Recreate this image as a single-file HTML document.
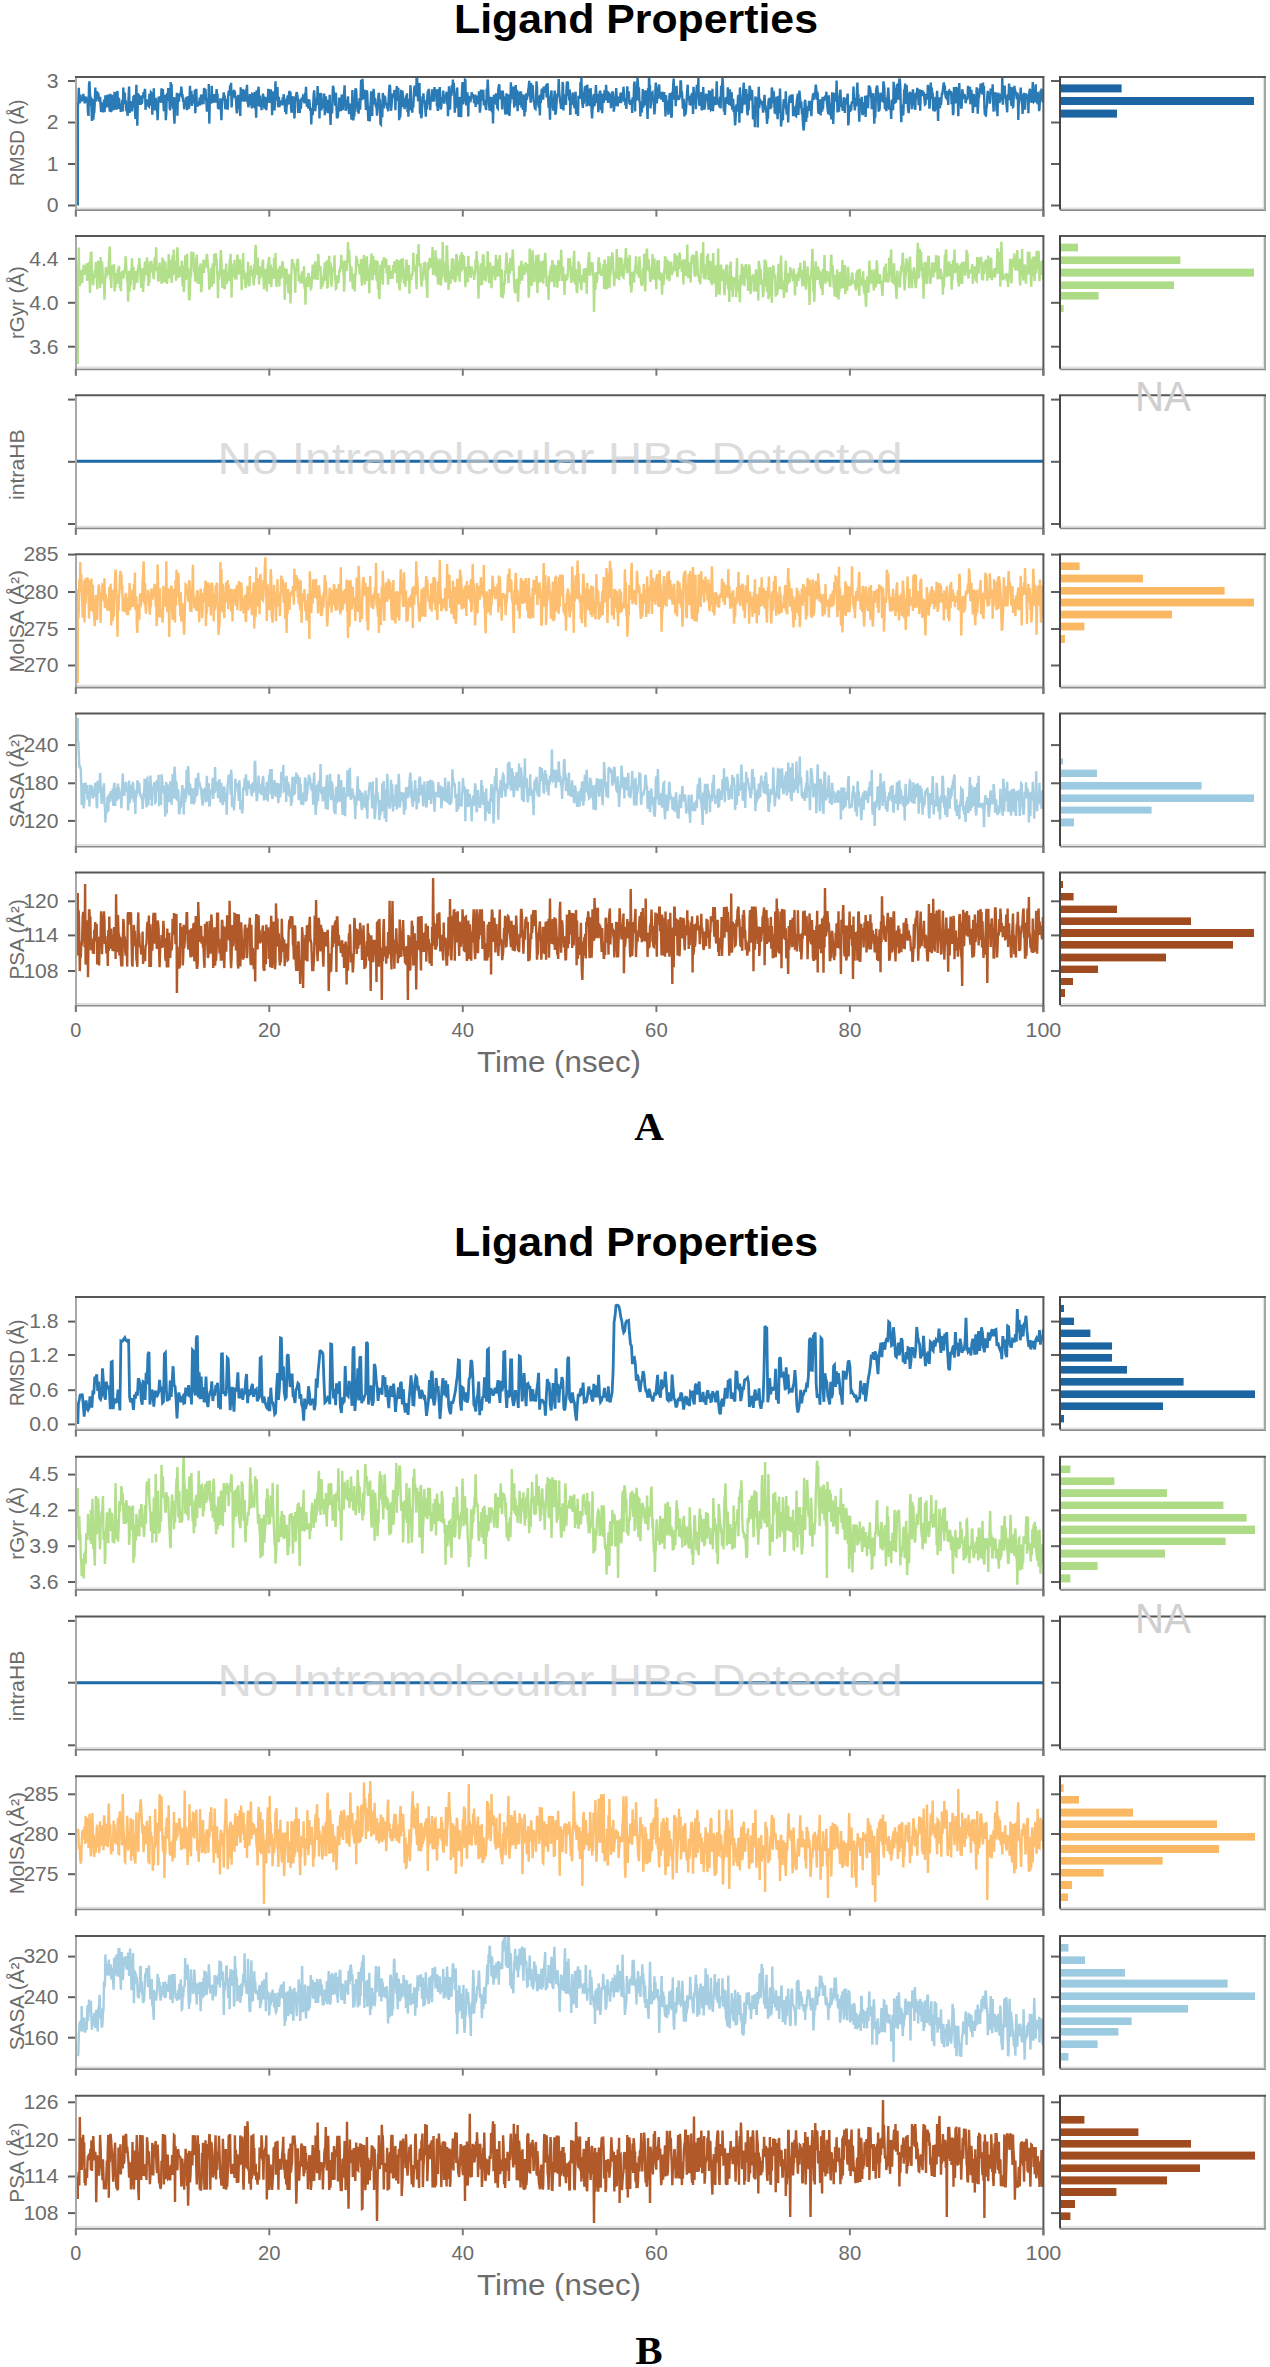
<!DOCTYPE html>
<html><head><meta charset="utf-8"><style>html,body{margin:0;padding:0;background:#fff;width:1270px;height:2367px;overflow:hidden}svg{display:block}</style></head>
<body>
<svg width="1270" height="2367" viewBox="0 0 1270 2367">
<rect x="0" y="0" width="1270" height="2367" fill="#fff"/>
<text x="636.0" y="33.0" font-family='"Liberation Sans", sans-serif' font-size="41" fill="#000" text-anchor="middle" font-weight="bold" textLength="364" lengthAdjust="spacingAndGlyphs">Ligand Properties</text>
<clipPath id="c1"><rect x="76.0" y="77.0" width="967.4000000000001" height="132.6"/></clipPath>
<polyline clip-path="url(#c1)" points="77.8,205.5 77.9,105.6 78.4,102.1 78.8,87.9 79.3,102.1 79.8,103.3 80.3,94.7 80.8,100.5 81.3,99.5 81.7,101.4 82.2,97.6 82.7,100.8 83.2,93.9 83.7,97.1 84.2,96.1 84.6,103.3 85.1,101.7 85.6,101.6 86.1,96.6 86.6,99.5 87.1,101.8 87.5,100.4 88.0,113.2 88.5,115.9 89.0,85.0 89.5,81.3 90.0,94.6 90.4,96.6 90.9,104.0 91.4,106.2 91.9,121.0 92.4,99.9 92.9,100.5 93.3,119.6 93.8,113.5 94.3,112.2 94.8,101.9 95.3,87.5 95.8,100.0 96.2,101.5 96.7,91.4 97.2,92.6 97.7,97.7 98.2,92.6 98.7,97.1 99.1,100.7 99.6,101.1 100.1,96.9 100.6,105.6 101.1,111.8 101.6,110.3 102.0,102.2 102.5,111.9 103.0,103.0 103.5,112.5 104.0,99.6 104.5,111.8 104.9,107.3 105.4,95.2 105.9,100.5 106.4,105.9 106.9,107.3 107.4,98.4 107.8,94.6 108.3,103.7 108.8,101.7 109.3,106.4 109.8,111.6 110.3,93.9 110.7,101.8 111.2,112.2 111.7,102.9 112.2,94.7 112.7,106.0 113.2,105.8 113.6,110.3 114.1,102.1 114.6,91.7 115.1,100.6 115.6,99.3 116.1,109.4 116.5,108.8 117.0,93.3 117.5,91.1 118.0,106.2 118.5,108.9 119.0,97.9 119.4,102.7 119.9,106.9 120.4,108.2 120.9,111.9 121.4,108.9 121.9,104.3 122.3,99.9 122.8,111.4 123.3,87.5 123.8,97.5 124.3,102.1 124.8,92.5 125.2,104.2 125.7,100.2 126.2,111.2 126.7,106.4 127.2,111.4 127.7,115.8 128.1,107.9 128.6,96.1 129.1,86.5 129.6,113.0 130.1,106.8 130.6,101.0 131.0,105.0 131.5,105.6 132.0,111.5 132.5,105.6 133.0,103.5 133.5,96.0 133.9,104.0 134.4,94.7 134.9,107.4 135.4,118.9 135.9,98.7 136.4,84.8 136.8,105.1 137.3,125.8 137.8,102.5 138.3,93.2 138.8,105.0 139.3,97.7 139.7,96.4 140.2,96.9 140.7,104.8 141.2,98.8 141.7,103.8 142.2,101.6 142.6,95.1 143.1,96.2 143.6,92.1 144.1,98.2 144.6,90.9 145.1,88.9 145.5,109.8 146.0,104.0 146.5,100.3 147.0,104.6 147.5,99.5 148.0,100.4 148.4,105.9 148.9,106.4 149.4,93.7 149.9,105.6 150.4,99.0 150.9,92.4 151.3,92.9 151.8,98.2 152.3,114.7 152.8,97.5 153.3,102.9 153.8,88.2 154.2,100.8 154.7,110.3 155.2,104.0 155.7,97.9 156.2,103.2 156.7,108.1 157.1,109.2 157.6,120.3 158.1,108.4 158.6,96.7 159.1,97.7 159.6,97.4 160.0,98.8 160.5,100.5 161.0,102.8 161.5,88.3 162.0,102.6 162.5,95.4 162.9,89.0 163.4,102.8 163.9,111.3 164.4,107.7 164.9,104.0 165.3,94.8 165.8,120.2 166.3,112.7 166.8,94.9 167.3,93.5 167.8,100.8 168.2,88.0 168.7,97.9 169.2,94.5 169.7,107.9 170.2,110.2 170.7,82.0 171.1,94.8 171.6,84.3 172.1,105.9 172.6,104.4 173.1,108.7 173.6,97.0 174.0,115.2 174.5,123.8 175.0,102.3 175.5,106.3 176.0,97.6 176.5,102.0 176.9,92.7 177.4,115.6 177.9,96.4 178.4,97.6 178.9,101.6 179.4,93.7 179.8,96.3 180.3,92.8 180.8,94.0 181.3,86.6 181.8,92.2 182.3,97.7 182.7,97.1 183.2,101.8 183.7,100.7 184.2,109.3 184.7,103.9 185.2,102.7 185.6,99.7 186.1,100.2 186.6,97.0 187.1,110.2 187.6,97.8 188.1,96.5 188.5,105.6 189.0,108.7 189.5,100.8 190.0,85.8 190.5,100.7 191.0,103.8 191.4,91.0 191.9,105.9 192.4,99.8 192.9,94.5 193.4,101.2 193.9,100.6 194.3,103.2 194.8,89.9 195.3,113.3 195.8,100.6 196.3,88.8 196.8,104.0 197.2,101.5 197.7,106.5 198.2,102.1 198.7,103.7 199.2,105.4 199.7,97.5 200.1,105.3 200.6,99.6 201.1,94.5 201.6,99.0 202.1,104.2 202.6,101.1 203.0,94.9 203.5,104.1 204.0,88.2 204.5,88.9 205.0,97.2 205.5,89.1 205.9,98.5 206.4,102.0 206.9,111.8 207.4,100.2 207.9,98.2 208.4,105.0 208.8,83.9 209.3,123.6 209.8,100.9 210.3,95.1 210.8,103.7 211.3,99.8 211.7,85.9 212.2,99.2 212.7,103.0 213.2,95.9 213.7,96.4 214.2,102.5 214.6,94.1 215.1,101.0 215.6,102.4 216.1,96.7 216.6,89.1 217.1,96.2 217.5,93.8 218.0,108.6 218.5,104.4 219.0,109.3 219.5,106.4 220.0,106.0 220.4,98.4 220.9,108.3 221.4,120.3 221.9,105.8 222.4,99.7 222.9,99.5 223.3,96.9 223.8,92.5 224.3,96.8 224.8,95.6 225.3,109.3 225.8,102.1 226.2,103.1 226.7,108.5 227.2,98.7 227.7,109.8 228.2,96.6 228.7,90.7 229.1,93.1 229.6,95.5 230.1,85.4 230.6,93.2 231.1,82.8 231.6,107.5 232.0,101.3 232.5,96.0 233.0,90.4 233.5,95.5 234.0,97.3 234.5,91.5 234.9,91.9 235.4,98.7 235.9,96.2 236.4,108.5 236.9,113.3 237.4,106.4 237.8,108.5 238.3,94.9 238.8,106.3 239.3,103.7 239.8,108.3 240.3,116.0 240.7,87.2 241.2,97.7 241.7,90.5 242.2,101.5 242.7,89.2 243.2,91.7 243.6,97.9 244.1,101.6 244.6,98.8 245.1,91.2 245.6,90.6 246.1,101.5 246.5,97.5 247.0,84.9 247.5,101.6 248.0,103.8 248.5,107.3 249.0,98.7 249.4,105.1 249.9,94.0 250.4,101.6 250.9,96.1 251.4,103.8 251.9,108.4 252.3,94.1 252.8,94.5 253.3,96.9 253.8,106.2 254.3,106.7 254.7,91.8 255.2,100.9 255.7,106.4 256.2,117.8 256.7,90.3 257.2,91.7 257.6,105.9 258.1,90.9 258.6,86.7 259.1,99.6 259.6,106.6 260.1,95.7 260.5,101.7 261.0,100.0 261.5,110.2 262.0,103.2 262.5,106.9 263.0,93.6 263.4,96.0 263.9,98.0 264.4,107.4 264.9,107.1 265.4,96.9 265.9,105.6 266.3,110.1 266.8,103.5 267.3,101.3 267.8,100.3 268.3,88.9 268.8,100.4 269.2,102.5 269.7,92.4 270.2,103.0 270.7,89.4 271.2,93.5 271.7,95.4 272.1,115.3 272.6,91.3 273.1,101.9 273.6,107.8 274.1,104.1 274.6,110.4 275.0,96.2 275.5,81.4 276.0,100.4 276.5,91.5 277.0,94.3 277.5,87.1 277.9,104.3 278.4,107.3 278.9,96.9 279.4,107.0 279.9,102.9 280.4,100.5 280.8,102.5 281.3,100.4 281.8,105.0 282.3,103.8 282.8,97.1 283.3,105.3 283.7,94.2 284.2,99.4 284.7,103.4 285.2,111.9 285.7,98.9 286.2,114.1 286.6,107.3 287.1,101.4 287.6,95.3 288.1,104.4 288.6,102.8 289.1,92.7 289.5,90.9 290.0,93.7 290.5,93.5 291.0,106.6 291.5,112.7 292.0,109.8 292.4,104.4 292.9,96.4 293.4,97.7 293.9,105.3 294.4,118.5 294.9,110.8 295.3,100.8 295.8,97.8 296.3,94.3 296.8,92.1 297.3,95.3 297.8,99.2 298.2,113.0 298.7,104.2 299.2,108.1 299.7,112.9 300.2,99.3 300.7,108.7 301.1,106.1 301.6,97.5 302.1,100.5 302.6,99.7 303.1,96.3 303.6,97.0 304.0,100.4 304.5,103.3 305.0,92.9 305.5,96.6 306.0,86.8 306.5,99.1 306.9,106.8 307.4,103.9 307.9,103.8 308.4,108.5 308.9,99.4 309.4,100.9 309.8,106.0 310.3,110.9 310.8,108.1 311.3,124.5 311.8,107.8 312.3,109.8 312.7,115.2 313.2,104.9 313.7,94.6 314.2,90.3 314.7,100.0 315.2,111.2 315.6,106.9 316.1,103.9 316.6,98.3 317.1,105.1 317.6,86.0 318.1,99.7 318.5,102.5 319.0,93.1 319.5,118.4 320.0,98.0 320.5,95.4 321.0,93.0 321.4,110.5 321.9,99.0 322.4,106.9 322.9,107.2 323.4,106.9 323.9,93.7 324.3,94.7 324.8,115.3 325.3,98.3 325.8,96.3 326.3,101.9 326.8,110.7 327.2,109.0 327.7,113.2 328.2,99.8 328.7,110.7 329.2,111.2 329.7,94.8 330.1,114.2 330.6,125.0 331.1,105.3 331.6,104.6 332.1,113.4 332.6,93.5 333.0,85.7 333.5,88.3 334.0,95.4 334.5,94.3 335.0,104.0 335.5,105.6 335.9,92.5 336.4,104.3 336.9,118.3 337.4,117.1 337.9,116.8 338.4,107.1 338.8,111.8 339.3,97.5 339.8,106.6 340.3,100.6 340.8,111.0 341.2,108.3 341.7,94.6 342.2,100.8 342.7,110.3 343.2,95.7 343.7,95.0 344.1,93.2 344.6,85.2 345.1,102.4 345.6,110.8 346.1,108.1 346.6,102.9 347.0,99.8 347.5,102.8 348.0,96.4 348.5,108.1 349.0,113.0 349.5,113.8 349.9,103.7 350.4,105.0 350.9,103.7 351.4,119.6 351.9,109.1 352.4,90.1 352.8,103.4 353.3,120.4 353.8,115.1 354.3,116.1 354.8,108.4 355.3,90.3 355.7,88.4 356.2,90.5 356.7,100.3 357.2,106.5 357.7,111.8 358.2,104.5 358.6,113.8 359.1,105.0 359.6,98.1 360.1,109.6 360.6,97.1 361.1,79.8 361.5,88.6 362.0,100.3 362.5,78.7 363.0,93.1 363.5,99.2 364.0,91.6 364.4,89.6 364.9,95.9 365.4,97.0 365.9,109.9 366.4,107.3 366.9,90.4 367.3,93.8 367.8,108.0 368.3,121.0 368.8,114.0 369.3,111.3 369.8,121.5 370.2,107.3 370.7,102.7 371.2,91.4 371.7,92.5 372.2,116.0 372.7,94.2 373.1,97.7 373.6,88.8 374.1,96.1 374.6,104.3 375.1,98.0 375.6,104.8 376.0,107.2 376.5,105.7 377.0,115.6 377.5,109.8 378.0,101.2 378.5,95.0 378.9,92.7 379.4,102.4 379.9,99.2 380.4,123.8 380.9,124.4 381.4,108.9 381.8,103.4 382.3,117.2 382.8,92.9 383.3,97.1 383.8,108.5 384.3,95.9 384.7,96.6 385.2,97.4 385.7,104.7 386.2,103.1 386.7,105.6 387.2,108.5 387.6,104.0 388.1,111.3 388.6,100.5 389.1,90.6 389.6,84.9 390.1,86.7 390.5,95.9 391.0,110.8 391.5,106.4 392.0,100.4 392.5,93.5 393.0,96.2 393.4,97.5 393.9,95.3 394.4,90.1 394.9,95.7 395.4,110.3 395.9,89.8 396.3,98.0 396.8,86.0 397.3,100.7 397.8,99.0 398.3,87.7 398.8,101.2 399.2,120.3 399.7,111.9 400.2,117.8 400.7,108.2 401.2,89.9 401.7,104.0 402.1,101.6 402.6,90.9 403.1,106.0 403.6,106.1 404.1,99.7 404.6,109.1 405.0,97.9 405.5,107.2 406.0,95.4 406.5,102.3 407.0,93.2 407.5,112.3 407.9,106.6 408.4,116.8 408.9,100.2 409.4,99.4 409.9,110.2 410.4,85.2 410.8,91.4 411.3,108.3 411.8,108.9 412.3,112.6 412.8,103.2 413.3,107.4 413.7,97.6 414.2,89.2 414.7,85.6 415.2,92.4 415.7,95.3 416.2,95.4 416.6,76.1 417.1,77.1 417.6,91.1 418.1,101.2 418.6,98.3 419.1,96.9 419.5,83.0 420.0,113.8 420.5,96.4 421.0,115.6 421.5,118.3 422.0,109.3 422.4,101.0 422.9,103.0 423.4,93.4 423.9,100.9 424.4,99.9 424.9,103.9 425.3,109.4 425.8,116.6 426.3,102.1 426.8,109.4 427.3,97.6 427.8,91.2 428.2,92.5 428.7,88.8 429.2,101.5 429.7,104.7 430.2,110.1 430.6,101.5 431.1,100.5 431.6,95.6 432.1,89.4 432.6,100.2 433.1,101.5 433.5,91.2 434.0,101.5 434.5,87.1 435.0,95.2 435.5,94.8 436.0,95.3 436.4,89.3 436.9,105.4 437.4,105.9 437.9,111.0 438.4,104.0 438.9,89.1 439.3,93.6 439.8,87.1 440.3,100.7 440.8,109.5 441.3,106.5 441.8,99.2 442.2,97.2 442.7,101.2 443.2,90.5 443.7,100.2 444.2,103.6 444.7,96.7 445.1,94.7 445.6,99.8 446.1,94.8 446.6,91.7 447.1,103.4 447.6,103.4 448.0,116.2 448.5,98.9 449.0,86.4 449.5,102.3 450.0,109.6 450.5,97.3 450.9,89.6 451.4,96.0 451.9,85.1 452.4,92.7 452.9,79.6 453.4,93.1 453.8,83.0 454.3,94.2 454.8,112.6 455.3,102.3 455.8,107.9 456.3,98.5 456.7,93.1 457.2,87.6 457.7,104.9 458.2,103.5 458.7,117.0 459.2,97.2 459.6,98.2 460.1,99.1 460.6,111.0 461.1,117.1 461.6,99.6 462.1,89.2 462.5,82.0 463.0,104.3 463.5,99.9 464.0,94.2 464.5,97.7 465.0,79.8 465.4,80.1 465.9,103.0 466.4,105.1 466.9,103.1 467.4,92.2 467.9,103.7 468.3,116.5 468.8,95.8 469.3,99.6 469.8,97.2 470.3,102.2 470.8,99.6 471.2,98.5 471.7,92.2 472.2,96.8 472.7,94.4 473.2,95.9 473.7,96.5 474.1,103.2 474.6,96.0 475.1,95.8 475.6,107.0 476.1,97.5 476.6,95.5 477.0,104.2 477.5,102.7 478.0,99.9 478.5,101.7 479.0,91.2 479.5,102.9 479.9,112.7 480.4,107.7 480.9,89.5 481.4,99.4 481.9,92.9 482.4,97.8 482.8,100.6 483.3,89.7 483.8,105.5 484.3,100.0 484.8,104.1 485.3,103.1 485.7,108.1 486.2,110.0 486.7,88.9 487.2,94.4 487.7,79.6 488.2,88.9 488.6,99.6 489.1,105.6 489.6,110.7 490.1,97.1 490.6,98.2 491.1,97.3 491.5,107.0 492.0,112.2 492.5,97.1 493.0,123.5 493.5,103.0 494.0,94.8 494.4,100.0 494.9,103.2 495.4,102.0 495.9,93.3 496.4,105.0 496.9,96.9 497.3,107.9 497.8,108.5 498.3,89.1 498.8,86.0 499.3,84.3 499.8,95.8 500.2,96.7 500.7,99.3 501.2,90.5 501.7,98.1 502.2,109.4 502.7,90.6 503.1,94.3 503.6,98.2 504.1,97.5 504.6,98.3 505.1,112.7 505.6,114.5 506.0,108.0 506.5,93.3 507.0,114.3 507.5,107.1 508.0,97.3 508.5,96.2 508.9,94.5 509.4,115.9 509.9,105.2 510.4,101.7 510.9,82.3 511.4,99.2 511.8,90.1 512.3,86.6 512.8,98.4 513.3,90.1 513.8,100.1 514.3,107.6 514.7,86.5 515.2,92.7 515.7,85.0 516.2,95.3 516.7,105.8 517.1,90.1 517.6,111.3 518.1,100.8 518.6,91.6 519.1,96.5 519.6,105.3 520.0,93.2 520.5,101.1 521.0,91.3 521.5,107.6 522.0,104.8 522.5,99.5 522.9,109.9 523.4,94.6 523.9,96.7 524.4,116.4 524.9,104.5 525.4,112.0 525.8,103.8 526.3,93.3 526.8,96.2 527.3,97.1 527.8,94.7 528.3,89.3 528.7,86.9 529.2,80.9 529.7,90.4 530.2,95.8 530.7,102.6 531.2,83.1 531.6,98.9 532.1,96.2 532.6,85.0 533.1,92.4 533.6,101.2 534.1,101.3 534.5,106.1 535.0,108.5 535.5,108.9 536.0,101.2 536.5,81.3 537.0,87.6 537.4,99.7 537.9,95.9 538.4,105.0 538.9,107.5 539.4,102.2 539.9,115.4 540.3,94.5 540.8,103.0 541.3,95.3 541.8,88.5 542.3,98.4 542.8,90.9 543.2,99.7 543.7,86.5 544.2,92.5 544.7,87.9 545.2,88.9 545.7,91.4 546.1,84.5 546.6,97.5 547.1,85.3 547.6,83.4 548.1,98.1 548.6,106.9 549.0,107.6 549.5,104.5 550.0,119.8 550.5,97.0 551.0,93.9 551.5,90.4 551.9,103.7 552.4,101.5 552.9,108.2 553.4,110.4 553.9,103.2 554.4,94.1 554.8,90.6 555.3,114.7 555.8,112.8 556.3,108.2 556.8,98.4 557.3,94.8 557.7,94.0 558.2,94.2 558.7,79.1 559.2,92.5 559.7,97.0 560.2,102.2 560.6,103.8 561.1,109.0 561.6,104.3 562.1,108.8 562.6,81.9 563.1,85.1 563.5,110.5 564.0,94.2 564.5,96.9 565.0,104.3 565.5,94.5 566.0,105.0 566.4,91.8 566.9,81.6 567.4,83.0 567.9,82.9 568.4,94.8 568.9,95.2 569.3,100.4 569.8,89.6 570.3,114.9 570.8,102.3 571.3,99.0 571.8,104.7 572.2,99.2 572.7,92.5 573.2,96.5 573.7,103.7 574.2,106.1 574.7,108.2 575.1,97.9 575.6,91.7 576.1,114.1 576.6,103.3 577.1,106.6 577.6,109.1 578.0,115.9 578.5,95.7 579.0,97.3 579.5,97.4 580.0,98.8 580.5,82.0 580.9,96.3 581.4,77.6 581.9,97.2 582.4,104.1 582.9,107.9 583.4,92.0 583.8,103.7 584.3,94.1 584.8,87.3 585.3,86.9 585.8,87.4 586.3,99.0 586.7,106.5 587.2,84.7 587.7,90.7 588.2,105.1 588.7,104.1 589.2,104.2 589.6,89.0 590.1,106.2 590.6,88.1 591.1,98.3 591.6,110.9 592.1,118.4 592.5,109.5 593.0,107.2 593.5,96.6 594.0,94.0 594.5,106.2 595.0,101.6 595.4,96.2 595.9,85.0 596.4,95.0 596.9,103.1 597.4,93.9 597.9,95.3 598.3,112.1 598.8,106.6 599.3,101.6 599.8,90.9 600.3,91.7 600.8,96.8 601.2,110.3 601.7,98.3 602.2,113.1 602.7,95.5 603.2,93.8 603.7,102.9 604.1,97.6 604.6,90.1 605.1,93.1 605.6,100.5 606.1,84.8 606.5,92.4 607.0,97.0 607.5,94.7 608.0,102.9 608.5,92.8 609.0,93.2 609.4,96.1 609.9,102.3 610.4,95.2 610.9,108.3 611.4,93.6 611.9,106.5 612.3,91.6 612.8,92.3 613.3,97.1 613.8,111.6 614.3,107.6 614.8,96.8 615.2,105.9 615.7,96.7 616.2,88.1 616.7,96.9 617.2,97.1 617.7,106.5 618.1,96.5 618.6,99.5 619.1,103.0 619.6,100.8 620.1,97.8 620.6,92.5 621.0,103.0 621.5,100.5 622.0,100.1 622.5,94.8 623.0,95.3 623.5,86.7 623.9,93.0 624.4,102.0 624.9,98.4 625.4,105.5 625.9,101.5 626.4,109.0 626.8,98.9 627.3,86.3 627.8,99.0 628.3,98.2 628.8,91.3 629.3,101.8 629.7,101.5 630.2,104.8 630.7,100.0 631.2,101.0 631.7,102.1 632.2,113.0 632.6,97.4 633.1,98.4 633.6,101.5 634.1,84.2 634.6,81.4 635.1,111.4 635.5,88.1 636.0,100.7 636.5,91.6 637.0,89.4 637.5,77.9 638.0,83.6 638.4,100.3 638.9,87.3 639.4,100.6 639.9,102.5 640.4,116.4 640.9,101.9 641.3,111.4 641.8,112.4 642.3,104.1 642.8,89.0 643.3,107.6 643.8,91.1 644.2,91.7 644.7,101.4 645.2,105.4 645.7,90.4 646.2,93.2 646.7,92.8 647.1,106.7 647.6,118.9 648.1,88.1 648.6,100.1 649.1,73.7 649.6,88.6 650.0,85.3 650.5,108.4 651.0,102.5 651.5,92.6 652.0,93.3 652.5,92.7 652.9,99.6 653.4,99.5 653.9,105.1 654.4,114.4 654.9,109.0 655.4,91.2 655.8,82.5 656.3,88.1 656.8,103.3 657.3,96.4 657.8,94.2 658.3,98.9 658.7,87.8 659.2,84.5 659.7,97.2 660.2,94.9 660.7,93.2 661.2,99.7 661.6,94.1 662.1,91.9 662.6,93.1 663.1,101.7 663.6,100.7 664.1,92.1 664.5,96.8 665.0,104.2 665.5,116.4 666.0,95.2 666.5,103.0 667.0,100.5 667.4,106.8 667.9,105.4 668.4,114.7 668.9,107.5 669.4,96.3 669.9,93.0 670.3,99.4 670.8,100.5 671.3,117.8 671.8,115.8 672.3,91.9 672.8,96.9 673.2,84.9 673.7,78.5 674.2,96.0 674.7,99.5 675.2,87.2 675.7,106.2 676.1,91.1 676.6,85.8 677.1,97.2 677.6,98.1 678.1,96.4 678.6,96.7 679.0,99.8 679.5,97.2 680.0,96.6 680.5,80.6 681.0,81.6 681.5,97.3 681.9,91.2 682.4,99.2 682.9,108.6 683.4,99.0 683.9,100.4 684.4,116.5 684.8,109.4 685.3,114.8 685.8,112.6 686.3,106.4 686.8,97.0 687.3,88.9 687.7,84.7 688.2,97.7 688.7,100.2 689.2,95.8 689.7,104.9 690.2,95.9 690.6,105.7 691.1,97.7 691.6,94.6 692.1,94.0 692.6,92.9 693.0,113.9 693.5,86.7 694.0,94.7 694.5,104.4 695.0,103.2 695.5,94.2 695.9,109.3 696.4,91.3 696.9,84.8 697.4,97.5 697.9,88.7 698.4,77.8 698.8,99.6 699.3,104.7 699.8,105.8 700.3,97.1 700.8,100.8 701.3,92.1 701.7,110.4 702.2,107.2 702.7,107.5 703.2,87.0 703.7,98.5 704.2,108.5 704.6,108.5 705.1,105.1 705.6,99.6 706.1,93.6 706.6,98.3 707.1,100.8 707.5,99.5 708.0,94.3 708.5,109.6 709.0,90.3 709.5,94.1 710.0,91.1 710.4,104.3 710.9,109.4 711.4,108.7 711.9,105.5 712.4,88.7 712.9,111.1 713.3,106.2 713.8,99.3 714.3,98.1 714.8,96.5 715.3,101.5 715.8,105.0 716.2,99.7 716.7,81.3 717.2,96.4 717.7,102.9 718.2,103.7 718.7,100.3 719.1,102.2 719.6,107.4 720.1,96.5 720.6,108.5 721.1,86.6 721.6,86.3 722.0,88.9 722.5,77.7 723.0,84.8 723.5,106.3 724.0,111.3 724.5,105.2 724.9,114.9 725.4,105.2 725.9,97.4 726.4,100.9 726.9,96.9 727.4,103.8 727.8,87.3 728.3,102.4 728.8,95.9 729.3,105.1 729.8,89.3 730.3,92.9 730.7,98.6 731.2,106.1 731.7,92.4 732.2,109.6 732.7,106.6 733.2,98.7 733.6,112.0 734.1,106.1 734.6,115.1 735.1,125.4 735.6,118.7 736.1,108.3 736.5,104.4 737.0,111.6 737.5,109.3 738.0,96.6 738.5,95.0 739.0,105.6 739.4,122.7 739.9,87.4 740.4,101.8 740.9,99.9 741.4,108.8 741.9,113.1 742.3,106.6 742.8,95.8 743.3,89.0 743.8,82.7 744.3,104.6 744.8,100.0 745.2,98.7 745.7,98.6 746.2,89.0 746.7,99.9 747.2,111.7 747.7,115.3 748.1,93.7 748.6,110.4 749.1,98.2 749.6,85.8 750.1,88.0 750.6,91.4 751.0,100.3 751.5,95.8 752.0,90.0 752.5,98.9 753.0,119.4 753.5,105.5 753.9,107.7 754.4,106.1 754.9,127.3 755.4,96.4 755.9,111.6 756.4,97.5 756.8,99.1 757.3,101.7 757.8,127.6 758.3,101.6 758.8,86.7 759.3,108.2 759.7,98.8 760.2,100.3 760.7,101.4 761.2,104.3 761.7,101.3 762.2,104.3 762.6,106.5 763.1,112.6 763.6,104.9 764.1,99.4 764.6,94.9 765.1,107.8 765.5,105.4 766.0,111.0 766.5,112.7 767.0,123.8 767.5,117.6 768.0,118.5 768.4,102.0 768.9,98.4 769.4,104.2 769.9,97.7 770.4,109.1 770.9,100.1 771.3,107.7 771.8,87.6 772.3,90.2 772.8,99.5 773.3,103.0 773.8,91.2 774.2,102.0 774.7,112.5 775.2,112.8 775.7,100.0 776.2,101.0 776.7,96.6 777.1,109.7 777.6,119.3 778.1,106.3 778.6,95.8 779.1,106.9 779.6,112.9 780.0,88.6 780.5,104.9 781.0,126.5 781.5,122.1 782.0,118.0 782.4,115.8 782.9,120.3 783.4,104.3 783.9,99.2 784.4,108.4 784.9,100.9 785.3,107.1 785.8,91.2 786.3,108.9 786.8,114.6 787.3,109.9 787.8,109.8 788.2,122.4 788.7,105.3 789.2,99.9 789.7,96.0 790.2,100.0 790.7,94.8 791.1,102.6 791.6,101.1 792.1,95.5 792.6,94.5 793.1,116.2 793.6,112.1 794.0,108.3 794.5,108.4 795.0,107.7 795.5,115.5 796.0,116.0 796.5,104.6 796.9,100.5 797.4,96.9 797.9,93.7 798.4,115.0 798.9,103.4 799.4,90.5 799.8,95.2 800.3,100.6 800.8,108.5 801.3,101.5 801.8,111.4 802.3,110.8 802.7,118.1 803.2,126.4 803.7,130.5 804.2,123.8 804.7,102.4 805.2,99.8 805.6,105.5 806.1,121.9 806.6,113.5 807.1,117.8 807.6,106.3 808.1,108.8 808.5,111.2 809.0,100.8 809.5,106.4 810.0,110.6 810.5,100.8 811.0,108.0 811.4,116.1 811.9,104.4 812.4,99.1 812.9,95.5 813.4,93.2 813.9,99.7 814.3,96.0 814.8,93.4 815.3,90.9 815.8,84.6 816.3,89.4 816.8,99.6 817.2,91.8 817.7,94.4 818.2,111.2 818.7,113.8 819.2,100.6 819.7,107.3 820.1,99.3 820.6,115.4 821.1,102.0 821.6,101.9 822.1,111.6 822.6,96.9 823.0,109.1 823.5,97.2 824.0,100.8 824.5,97.6 825.0,96.8 825.5,99.7 825.9,97.9 826.4,91.7 826.9,102.9 827.4,106.5 827.9,111.7 828.4,114.1 828.8,95.3 829.3,111.4 829.8,115.0 830.3,103.4 830.8,112.0 831.3,119.5 831.7,103.4 832.2,92.4 832.7,97.2 833.2,124.1 833.7,109.9 834.2,92.8 834.6,96.6 835.1,92.9 835.6,96.5 836.1,101.7 836.6,80.5 837.1,98.5 837.5,112.4 838.0,103.8 838.5,101.1 839.0,111.8 839.5,96.8 840.0,92.6 840.4,89.6 840.9,99.1 841.4,106.9 841.9,103.7 842.4,108.3 842.9,110.7 843.3,108.2 843.8,97.4 844.3,98.8 844.8,112.9 845.3,98.2 845.8,101.0 846.2,102.5 846.7,104.0 847.2,97.8 847.7,93.6 848.2,125.4 848.7,121.6 849.1,107.7 849.6,107.2 850.1,111.8 850.6,104.5 851.1,110.6 851.6,103.7 852.0,101.5 852.5,103.6 853.0,100.9 853.5,86.5 854.0,100.5 854.5,106.1 854.9,110.4 855.4,97.8 855.9,105.9 856.4,104.8 856.9,91.3 857.4,82.6 857.8,100.9 858.3,94.0 858.8,108.1 859.3,121.7 859.8,103.3 860.3,98.7 860.7,102.1 861.2,109.1 861.7,96.8 862.2,113.4 862.7,115.0 863.2,113.0 863.6,102.4 864.1,111.5 864.6,111.2 865.1,95.9 865.6,116.9 866.1,102.8 866.5,104.2 867.0,95.3 867.5,99.7 868.0,108.2 868.5,96.2 868.9,85.4 869.4,92.4 869.9,86.7 870.4,90.1 870.9,95.4 871.4,98.3 871.8,109.3 872.3,93.2 872.8,98.8 873.3,93.4 873.8,108.3 874.3,123.8 874.7,111.8 875.2,117.7 875.7,102.4 876.2,89.4 876.7,87.2 877.2,85.7 877.6,90.1 878.1,97.8 878.6,110.6 879.1,110.5 879.6,109.2 880.1,99.0 880.5,92.7 881.0,97.1 881.5,97.3 882.0,100.6 882.5,101.0 883.0,96.9 883.4,81.3 883.9,84.7 884.4,88.4 884.9,109.2 885.4,97.9 885.9,104.1 886.3,111.2 886.8,106.7 887.3,99.7 887.8,94.6 888.3,87.6 888.8,97.6 889.2,109.7 889.7,106.2 890.2,107.4 890.7,109.1 891.2,118.9 891.7,100.6 892.1,100.5 892.6,106.0 893.1,110.3 893.6,81.8 894.1,86.7 894.6,92.3 895.0,88.4 895.5,102.1 896.0,101.7 896.5,96.9 897.0,85.1 897.5,84.7 897.9,87.7 898.4,99.6 898.9,88.9 899.4,78.6 899.9,80.1 900.4,88.6 900.8,109.7 901.3,122.3 901.8,104.6 902.3,110.0 902.8,114.4 903.3,115.3 903.7,103.5 904.2,89.6 904.7,92.3 905.2,83.6 905.7,96.3 906.2,103.9 906.6,85.0 907.1,94.3 907.6,100.9 908.1,109.4 908.6,113.1 909.1,108.5 909.5,93.9 910.0,91.8 910.5,103.1 911.0,92.9 911.5,96.2 912.0,109.3 912.4,101.6 912.9,89.4 913.4,94.1 913.9,104.8 914.4,97.4 914.9,107.1 915.3,109.7 915.8,94.7 916.3,92.7 916.8,96.1 917.3,87.7 917.8,99.1 918.2,96.7 918.7,105.1 919.2,96.2 919.7,89.4 920.2,110.6 920.7,94.1 921.1,92.4 921.6,90.1 922.1,93.6 922.6,90.5 923.1,96.1 923.6,92.0 924.0,93.7 924.5,100.4 925.0,104.5 925.5,104.0 926.0,93.9 926.5,99.5 926.9,97.8 927.4,98.7 927.9,84.8 928.4,99.6 928.9,96.1 929.4,108.7 929.8,105.2 930.3,89.3 930.8,82.6 931.3,99.3 931.8,87.5 932.3,97.3 932.7,92.7 933.2,110.8 933.7,100.3 934.2,109.0 934.7,111.5 935.2,99.3 935.6,96.9 936.1,110.1 936.6,100.9 937.1,90.8 937.6,104.5 938.1,121.0 938.5,102.9 939.0,108.5 939.5,97.4 940.0,108.1 940.5,97.3 941.0,104.9 941.4,99.8 941.9,93.7 942.4,93.7 942.9,89.6 943.4,85.0 943.9,82.4 944.3,90.0 944.8,85.2 945.3,94.3 945.8,97.2 946.3,97.9 946.8,91.2 947.2,93.9 947.7,92.8 948.2,105.0 948.7,91.4 949.2,90.6 949.7,91.5 950.1,94.7 950.6,92.0 951.1,91.2 951.6,104.3 952.1,92.9 952.6,102.2 953.0,115.1 953.5,112.5 954.0,87.1 954.5,100.0 955.0,101.4 955.5,103.2 955.9,86.8 956.4,98.5 956.9,87.4 957.4,100.3 957.9,103.6 958.3,116.3 958.8,96.3 959.3,83.0 959.8,99.8 960.3,104.5 960.8,96.1 961.2,108.8 961.7,106.2 962.2,89.3 962.7,91.7 963.2,94.7 963.7,96.5 964.1,99.1 964.6,94.2 965.1,97.0 965.6,103.2 966.1,101.0 966.6,98.3 967.0,98.0 967.5,99.7 968.0,85.8 968.5,96.9 969.0,91.9 969.5,97.6 969.9,86.7 970.4,104.1 970.9,102.6 971.4,89.9 971.9,98.9 972.4,93.4 972.8,113.0 973.3,106.2 973.8,94.0 974.3,101.0 974.8,98.2 975.3,106.9 975.7,103.7 976.2,101.5 976.7,87.2 977.2,97.8 977.7,113.6 978.2,105.0 978.6,98.3 979.1,97.0 979.6,88.1 980.1,93.3 980.6,83.5 981.1,90.2 981.5,87.6 982.0,84.0 982.5,94.8 983.0,82.6 983.5,92.6 984.0,86.0 984.4,107.5 984.9,114.9 985.4,110.4 985.9,116.7 986.4,107.9 986.9,105.8 987.3,96.1 987.8,90.8 988.3,96.4 988.8,94.4 989.3,94.0 989.8,103.7 990.2,100.3 990.7,88.5 991.2,94.1 991.7,90.9 992.2,92.0 992.7,84.4 993.1,101.0 993.6,111.8 994.1,92.0 994.6,99.9 995.1,104.4 995.6,92.2 996.0,99.1 996.5,111.1 997.0,108.8 997.5,116.2 998.0,94.5 998.5,92.8 998.9,99.8 999.4,103.0 999.9,101.3 1000.4,97.0 1000.9,95.1 1001.4,94.0 1001.8,100.3 1002.3,75.5 1002.8,104.8 1003.3,95.4 1003.8,86.0 1004.3,97.2 1004.7,85.6 1005.2,98.3 1005.7,95.4 1006.2,102.9 1006.7,106.6 1007.2,112.3 1007.6,97.9 1008.1,94.2 1008.6,96.6 1009.1,83.6 1009.6,98.5 1010.1,99.7 1010.5,86.7 1011.0,101.6 1011.5,105.9 1012.0,87.3 1012.5,96.6 1013.0,106.8 1013.4,106.4 1013.9,92.9 1014.4,85.8 1014.9,92.5 1015.4,91.7 1015.9,94.2 1016.3,94.4 1016.8,99.4 1017.3,92.5 1017.8,95.2 1018.3,120.0 1018.8,101.5 1019.2,102.0 1019.7,98.7 1020.2,97.0 1020.7,87.5 1021.2,96.0 1021.7,95.8 1022.1,102.8 1022.6,113.9 1023.1,103.9 1023.6,107.2 1024.1,92.8 1024.6,96.4 1025.0,109.7 1025.5,100.3 1026.0,93.3 1026.5,96.9 1027.0,97.4 1027.5,95.8 1027.9,94.7 1028.4,113.2 1028.9,96.0 1029.4,92.0 1029.9,88.7 1030.4,100.2 1030.8,93.4 1031.3,102.8 1031.8,95.5 1032.3,94.4 1032.8,82.1 1033.3,100.2 1033.7,101.8 1034.2,101.2 1034.7,97.1 1035.2,94.4 1035.7,84.3 1036.2,101.2 1036.6,101.8 1037.1,98.4 1037.6,91.9 1038.1,95.8 1038.6,95.4 1039.1,111.1 1039.5,108.6 1040.0,98.2 1040.5,90.7 1041.0,94.3 1041.5,88.7 1042.0,94.7 1042.4,100.7 1042.9,102.4 1043.4,99.7" fill="none" stroke="#2a7ab6" stroke-width="2.4" stroke-linejoin="miter" stroke-miterlimit="3"/>
<line x1="75.0" y1="210.2" x2="1043.4" y2="210.2" stroke="#8c8c8c" stroke-width="1.8"/>
<line x1="77.0" y1="208.3" x2="1042.4" y2="208.3" stroke="#dedede" stroke-width="1.6"/>
<line x1="76.0" y1="77.0" x2="76.0" y2="216.6" stroke="#a9a9a9" stroke-width="2"/>
<line x1="75.0" y1="77.0" x2="1044.4" y2="77.0" stroke="#575757" stroke-width="2"/>
<line x1="1043.4" y1="77.0" x2="1043.4" y2="216.6" stroke="#575757" stroke-width="2"/>
<line x1="1060.0" y1="210.2" x2="1266.0" y2="210.2" stroke="#8c8c8c" stroke-width="1.8"/>
<line x1="1061.0" y1="208.3" x2="1264.0" y2="208.3" stroke="#e2e2e2" stroke-width="1.6"/>
<line x1="1265.0" y1="77.0" x2="1265.0" y2="209.6" stroke="#a5a5a5" stroke-width="2"/>
<line x1="1263.4" y1="78.0" x2="1263.4" y2="208.6" stroke="#e4e4e4" stroke-width="1.2"/>
<line x1="1059.0" y1="77.0" x2="1266.0" y2="77.0" stroke="#575757" stroke-width="2"/>
<line x1="1060.0" y1="77.0" x2="1060.0" y2="209.6" stroke="#454545" stroke-width="2"/>
<rect x="1061.0" y="84.4" width="60.6" height="8.0" fill="#1c65a3"/>
<rect x="1061.0" y="97.0" width="193.0" height="8.0" fill="#1c65a3"/>
<rect x="1061.0" y="109.6" width="56.0" height="8.0" fill="#1c65a3"/>
<line x1="68" y1="81.0" x2="75.0" y2="81.0" stroke="#5e5e5e" stroke-width="2"/>
<line x1="1051" y1="81.0" x2="1059.0" y2="81.0" stroke="#5e5e5e" stroke-width="2"/>
<text x="58.6" y="87.8" font-family='"Liberation Sans", sans-serif' font-size="19.8" fill="#6c6c6c" text-anchor="end" font-weight="normal" textLength="11.8" lengthAdjust="spacingAndGlyphs">3</text>
<line x1="68" y1="122.5" x2="75.0" y2="122.5" stroke="#5e5e5e" stroke-width="2"/>
<line x1="1051" y1="122.5" x2="1059.0" y2="122.5" stroke="#5e5e5e" stroke-width="2"/>
<text x="58.6" y="129.3" font-family='"Liberation Sans", sans-serif' font-size="19.8" fill="#6c6c6c" text-anchor="end" font-weight="normal" textLength="11.8" lengthAdjust="spacingAndGlyphs">2</text>
<line x1="68" y1="164.0" x2="75.0" y2="164.0" stroke="#5e5e5e" stroke-width="2"/>
<line x1="1051" y1="164.0" x2="1059.0" y2="164.0" stroke="#5e5e5e" stroke-width="2"/>
<text x="58.6" y="170.8" font-family='"Liberation Sans", sans-serif' font-size="19.8" fill="#6c6c6c" text-anchor="end" font-weight="normal" textLength="11.8" lengthAdjust="spacingAndGlyphs">1</text>
<line x1="68" y1="205.5" x2="75.0" y2="205.5" stroke="#5e5e5e" stroke-width="2"/>
<line x1="1051" y1="205.5" x2="1059.0" y2="205.5" stroke="#5e5e5e" stroke-width="2"/>
<text x="58.6" y="212.3" font-family='"Liberation Sans", sans-serif' font-size="19.8" fill="#6c6c6c" text-anchor="end" font-weight="normal" textLength="11.8" lengthAdjust="spacingAndGlyphs">0</text>
<line x1="75.8" y1="209.6" x2="75.8" y2="216.6" stroke="#7a7a7a" stroke-width="2"/>
<line x1="269.3" y1="209.6" x2="269.3" y2="216.6" stroke="#7a7a7a" stroke-width="2"/>
<line x1="462.8" y1="209.6" x2="462.8" y2="216.6" stroke="#7a7a7a" stroke-width="2"/>
<line x1="656.4" y1="209.6" x2="656.4" y2="216.6" stroke="#7a7a7a" stroke-width="2"/>
<line x1="849.9" y1="209.6" x2="849.9" y2="216.6" stroke="#7a7a7a" stroke-width="2"/>
<line x1="1043.4" y1="209.6" x2="1043.4" y2="216.6" stroke="#7a7a7a" stroke-width="2"/>
<text transform="translate(24.3,142.8) rotate(-90)" x="0" y="0" font-family='"Liberation Sans", sans-serif' font-size="19.5" fill="#6c6c6c" text-anchor="middle" textLength="86.5" lengthAdjust="spacingAndGlyphs">RMSD (Å)</text>
<clipPath id="c2"><rect x="76.0" y="236.1" width="967.4000000000001" height="132.6"/></clipPath>
<polyline clip-path="url(#c2)" points="77.8,364.0 77.9,267.6 78.4,266.3 78.8,247.6 79.3,280.8 79.8,286.1 80.3,275.1 80.8,283.6 81.3,278.9 81.7,269.9 82.2,282.9 82.7,272.5 83.2,270.0 83.7,264.8 84.2,273.9 84.6,270.7 85.1,274.8 85.6,265.8 86.1,271.4 86.6,263.3 87.1,280.8 87.5,276.3 88.0,275.5 88.5,277.1 89.0,261.7 89.5,275.7 90.0,293.0 90.4,262.6 90.9,252.0 91.4,252.8 91.9,275.1 92.4,275.6 92.9,285.2 93.3,283.4 93.8,276.2 94.3,274.8 94.8,270.1 95.3,277.9 95.8,262.1 96.2,264.0 96.7,272.0 97.2,289.1 97.7,268.6 98.2,260.9 98.7,263.8 99.1,277.7 99.6,270.5 100.1,287.9 100.6,257.0 101.1,278.7 101.6,283.6 102.0,261.3 102.5,269.5 103.0,282.3 103.5,278.7 104.0,284.7 104.5,299.8 104.9,285.4 105.4,275.6 105.9,267.1 106.4,277.5 106.9,271.1 107.4,272.0 107.8,270.8 108.3,275.0 108.8,262.6 109.3,255.4 109.8,246.4 110.3,276.3 110.7,275.9 111.2,288.2 111.7,275.0 112.2,265.2 112.7,275.1 113.2,273.8 113.6,264.6 114.1,265.7 114.6,291.4 115.1,285.5 115.6,285.6 116.1,278.4 116.5,272.7 117.0,283.9 117.5,278.1 118.0,268.5 118.5,272.6 119.0,265.8 119.4,274.9 119.9,288.3 120.4,272.2 120.9,291.2 121.4,274.7 121.9,278.4 122.3,270.8 122.8,276.9 123.3,278.6 123.8,274.3 124.3,270.6 124.8,269.5 125.2,266.3 125.7,256.4 126.2,265.3 126.7,274.7 127.2,281.0 127.7,283.2 128.1,301.6 128.6,283.7 129.1,271.0 129.6,291.7 130.1,271.8 130.6,285.8 131.0,269.4 131.5,276.8 132.0,258.2 132.5,279.6 133.0,275.0 133.5,266.8 133.9,290.0 134.4,287.6 134.9,279.8 135.4,270.9 135.9,273.3 136.4,271.6 136.8,281.1 137.3,282.6 137.8,270.7 138.3,267.4 138.8,268.2 139.3,258.1 139.7,264.9 140.2,271.0 140.7,280.3 141.2,287.8 141.7,270.1 142.2,276.5 142.6,268.1 143.1,291.9 143.6,278.8 144.1,281.8 144.6,266.6 145.1,261.5 145.5,268.9 146.0,267.5 146.5,275.2 147.0,257.3 147.5,275.6 148.0,265.1 148.4,285.9 148.9,273.0 149.4,282.9 149.9,261.4 150.4,272.6 150.9,262.5 151.3,262.2 151.8,267.4 152.3,263.7 152.8,269.7 153.3,275.9 153.8,279.1 154.2,270.9 154.7,258.4 155.2,257.9 155.7,263.2 156.2,247.4 156.7,271.3 157.1,268.2 157.6,266.6 158.1,279.9 158.6,281.3 159.1,275.3 159.6,262.6 160.0,273.4 160.5,276.4 161.0,266.2 161.5,283.8 162.0,281.9 162.5,257.6 162.9,269.2 163.4,260.1 163.9,280.8 164.4,282.2 164.9,264.6 165.3,261.5 165.8,271.0 166.3,269.0 166.8,283.7 167.3,281.5 167.8,269.8 168.2,276.1 168.7,254.1 169.2,268.4 169.7,278.1 170.2,270.0 170.7,259.7 171.1,268.2 171.6,282.9 172.1,272.1 172.6,255.2 173.1,275.4 173.6,249.5 174.0,267.1 174.5,261.0 175.0,273.2 175.5,260.8 176.0,280.6 176.5,275.7 176.9,255.6 177.4,247.2 177.9,260.1 178.4,277.8 178.9,272.2 179.4,270.1 179.8,266.0 180.3,276.4 180.8,274.3 181.3,273.5 181.8,260.7 182.3,280.0 182.7,286.1 183.2,265.3 183.7,292.1 184.2,286.4 184.7,273.6 185.2,255.3 185.6,275.2 186.1,279.8 186.6,269.2 187.1,253.8 187.6,277.7 188.1,270.4 188.5,267.8 189.0,299.1 189.5,299.2 190.0,290.4 190.5,272.3 191.0,277.3 191.4,251.6 191.9,265.2 192.4,261.2 192.9,257.0 193.4,252.4 193.9,271.1 194.3,272.0 194.8,273.0 195.3,281.7 195.8,268.1 196.3,260.8 196.8,254.6 197.2,267.4 197.7,283.4 198.2,278.8 198.7,284.0 199.2,267.3 199.7,269.7 200.1,267.5 200.6,263.3 201.1,292.3 201.6,289.9 202.1,275.5 202.6,268.7 203.0,272.4 203.5,259.5 204.0,272.9 204.5,260.7 205.0,265.8 205.5,261.3 205.9,267.5 206.4,259.2 206.9,253.8 207.4,258.8 207.9,264.2 208.4,270.1 208.8,274.6 209.3,289.6 209.8,287.0 210.3,277.0 210.8,281.7 211.3,267.9 211.7,286.6 212.2,282.3 212.7,263.2 213.2,279.4 213.7,283.9 214.2,254.0 214.6,260.6 215.1,265.7 215.6,253.0 216.1,258.4 216.6,259.4 217.1,273.9 217.5,275.6 218.0,298.2 218.5,274.0 219.0,279.9 219.5,273.1 220.0,273.5 220.4,260.0 220.9,250.0 221.4,259.2 221.9,274.6 222.4,288.0 222.9,284.1 223.3,282.4 223.8,269.2 224.3,288.0 224.8,289.1 225.3,271.4 225.8,271.5 226.2,263.6 226.7,284.2 227.2,279.1 227.7,272.6 228.2,277.5 228.7,281.3 229.1,274.0 229.6,262.5 230.1,259.3 230.6,253.9 231.1,275.4 231.6,297.6 232.0,266.1 232.5,273.5 233.0,276.7 233.5,263.5 234.0,270.8 234.5,259.8 234.9,279.4 235.4,267.8 235.9,271.9 236.4,279.6 236.9,270.7 237.4,254.6 237.8,259.3 238.3,274.2 238.8,271.7 239.3,272.3 239.8,259.2 240.3,265.8 240.7,274.8 241.2,271.2 241.7,290.2 242.2,272.9 242.7,263.8 243.2,253.1 243.6,275.2 244.1,270.7 244.6,278.2 245.1,278.2 245.6,287.6 246.1,286.7 246.5,272.9 247.0,276.0 247.5,282.6 248.0,261.7 248.5,281.4 249.0,285.0 249.4,286.1 249.9,275.2 250.4,277.4 250.9,265.5 251.4,272.5 251.9,269.8 252.3,274.8 252.8,269.2 253.3,277.2 253.8,285.5 254.3,264.6 254.7,278.8 255.2,253.4 255.7,244.9 256.2,262.8 256.7,269.8 257.2,274.9 257.6,257.8 258.1,267.7 258.6,274.0 259.1,284.4 259.6,275.4 260.1,278.8 260.5,266.4 261.0,268.9 261.5,267.5 262.0,276.6 262.5,262.5 263.0,259.6 263.4,274.3 263.9,289.2 264.4,277.7 264.9,276.1 265.4,268.7 265.9,280.9 266.3,280.7 266.8,291.5 267.3,281.0 267.8,265.0 268.3,264.3 268.8,259.5 269.2,256.9 269.7,282.2 270.2,283.9 270.7,264.5 271.2,287.2 271.7,280.3 272.1,267.7 272.6,278.2 273.1,277.3 273.6,270.4 274.1,257.9 274.6,271.0 275.0,278.9 275.5,252.9 276.0,278.1 276.5,287.0 277.0,277.8 277.5,280.2 277.9,277.9 278.4,268.6 278.9,269.5 279.4,286.4 279.9,265.9 280.4,275.7 280.8,279.3 281.3,270.6 281.8,270.9 282.3,261.4 282.8,262.9 283.3,272.6 283.7,277.8 284.2,267.8 284.7,299.7 285.2,276.2 285.7,274.8 286.2,270.5 286.6,268.8 287.1,284.2 287.6,273.7 288.1,289.6 288.6,293.3 289.1,274.3 289.5,288.7 290.0,276.2 290.5,303.4 291.0,281.6 291.5,271.2 292.0,259.2 292.4,260.0 292.9,267.3 293.4,266.5 293.9,263.2 294.4,269.2 294.9,274.6 295.3,292.7 295.8,268.2 296.3,270.6 296.8,267.5 297.3,261.6 297.8,258.7 298.2,263.0 298.7,281.2 299.2,277.7 299.7,274.7 300.2,282.4 300.7,282.4 301.1,277.7 301.6,281.1 302.1,271.4 302.6,282.1 303.1,282.7 303.6,275.7 304.0,266.3 304.5,288.6 305.0,282.3 305.5,304.8 306.0,282.0 306.5,286.1 306.9,277.1 307.4,281.0 307.9,286.9 308.4,272.9 308.9,276.2 309.4,279.3 309.8,278.9 310.3,283.9 310.8,288.8 311.3,288.2 311.8,281.0 312.3,273.1 312.7,264.8 313.2,265.8 313.7,268.1 314.2,279.5 314.7,273.0 315.2,261.2 315.6,279.5 316.1,269.3 316.6,265.4 317.1,270.8 317.6,279.9 318.1,254.0 318.5,256.7 319.0,269.1 319.5,270.8 320.0,266.2 320.5,267.3 321.0,289.2 321.4,277.0 321.9,283.3 322.4,286.7 322.9,276.0 323.4,283.1 323.9,273.9 324.3,270.7 324.8,262.4 325.3,280.6 325.8,272.8 326.3,268.4 326.8,260.3 327.2,287.2 327.7,286.9 328.2,276.8 328.7,267.5 329.2,255.8 329.7,270.5 330.1,273.2 330.6,262.5 331.1,282.3 331.6,286.6 332.1,270.8 332.6,268.0 333.0,266.9 333.5,272.5 334.0,270.4 334.5,255.2 335.0,278.4 335.5,278.0 335.9,288.7 336.4,288.2 336.9,275.2 337.4,278.1 337.9,282.0 338.4,283.3 338.8,276.2 339.3,269.5 339.8,272.2 340.3,267.2 340.8,266.5 341.2,254.7 341.7,269.4 342.2,260.5 342.7,263.2 343.2,270.0 343.7,275.2 344.1,291.6 344.6,278.5 345.1,260.5 345.6,266.7 346.1,264.0 346.6,271.1 347.0,263.1 347.5,259.5 348.0,242.0 348.5,262.5 349.0,249.7 349.5,258.0 349.9,266.0 350.4,281.7 350.9,269.9 351.4,266.2 351.9,275.9 352.4,280.5 352.8,289.0 353.3,281.3 353.8,273.6 354.3,287.1 354.8,291.4 355.3,274.9 355.7,274.5 356.2,255.9 356.7,261.8 357.2,259.2 357.7,266.5 358.2,265.4 358.6,265.3 359.1,265.9 359.6,273.4 360.1,273.4 360.6,266.4 361.1,259.1 361.5,278.7 362.0,285.7 362.5,274.2 363.0,280.2 363.5,261.3 364.0,255.1 364.4,262.9 364.9,284.5 365.4,263.7 365.9,258.4 366.4,281.0 366.9,256.3 367.3,271.8 367.8,275.6 368.3,269.6 368.8,271.8 369.3,293.4 369.8,267.2 370.2,264.3 370.7,265.2 371.2,258.3 371.7,253.4 372.2,280.2 372.7,277.5 373.1,256.2 373.6,260.7 374.1,271.6 374.6,274.8 375.1,260.2 375.6,266.6 376.0,272.8 376.5,278.3 377.0,280.9 377.5,260.5 378.0,289.2 378.5,280.1 378.9,294.2 379.4,299.2 379.9,283.7 380.4,264.9 380.9,278.9 381.4,272.6 381.8,268.3 382.3,260.7 382.8,284.8 383.3,270.1 383.8,257.2 384.3,262.8 384.7,258.0 385.2,267.6 385.7,265.7 386.2,258.8 386.7,273.5 387.2,266.0 387.6,275.3 388.1,284.7 388.6,270.7 389.1,265.2 389.6,269.7 390.1,279.0 390.5,273.3 391.0,271.8 391.5,270.7 392.0,273.2 392.5,278.8 393.0,268.1 393.4,265.2 393.9,269.5 394.4,261.4 394.9,266.7 395.4,273.3 395.9,270.7 396.3,263.3 396.8,259.4 397.3,283.0 397.8,281.0 398.3,262.4 398.8,260.4 399.2,285.4 399.7,290.5 400.2,276.8 400.7,282.3 401.2,259.1 401.7,268.7 402.1,278.7 402.6,258.4 403.1,261.3 403.6,278.3 404.1,283.9 404.6,270.0 405.0,271.2 405.5,286.6 406.0,272.0 406.5,259.6 407.0,267.3 407.5,265.3 407.9,280.6 408.4,274.5 408.9,265.0 409.4,293.8 409.9,273.7 410.4,276.4 410.8,278.6 411.3,280.0 411.8,274.3 412.3,275.8 412.8,269.8 413.3,252.7 413.7,262.2 414.2,265.2 414.7,268.2 415.2,271.7 415.7,265.6 416.2,282.2 416.6,289.2 417.1,254.0 417.6,264.0 418.1,262.3 418.6,244.3 419.1,266.3 419.5,264.5 420.0,264.6 420.5,264.5 421.0,279.1 421.5,286.6 422.0,279.2 422.4,281.0 422.9,272.7 423.4,272.7 423.9,262.9 424.4,266.6 424.9,261.7 425.3,273.7 425.8,279.8 426.3,278.8 426.8,286.3 427.3,298.0 427.8,262.2 428.2,270.6 428.7,267.5 429.2,266.9 429.7,257.7 430.2,267.2 430.6,267.0 431.1,265.5 431.6,264.7 432.1,262.5 432.6,247.0 433.1,275.0 433.5,270.9 434.0,262.3 434.5,273.1 435.0,267.4 435.5,250.3 436.0,276.2 436.4,257.4 436.9,262.6 437.4,269.5 437.9,283.0 438.4,284.3 438.9,274.6 439.3,261.6 439.8,258.7 440.3,274.8 440.8,285.6 441.3,280.1 441.8,265.7 442.2,277.6 442.7,242.0 443.2,263.7 443.7,262.2 444.2,271.5 444.7,272.1 445.1,279.4 445.6,282.3 446.1,275.1 446.6,246.6 447.1,245.7 447.6,264.8 448.0,267.9 448.5,289.9 449.0,277.9 449.5,271.3 450.0,280.7 450.5,283.7 450.9,270.9 451.4,273.6 451.9,259.8 452.4,258.4 452.9,279.1 453.4,259.3 453.8,275.5 454.3,279.0 454.8,280.9 455.3,281.2 455.8,278.5 456.3,254.0 456.7,255.3 457.2,260.4 457.7,276.4 458.2,262.6 458.7,261.4 459.2,263.7 459.6,281.6 460.1,260.0 460.6,255.0 461.1,272.1 461.6,252.3 462.1,269.6 462.5,267.2 463.0,254.7 463.5,260.1 464.0,256.1 464.5,267.9 465.0,274.0 465.4,287.2 465.9,276.1 466.4,272.5 466.9,266.7 467.4,270.3 467.9,282.3 468.3,255.9 468.8,271.8 469.3,265.5 469.8,270.5 470.3,272.0 470.8,277.9 471.2,272.4 471.7,266.5 472.2,271.7 472.7,272.6 473.2,270.9 473.7,272.8 474.1,280.0 474.6,274.3 475.1,272.7 475.6,259.5 476.1,266.1 476.6,251.1 477.0,269.5 477.5,260.5 478.0,279.2 478.5,298.4 479.0,277.2 479.5,285.5 479.9,279.7 480.4,267.9 480.9,263.4 481.4,274.8 481.9,285.1 482.4,277.9 482.8,256.4 483.3,254.4 483.8,261.8 484.3,279.8 484.8,275.2 485.3,273.7 485.7,281.5 486.2,267.8 486.7,266.3 487.2,266.0 487.7,251.3 488.2,270.4 488.6,275.9 489.1,283.1 489.6,264.3 490.1,262.3 490.6,279.3 491.1,280.2 491.5,288.1 492.0,269.0 492.5,274.7 493.0,265.8 493.5,273.1 494.0,265.8 494.4,273.8 494.9,279.8 495.4,279.0 495.9,254.7 496.4,275.2 496.9,276.5 497.3,262.2 497.8,259.3 498.3,268.0 498.8,276.3 499.3,268.9 499.8,255.1 500.2,269.5 500.7,274.2 501.2,297.0 501.7,269.3 502.2,295.6 502.7,298.1 503.1,285.3 503.6,294.5 504.1,282.1 504.6,284.9 505.1,270.2 505.6,273.3 506.0,261.2 506.5,252.6 507.0,263.4 507.5,262.7 508.0,274.2 508.5,283.2 508.9,272.9 509.4,271.4 509.9,273.1 510.4,257.8 510.9,268.3 511.4,269.7 511.8,269.6 512.3,259.3 512.8,249.5 513.3,262.2 513.8,274.3 514.3,287.8 514.7,290.1 515.2,293.2 515.7,284.6 516.2,289.4 516.7,278.9 517.1,283.2 517.6,287.9 518.1,301.6 518.6,288.3 519.1,265.7 519.6,284.2 520.0,269.1 520.5,270.1 521.0,267.0 521.5,260.5 522.0,280.5 522.5,276.6 522.9,264.5 523.4,269.1 523.9,265.1 524.4,274.8 524.9,268.9 525.4,262.5 525.8,263.3 526.3,265.9 526.8,272.3 527.3,264.1 527.8,270.7 528.3,276.1 528.7,297.7 529.2,289.4 529.7,248.6 530.2,259.5 530.7,262.8 531.2,272.0 531.6,285.9 532.1,281.9 532.6,250.3 533.1,266.1 533.6,267.9 534.1,270.7 534.5,282.2 535.0,262.6 535.5,277.0 536.0,255.4 536.5,266.0 537.0,272.1 537.4,293.1 537.9,271.7 538.4,254.6 538.9,271.0 539.4,262.6 539.9,282.5 540.3,266.9 540.8,261.3 541.3,280.6 541.8,274.3 542.3,281.3 542.8,260.6 543.2,283.8 543.7,269.9 544.2,277.4 544.7,260.8 545.2,252.9 545.7,263.1 546.1,269.9 546.6,286.8 547.1,282.1 547.6,287.0 548.1,282.3 548.6,299.9 549.0,275.5 549.5,283.2 550.0,270.5 550.5,271.4 551.0,266.3 551.5,281.8 551.9,266.1 552.4,260.2 552.9,269.5 553.4,264.8 553.9,280.8 554.4,287.2 554.8,272.4 555.3,276.9 555.8,266.5 556.3,266.9 556.8,267.9 557.3,287.8 557.7,276.4 558.2,261.9 558.7,260.2 559.2,281.3 559.7,260.7 560.2,267.1 560.6,270.8 561.1,249.7 561.6,263.2 562.1,280.9 562.6,277.6 563.1,266.5 563.5,277.3 564.0,279.8 564.5,294.9 565.0,275.4 565.5,275.5 566.0,277.6 566.4,276.7 566.9,278.9 567.4,278.2 567.9,271.7 568.4,258.0 568.9,265.2 569.3,259.9 569.8,259.7 570.3,265.2 570.8,276.3 571.3,282.9 571.8,266.3 572.2,274.0 572.7,281.7 573.2,276.0 573.7,259.0 574.2,250.7 574.7,276.9 575.1,284.3 575.6,283.0 576.1,269.3 576.6,291.0 577.1,293.0 577.6,282.0 578.0,278.7 578.5,261.3 579.0,281.3 579.5,263.5 580.0,279.4 580.5,284.1 580.9,278.1 581.4,290.2 581.9,274.7 582.4,278.0 582.9,282.1 583.4,276.0 583.8,268.5 584.3,282.5 584.8,277.8 585.3,269.8 585.8,268.5 586.3,270.5 586.7,293.8 587.2,277.2 587.7,269.8 588.2,261.8 588.7,257.1 589.2,252.1 589.6,272.9 590.1,275.6 590.6,268.6 591.1,261.7 591.6,270.6 592.1,270.5 592.5,262.3 593.0,274.5 593.5,276.6 594.0,312.0 594.5,286.0 595.0,273.4 595.4,289.9 595.9,272.1 596.4,277.7 596.9,282.8 597.4,273.4 597.9,275.2 598.3,261.8 598.8,257.3 599.3,266.1 599.8,262.9 600.3,273.5 600.8,271.1 601.2,275.6 601.7,273.5 602.2,270.5 602.7,271.7 603.2,266.9 603.7,264.2 604.1,289.1 604.6,259.5 605.1,267.0 605.6,281.6 606.1,281.1 606.5,289.4 607.0,284.6 607.5,264.0 608.0,265.9 608.5,256.4 609.0,276.1 609.4,288.2 609.9,272.5 610.4,275.6 610.9,268.4 611.4,256.1 611.9,262.5 612.3,252.4 612.8,258.7 613.3,268.8 613.8,277.4 614.3,286.2 614.8,273.7 615.2,273.2 615.7,275.8 616.2,278.7 616.7,249.0 617.2,260.2 617.7,277.7 618.1,264.5 618.6,273.2 619.1,280.1 619.6,257.3 620.1,267.7 620.6,276.0 621.0,272.9 621.5,257.7 622.0,268.7 622.5,264.8 623.0,277.0 623.5,277.5 623.9,267.2 624.4,269.1 624.9,260.7 625.4,258.5 625.9,248.1 626.4,257.7 626.8,273.3 627.3,269.0 627.8,268.1 628.3,259.3 628.8,259.1 629.3,272.8 629.7,255.1 630.2,285.8 630.7,276.5 631.2,292.5 631.7,288.0 632.2,271.7 632.6,277.7 633.1,276.8 633.6,277.9 634.1,282.7 634.6,271.8 635.1,267.5 635.5,267.8 636.0,256.4 636.5,264.1 637.0,271.4 637.5,273.7 638.0,273.5 638.4,268.8 638.9,277.8 639.4,256.6 639.9,266.1 640.4,270.2 640.9,281.5 641.3,284.1 641.8,285.9 642.3,278.4 642.8,283.5 643.3,268.0 643.8,273.6 644.2,253.7 644.7,283.4 645.2,291.4 645.7,270.9 646.2,262.1 646.7,249.6 647.1,249.6 647.6,269.1 648.1,269.7 648.6,259.0 649.1,266.4 649.6,267.7 650.0,278.8 650.5,282.0 651.0,276.1 651.5,278.4 652.0,277.6 652.5,254.0 652.9,270.8 653.4,271.7 653.9,279.6 654.4,258.2 654.9,278.3 655.4,270.9 655.8,276.3 656.3,289.1 656.8,267.1 657.3,260.7 657.8,279.1 658.3,265.0 658.7,260.1 659.2,276.3 659.7,273.0 660.2,280.3 660.7,278.8 661.2,272.5 661.6,281.1 662.1,294.6 662.6,274.2 663.1,283.4 663.6,283.5 664.1,272.0 664.5,272.1 665.0,257.5 665.5,257.6 666.0,264.4 666.5,265.6 667.0,279.4 667.4,259.6 667.9,265.3 668.4,262.7 668.9,266.5 669.4,281.3 669.9,261.9 670.3,274.0 670.8,263.4 671.3,261.8 671.8,275.3 672.3,266.8 672.8,273.0 673.2,271.1 673.7,268.2 674.2,267.5 674.7,253.4 675.2,257.1 675.7,268.6 676.1,271.2 676.6,255.3 677.1,275.9 677.6,277.0 678.1,260.5 678.6,256.2 679.0,269.1 679.5,252.5 680.0,255.5 680.5,262.6 681.0,263.6 681.5,265.9 681.9,272.0 682.4,261.8 682.9,261.3 683.4,284.5 683.9,260.1 684.4,261.6 684.8,267.8 685.3,259.2 685.8,275.8 686.3,269.5 686.8,274.0 687.3,244.4 687.7,271.4 688.2,278.0 688.7,261.8 689.2,274.7 689.7,270.4 690.2,274.7 690.6,282.5 691.1,270.2 691.6,256.6 692.1,264.1 692.6,254.5 693.0,255.9 693.5,256.5 694.0,255.1 694.5,273.8 695.0,276.5 695.5,259.3 695.9,274.9 696.4,250.9 696.9,255.7 697.4,261.2 697.9,276.4 698.4,275.6 698.8,274.5 699.3,282.0 699.8,278.2 700.3,284.3 700.8,265.5 701.3,253.0 701.7,258.4 702.2,271.5 702.7,272.7 703.2,242.0 703.7,278.5 704.2,276.4 704.6,279.4 705.1,269.0 705.6,279.2 706.1,264.1 706.6,267.8 707.1,255.8 707.5,269.4 708.0,253.6 708.5,279.9 709.0,262.3 709.5,270.7 710.0,269.8 710.4,260.9 710.9,283.0 711.4,272.6 711.9,285.3 712.4,267.3 712.9,264.8 713.3,253.0 713.8,274.4 714.3,283.7 714.8,279.8 715.3,272.0 715.8,265.4 716.2,296.8 716.7,290.7 717.2,264.5 717.7,269.6 718.2,248.5 718.7,281.1 719.1,293.2 719.6,293.5 720.1,280.9 720.6,271.4 721.1,264.6 721.6,281.3 722.0,270.6 722.5,271.1 723.0,270.7 723.5,272.4 724.0,286.1 724.5,295.2 724.9,285.7 725.4,279.3 725.9,267.4 726.4,265.8 726.9,265.8 727.4,284.0 727.8,284.7 728.3,289.3 728.8,284.8 729.3,302.0 729.8,265.0 730.3,268.4 730.7,261.6 731.2,290.3 731.7,283.4 732.2,276.5 732.7,296.9 733.2,278.7 733.6,283.7 734.1,277.3 734.6,284.3 735.1,281.1 735.6,286.0 736.1,297.3 736.5,273.6 737.0,258.1 737.5,287.6 738.0,284.1 738.5,291.2 739.0,279.6 739.4,295.0 739.9,302.2 740.4,274.7 740.9,285.6 741.4,276.4 741.9,263.7 742.3,272.6 742.8,284.1 743.3,270.2 743.8,266.4 744.3,286.1 744.8,277.7 745.2,279.2 745.7,264.3 746.2,265.6 746.7,272.6 747.2,274.8 747.7,277.8 748.1,290.9 748.6,283.7 749.1,264.3 749.6,268.0 750.1,278.5 750.6,294.3 751.0,281.5 751.5,280.5 752.0,281.6 752.5,276.5 753.0,274.5 753.5,278.7 753.9,291.5 754.4,289.8 754.9,282.4 755.4,286.8 755.9,269.2 756.4,286.3 756.8,291.6 757.3,289.2 757.8,270.9 758.3,300.4 758.8,260.8 759.3,265.2 759.7,267.5 760.2,284.8 760.7,269.2 761.2,282.1 761.7,280.8 762.2,279.2 762.6,287.9 763.1,297.2 763.6,290.4 764.1,281.2 764.6,259.6 765.1,286.4 765.5,279.3 766.0,260.6 766.5,274.1 767.0,291.8 767.5,282.3 768.0,267.6 768.4,299.2 768.9,293.9 769.4,290.6 769.9,296.5 770.4,266.9 770.9,279.0 771.3,279.8 771.8,302.7 772.3,282.5 772.8,276.4 773.3,265.4 773.8,270.2 774.2,274.5 774.7,277.2 775.2,274.1 775.7,296.8 776.2,288.8 776.7,288.2 777.1,295.0 777.6,290.1 778.1,277.3 778.6,263.8 779.1,278.0 779.6,268.8 780.0,289.3 780.5,273.5 781.0,255.6 781.5,272.8 782.0,289.6 782.4,280.5 782.9,282.8 783.4,283.5 783.9,298.0 784.4,288.5 784.9,282.3 785.3,273.3 785.8,260.5 786.3,285.4 786.8,292.5 787.3,272.8 787.8,281.3 788.2,281.8 788.7,275.5 789.2,273.6 789.7,282.4 790.2,267.3 790.7,270.2 791.1,272.7 791.6,276.1 792.1,273.0 792.6,277.8 793.1,281.4 793.6,268.5 794.0,276.0 794.5,273.8 795.0,295.4 795.5,274.1 796.0,278.3 796.5,286.5 796.9,279.1 797.4,276.4 797.9,272.6 798.4,280.9 798.9,267.9 799.4,276.7 799.8,277.9 800.3,262.7 800.8,274.5 801.3,269.9 801.8,277.3 802.3,286.2 802.7,284.6 803.2,270.5 803.7,278.9 804.2,260.8 804.7,262.4 805.2,286.7 805.6,276.9 806.1,289.7 806.6,278.3 807.1,276.0 807.6,266.2 808.1,281.2 808.5,275.5 809.0,281.2 809.5,305.0 810.0,282.8 810.5,279.7 811.0,274.9 811.4,272.5 811.9,263.8 812.4,248.7 812.9,268.8 813.4,291.3 813.9,291.5 814.3,301.6 814.8,287.5 815.3,269.6 815.8,261.2 816.3,276.4 816.8,279.1 817.2,272.8 817.7,279.9 818.2,266.6 818.7,274.2 819.2,270.3 819.7,273.3 820.1,285.2 820.6,275.7 821.1,285.6 821.6,289.5 822.1,271.6 822.6,295.1 823.0,268.7 823.5,273.2 824.0,279.9 824.5,255.0 825.0,277.0 825.5,283.6 825.9,274.1 826.4,274.3 826.9,273.3 827.4,270.9 827.9,281.5 828.4,272.8 828.8,275.3 829.3,280.6 829.8,284.7 830.3,287.0 830.8,263.7 831.3,254.5 831.7,269.0 832.2,273.6 832.7,265.6 833.2,277.9 833.7,285.6 834.2,285.1 834.6,296.3 835.1,274.7 835.6,278.7 836.1,297.3 836.6,288.6 837.1,269.5 837.5,275.6 838.0,287.0 838.5,299.4 839.0,288.7 839.5,291.8 840.0,272.1 840.4,275.0 840.9,288.5 841.4,271.7 841.9,276.2 842.4,259.7 842.9,288.2 843.3,279.1 843.8,283.7 844.3,267.1 844.8,265.1 845.3,294.1 845.8,281.9 846.2,279.3 846.7,289.0 847.2,290.6 847.7,266.9 848.2,269.1 848.7,279.2 849.1,280.7 849.6,286.1 850.1,282.0 850.6,282.6 851.1,285.4 851.6,278.2 852.0,272.6 852.5,274.0 853.0,281.6 853.5,283.5 854.0,280.6 854.5,281.6 854.9,283.0 855.4,286.8 855.9,290.4 856.4,272.7 856.9,287.4 857.4,269.8 857.8,287.1 858.3,276.7 858.8,287.6 859.3,295.8 859.8,268.8 860.3,283.9 860.7,285.6 861.2,278.3 861.7,285.3 862.2,277.2 862.7,282.5 863.2,271.2 863.6,288.0 864.1,291.1 864.6,294.0 865.1,280.0 865.6,299.9 866.1,306.8 866.5,289.7 867.0,280.1 867.5,276.4 868.0,286.3 868.5,292.8 868.9,277.3 869.4,260.6 869.9,277.3 870.4,277.6 870.9,278.8 871.4,284.2 871.8,269.7 872.3,277.5 872.8,274.1 873.3,279.7 873.8,290.4 874.3,280.5 874.7,269.4 875.2,286.3 875.7,287.1 876.2,279.5 876.7,260.3 877.2,264.5 877.6,275.9 878.1,283.8 878.6,274.7 879.1,281.5 879.6,274.4 880.1,275.8 880.5,283.9 881.0,280.9 881.5,283.0 882.0,289.9 882.5,295.8 883.0,280.5 883.4,281.8 883.9,270.3 884.4,267.0 884.9,282.1 885.4,278.5 885.9,263.5 886.3,281.7 886.8,272.8 887.3,274.2 887.8,281.6 888.3,281.6 888.8,278.6 889.2,257.8 889.7,275.8 890.2,268.8 890.7,258.7 891.2,249.5 891.7,281.9 892.1,280.3 892.6,279.8 893.1,283.6 893.6,278.3 894.1,263.4 894.6,279.1 895.0,285.4 895.5,282.7 896.0,289.9 896.5,298.9 897.0,275.1 897.5,270.6 897.9,283.0 898.4,278.9 898.9,278.0 899.4,286.2 899.9,287.3 900.4,273.9 900.8,274.3 901.3,265.6 901.8,271.5 902.3,263.3 902.8,252.5 903.3,262.7 903.7,266.6 904.2,282.0 904.7,290.5 905.2,277.9 905.7,276.4 906.2,264.8 906.6,258.4 907.1,261.2 907.6,261.9 908.1,269.8 908.6,272.4 909.1,288.1 909.5,275.8 910.0,256.5 910.5,270.8 911.0,270.0 911.5,276.4 912.0,288.3 912.4,274.5 912.9,272.4 913.4,279.3 913.9,267.3 914.4,271.9 914.9,277.2 915.3,283.1 915.8,288.1 916.3,281.8 916.8,277.9 917.3,258.7 917.8,242.9 918.2,251.5 918.7,278.3 919.2,274.4 919.7,249.0 920.2,259.9 920.7,270.8 921.1,251.7 921.6,270.6 922.1,263.0 922.6,278.4 923.1,274.5 923.6,298.8 924.0,269.5 924.5,274.0 925.0,261.8 925.5,281.9 926.0,278.2 926.5,284.1 926.9,280.2 927.4,263.2 927.9,262.5 928.4,256.1 928.9,257.0 929.4,269.5 929.8,282.7 930.3,283.6 930.8,279.7 931.3,268.1 931.8,274.0 932.3,262.2 932.7,268.6 933.2,277.3 933.7,271.3 934.2,264.8 934.7,262.8 935.2,272.3 935.6,267.2 936.1,255.2 936.6,262.8 937.1,258.9 937.6,279.5 938.1,274.1 938.5,255.7 939.0,269.6 939.5,277.7 940.0,277.7 940.5,268.6 941.0,271.9 941.4,273.8 941.9,280.5 942.4,276.9 942.9,294.7 943.4,277.5 943.9,287.1 944.3,275.1 944.8,257.1 945.3,257.4 945.8,251.7 946.3,249.4 946.8,277.2 947.2,268.3 947.7,275.9 948.2,263.7 948.7,268.3 949.2,261.3 949.7,276.1 950.1,270.9 950.6,266.0 951.1,265.7 951.6,289.6 952.1,279.0 952.6,279.9 953.0,260.0 953.5,260.9 954.0,268.8 954.5,249.5 955.0,272.9 955.5,270.4 955.9,268.3 956.4,266.3 956.9,265.7 957.4,263.1 957.9,282.2 958.3,280.6 958.8,286.5 959.3,274.3 959.8,265.5 960.3,284.0 960.8,264.9 961.2,264.4 961.7,277.5 962.2,283.6 962.7,262.0 963.2,267.5 963.7,270.5 964.1,267.6 964.6,261.7 965.1,275.7 965.6,268.3 966.1,266.8 966.6,249.9 967.0,265.2 967.5,252.8 968.0,273.9 968.5,278.7 969.0,270.1 969.5,273.4 969.9,272.3 970.4,269.7 970.9,273.3 971.4,270.1 971.9,267.6 972.4,264.3 972.8,283.7 973.3,277.6 973.8,271.1 974.3,277.9 974.8,268.6 975.3,266.4 975.7,275.3 976.2,280.5 976.7,281.1 977.2,257.1 977.7,264.5 978.2,268.3 978.6,273.8 979.1,263.2 979.6,257.7 980.1,264.0 980.6,260.0 981.1,256.8 981.5,266.2 982.0,279.6 982.5,273.2 983.0,280.5 983.5,262.5 984.0,274.1 984.4,271.8 984.9,261.4 985.4,263.0 985.9,259.5 986.4,264.9 986.9,263.9 987.3,280.6 987.8,271.0 988.3,255.6 988.8,263.8 989.3,271.8 989.8,268.4 990.2,278.0 990.7,263.4 991.2,257.7 991.7,280.0 992.2,275.7 992.7,276.4 993.1,275.1 993.6,276.1 994.1,270.2 994.6,268.5 995.1,277.4 995.6,267.9 996.0,269.3 996.5,273.2 997.0,262.1 997.5,248.3 998.0,262.7 998.5,273.7 998.9,267.3 999.4,252.1 999.9,269.2 1000.4,286.4 1000.9,257.9 1001.4,241.9 1001.8,258.2 1002.3,267.2 1002.8,278.3 1003.3,280.1 1003.8,275.2 1004.3,276.9 1004.7,277.4 1005.2,277.2 1005.7,275.0 1006.2,273.2 1006.7,278.9 1007.2,281.3 1007.6,274.4 1008.1,286.9 1008.6,274.8 1009.1,274.7 1009.6,275.8 1010.1,258.9 1010.5,266.3 1011.0,279.0 1011.5,283.3 1012.0,263.0 1012.5,261.1 1013.0,258.6 1013.4,264.5 1013.9,266.8 1014.4,253.6 1014.9,267.6 1015.4,270.3 1015.9,268.2 1016.3,262.9 1016.8,264.4 1017.3,250.1 1017.8,266.7 1018.3,270.8 1018.8,269.5 1019.2,258.5 1019.7,279.0 1020.2,285.4 1020.7,258.4 1021.2,273.4 1021.7,273.7 1022.1,249.1 1022.6,270.5 1023.1,278.6 1023.6,280.4 1024.1,275.9 1024.6,267.2 1025.0,264.5 1025.5,274.7 1026.0,283.6 1026.5,271.4 1027.0,268.0 1027.5,274.7 1027.9,251.8 1028.4,270.4 1028.9,269.3 1029.4,251.7 1029.9,273.9 1030.4,265.6 1030.8,278.6 1031.3,286.6 1031.8,266.2 1032.3,258.3 1032.8,270.4 1033.3,256.5 1033.7,274.2 1034.2,274.1 1034.7,281.1 1035.2,256.6 1035.7,268.7 1036.2,273.6 1036.6,251.1 1037.1,269.0 1037.6,254.0 1038.1,264.7 1038.6,250.7 1039.1,266.9 1039.5,281.1 1040.0,267.6 1040.5,265.8 1041.0,275.3 1041.5,262.1 1042.0,261.7 1042.4,270.8 1042.9,269.9 1043.4,279.4" fill="none" stroke="#b2df8a" stroke-width="2.4" stroke-linejoin="miter" stroke-miterlimit="3"/>
<line x1="75.0" y1="369.3" x2="1043.4" y2="369.3" stroke="#8c8c8c" stroke-width="1.8"/>
<line x1="77.0" y1="367.4" x2="1042.4" y2="367.4" stroke="#dedede" stroke-width="1.6"/>
<line x1="76.0" y1="236.1" x2="76.0" y2="375.7" stroke="#a9a9a9" stroke-width="2"/>
<line x1="75.0" y1="236.1" x2="1044.4" y2="236.1" stroke="#575757" stroke-width="2"/>
<line x1="1043.4" y1="236.1" x2="1043.4" y2="375.7" stroke="#575757" stroke-width="2"/>
<line x1="1060.0" y1="369.3" x2="1266.0" y2="369.3" stroke="#8c8c8c" stroke-width="1.8"/>
<line x1="1061.0" y1="367.4" x2="1264.0" y2="367.4" stroke="#e2e2e2" stroke-width="1.6"/>
<line x1="1265.0" y1="236.1" x2="1265.0" y2="368.7" stroke="#a5a5a5" stroke-width="2"/>
<line x1="1263.4" y1="237.1" x2="1263.4" y2="367.7" stroke="#e4e4e4" stroke-width="1.2"/>
<line x1="1059.0" y1="236.1" x2="1266.0" y2="236.1" stroke="#575757" stroke-width="2"/>
<line x1="1060.0" y1="236.1" x2="1060.0" y2="368.7" stroke="#454545" stroke-width="2"/>
<rect x="1061.0" y="243.6" width="17.0" height="7.8" fill="#aedb86"/>
<rect x="1061.0" y="256.4" width="119.4" height="7.6" fill="#aedb86"/>
<rect x="1061.0" y="268.6" width="193.0" height="8.0" fill="#aedb86"/>
<rect x="1061.0" y="281.4" width="113.0" height="7.6" fill="#aedb86"/>
<rect x="1061.0" y="292.0" width="37.6" height="7.6" fill="#aedb86"/>
<rect x="1061.0" y="305.0" width="2.6" height="7.0" fill="#aedb86"/>
<line x1="68" y1="258.8" x2="75.0" y2="258.8" stroke="#5e5e5e" stroke-width="2"/>
<line x1="1051" y1="258.8" x2="1059.0" y2="258.8" stroke="#5e5e5e" stroke-width="2"/>
<text x="58.6" y="265.6" font-family='"Liberation Sans", sans-serif' font-size="19.8" fill="#6c6c6c" text-anchor="end" font-weight="normal" textLength="29.4" lengthAdjust="spacingAndGlyphs">4.4</text>
<line x1="68" y1="302.8" x2="75.0" y2="302.8" stroke="#5e5e5e" stroke-width="2"/>
<line x1="1051" y1="302.8" x2="1059.0" y2="302.8" stroke="#5e5e5e" stroke-width="2"/>
<text x="58.6" y="309.6" font-family='"Liberation Sans", sans-serif' font-size="19.8" fill="#6c6c6c" text-anchor="end" font-weight="normal" textLength="29.4" lengthAdjust="spacingAndGlyphs">4.0</text>
<line x1="68" y1="346.7" x2="75.0" y2="346.7" stroke="#5e5e5e" stroke-width="2"/>
<line x1="1051" y1="346.7" x2="1059.0" y2="346.7" stroke="#5e5e5e" stroke-width="2"/>
<text x="58.6" y="353.5" font-family='"Liberation Sans", sans-serif' font-size="19.8" fill="#6c6c6c" text-anchor="end" font-weight="normal" textLength="29.4" lengthAdjust="spacingAndGlyphs">3.6</text>
<line x1="75.8" y1="368.7" x2="75.8" y2="375.7" stroke="#7a7a7a" stroke-width="2"/>
<line x1="269.3" y1="368.7" x2="269.3" y2="375.7" stroke="#7a7a7a" stroke-width="2"/>
<line x1="462.8" y1="368.7" x2="462.8" y2="375.7" stroke="#7a7a7a" stroke-width="2"/>
<line x1="656.4" y1="368.7" x2="656.4" y2="375.7" stroke="#7a7a7a" stroke-width="2"/>
<line x1="849.9" y1="368.7" x2="849.9" y2="375.7" stroke="#7a7a7a" stroke-width="2"/>
<line x1="1043.4" y1="368.7" x2="1043.4" y2="375.7" stroke="#7a7a7a" stroke-width="2"/>
<text transform="translate(24.3,302.7) rotate(-90)" x="0" y="0" font-family='"Liberation Sans", sans-serif' font-size="19.5" fill="#6c6c6c" text-anchor="middle" textLength="72.8" lengthAdjust="spacingAndGlyphs">rGyr (Å)</text>
<clipPath id="c3"><rect x="76.0" y="395.2" width="967.4000000000001" height="132.6"/></clipPath>
<line x1="76.0" y1="461.3" x2="1043.4" y2="461.3" stroke="#1f6aa6" stroke-width="3"/>
<text x="560.0" y="474.3" font-family='"Liberation Sans", sans-serif' font-size="44" fill="rgba(205,205,205,0.7)" text-anchor="middle" font-weight="normal" textLength="685" lengthAdjust="spacingAndGlyphs">No Intramolecular HBs Detected</text>
<line x1="75.0" y1="528.4" x2="1043.4" y2="528.4" stroke="#8c8c8c" stroke-width="1.8"/>
<line x1="77.0" y1="526.5" x2="1042.4" y2="526.5" stroke="#dedede" stroke-width="1.6"/>
<line x1="76.0" y1="395.2" x2="76.0" y2="534.8" stroke="#a9a9a9" stroke-width="2"/>
<line x1="75.0" y1="395.2" x2="1044.4" y2="395.2" stroke="#575757" stroke-width="2"/>
<line x1="1043.4" y1="395.2" x2="1043.4" y2="534.8" stroke="#575757" stroke-width="2"/>
<line x1="1060.0" y1="528.4" x2="1266.0" y2="528.4" stroke="#8c8c8c" stroke-width="1.8"/>
<line x1="1061.0" y1="526.5" x2="1264.0" y2="526.5" stroke="#e2e2e2" stroke-width="1.6"/>
<line x1="1265.0" y1="395.2" x2="1265.0" y2="527.8" stroke="#a5a5a5" stroke-width="2"/>
<line x1="1263.4" y1="396.2" x2="1263.4" y2="526.8" stroke="#e4e4e4" stroke-width="1.2"/>
<line x1="1059.0" y1="395.2" x2="1266.0" y2="395.2" stroke="#575757" stroke-width="2"/>
<line x1="1060.0" y1="395.2" x2="1060.0" y2="527.8" stroke="#454545" stroke-width="2"/>
<text x="1163.0" y="411.2" font-family='"Liberation Sans", sans-serif' font-size="42" fill="#cfcfcf" text-anchor="middle" font-weight="normal" textLength="56" lengthAdjust="spacingAndGlyphs">NA</text>
<line x1="68" y1="399.6" x2="75.0" y2="399.6" stroke="#5e5e5e" stroke-width="2"/>
<line x1="1051" y1="399.6" x2="1059.0" y2="399.6" stroke="#5e5e5e" stroke-width="2"/>
<line x1="68" y1="461.8" x2="75.0" y2="461.8" stroke="#5e5e5e" stroke-width="2"/>
<line x1="1051" y1="461.8" x2="1059.0" y2="461.8" stroke="#5e5e5e" stroke-width="2"/>
<line x1="68" y1="524.0" x2="75.0" y2="524.0" stroke="#5e5e5e" stroke-width="2"/>
<line x1="1051" y1="524.0" x2="1059.0" y2="524.0" stroke="#5e5e5e" stroke-width="2"/>
<line x1="75.8" y1="527.8" x2="75.8" y2="534.8" stroke="#7a7a7a" stroke-width="2"/>
<line x1="269.3" y1="527.8" x2="269.3" y2="534.8" stroke="#7a7a7a" stroke-width="2"/>
<line x1="462.8" y1="527.8" x2="462.8" y2="534.8" stroke="#7a7a7a" stroke-width="2"/>
<line x1="656.4" y1="527.8" x2="656.4" y2="534.8" stroke="#7a7a7a" stroke-width="2"/>
<line x1="849.9" y1="527.8" x2="849.9" y2="534.8" stroke="#7a7a7a" stroke-width="2"/>
<line x1="1043.4" y1="527.8" x2="1043.4" y2="534.8" stroke="#7a7a7a" stroke-width="2"/>
<text transform="translate(24.3,464.7) rotate(-90)" x="0" y="0" font-family='"Liberation Sans", sans-serif' font-size="19.5" fill="#6c6c6c" text-anchor="middle" textLength="70.6" lengthAdjust="spacingAndGlyphs">intraHB</text>
<clipPath id="c4"><rect x="76.0" y="554.3" width="967.4000000000001" height="132.6"/></clipPath>
<polyline clip-path="url(#c4)" points="77.8,683.0 77.9,589.5 78.4,618.5 78.8,611.6 79.3,579.2 79.8,589.6 80.3,562.0 80.8,592.0 81.3,574.2 81.7,591.3 82.2,600.1 82.7,617.6 83.2,607.9 83.7,609.5 84.2,580.7 84.6,622.5 85.1,578.8 85.6,603.6 86.1,592.6 86.6,579.6 87.1,579.8 87.5,577.4 88.0,592.8 88.5,594.6 89.0,618.4 89.5,580.0 90.0,593.2 90.4,589.1 90.9,611.0 91.4,578.6 91.9,588.4 92.4,599.4 92.9,584.8 93.3,612.7 93.8,609.7 94.3,619.4 94.8,626.2 95.3,603.0 95.8,595.0 96.2,598.9 96.7,612.8 97.2,619.9 97.7,598.8 98.2,593.0 98.7,584.5 99.1,586.0 99.6,591.9 100.1,596.2 100.6,623.0 101.1,600.2 101.6,594.3 102.0,599.7 102.5,584.8 103.0,585.2 103.5,590.7 104.0,601.7 104.5,578.2 104.9,608.1 105.4,593.8 105.9,595.9 106.4,606.1 106.9,603.8 107.4,610.6 107.8,604.7 108.3,599.1 108.8,603.9 109.3,587.0 109.8,611.3 110.3,593.3 110.7,583.7 111.2,625.5 111.7,607.5 112.2,589.4 112.7,621.0 113.2,604.6 113.6,616.9 114.1,595.4 114.6,594.1 115.1,576.5 115.6,569.6 116.1,580.1 116.5,596.9 117.0,611.3 117.5,636.8 118.0,600.6 118.5,610.9 119.0,594.6 119.4,593.7 119.9,576.6 120.4,570.8 120.9,576.6 121.4,576.1 121.9,590.0 122.3,585.2 122.8,611.3 123.3,603.6 123.8,599.7 124.3,612.0 124.8,607.7 125.2,597.1 125.7,594.2 126.2,594.5 126.7,611.5 127.2,615.1 127.7,612.1 128.1,615.1 128.6,598.1 129.1,604.4 129.6,583.1 130.1,610.1 130.6,602.3 131.0,603.3 131.5,607.2 132.0,597.3 132.5,589.6 133.0,606.6 133.5,600.6 133.9,584.1 134.4,598.1 134.9,572.5 135.4,609.9 135.9,597.4 136.4,597.4 136.8,624.4 137.3,633.0 137.8,606.1 138.3,604.8 138.8,610.3 139.3,620.2 139.7,599.9 140.2,593.4 140.7,607.2 141.2,598.9 141.7,601.2 142.2,601.0 142.6,579.5 143.1,576.3 143.6,561.2 144.1,577.5 144.6,604.9 145.1,583.2 145.5,608.5 146.0,613.7 146.5,602.0 147.0,601.6 147.5,600.5 148.0,589.9 148.4,593.0 148.9,598.5 149.4,609.4 149.9,614.6 150.4,593.8 150.9,607.2 151.3,588.5 151.8,591.5 152.3,599.8 152.8,597.5 153.3,591.6 153.8,595.4 154.2,587.8 154.7,583.9 155.2,588.1 155.7,606.5 156.2,600.3 156.7,626.2 157.1,614.1 157.6,564.4 158.1,585.2 158.6,617.4 159.1,606.7 159.6,595.8 160.0,588.2 160.5,612.9 161.0,615.9 161.5,615.6 162.0,608.8 162.5,622.6 162.9,617.4 163.4,586.0 163.9,605.6 164.4,602.4 164.9,596.6 165.3,606.7 165.8,598.1 166.3,561.2 166.8,604.9 167.3,612.2 167.8,595.1 168.2,588.4 168.7,596.8 169.2,637.0 169.7,599.6 170.2,596.4 170.7,593.4 171.1,586.6 171.6,586.6 172.1,610.4 172.6,619.8 173.1,610.9 173.6,600.7 174.0,588.8 174.5,606.5 175.0,622.4 175.5,580.1 176.0,605.8 176.5,569.8 176.9,584.6 177.4,597.3 177.9,580.2 178.4,572.9 178.9,589.5 179.4,605.6 179.8,595.7 180.3,616.2 180.8,592.2 181.3,621.4 181.8,609.0 182.3,602.7 182.7,609.3 183.2,607.6 183.7,627.8 184.2,634.6 184.7,613.2 185.2,599.2 185.6,584.3 186.1,584.8 186.6,594.2 187.1,593.9 187.6,594.4 188.1,596.9 188.5,601.7 189.0,582.3 189.5,580.3 190.0,607.2 190.5,611.6 191.0,592.8 191.4,612.0 191.9,589.3 192.4,589.2 192.9,564.8 193.4,597.8 193.9,595.9 194.3,607.3 194.8,607.5 195.3,599.7 195.8,597.1 196.3,610.9 196.8,594.8 197.2,590.4 197.7,591.5 198.2,603.1 198.7,607.4 199.2,622.3 199.7,595.3 200.1,609.0 200.6,588.5 201.1,599.7 201.6,596.1 202.1,618.3 202.6,609.2 203.0,592.7 203.5,601.5 204.0,600.0 204.5,589.3 205.0,588.5 205.5,580.6 205.9,626.1 206.4,608.2 206.9,613.2 207.4,587.4 207.9,582.4 208.4,593.6 208.8,595.9 209.3,606.8 209.8,584.8 210.3,597.0 210.8,615.4 211.3,582.5 211.7,602.7 212.2,582.8 212.7,596.3 213.2,600.7 213.7,621.4 214.2,593.3 214.6,598.5 215.1,610.2 215.6,585.7 216.1,592.3 216.6,583.7 217.1,583.0 217.5,601.8 218.0,608.5 218.5,634.9 219.0,627.6 219.5,625.7 220.0,605.0 220.4,562.0 220.9,597.8 221.4,569.2 221.9,612.1 222.4,593.8 222.9,583.9 223.3,587.4 223.8,606.6 224.3,618.2 224.8,597.4 225.3,603.0 225.8,598.6 226.2,582.4 226.7,591.7 227.2,595.7 227.7,580.1 228.2,609.3 228.7,584.7 229.1,599.7 229.6,590.9 230.1,590.5 230.6,591.9 231.1,611.4 231.6,588.7 232.0,596.1 232.5,621.6 233.0,596.8 233.5,597.7 234.0,603.4 234.5,588.7 234.9,600.0 235.4,590.5 235.9,606.3 236.4,599.8 236.9,584.9 237.4,610.2 237.8,596.0 238.3,592.7 238.8,581.2 239.3,583.5 239.8,589.7 240.3,596.6 240.7,611.1 241.2,582.5 241.7,587.2 242.2,608.8 242.7,601.4 243.2,598.4 243.6,613.4 244.1,602.1 244.6,599.0 245.1,594.9 245.6,620.7 246.1,620.8 246.5,593.7 247.0,604.6 247.5,585.7 248.0,610.0 248.5,608.6 249.0,599.1 249.4,595.8 249.9,576.1 250.4,607.2 250.9,603.5 251.4,600.7 251.9,615.2 252.3,598.2 252.8,594.5 253.3,590.3 253.8,582.4 254.3,628.5 254.7,608.4 255.2,599.5 255.7,616.9 256.2,567.2 256.7,593.9 257.2,603.4 257.6,590.5 258.1,606.7 258.6,578.2 259.1,596.2 259.6,614.3 260.1,575.4 260.5,575.2 261.0,592.1 261.5,598.9 262.0,591.6 262.5,599.7 263.0,600.3 263.4,580.1 263.9,590.0 264.4,581.1 264.9,565.2 265.4,557.3 265.9,597.4 266.3,596.3 266.8,620.9 267.3,583.9 267.8,587.9 268.3,603.7 268.8,601.5 269.2,610.1 269.7,607.6 270.2,598.6 270.7,569.2 271.2,576.8 271.7,617.8 272.1,616.4 272.6,622.7 273.1,599.1 273.6,597.7 274.1,584.7 274.6,600.1 275.0,602.6 275.5,605.4 276.0,621.1 276.5,592.2 277.0,604.6 277.5,579.3 277.9,606.8 278.4,592.8 278.9,596.7 279.4,596.0 279.9,616.3 280.4,600.0 280.8,588.8 281.3,575.6 281.8,593.1 282.3,580.7 282.8,579.2 283.3,588.4 283.7,603.0 284.2,587.5 284.7,599.6 285.2,618.8 285.7,582.2 286.2,611.0 286.6,632.9 287.1,605.1 287.6,614.0 288.1,589.0 288.6,606.3 289.1,602.9 289.5,609.9 290.0,596.1 290.5,592.5 291.0,594.0 291.5,592.1 292.0,590.8 292.4,595.4 292.9,585.9 293.4,596.6 293.9,604.6 294.4,568.8 294.9,590.8 295.3,586.6 295.8,578.2 296.3,575.0 296.8,580.2 297.3,583.7 297.8,597.4 298.2,578.5 298.7,604.5 299.2,587.7 299.7,599.0 300.2,610.2 300.7,580.3 301.1,604.0 301.6,622.9 302.1,593.6 302.6,601.7 303.1,596.6 303.6,595.3 304.0,595.8 304.5,589.0 305.0,604.1 305.5,611.3 306.0,601.1 306.5,618.8 306.9,618.5 307.4,614.3 307.9,593.5 308.4,621.0 308.9,619.6 309.4,639.0 309.8,571.3 310.3,581.6 310.8,603.2 311.3,613.2 311.8,596.6 312.3,597.0 312.7,603.4 313.2,579.4 313.7,596.3 314.2,591.5 314.7,597.7 315.2,595.2 315.6,581.1 316.1,579.1 316.6,593.4 317.1,599.4 317.6,597.6 318.1,613.4 318.5,599.3 319.0,585.2 319.5,592.1 320.0,598.1 320.5,597.4 321.0,616.1 321.4,609.4 321.9,615.5 322.4,608.8 322.9,595.0 323.4,607.4 323.9,592.0 324.3,594.7 324.8,575.0 325.3,588.5 325.8,581.2 326.3,588.9 326.8,614.3 327.2,626.5 327.7,616.6 328.2,601.0 328.7,607.4 329.2,600.6 329.7,587.7 330.1,592.1 330.6,592.8 331.1,590.1 331.6,612.4 332.1,596.1 332.6,592.9 333.0,605.2 333.5,592.7 334.0,584.1 334.5,586.6 335.0,603.6 335.5,608.6 335.9,610.4 336.4,598.6 336.9,588.9 337.4,610.5 337.9,587.8 338.4,596.5 338.8,583.9 339.3,591.2 339.8,594.4 340.3,614.4 340.8,567.3 341.2,611.7 341.7,593.1 342.2,601.6 342.7,609.7 343.2,590.9 343.7,592.4 344.1,604.0 344.6,599.3 345.1,589.0 345.6,594.2 346.1,598.8 346.6,579.6 347.0,611.3 347.5,608.0 348.0,638.0 348.5,580.5 349.0,615.9 349.5,626.6 349.9,612.0 350.4,579.9 350.9,587.0 351.4,609.4 351.9,608.0 352.4,596.8 352.8,586.9 353.3,604.4 353.8,597.2 354.3,600.1 354.8,606.0 355.3,620.9 355.7,604.7 356.2,602.1 356.7,577.4 357.2,606.6 357.7,611.8 358.2,599.0 358.6,565.7 359.1,578.8 359.6,592.2 360.1,622.3 360.6,611.7 361.1,612.9 361.5,612.4 362.0,619.0 362.5,587.1 363.0,580.7 363.5,577.0 364.0,585.0 364.4,587.4 364.9,596.2 365.4,582.9 365.9,595.1 366.4,587.1 366.9,620.9 367.3,598.7 367.8,630.2 368.3,628.2 368.8,586.4 369.3,600.6 369.8,600.1 370.2,576.0 370.7,600.4 371.2,601.7 371.7,607.8 372.2,594.9 372.7,601.4 373.1,609.1 373.6,602.2 374.1,593.3 374.6,597.1 375.1,587.0 375.6,599.3 376.0,562.9 376.5,604.9 377.0,605.6 377.5,607.6 378.0,616.5 378.5,593.3 378.9,632.9 379.4,598.4 379.9,612.5 380.4,613.0 380.9,625.0 381.4,610.0 381.8,587.1 382.3,606.1 382.8,570.8 383.3,589.7 383.8,592.4 384.3,620.9 384.7,602.5 385.2,593.0 385.7,585.8 386.2,582.6 386.7,585.8 387.2,602.0 387.6,581.9 388.1,591.3 388.6,578.8 389.1,591.0 389.6,599.1 390.1,581.8 390.5,587.6 391.0,599.9 391.5,612.1 392.0,620.3 392.5,607.9 393.0,594.1 393.4,580.0 393.9,606.3 394.4,620.5 394.9,610.9 395.4,623.5 395.9,596.9 396.3,591.3 396.8,617.4 397.3,591.4 397.8,604.4 398.3,606.1 398.8,601.6 399.2,620.6 399.7,593.9 400.2,590.6 400.7,569.4 401.2,575.5 401.7,586.2 402.1,593.2 402.6,596.4 403.1,607.0 403.6,597.4 404.1,572.3 404.6,599.5 405.0,606.2 405.5,593.1 406.0,590.5 406.5,619.7 407.0,619.1 407.5,621.3 407.9,615.0 408.4,606.3 408.9,597.6 409.4,607.2 409.9,600.9 410.4,597.2 410.8,596.8 411.3,594.7 411.8,607.8 412.3,587.7 412.8,628.1 413.3,590.1 413.7,586.2 414.2,604.6 414.7,588.0 415.2,589.7 415.7,595.2 416.2,561.2 416.6,576.4 417.1,576.5 417.6,583.9 418.1,601.2 418.6,606.7 419.1,618.9 419.5,621.5 420.0,618.5 420.5,603.3 421.0,611.6 421.5,589.4 422.0,595.4 422.4,616.4 422.9,615.0 423.4,587.3 423.9,589.9 424.4,610.6 424.9,614.2 425.3,616.9 425.8,583.0 426.3,576.0 426.8,586.7 427.3,579.8 427.8,593.3 428.2,596.1 428.7,601.8 429.2,598.9 429.7,603.3 430.2,608.9 430.6,604.7 431.1,583.3 431.6,611.5 432.1,603.7 432.6,602.3 433.1,601.6 433.5,576.9 434.0,599.6 434.5,590.3 435.0,578.0 435.5,610.2 436.0,598.6 436.4,602.6 436.9,610.3 437.4,619.9 437.9,581.4 438.4,584.4 438.9,603.9 439.3,591.0 439.8,559.7 440.3,587.9 440.8,597.4 441.3,611.3 441.8,608.1 442.2,598.7 442.7,604.6 443.2,605.9 443.7,598.7 444.2,606.6 444.7,607.1 445.1,588.4 445.6,607.5 446.1,610.0 446.6,609.8 447.1,564.0 447.6,590.5 448.0,592.8 448.5,580.2 449.0,598.7 449.5,574.5 450.0,605.8 450.5,605.3 450.9,591.2 451.4,613.8 451.9,610.3 452.4,604.4 452.9,580.9 453.4,598.2 453.8,617.0 454.3,619.0 454.8,586.8 455.3,612.9 455.8,623.8 456.3,617.6 456.7,600.2 457.2,578.7 457.7,581.5 458.2,585.9 458.7,597.4 459.2,604.5 459.6,586.2 460.1,569.5 460.6,584.5 461.1,575.2 461.6,609.5 462.1,586.5 462.5,600.6 463.0,608.8 463.5,589.2 464.0,608.2 464.5,601.4 465.0,590.6 465.4,585.6 465.9,598.0 466.4,615.9 466.9,581.1 467.4,599.1 467.9,596.8 468.3,585.4 468.8,590.7 469.3,593.5 469.8,593.3 470.3,601.7 470.8,579.3 471.2,612.0 471.7,609.0 472.2,589.0 472.7,563.7 473.2,582.5 473.7,584.7 474.1,600.1 474.6,604.7 475.1,625.4 475.6,600.0 476.1,603.9 476.6,587.4 477.0,583.0 477.5,613.5 478.0,596.7 478.5,591.6 479.0,586.0 479.5,592.5 479.9,599.7 480.4,591.7 480.9,577.3 481.4,594.7 481.9,583.0 482.4,587.8 482.8,593.0 483.3,596.6 483.8,565.0 484.3,606.5 484.8,607.7 485.3,624.6 485.7,633.3 486.2,596.0 486.7,591.3 487.2,598.7 487.7,612.6 488.2,600.2 488.6,596.2 489.1,611.8 489.6,589.1 490.1,598.5 490.6,615.1 491.1,597.6 491.5,605.2 492.0,594.8 492.5,575.7 493.0,581.9 493.5,589.1 494.0,586.3 494.4,593.0 494.9,597.7 495.4,598.9 495.9,596.8 496.4,587.8 496.9,587.7 497.3,586.3 497.8,583.8 498.3,612.4 498.8,575.6 499.3,596.3 499.8,577.0 500.2,585.0 500.7,606.7 501.2,599.0 501.7,620.7 502.2,596.8 502.7,597.9 503.1,593.2 503.6,596.8 504.1,595.1 504.6,594.2 505.1,600.2 505.6,615.2 506.0,605.4 506.5,602.2 507.0,597.8 507.5,587.4 508.0,574.1 508.5,575.3 508.9,591.3 509.4,568.6 509.9,592.3 510.4,585.9 510.9,579.5 511.4,581.8 511.8,598.5 512.3,600.4 512.8,602.4 513.3,620.9 513.8,632.9 514.3,590.4 514.7,604.9 515.2,584.9 515.7,572.8 516.2,580.4 516.7,604.6 517.1,594.5 517.6,590.0 518.1,610.7 518.6,606.6 519.1,595.5 519.6,618.6 520.0,607.5 520.5,590.9 521.0,578.0 521.5,579.7 522.0,589.9 522.5,602.3 522.9,603.7 523.4,596.7 523.9,580.8 524.4,602.9 524.9,597.7 525.4,583.5 525.8,578.2 526.3,595.0 526.8,600.9 527.3,610.7 527.8,584.8 528.3,618.0 528.7,577.7 529.2,590.6 529.7,615.6 530.2,618.8 530.7,596.2 531.2,605.1 531.6,616.7 532.1,610.0 532.6,587.7 533.1,618.2 533.6,579.8 534.1,590.1 534.5,580.2 535.0,582.9 535.5,584.0 536.0,594.7 536.5,575.8 537.0,588.2 537.4,605.3 537.9,593.6 538.4,597.6 538.9,597.6 539.4,582.5 539.9,586.3 540.3,592.2 540.8,600.2 541.3,624.4 541.8,625.4 542.3,600.6 542.8,593.5 543.2,585.1 543.7,563.1 544.2,604.0 544.7,606.4 545.2,574.9 545.7,589.5 546.1,625.0 546.6,607.8 547.1,601.8 547.6,599.2 548.1,585.0 548.6,576.3 549.0,579.6 549.5,592.2 550.0,591.4 550.5,601.3 551.0,618.8 551.5,610.2 551.9,613.8 552.4,600.1 552.9,581.6 553.4,621.3 553.9,614.9 554.4,619.6 554.8,600.7 555.3,576.8 555.8,611.4 556.3,575.5 556.8,592.7 557.3,592.6 557.7,602.2 558.2,610.4 558.7,613.8 559.2,576.9 559.7,606.7 560.2,574.6 560.6,596.5 561.1,589.4 561.6,581.2 562.1,584.4 562.6,574.8 563.1,590.4 563.5,610.3 564.0,612.6 564.5,603.4 565.0,615.6 565.5,608.6 566.0,630.8 566.4,613.7 566.9,594.8 567.4,594.4 567.9,588.7 568.4,592.4 568.9,598.1 569.3,611.8 569.8,617.3 570.3,610.0 570.8,611.6 571.3,595.3 571.8,592.4 572.2,566.6 572.7,581.8 573.2,588.2 573.7,632.7 574.2,594.5 574.7,601.2 575.1,595.1 575.6,575.4 576.1,597.0 576.6,597.3 577.1,575.5 577.6,560.5 578.0,581.9 578.5,573.7 579.0,599.4 579.5,593.6 580.0,603.3 580.5,596.2 580.9,619.0 581.4,610.9 581.9,623.2 582.4,608.0 582.9,585.3 583.4,573.5 583.8,584.4 584.3,597.8 584.8,588.8 585.3,627.1 585.8,607.1 586.3,606.0 586.7,602.3 587.2,582.9 587.7,604.6 588.2,607.3 588.7,610.4 589.2,589.2 589.6,596.6 590.1,598.7 590.6,614.6 591.1,585.5 591.6,605.1 592.1,616.9 592.5,596.1 593.0,586.2 593.5,608.4 594.0,600.7 594.5,614.0 595.0,613.2 595.4,619.2 595.9,603.1 596.4,574.0 596.9,599.6 597.4,589.2 597.9,603.8 598.3,591.2 598.8,619.6 599.3,602.1 599.8,609.3 600.3,617.7 600.8,606.8 601.2,610.5 601.7,604.9 602.2,591.2 602.7,615.3 603.2,592.2 603.7,577.0 604.1,586.0 604.6,600.1 605.1,602.3 605.6,597.4 606.1,593.7 606.5,568.0 607.0,598.7 607.5,622.9 608.0,596.6 608.5,572.5 609.0,598.3 609.4,594.0 609.9,560.9 610.4,569.8 610.9,568.4 611.4,572.3 611.9,615.4 612.3,612.6 612.8,597.7 613.3,598.5 613.8,619.5 614.3,589.0 614.8,603.7 615.2,589.2 615.7,607.9 616.2,602.2 616.7,591.0 617.2,610.9 617.7,610.9 618.1,626.3 618.6,601.3 619.1,602.2 619.6,588.8 620.1,613.3 620.6,592.3 621.0,592.6 621.5,611.8 622.0,608.4 622.5,604.9 623.0,604.4 623.5,606.2 623.9,608.4 624.4,595.9 624.9,569.3 625.4,606.5 625.9,582.0 626.4,615.7 626.8,604.3 627.3,636.8 627.8,627.1 628.3,612.1 628.8,615.3 629.3,584.9 629.7,598.5 630.2,597.4 630.7,599.4 631.2,572.1 631.7,562.8 632.2,598.4 632.6,604.1 633.1,597.7 633.6,600.5 634.1,591.0 634.6,590.3 635.1,602.1 635.5,596.1 636.0,604.9 636.5,589.9 637.0,570.7 637.5,582.1 638.0,592.7 638.4,584.3 638.9,589.5 639.4,586.2 639.9,604.0 640.4,610.9 640.9,618.9 641.3,593.4 641.8,600.4 642.3,616.7 642.8,603.8 643.3,596.8 643.8,583.9 644.2,603.1 644.7,595.2 645.2,603.8 645.7,589.4 646.2,617.0 646.7,598.4 647.1,576.5 647.6,593.8 648.1,602.2 648.6,613.7 649.1,592.8 649.6,586.9 650.0,589.6 650.5,593.2 651.0,569.7 651.5,599.5 652.0,614.0 652.5,592.6 652.9,577.7 653.4,587.1 653.9,581.6 654.4,601.4 654.9,589.1 655.4,604.8 655.8,585.6 656.3,579.0 656.8,575.5 657.3,574.2 657.8,596.8 658.3,606.7 658.7,604.8 659.2,605.5 659.7,570.0 660.2,606.6 660.7,584.2 661.2,610.8 661.6,631.8 662.1,611.5 662.6,608.7 663.1,606.0 663.6,580.5 664.1,576.1 664.5,581.4 665.0,592.1 665.5,605.0 666.0,596.8 666.5,606.8 667.0,591.0 667.4,572.5 667.9,587.4 668.4,589.2 668.9,570.9 669.4,599.5 669.9,582.5 670.3,580.0 670.8,594.0 671.3,584.2 671.8,599.5 672.3,601.9 672.8,604.5 673.2,597.2 673.7,590.6 674.2,583.7 674.7,596.3 675.2,611.4 675.7,610.8 676.1,604.0 676.6,611.4 677.1,616.4 677.6,580.7 678.1,586.9 678.6,603.7 679.0,583.4 679.5,582.7 680.0,597.4 680.5,588.2 681.0,607.4 681.5,591.1 681.9,597.7 682.4,626.7 682.9,617.5 683.4,579.3 683.9,574.7 684.4,572.6 684.8,588.5 685.3,570.6 685.8,592.8 686.3,615.3 686.8,618.3 687.3,585.8 687.7,584.8 688.2,584.1 688.7,574.1 689.2,605.1 689.7,582.4 690.2,571.0 690.6,585.7 691.1,593.3 691.6,610.6 692.1,619.3 692.6,599.5 693.0,567.1 693.5,594.5 694.0,604.9 694.5,620.9 695.0,580.4 695.5,574.7 695.9,611.5 696.4,621.6 696.9,618.2 697.4,598.5 697.9,613.2 698.4,591.4 698.8,574.3 699.3,587.0 699.8,593.5 700.3,601.7 700.8,606.9 701.3,571.1 701.7,588.1 702.2,595.6 702.7,579.5 703.2,588.4 703.7,593.9 704.2,602.4 704.6,585.1 705.1,584.7 705.6,576.5 706.1,593.0 706.6,587.5 707.1,585.1 707.5,600.6 708.0,593.7 708.5,579.5 709.0,605.3 709.5,611.2 710.0,604.9 710.4,584.3 710.9,605.1 711.4,588.0 711.9,566.2 712.4,582.1 712.9,612.5 713.3,593.4 713.8,600.4 714.3,615.5 714.8,604.4 715.3,594.0 715.8,592.1 716.2,603.3 716.7,593.5 717.2,601.5 717.7,607.0 718.2,596.0 718.7,606.1 719.1,607.8 719.6,597.6 720.1,593.9 720.6,597.3 721.1,595.8 721.6,591.2 722.0,578.6 722.5,587.6 723.0,597.9 723.5,602.2 724.0,582.4 724.5,601.0 724.9,605.0 725.4,584.7 725.9,597.6 726.4,593.1 726.9,589.7 727.4,597.4 727.8,595.0 728.3,569.2 728.8,595.5 729.3,586.0 729.8,597.0 730.3,608.7 730.7,599.4 731.2,593.3 731.7,602.0 732.2,607.1 732.7,591.9 733.2,590.5 733.6,606.7 734.1,623.6 734.6,607.7 735.1,616.9 735.6,597.2 736.1,600.1 736.5,604.4 737.0,587.0 737.5,597.3 738.0,599.9 738.5,571.8 739.0,593.7 739.4,603.2 739.9,601.0 740.4,606.1 740.9,586.9 741.4,585.5 741.9,590.6 742.3,583.9 742.8,585.2 743.3,610.6 743.8,591.0 744.3,591.2 744.8,618.2 745.2,602.6 745.7,585.2 746.2,598.8 746.7,601.9 747.2,601.4 747.7,575.1 748.1,594.2 748.6,597.8 749.1,623.8 749.6,609.4 750.1,591.5 750.6,601.1 751.0,605.7 751.5,597.8 752.0,598.2 752.5,616.8 753.0,609.8 753.5,610.4 753.9,592.1 754.4,602.9 754.9,579.2 755.4,613.5 755.9,598.4 756.4,609.4 756.8,623.3 757.3,594.3 757.8,612.3 758.3,603.8 758.8,615.1 759.3,596.2 759.7,587.0 760.2,606.9 760.7,602.0 761.2,597.0 761.7,577.2 762.2,605.6 762.6,594.5 763.1,593.5 763.6,588.1 764.1,597.3 764.6,608.7 765.1,599.7 765.5,598.0 766.0,590.6 766.5,616.1 767.0,622.6 767.5,601.1 768.0,586.8 768.4,599.0 768.9,576.5 769.4,594.0 769.9,595.7 770.4,597.0 770.9,616.2 771.3,623.4 771.8,608.0 772.3,591.2 772.8,606.1 773.3,610.6 773.8,581.6 774.2,582.4 774.7,589.5 775.2,575.9 775.7,579.8 776.2,615.8 776.7,591.7 777.1,611.7 777.6,595.3 778.1,612.0 778.6,607.0 779.1,614.5 779.6,586.4 780.0,600.8 780.5,593.3 781.0,609.5 781.5,612.7 782.0,607.5 782.4,603.5 782.9,605.0 783.4,608.1 783.9,596.2 784.4,595.6 784.9,593.7 785.3,585.0 785.8,611.0 786.3,588.7 786.8,613.1 787.3,613.2 787.8,579.7 788.2,568.1 788.7,588.2 789.2,580.7 789.7,595.0 790.2,606.6 790.7,597.2 791.1,590.3 791.6,588.4 792.1,611.3 792.6,595.8 793.1,620.6 793.6,627.4 794.0,602.5 794.5,602.8 795.0,620.0 795.5,596.7 796.0,606.1 796.5,613.0 796.9,587.7 797.4,601.9 797.9,598.7 798.4,590.8 798.9,615.8 799.4,600.9 799.8,627.2 800.3,616.9 800.8,595.0 801.3,599.4 801.8,588.6 802.3,603.4 802.7,605.6 803.2,584.1 803.7,586.4 804.2,601.6 804.7,600.6 805.2,587.1 805.6,608.1 806.1,619.6 806.6,586.4 807.1,615.5 807.6,577.9 808.1,592.3 808.5,587.0 809.0,586.5 809.5,595.9 810.0,579.8 810.5,590.0 811.0,616.8 811.4,606.6 811.9,617.8 812.4,613.0 812.9,579.4 813.4,615.5 813.9,613.2 814.3,610.9 814.8,596.1 815.3,588.9 815.8,580.7 816.3,591.2 816.8,596.9 817.2,597.9 817.7,596.7 818.2,573.4 818.7,584.6 819.2,586.4 819.7,601.8 820.1,596.8 820.6,593.9 821.1,602.6 821.6,597.5 822.1,598.4 822.6,616.4 823.0,605.1 823.5,593.8 824.0,605.2 824.5,614.7 825.0,611.0 825.5,583.9 825.9,606.4 826.4,601.3 826.9,602.5 827.4,599.7 827.9,604.2 828.4,605.9 828.8,617.4 829.3,604.4 829.8,598.0 830.3,605.7 830.8,594.1 831.3,607.2 831.7,599.5 832.2,606.8 832.7,590.8 833.2,605.5 833.7,603.1 834.2,583.2 834.6,583.2 835.1,592.6 835.6,576.9 836.1,577.4 836.6,596.3 837.1,604.6 837.5,617.1 838.0,588.2 838.5,588.2 839.0,566.8 839.5,610.6 840.0,587.8 840.4,596.4 840.9,623.4 841.4,625.4 841.9,596.5 842.4,632.5 842.9,617.5 843.3,594.9 843.8,606.1 844.3,614.1 844.8,612.8 845.3,581.3 845.8,616.0 846.2,583.7 846.7,590.9 847.2,612.1 847.7,605.8 848.2,597.6 848.7,586.3 849.1,597.4 849.6,612.2 850.1,592.9 850.6,595.7 851.1,587.8 851.6,586.0 852.0,566.3 852.5,592.8 853.0,605.6 853.5,596.0 854.0,609.8 854.5,604.1 854.9,618.3 855.4,606.5 855.9,595.0 856.4,590.8 856.9,597.4 857.4,601.1 857.8,587.5 858.3,593.1 858.8,576.6 859.3,571.9 859.8,597.5 860.3,601.8 860.7,609.8 861.2,600.5 861.7,593.8 862.2,612.0 862.7,585.9 863.2,593.8 863.6,614.3 864.1,626.5 864.6,614.2 865.1,601.4 865.6,586.3 866.1,596.3 866.5,600.2 867.0,599.1 867.5,607.3 868.0,611.1 868.5,594.9 868.9,587.3 869.4,589.5 869.9,599.2 870.4,619.6 870.9,585.1 871.4,609.6 871.8,601.9 872.3,618.3 872.8,626.7 873.3,613.8 873.8,591.1 874.3,593.5 874.7,602.9 875.2,597.3 875.7,599.0 876.2,590.4 876.7,594.6 877.2,589.0 877.6,607.9 878.1,606.1 878.6,613.1 879.1,584.4 879.6,590.4 880.1,586.8 880.5,590.7 881.0,587.0 881.5,586.2 882.0,618.0 882.5,604.3 883.0,587.9 883.4,596.8 883.9,631.7 884.4,618.9 884.9,597.6 885.4,600.4 885.9,603.0 886.3,599.1 886.8,569.8 887.3,572.3 887.8,586.9 888.3,573.7 888.8,589.2 889.2,597.0 889.7,604.0 890.2,611.5 890.7,596.8 891.2,598.3 891.7,602.6 892.1,611.5 892.6,601.4 893.1,588.9 893.6,602.6 894.1,610.1 894.6,601.8 895.0,603.1 895.5,616.3 896.0,595.3 896.5,589.8 897.0,582.4 897.5,597.6 897.9,611.7 898.4,595.1 898.9,620.4 899.4,598.0 899.9,598.3 900.4,596.3 900.8,613.2 901.3,593.5 901.8,616.2 902.3,601.0 902.8,580.5 903.3,586.2 903.7,594.3 904.2,618.5 904.7,600.1 905.2,600.3 905.7,630.0 906.2,612.0 906.6,597.9 907.1,591.3 907.6,576.5 908.1,599.3 908.6,616.4 909.1,600.1 909.5,588.8 910.0,602.9 910.5,600.3 911.0,599.0 911.5,605.7 912.0,603.2 912.4,597.2 912.9,611.0 913.4,576.3 913.9,576.2 914.4,585.3 914.9,574.1 915.3,607.9 915.8,575.1 916.3,602.3 916.8,606.6 917.3,604.4 917.8,607.2 918.2,595.4 918.7,591.0 919.2,614.0 919.7,601.8 920.2,582.4 920.7,581.4 921.1,578.8 921.6,598.5 922.1,617.7 922.6,603.4 923.1,604.9 923.6,598.5 924.0,612.9 924.5,617.4 925.0,620.7 925.5,635.5 926.0,600.0 926.5,612.5 926.9,587.1 927.4,606.9 927.9,613.7 928.4,614.5 928.9,614.4 929.4,602.8 929.8,592.6 930.3,606.7 930.8,589.5 931.3,601.8 931.8,586.2 932.3,599.6 932.7,603.6 933.2,590.7 933.7,591.8 934.2,609.1 934.7,600.1 935.2,606.5 935.6,594.1 936.1,597.6 936.6,581.9 937.1,585.2 937.6,611.8 938.1,609.4 938.5,605.4 939.0,600.4 939.5,583.0 940.0,599.7 940.5,585.3 941.0,586.1 941.4,602.8 941.9,594.1 942.4,594.2 942.9,601.0 943.4,601.9 943.9,620.5 944.3,590.5 944.8,598.0 945.3,609.2 945.8,597.6 946.3,591.5 946.8,586.3 947.2,592.8 947.7,607.1 948.2,618.0 948.7,609.1 949.2,621.1 949.7,606.0 950.1,584.5 950.6,608.0 951.1,581.9 951.6,598.0 952.1,601.8 952.6,589.4 953.0,595.3 953.5,593.0 954.0,601.2 954.5,596.1 955.0,607.1 955.5,595.9 955.9,601.8 956.4,596.8 956.9,598.5 957.4,597.2 957.9,590.1 958.3,608.8 958.8,608.7 959.3,573.7 959.8,577.0 960.3,611.5 960.8,599.8 961.2,635.6 961.7,615.9 962.2,609.5 962.7,598.0 963.2,596.1 963.7,600.6 964.1,612.3 964.6,607.6 965.1,609.6 965.6,595.2 966.1,590.8 966.6,592.1 967.0,594.4 967.5,589.6 968.0,583.4 968.5,592.9 969.0,568.4 969.5,573.7 969.9,581.6 970.4,601.0 970.9,590.6 971.4,582.7 971.9,602.0 972.4,599.3 972.8,614.5 973.3,599.7 973.8,589.9 974.3,591.8 974.8,616.5 975.3,625.2 975.7,608.6 976.2,615.7 976.7,589.7 977.2,612.5 977.7,604.7 978.2,599.9 978.6,596.1 979.1,598.5 979.6,588.2 980.1,589.7 980.6,580.1 981.1,614.2 981.5,593.1 982.0,594.4 982.5,611.1 983.0,616.2 983.5,618.9 984.0,596.6 984.4,591.8 984.9,593.5 985.4,572.6 985.9,599.4 986.4,574.7 986.9,588.5 987.3,602.4 987.8,606.5 988.3,591.7 988.8,604.7 989.3,604.5 989.8,573.2 990.2,580.7 990.7,597.2 991.2,596.7 991.7,591.2 992.2,590.9 992.7,618.7 993.1,594.8 993.6,606.5 994.1,579.3 994.6,590.6 995.1,601.1 995.6,587.6 996.0,581.6 996.5,610.2 997.0,592.8 997.5,602.8 998.0,577.3 998.5,608.9 998.9,576.1 999.4,580.2 999.9,584.7 1000.4,591.8 1000.9,597.5 1001.4,619.2 1001.8,629.5 1002.3,629.3 1002.8,617.5 1003.3,607.0 1003.8,577.3 1004.3,591.2 1004.7,592.6 1005.2,606.4 1005.7,589.8 1006.2,586.1 1006.7,588.7 1007.2,606.4 1007.6,605.1 1008.1,586.8 1008.6,571.1 1009.1,581.3 1009.6,583.0 1010.1,583.5 1010.5,591.9 1011.0,600.7 1011.5,605.8 1012.0,591.9 1012.5,586.2 1013.0,613.0 1013.4,599.2 1013.9,608.0 1014.4,602.0 1014.9,602.2 1015.4,616.3 1015.9,595.5 1016.3,609.3 1016.8,606.8 1017.3,596.0 1017.8,592.0 1018.3,587.5 1018.8,607.6 1019.2,610.0 1019.7,590.3 1020.2,599.6 1020.7,575.8 1021.2,592.2 1021.7,625.4 1022.1,588.2 1022.6,595.6 1023.1,587.1 1023.6,594.2 1024.1,582.4 1024.6,594.6 1025.0,568.0 1025.5,587.3 1026.0,590.7 1026.5,597.1 1027.0,624.3 1027.5,591.9 1027.9,591.5 1028.4,583.8 1028.9,600.5 1029.4,602.0 1029.9,588.1 1030.4,610.0 1030.8,606.6 1031.3,622.4 1031.8,616.8 1032.3,605.9 1032.8,590.6 1033.3,568.8 1033.7,578.6 1034.2,606.2 1034.7,595.7 1035.2,584.8 1035.7,594.5 1036.2,606.7 1036.6,634.7 1037.1,601.4 1037.6,597.7 1038.1,586.7 1038.6,586.2 1039.1,605.6 1039.5,598.3 1040.0,579.6 1040.5,608.3 1041.0,622.7 1041.5,615.8 1042.0,592.9 1042.4,585.2 1042.9,611.3 1043.4,590.0" fill="none" stroke="#fdbf6f" stroke-width="2.4" stroke-linejoin="miter" stroke-miterlimit="3"/>
<line x1="75.0" y1="687.5" x2="1043.4" y2="687.5" stroke="#8c8c8c" stroke-width="1.8"/>
<line x1="77.0" y1="685.6" x2="1042.4" y2="685.6" stroke="#dedede" stroke-width="1.6"/>
<line x1="76.0" y1="554.3" x2="76.0" y2="693.9" stroke="#a9a9a9" stroke-width="2"/>
<line x1="75.0" y1="554.3" x2="1044.4" y2="554.3" stroke="#575757" stroke-width="2"/>
<line x1="1043.4" y1="554.3" x2="1043.4" y2="693.9" stroke="#575757" stroke-width="2"/>
<line x1="1060.0" y1="687.5" x2="1266.0" y2="687.5" stroke="#8c8c8c" stroke-width="1.8"/>
<line x1="1061.0" y1="685.6" x2="1264.0" y2="685.6" stroke="#e2e2e2" stroke-width="1.6"/>
<line x1="1265.0" y1="554.3" x2="1265.0" y2="686.9" stroke="#a5a5a5" stroke-width="2"/>
<line x1="1263.4" y1="555.3" x2="1263.4" y2="685.9" stroke="#e4e4e4" stroke-width="1.2"/>
<line x1="1059.0" y1="554.3" x2="1266.0" y2="554.3" stroke="#575757" stroke-width="2"/>
<line x1="1060.0" y1="554.3" x2="1060.0" y2="686.9" stroke="#454545" stroke-width="2"/>
<rect x="1061.0" y="562.4" width="18.6" height="7.6" fill="#fbb862"/>
<rect x="1061.0" y="574.6" width="82.0" height="7.8" fill="#fbb862"/>
<rect x="1061.0" y="587.0" width="163.6" height="7.6" fill="#fbb862"/>
<rect x="1061.0" y="598.6" width="193.0" height="7.8" fill="#fbb862"/>
<rect x="1061.0" y="610.6" width="111.0" height="7.8" fill="#fbb862"/>
<rect x="1061.0" y="622.6" width="23.4" height="7.8" fill="#fbb862"/>
<rect x="1061.0" y="635.0" width="4.0" height="8.0" fill="#fbb862"/>
<line x1="68" y1="554.6" x2="75.0" y2="554.6" stroke="#5e5e5e" stroke-width="2"/>
<line x1="1051" y1="554.6" x2="1059.0" y2="554.6" stroke="#5e5e5e" stroke-width="2"/>
<text x="58.6" y="561.4" font-family='"Liberation Sans", sans-serif' font-size="19.8" fill="#6c6c6c" text-anchor="end" font-weight="normal" textLength="35.2" lengthAdjust="spacingAndGlyphs">285</text>
<line x1="68" y1="592.0" x2="75.0" y2="592.0" stroke="#5e5e5e" stroke-width="2"/>
<line x1="1051" y1="592.0" x2="1059.0" y2="592.0" stroke="#5e5e5e" stroke-width="2"/>
<text x="58.6" y="598.8" font-family='"Liberation Sans", sans-serif' font-size="19.8" fill="#6c6c6c" text-anchor="end" font-weight="normal" textLength="35.2" lengthAdjust="spacingAndGlyphs">280</text>
<line x1="68" y1="629.0" x2="75.0" y2="629.0" stroke="#5e5e5e" stroke-width="2"/>
<line x1="1051" y1="629.0" x2="1059.0" y2="629.0" stroke="#5e5e5e" stroke-width="2"/>
<text x="58.6" y="635.8" font-family='"Liberation Sans", sans-serif' font-size="19.8" fill="#6c6c6c" text-anchor="end" font-weight="normal" textLength="35.2" lengthAdjust="spacingAndGlyphs">275</text>
<line x1="68" y1="665.5" x2="75.0" y2="665.5" stroke="#5e5e5e" stroke-width="2"/>
<line x1="1051" y1="665.5" x2="1059.0" y2="665.5" stroke="#5e5e5e" stroke-width="2"/>
<text x="58.6" y="672.3" font-family='"Liberation Sans", sans-serif' font-size="19.8" fill="#6c6c6c" text-anchor="end" font-weight="normal" textLength="35.2" lengthAdjust="spacingAndGlyphs">270</text>
<line x1="75.8" y1="686.9" x2="75.8" y2="693.9" stroke="#7a7a7a" stroke-width="2"/>
<line x1="269.3" y1="686.9" x2="269.3" y2="693.9" stroke="#7a7a7a" stroke-width="2"/>
<line x1="462.8" y1="686.9" x2="462.8" y2="693.9" stroke="#7a7a7a" stroke-width="2"/>
<line x1="656.4" y1="686.9" x2="656.4" y2="693.9" stroke="#7a7a7a" stroke-width="2"/>
<line x1="849.9" y1="686.9" x2="849.9" y2="693.9" stroke="#7a7a7a" stroke-width="2"/>
<line x1="1043.4" y1="686.9" x2="1043.4" y2="693.9" stroke="#7a7a7a" stroke-width="2"/>
<text transform="translate(24.3,621.2) rotate(-90)" x="0" y="0" font-family='"Liberation Sans", sans-serif' font-size="19.5" fill="#6c6c6c" text-anchor="middle" textLength="102.5" lengthAdjust="spacingAndGlyphs">MolSA (Å²)</text>
<clipPath id="c5"><rect x="76.0" y="713.4" width="967.4000000000001" height="132.6"/></clipPath>
<polyline clip-path="url(#c5)" points="77.8,718.0 77.9,739.6 78.4,742.4 78.8,752.9 79.3,766.0 79.8,767.2 80.3,767.0 80.8,769.5 81.3,786.8 81.7,805.0 82.2,803.4 82.7,786.5 83.2,783.1 83.7,808.5 84.2,803.1 84.6,783.0 85.1,793.6 85.6,782.7 86.1,786.4 86.6,788.8 87.1,785.0 87.5,799.6 88.0,797.1 88.5,791.0 89.0,798.8 89.5,806.4 90.0,784.8 90.4,789.8 90.9,785.1 91.4,792.9 91.9,785.7 92.4,797.2 92.9,798.4 93.3,795.6 93.8,789.2 94.3,793.1 94.8,788.2 95.3,782.7 95.8,797.1 96.2,787.6 96.7,807.2 97.2,807.9 97.7,780.7 98.2,793.3 98.7,784.4 99.1,791.7 99.6,792.7 100.1,773.1 100.6,785.7 101.1,790.2 101.6,804.0 102.0,788.4 102.5,801.1 103.0,786.9 103.5,788.9 104.0,783.3 104.5,806.4 104.9,804.6 105.4,822.4 105.9,813.1 106.4,813.0 106.9,810.9 107.4,798.0 107.8,796.8 108.3,811.8 108.8,796.1 109.3,796.3 109.8,793.7 110.3,801.6 110.7,791.1 111.2,792.4 111.7,797.7 112.2,796.9 112.7,788.6 113.2,806.0 113.6,789.2 114.1,784.1 114.6,783.9 115.1,805.8 115.6,798.1 116.1,790.8 116.5,787.7 117.0,800.6 117.5,789.2 118.0,783.5 118.5,799.3 119.0,787.4 119.4,792.6 119.9,794.6 120.4,791.6 120.9,795.0 121.4,808.2 121.9,794.7 122.3,784.3 122.8,773.6 123.3,787.4 123.8,787.6 124.3,796.0 124.8,790.1 125.2,787.6 125.7,783.0 126.2,782.3 126.7,791.7 127.2,788.2 127.7,791.8 128.1,810.5 128.6,801.3 129.1,780.6 129.6,803.2 130.1,799.6 130.6,784.9 131.0,799.1 131.5,795.8 132.0,789.7 132.5,785.5 133.0,781.7 133.5,790.1 133.9,802.1 134.4,792.2 134.9,797.9 135.4,814.0 135.9,790.2 136.4,797.4 136.8,790.8 137.3,781.7 137.8,780.6 138.3,789.1 138.8,793.7 139.3,782.9 139.7,789.9 140.2,796.2 140.7,794.4 141.2,798.5 141.7,797.0 142.2,798.9 142.6,809.0 143.1,801.0 143.6,792.9 144.1,794.3 144.6,778.9 145.1,781.0 145.5,794.8 146.0,798.2 146.5,807.5 147.0,793.3 147.5,776.5 148.0,804.0 148.4,804.1 148.9,782.0 149.4,799.6 149.9,794.2 150.4,775.6 150.9,784.6 151.3,786.5 151.8,806.0 152.3,789.4 152.8,790.2 153.3,790.6 153.8,788.8 154.2,782.1 154.7,792.6 155.2,802.8 155.7,802.3 156.2,786.0 156.7,780.4 157.1,791.3 157.6,786.1 158.1,786.3 158.6,774.8 159.1,804.5 159.6,804.1 160.0,787.6 160.5,798.4 161.0,805.1 161.5,774.3 162.0,780.0 162.5,782.6 162.9,793.2 163.4,788.5 163.9,785.7 164.4,787.8 164.9,807.0 165.3,816.6 165.8,791.6 166.3,782.0 166.8,813.5 167.3,787.8 167.8,784.7 168.2,789.4 168.7,794.5 169.2,802.2 169.7,796.8 170.2,781.3 170.7,788.6 171.1,790.5 171.6,804.7 172.1,791.0 172.6,775.5 173.1,775.7 173.6,798.4 174.0,786.1 174.5,766.5 175.0,774.0 175.5,782.1 176.0,799.5 176.5,781.7 176.9,795.2 177.4,800.6 177.9,789.4 178.4,791.3 178.9,810.7 179.4,814.4 179.8,809.0 180.3,802.0 180.8,807.8 181.3,797.8 181.8,793.7 182.3,785.0 182.7,789.9 183.2,788.1 183.7,814.6 184.2,794.1 184.7,798.4 185.2,802.1 185.6,789.2 186.1,798.5 186.6,769.5 187.1,780.8 187.6,792.9 188.1,766.0 188.5,770.6 189.0,795.4 189.5,790.1 190.0,783.5 190.5,788.3 191.0,789.2 191.4,802.6 191.9,802.3 192.4,793.4 192.9,788.3 193.4,790.3 193.9,804.4 194.3,800.8 194.8,800.9 195.3,792.7 195.8,778.2 196.3,779.0 196.8,794.9 197.2,794.5 197.7,786.2 198.2,772.9 198.7,783.1 199.2,781.8 199.7,783.8 200.1,785.3 200.6,788.5 201.1,788.4 201.6,797.2 202.1,800.0 202.6,805.5 203.0,802.9 203.5,789.9 204.0,789.6 204.5,794.7 205.0,790.5 205.5,796.6 205.9,802.3 206.4,787.4 206.9,775.7 207.4,801.4 207.9,796.6 208.4,800.4 208.8,783.2 209.3,806.5 209.8,804.8 210.3,796.8 210.8,791.5 211.3,791.5 211.7,790.6 212.2,788.2 212.7,777.8 213.2,799.0 213.7,792.7 214.2,791.9 214.6,793.1 215.1,767.1 215.6,789.0 216.1,789.4 216.6,788.9 217.1,791.1 217.5,781.5 218.0,798.1 218.5,787.8 219.0,781.6 219.5,779.2 220.0,791.4 220.4,802.3 220.9,792.1 221.4,782.7 221.9,803.6 222.4,790.4 222.9,805.2 223.3,796.7 223.8,788.1 224.3,786.6 224.8,797.0 225.3,801.9 225.8,792.7 226.2,801.4 226.7,814.7 227.2,796.5 227.7,783.1 228.2,781.6 228.7,774.6 229.1,782.2 229.6,782.8 230.1,777.8 230.6,794.7 231.1,769.8 231.6,774.7 232.0,806.0 232.5,807.0 233.0,800.2 233.5,798.2 234.0,810.4 234.5,799.8 234.9,793.1 235.4,778.7 235.9,784.9 236.4,784.0 236.9,784.1 237.4,783.3 237.8,791.6 238.3,790.2 238.8,801.0 239.3,780.3 239.8,787.0 240.3,809.5 240.7,800.8 241.2,806.6 241.7,809.2 242.2,813.3 242.7,809.3 243.2,787.3 243.6,789.4 244.1,790.2 244.6,778.4 245.1,783.3 245.6,779.2 246.1,774.4 246.5,790.7 247.0,795.7 247.5,788.9 248.0,781.7 248.5,781.6 249.0,785.3 249.4,786.0 249.9,788.7 250.4,784.3 250.9,791.2 251.4,794.3 251.9,794.8 252.3,784.8 252.8,782.4 253.3,792.6 253.8,789.2 254.3,791.0 254.7,762.9 255.2,760.8 255.7,781.6 256.2,789.7 256.7,801.2 257.2,798.6 257.6,792.8 258.1,788.9 258.6,775.6 259.1,793.1 259.6,784.5 260.1,791.8 260.5,790.5 261.0,789.6 261.5,795.2 262.0,783.7 262.5,781.4 263.0,776.0 263.4,779.1 263.9,800.5 264.4,786.7 264.9,798.7 265.4,798.3 265.9,798.5 266.3,798.2 266.8,781.9 267.3,789.7 267.8,801.4 268.3,783.2 268.8,783.0 269.2,774.5 269.7,780.8 270.2,769.0 270.7,794.5 271.2,782.0 271.7,769.0 272.1,797.6 272.6,798.8 273.1,794.8 273.6,790.7 274.1,783.6 274.6,780.1 275.0,789.1 275.5,793.1 276.0,796.7 276.5,791.4 277.0,784.0 277.5,784.1 277.9,796.3 278.4,803.2 278.9,790.3 279.4,783.6 279.9,797.7 280.4,794.0 280.8,792.1 281.3,771.9 281.8,774.8 282.3,774.8 282.8,781.1 283.3,765.1 283.7,790.9 284.2,790.4 284.7,791.6 285.2,777.4 285.7,784.8 286.2,801.9 286.6,775.8 287.1,785.8 287.6,792.7 288.1,781.8 288.6,794.9 289.1,784.4 289.5,796.7 290.0,794.4 290.5,789.9 291.0,805.8 291.5,800.2 292.0,802.7 292.4,778.5 292.9,776.7 293.4,789.7 293.9,795.4 294.4,787.1 294.9,793.9 295.3,776.6 295.8,784.3 296.3,772.5 296.8,783.0 297.3,779.3 297.8,775.2 298.2,780.6 298.7,800.1 299.2,778.2 299.7,777.5 300.2,791.8 300.7,783.7 301.1,804.6 301.6,797.6 302.1,793.7 302.6,793.7 303.1,805.2 303.6,800.0 304.0,797.9 304.5,795.0 305.0,777.5 305.5,779.1 306.0,801.5 306.5,799.2 306.9,794.2 307.4,793.4 307.9,781.3 308.4,784.7 308.9,774.5 309.4,783.2 309.8,777.0 310.3,780.3 310.8,789.0 311.3,783.4 311.8,790.8 312.3,789.9 312.7,790.5 313.2,804.7 313.7,780.9 314.2,772.5 314.7,792.0 315.2,800.6 315.6,814.9 316.1,806.9 316.6,803.9 317.1,784.8 317.6,797.0 318.1,801.3 318.5,785.2 319.0,780.6 319.5,786.8 320.0,792.5 320.5,764.0 321.0,785.0 321.4,794.2 321.9,792.2 322.4,795.5 322.9,801.3 323.4,787.1 323.9,795.7 324.3,794.5 324.8,786.6 325.3,797.4 325.8,809.0 326.3,786.5 326.8,777.7 327.2,775.0 327.7,809.8 328.2,794.8 328.7,792.1 329.2,785.6 329.7,786.7 330.1,773.8 330.6,793.8 331.1,800.2 331.6,781.5 332.1,783.3 332.6,787.7 333.0,794.3 333.5,797.0 334.0,808.6 334.5,812.9 335.0,811.1 335.5,814.2 335.9,789.5 336.4,786.7 336.9,803.0 337.4,799.8 337.9,798.9 338.4,777.7 338.8,774.2 339.3,798.6 339.8,801.5 340.3,796.1 340.8,794.5 341.2,780.0 341.7,794.4 342.2,806.8 342.7,815.0 343.2,801.8 343.7,797.3 344.1,787.0 344.6,806.7 345.1,816.2 345.6,796.3 346.1,797.5 346.6,795.4 347.0,791.3 347.5,770.4 348.0,782.9 348.5,796.4 349.0,782.0 349.5,782.8 349.9,767.8 350.4,797.4 350.9,799.7 351.4,796.3 351.9,791.8 352.4,788.3 352.8,794.3 353.3,794.2 353.8,798.3 354.3,799.0 354.8,803.5 355.3,819.1 355.7,796.0 356.2,805.9 356.7,796.9 357.2,789.5 357.7,776.3 358.2,800.0 358.6,790.2 359.1,789.0 359.6,801.1 360.1,790.6 360.6,797.4 361.1,799.1 361.5,806.8 362.0,810.2 362.5,792.6 363.0,806.5 363.5,801.5 364.0,801.4 364.4,798.2 364.9,807.6 365.4,790.6 365.9,798.6 366.4,809.7 366.9,799.6 367.3,818.4 367.8,797.7 368.3,798.1 368.8,791.1 369.3,787.3 369.8,782.3 370.2,784.2 370.7,789.1 371.2,783.8 371.7,798.5 372.2,808.4 372.7,781.4 373.1,795.9 373.6,795.1 374.1,796.0 374.6,819.0 375.1,816.0 375.6,806.4 376.0,802.0 376.5,777.7 377.0,800.7 377.5,792.1 378.0,798.1 378.5,800.6 378.9,808.7 379.4,820.1 379.9,813.2 380.4,815.4 380.9,800.0 381.4,801.8 381.8,804.2 382.3,783.2 382.8,811.5 383.3,792.6 383.8,781.0 384.3,806.7 384.7,818.4 385.2,796.8 385.7,789.3 386.2,822.0 386.7,801.7 387.2,773.8 387.6,779.6 388.1,806.4 388.6,803.5 389.1,802.3 389.6,808.7 390.1,807.1 390.5,795.7 391.0,779.7 391.5,791.7 392.0,784.1 392.5,790.5 393.0,811.4 393.4,804.6 393.9,798.3 394.4,795.0 394.9,802.1 395.4,805.8 395.9,784.6 396.3,794.0 396.8,809.4 397.3,805.3 397.8,788.7 398.3,787.2 398.8,773.9 399.2,782.0 399.7,807.5 400.2,803.4 400.7,792.0 401.2,794.1 401.7,799.1 402.1,801.1 402.6,796.0 403.1,792.4 403.6,803.6 404.1,814.6 404.6,798.7 405.0,793.1 405.5,809.6 406.0,787.3 406.5,790.0 407.0,793.7 407.5,798.5 407.9,794.4 408.4,786.8 408.9,795.3 409.4,782.6 409.9,777.0 410.4,772.6 410.8,797.7 411.3,780.7 411.8,795.9 412.3,803.4 412.8,806.9 413.3,797.7 413.7,790.6 414.2,794.7 414.7,788.1 415.2,780.4 415.7,801.8 416.2,788.2 416.6,809.5 417.1,804.0 417.6,791.9 418.1,795.0 418.6,803.0 419.1,780.3 419.5,778.4 420.0,776.7 420.5,788.2 421.0,795.1 421.5,793.3 422.0,785.6 422.4,784.7 422.9,802.3 423.4,806.4 423.9,797.8 424.4,781.5 424.9,797.7 425.3,795.2 425.8,794.1 426.3,807.6 426.8,803.7 427.3,784.9 427.8,781.1 428.2,799.7 428.7,796.9 429.2,799.8 429.7,790.1 430.2,779.7 430.6,788.8 431.1,803.9 431.6,796.9 432.1,780.5 432.6,784.2 433.1,783.8 433.5,788.7 434.0,798.1 434.5,811.8 435.0,801.3 435.5,791.9 436.0,795.3 436.4,795.6 436.9,793.8 437.4,795.1 437.9,794.7 438.4,782.1 438.9,797.6 439.3,792.3 439.8,785.4 440.3,794.8 440.8,786.8 441.3,808.3 441.8,803.0 442.2,797.8 442.7,788.2 443.2,788.6 443.7,800.6 444.2,788.6 444.7,799.7 445.1,777.8 445.6,792.9 446.1,801.8 446.6,800.3 447.1,795.6 447.6,802.9 448.0,787.9 448.5,781.3 449.0,788.8 449.5,804.8 450.0,804.1 450.5,797.1 450.9,801.5 451.4,803.2 451.9,787.5 452.4,769.3 452.9,780.8 453.4,780.6 453.8,785.9 454.3,783.0 454.8,784.9 455.3,797.9 455.8,796.7 456.3,794.5 456.7,811.9 457.2,797.1 457.7,794.2 458.2,809.6 458.7,792.1 459.2,781.4 459.6,806.1 460.1,803.6 460.6,805.1 461.1,804.8 461.6,806.4 462.1,793.5 462.5,789.6 463.0,778.0 463.5,786.2 464.0,790.9 464.5,786.6 465.0,796.1 465.4,821.3 465.9,789.0 466.4,800.4 466.9,805.8 467.4,807.0 467.9,789.3 468.3,804.6 468.8,804.9 469.3,796.2 469.8,793.8 470.3,799.6 470.8,806.7 471.2,808.2 471.7,821.4 472.2,799.3 472.7,802.9 473.2,795.6 473.7,806.2 474.1,802.4 474.6,793.7 475.1,783.3 475.6,787.0 476.1,796.3 476.6,812.2 477.0,810.3 477.5,791.2 478.0,791.1 478.5,799.3 479.0,800.8 479.5,802.2 479.9,807.8 480.4,804.9 480.9,796.3 481.4,780.0 481.9,791.9 482.4,785.3 482.8,797.4 483.3,805.0 483.8,792.4 484.3,801.5 484.8,800.4 485.3,821.0 485.7,813.3 486.2,788.6 486.7,806.0 487.2,811.4 487.7,803.6 488.2,801.2 488.6,810.3 489.1,813.7 489.6,812.7 490.1,798.5 490.6,802.2 491.1,789.5 491.5,784.2 492.0,791.9 492.5,787.1 493.0,794.3 493.5,823.5 494.0,814.7 494.4,795.9 494.9,776.4 495.4,784.5 495.9,778.3 496.4,768.0 496.9,790.9 497.3,787.3 497.8,792.4 498.3,819.8 498.8,799.1 499.3,792.6 499.8,794.6 500.2,788.8 500.7,779.8 501.2,783.6 501.7,797.9 502.2,788.5 502.7,775.9 503.1,774.6 503.6,775.8 504.1,784.9 504.6,790.2 505.1,790.7 505.6,796.8 506.0,783.6 506.5,789.0 507.0,787.9 507.5,788.7 508.0,763.2 508.5,785.2 508.9,763.1 509.4,761.9 509.9,779.2 510.4,773.6 510.9,790.5 511.4,781.9 511.8,768.2 512.3,774.0 512.8,771.7 513.3,790.5 513.8,797.1 514.3,790.7 514.7,776.2 515.2,779.0 515.7,789.5 516.2,775.3 516.7,772.2 517.1,787.8 517.6,790.7 518.1,782.3 518.6,779.6 519.1,763.5 519.6,787.4 520.0,783.8 520.5,770.1 521.0,769.5 521.5,773.8 522.0,800.2 522.5,797.0 522.9,776.8 523.4,800.7 523.9,801.8 524.4,778.6 524.9,758.4 525.4,787.1 525.8,781.9 526.3,781.5 526.8,778.4 527.3,794.6 527.8,802.3 528.3,798.5 528.7,788.1 529.2,789.3 529.7,792.3 530.2,774.2 530.7,795.7 531.2,788.5 531.6,791.1 532.1,791.6 532.6,797.8 533.1,802.6 533.6,815.2 534.1,793.4 534.5,781.3 535.0,787.0 535.5,779.0 536.0,790.9 536.5,776.9 537.0,783.3 537.4,792.9 537.9,795.6 538.4,787.6 538.9,796.9 539.4,795.1 539.9,766.7 540.3,779.7 540.8,779.7 541.3,774.0 541.8,768.2 542.3,774.5 542.8,779.5 543.2,782.7 543.7,793.5 544.2,792.3 544.7,775.3 545.2,770.0 545.7,784.7 546.1,773.8 546.6,779.7 547.1,785.1 547.6,792.0 548.1,788.6 548.6,795.5 549.0,779.5 549.5,785.3 550.0,775.5 550.5,780.6 551.0,780.5 551.5,769.2 551.9,749.5 552.4,778.6 552.9,780.6 553.4,779.8 553.9,770.1 554.4,771.1 554.8,779.5 555.3,777.5 555.8,787.9 556.3,781.6 556.8,769.9 557.3,781.9 557.7,772.8 558.2,779.2 558.7,761.2 559.2,769.4 559.7,782.3 560.2,775.9 560.6,779.4 561.1,786.6 561.6,785.1 562.1,798.9 562.6,785.3 563.1,780.5 563.5,777.4 564.0,760.4 564.5,759.2 565.0,778.6 565.5,773.6 566.0,791.3 566.4,782.4 566.9,777.6 567.4,789.1 567.9,783.9 568.4,795.4 568.9,772.6 569.3,782.6 569.8,788.1 570.3,790.5 570.8,795.9 571.3,795.9 571.8,789.9 572.2,780.4 572.7,795.5 573.2,789.7 573.7,798.4 574.2,803.2 574.7,796.0 575.1,785.3 575.6,789.3 576.1,800.9 576.6,793.9 577.1,806.9 577.6,803.0 578.0,800.9 578.5,791.3 579.0,795.5 579.5,806.8 580.0,796.8 580.5,793.3 580.9,788.3 581.4,801.3 581.9,782.6 582.4,782.4 582.9,797.6 583.4,805.8 583.8,794.4 584.3,801.1 584.8,774.8 585.3,790.9 585.8,792.1 586.3,780.0 586.7,769.7 587.2,780.4 587.7,790.3 588.2,793.6 588.7,793.1 589.2,798.4 589.6,798.0 590.1,777.7 590.6,780.8 591.1,781.8 591.6,797.7 592.1,785.0 592.5,796.9 593.0,789.4 593.5,809.7 594.0,793.2 594.5,788.1 595.0,785.0 595.4,788.1 595.9,810.3 596.4,786.8 596.9,778.3 597.4,782.3 597.9,791.9 598.3,778.9 598.8,792.8 599.3,796.7 599.8,790.0 600.3,786.7 600.8,779.2 601.2,783.4 601.7,779.4 602.2,796.6 602.7,805.3 603.2,786.1 603.7,782.2 604.1,762.0 604.6,771.1 605.1,783.2 605.6,787.5 606.1,787.8 606.5,796.6 607.0,790.0 607.5,782.2 608.0,798.1 608.5,769.4 609.0,767.1 609.4,769.5 609.9,769.5 610.4,769.4 610.9,772.7 611.4,769.6 611.9,774.9 612.3,785.6 612.8,783.3 613.3,781.6 613.8,771.6 614.3,766.7 614.8,771.6 615.2,781.4 615.7,782.1 616.2,788.9 616.7,790.1 617.2,792.3 617.7,776.3 618.1,793.4 618.6,792.3 619.1,807.0 619.6,795.7 620.1,789.6 620.6,782.9 621.0,783.4 621.5,765.6 622.0,773.1 622.5,778.0 623.0,788.6 623.5,777.4 623.9,780.5 624.4,798.5 624.9,780.5 625.4,786.1 625.9,777.2 626.4,779.2 626.8,785.1 627.3,790.5 627.8,781.5 628.3,772.9 628.8,796.4 629.3,791.1 629.7,793.9 630.2,798.0 630.7,795.6 631.2,786.9 631.7,785.2 632.2,771.0 632.6,782.4 633.1,782.0 633.6,787.7 634.1,805.4 634.6,799.6 635.1,794.1 635.5,777.7 636.0,794.4 636.5,805.5 637.0,786.2 637.5,793.3 638.0,786.9 638.4,785.8 638.9,783.4 639.4,772.3 639.9,781.2 640.4,773.5 640.9,799.9 641.3,804.8 641.8,795.1 642.3,795.3 642.8,794.1 643.3,795.4 643.8,793.8 644.2,789.0 644.7,790.1 645.2,776.7 645.7,774.8 646.2,780.9 646.7,789.6 647.1,786.6 647.6,808.8 648.1,796.2 648.6,791.1 649.1,795.4 649.6,802.0 650.0,812.2 650.5,805.7 651.0,788.6 651.5,790.2 652.0,802.9 652.5,800.0 652.9,805.0 653.4,796.9 653.9,811.8 654.4,816.5 654.9,815.4 655.4,803.4 655.8,780.9 656.3,776.3 656.8,791.9 657.3,799.5 657.8,769.1 658.3,781.1 658.7,801.9 659.2,805.1 659.7,794.9 660.2,803.0 660.7,796.2 661.2,793.1 661.6,804.1 662.1,807.6 662.6,793.6 663.1,787.5 663.6,782.9 664.1,782.5 664.5,808.5 665.0,819.4 665.5,807.1 666.0,810.4 666.5,794.6 667.0,800.2 667.4,811.2 667.9,806.5 668.4,803.4 668.9,786.5 669.4,781.8 669.9,792.5 670.3,793.6 670.8,799.1 671.3,798.3 671.8,799.7 672.3,804.9 672.8,809.8 673.2,805.9 673.7,798.9 674.2,799.6 674.7,811.6 675.2,803.3 675.7,795.9 676.1,792.3 676.6,804.0 677.1,810.3 677.6,818.0 678.1,807.0 678.6,818.7 679.0,804.8 679.5,800.5 680.0,794.4 680.5,802.9 681.0,808.1 681.5,800.9 681.9,794.4 682.4,786.0 682.9,797.8 683.4,799.3 683.9,801.2 684.4,798.2 684.8,794.4 685.3,797.0 685.8,805.9 686.3,813.6 686.8,808.0 687.3,809.0 687.7,807.0 688.2,809.0 688.7,794.7 689.2,812.7 689.7,815.0 690.2,822.8 690.6,803.2 691.1,803.7 691.6,794.6 692.1,803.8 692.6,803.1 693.0,810.7 693.5,804.1 694.0,811.3 694.5,802.8 695.0,811.1 695.5,804.4 695.9,800.5 696.4,802.6 696.9,808.2 697.4,791.3 697.9,784.4 698.4,796.3 698.8,799.1 699.3,779.7 699.8,777.8 700.3,786.7 700.8,800.7 701.3,802.0 701.7,807.4 702.2,812.5 702.7,825.0 703.2,792.4 703.7,795.8 704.2,810.0 704.6,791.8 705.1,783.7 705.6,796.3 706.1,808.7 706.6,813.9 707.1,787.0 707.5,783.8 708.0,790.8 708.5,790.0 709.0,798.1 709.5,798.4 710.0,812.1 710.4,798.5 710.9,796.5 711.4,794.6 711.9,801.4 712.4,782.9 712.9,793.5 713.3,784.4 713.8,774.7 714.3,797.1 714.8,797.5 715.3,804.0 715.8,795.3 716.2,799.0 716.7,796.9 717.2,798.7 717.7,789.3 718.2,807.7 718.7,788.3 719.1,806.9 719.6,793.4 720.1,797.8 720.6,790.6 721.1,791.5 721.6,800.0 722.0,791.6 722.5,779.0 723.0,788.2 723.5,793.9 724.0,768.2 724.5,793.8 724.9,802.1 725.4,778.2 725.9,784.1 726.4,790.9 726.9,776.8 727.4,779.3 727.8,782.5 728.3,792.6 728.8,800.0 729.3,790.9 729.8,788.6 730.3,796.7 730.7,793.2 731.2,785.4 731.7,799.2 732.2,774.9 732.7,781.7 733.2,778.6 733.6,777.0 734.1,783.5 734.6,785.9 735.1,809.9 735.6,800.5 736.1,793.7 736.5,804.7 737.0,801.5 737.5,773.7 738.0,785.4 738.5,795.9 739.0,784.1 739.4,788.8 739.9,786.5 740.4,790.7 740.9,774.1 741.4,764.6 741.9,775.9 742.3,785.9 742.8,800.6 743.3,788.7 743.8,782.8 744.3,799.5 744.8,792.3 745.2,807.9 745.7,793.2 746.2,771.9 746.7,778.9 747.2,781.2 747.7,778.0 748.1,782.6 748.6,784.2 749.1,789.8 749.6,787.7 750.1,795.3 750.6,798.1 751.0,794.4 751.5,793.6 752.0,772.5 752.5,769.0 753.0,777.1 753.5,789.2 753.9,777.2 754.4,784.8 754.9,791.8 755.4,811.1 755.9,800.2 756.4,791.0 756.8,802.5 757.3,797.6 757.8,788.8 758.3,799.1 758.8,783.5 759.3,788.3 759.7,789.3 760.2,797.2 760.7,783.0 761.2,775.7 761.7,783.1 762.2,784.2 762.6,786.6 763.1,781.0 763.6,791.2 764.1,792.8 764.6,789.7 765.1,775.7 765.5,793.9 766.0,772.3 766.5,781.0 767.0,794.6 767.5,783.9 768.0,798.9 768.4,810.6 768.9,810.7 769.4,801.2 769.9,803.2 770.4,789.1 770.9,793.8 771.3,794.9 771.8,792.8 772.3,791.3 772.8,787.6 773.3,767.6 773.8,785.5 774.2,789.7 774.7,806.3 775.2,800.6 775.7,791.8 776.2,794.9 776.7,795.4 777.1,788.9 777.6,778.9 778.1,767.7 778.6,780.1 779.1,799.4 779.6,771.2 780.0,770.8 780.5,788.0 781.0,786.0 781.5,788.0 782.0,768.4 782.4,775.4 782.9,787.0 783.4,794.1 783.9,792.7 784.4,780.0 784.9,790.5 785.3,776.2 785.8,775.8 786.3,771.7 786.8,795.4 787.3,784.0 787.8,784.2 788.2,762.4 788.7,790.0 789.2,792.1 789.7,773.4 790.2,767.4 790.7,798.8 791.1,780.8 791.6,801.3 792.1,787.5 792.6,762.9 793.1,787.7 793.6,790.5 794.0,792.4 794.5,780.6 795.0,781.0 795.5,789.7 796.0,777.0 796.5,761.5 796.9,784.3 797.4,774.4 797.9,793.2 798.4,780.0 798.9,775.1 799.4,776.0 799.8,756.4 800.3,784.7 800.8,777.4 801.3,779.4 801.8,796.4 802.3,791.5 802.7,798.7 803.2,793.0 803.7,797.1 804.2,792.0 804.7,800.9 805.2,788.2 805.6,791.6 806.1,783.1 806.6,797.9 807.1,770.4 807.6,783.1 808.1,787.8 808.5,788.3 809.0,786.1 809.5,797.4 810.0,810.2 810.5,786.4 811.0,768.0 811.4,770.7 811.9,773.0 812.4,780.7 812.9,784.5 813.4,797.5 813.9,786.2 814.3,787.8 814.8,791.0 815.3,783.5 815.8,785.6 816.3,813.3 816.8,796.0 817.2,780.7 817.7,764.4 818.2,790.8 818.7,786.3 819.2,780.0 819.7,809.5 820.1,811.3 820.6,778.7 821.1,782.3 821.6,798.4 822.1,802.2 822.6,784.8 823.0,807.9 823.5,814.0 824.0,788.1 824.5,772.8 825.0,773.0 825.5,791.8 825.9,800.4 826.4,796.0 826.9,788.7 827.4,790.2 827.9,797.3 828.4,783.7 828.8,775.2 829.3,786.5 829.8,803.3 830.3,799.6 830.8,798.1 831.3,791.6 831.7,804.9 832.2,782.7 832.7,792.9 833.2,792.6 833.7,797.2 834.2,791.5 834.6,803.1 835.1,799.1 835.6,793.7 836.1,802.1 836.6,798.9 837.1,794.3 837.5,791.3 838.0,802.9 838.5,790.1 839.0,793.4 839.5,795.6 840.0,801.6 840.4,797.0 840.9,819.6 841.4,787.4 841.9,802.0 842.4,798.9 842.9,810.2 843.3,787.5 843.8,808.1 844.3,787.8 844.8,802.2 845.3,807.1 845.8,803.5 846.2,796.1 846.7,792.7 847.2,800.0 847.7,792.1 848.2,779.6 848.7,776.0 849.1,799.3 849.6,808.4 850.1,806.3 850.6,804.4 851.1,806.4 851.6,806.6 852.0,805.8 852.5,793.2 853.0,790.9 853.5,785.7 854.0,798.3 854.5,791.9 854.9,797.6 855.4,811.8 855.9,798.3 856.4,807.0 856.9,816.5 857.4,786.4 857.8,781.2 858.3,797.0 858.8,791.4 859.3,799.7 859.8,807.2 860.3,798.2 860.7,808.9 861.2,820.3 861.7,815.5 862.2,796.4 862.7,797.3 863.2,792.6 863.6,809.9 864.1,799.1 864.6,790.6 865.1,795.4 865.6,799.7 866.1,791.0 866.5,792.4 867.0,792.8 867.5,798.0 868.0,802.9 868.5,796.6 868.9,787.2 869.4,793.9 869.9,781.6 870.4,794.7 870.9,794.8 871.4,794.4 871.8,770.0 872.3,808.9 872.8,814.7 873.3,813.1 873.8,802.2 874.3,807.4 874.7,825.9 875.2,801.5 875.7,807.9 876.2,806.6 876.7,800.1 877.2,799.3 877.6,786.6 878.1,798.7 878.6,786.3 879.1,810.1 879.6,807.6 880.1,789.4 880.5,773.2 881.0,789.7 881.5,796.6 882.0,783.2 882.5,805.9 883.0,800.2 883.4,792.3 883.9,781.1 884.4,789.5 884.9,792.7 885.4,801.4 885.9,809.1 886.3,801.8 886.8,801.9 887.3,811.7 887.8,805.7 888.3,795.8 888.8,801.3 889.2,792.4 889.7,799.3 890.2,796.8 890.7,786.5 891.2,799.0 891.7,796.6 892.1,801.7 892.6,785.0 893.1,805.7 893.6,812.7 894.1,798.4 894.6,797.4 895.0,795.7 895.5,795.8 896.0,803.8 896.5,791.9 897.0,782.0 897.5,789.1 897.9,810.2 898.4,792.7 898.9,784.4 899.4,780.4 899.9,791.8 900.4,804.2 900.8,789.6 901.3,794.6 901.8,797.8 902.3,801.3 902.8,797.5 903.3,805.4 903.7,806.4 904.2,795.6 904.7,820.4 905.2,792.2 905.7,783.8 906.2,805.7 906.6,801.8 907.1,797.8 907.6,799.9 908.1,804.2 908.6,796.2 909.1,792.1 909.5,783.8 910.0,781.1 910.5,782.0 911.0,802.0 911.5,799.0 912.0,801.3 912.4,791.2 912.9,803.2 913.4,782.3 913.9,797.6 914.4,804.0 914.9,793.5 915.3,784.9 915.8,797.7 916.3,787.3 916.8,783.8 917.3,791.3 917.8,783.2 918.2,790.5 918.7,813.6 919.2,794.8 919.7,803.2 920.2,785.6 920.7,791.3 921.1,789.5 921.6,788.4 922.1,798.6 922.6,814.7 923.1,797.8 923.6,807.5 924.0,803.4 924.5,804.9 925.0,794.3 925.5,790.6 926.0,793.1 926.5,789.5 926.9,794.7 927.4,787.5 927.9,794.9 928.4,799.5 928.9,815.6 929.4,818.4 929.8,807.0 930.3,793.1 930.8,800.7 931.3,804.9 931.8,796.8 932.3,787.6 932.7,776.1 933.2,790.5 933.7,814.6 934.2,800.4 934.7,801.5 935.2,800.2 935.6,802.5 936.1,806.7 936.6,782.8 937.1,788.8 937.6,797.8 938.1,796.0 938.5,811.4 939.0,799.5 939.5,808.0 940.0,819.4 940.5,800.9 941.0,797.4 941.4,795.0 941.9,802.5 942.4,776.0 942.9,776.9 943.4,789.1 943.9,803.2 944.3,807.6 944.8,795.4 945.3,815.3 945.8,807.1 946.3,797.4 946.8,806.7 947.2,817.3 947.7,805.4 948.2,787.5 948.7,793.0 949.2,799.4 949.7,808.7 950.1,790.2 950.6,799.2 951.1,787.7 951.6,796.3 952.1,784.8 952.6,789.3 953.0,780.2 953.5,781.8 954.0,777.1 954.5,774.5 955.0,802.9 955.5,811.4 955.9,809.2 956.4,799.2 956.9,816.0 957.4,805.0 957.9,808.8 958.3,815.7 958.8,807.8 959.3,819.1 959.8,806.5 960.3,802.2 960.8,801.2 961.2,788.5 961.7,789.1 962.2,806.8 962.7,789.3 963.2,810.4 963.7,805.9 964.1,813.5 964.6,813.5 965.1,811.7 965.6,822.0 966.1,807.3 966.6,800.8 967.0,810.9 967.5,796.9 968.0,812.1 968.5,813.0 969.0,800.1 969.5,787.8 969.9,777.1 970.4,811.0 970.9,790.2 971.4,784.8 971.9,804.4 972.4,806.0 972.8,805.4 973.3,804.1 973.8,796.1 974.3,787.2 974.8,787.9 975.3,800.1 975.7,811.1 976.2,815.5 976.7,807.5 977.2,783.2 977.7,801.6 978.2,799.0 978.6,775.7 979.1,807.6 979.6,805.1 980.1,804.9 980.6,807.5 981.1,805.8 981.5,807.5 982.0,804.7 982.5,802.9 983.0,809.3 983.5,807.2 984.0,827.1 984.4,811.2 984.9,800.4 985.4,795.1 985.9,801.7 986.4,802.2 986.9,804.7 987.3,799.0 987.8,799.2 988.3,809.0 988.8,817.0 989.3,810.8 989.8,805.2 990.2,794.1 990.7,790.4 991.2,801.4 991.7,801.7 992.2,804.4 992.7,793.7 993.1,801.8 993.6,784.1 994.1,789.9 994.6,795.3 995.1,812.6 995.6,804.9 996.0,799.4 996.5,806.7 997.0,805.5 997.5,815.1 998.0,812.6 998.5,811.2 998.9,806.4 999.4,813.2 999.9,802.9 1000.4,788.8 1000.9,807.7 1001.4,801.0 1001.8,803.1 1002.3,811.2 1002.8,815.7 1003.3,778.6 1003.8,785.9 1004.3,811.6 1004.7,788.4 1005.2,801.0 1005.7,796.0 1006.2,787.9 1006.7,793.8 1007.2,781.8 1007.6,798.7 1008.1,811.7 1008.6,791.4 1009.1,793.0 1009.6,811.9 1010.1,809.6 1010.5,802.6 1011.0,815.7 1011.5,789.2 1012.0,795.8 1012.5,805.1 1013.0,801.5 1013.4,811.6 1013.9,788.6 1014.4,798.4 1014.9,791.7 1015.4,812.0 1015.9,815.9 1016.3,798.3 1016.8,791.2 1017.3,797.2 1017.8,792.0 1018.3,791.5 1018.8,801.0 1019.2,795.6 1019.7,816.0 1020.2,804.2 1020.7,794.3 1021.2,783.5 1021.7,784.1 1022.1,801.0 1022.6,802.7 1023.1,811.9 1023.6,814.8 1024.1,807.7 1024.6,793.4 1025.0,793.6 1025.5,798.5 1026.0,782.3 1026.5,798.2 1027.0,787.5 1027.5,792.6 1027.9,789.7 1028.4,797.5 1028.9,822.6 1029.4,792.5 1029.9,795.6 1030.4,816.1 1030.8,793.6 1031.3,792.3 1031.8,794.8 1032.3,800.4 1032.8,781.8 1033.3,794.4 1033.7,799.3 1034.2,818.6 1034.7,801.0 1035.2,791.2 1035.7,796.8 1036.2,771.2 1036.6,792.9 1037.1,811.2 1037.6,799.8 1038.1,796.4 1038.6,794.2 1039.1,797.3 1039.5,782.9 1040.0,804.5 1040.5,796.1 1041.0,790.6 1041.5,808.6 1042.0,798.2 1042.4,790.6 1042.9,809.2 1043.4,799.3" fill="none" stroke="#a6cee3" stroke-width="2.4" stroke-linejoin="miter" stroke-miterlimit="3"/>
<line x1="75.0" y1="846.6" x2="1043.4" y2="846.6" stroke="#8c8c8c" stroke-width="1.8"/>
<line x1="77.0" y1="844.7" x2="1042.4" y2="844.7" stroke="#dedede" stroke-width="1.6"/>
<line x1="76.0" y1="713.4" x2="76.0" y2="853.0" stroke="#a9a9a9" stroke-width="2"/>
<line x1="75.0" y1="713.4" x2="1044.4" y2="713.4" stroke="#575757" stroke-width="2"/>
<line x1="1043.4" y1="713.4" x2="1043.4" y2="853.0" stroke="#575757" stroke-width="2"/>
<line x1="1060.0" y1="846.6" x2="1266.0" y2="846.6" stroke="#8c8c8c" stroke-width="1.8"/>
<line x1="1061.0" y1="844.7" x2="1264.0" y2="844.7" stroke="#e2e2e2" stroke-width="1.6"/>
<line x1="1265.0" y1="713.4" x2="1265.0" y2="846.0" stroke="#a5a5a5" stroke-width="2"/>
<line x1="1263.4" y1="714.4" x2="1263.4" y2="845.0" stroke="#e4e4e4" stroke-width="1.2"/>
<line x1="1059.0" y1="713.4" x2="1266.0" y2="713.4" stroke="#575757" stroke-width="2"/>
<line x1="1060.0" y1="713.4" x2="1060.0" y2="846.0" stroke="#454545" stroke-width="2"/>
<rect x="1061.0" y="758.4" width="2.0" height="6.0" fill="#9ccae0"/>
<rect x="1061.0" y="769.6" width="36.0" height="7.4" fill="#9ccae0"/>
<rect x="1061.0" y="782.0" width="140.6" height="7.6" fill="#9ccae0"/>
<rect x="1061.0" y="794.4" width="193.0" height="7.6" fill="#9ccae0"/>
<rect x="1061.0" y="806.6" width="90.6" height="7.0" fill="#9ccae0"/>
<rect x="1061.0" y="818.4" width="13.0" height="8.0" fill="#9ccae0"/>
<line x1="68" y1="745.1" x2="75.0" y2="745.1" stroke="#5e5e5e" stroke-width="2"/>
<line x1="1051" y1="745.1" x2="1059.0" y2="745.1" stroke="#5e5e5e" stroke-width="2"/>
<text x="58.6" y="751.9" font-family='"Liberation Sans", sans-serif' font-size="19.8" fill="#6c6c6c" text-anchor="end" font-weight="normal" textLength="35.2" lengthAdjust="spacingAndGlyphs">240</text>
<line x1="68" y1="783.3" x2="75.0" y2="783.3" stroke="#5e5e5e" stroke-width="2"/>
<line x1="1051" y1="783.3" x2="1059.0" y2="783.3" stroke="#5e5e5e" stroke-width="2"/>
<text x="58.6" y="790.1" font-family='"Liberation Sans", sans-serif' font-size="19.8" fill="#6c6c6c" text-anchor="end" font-weight="normal" textLength="35.2" lengthAdjust="spacingAndGlyphs">180</text>
<line x1="68" y1="820.9" x2="75.0" y2="820.9" stroke="#5e5e5e" stroke-width="2"/>
<line x1="1051" y1="820.9" x2="1059.0" y2="820.9" stroke="#5e5e5e" stroke-width="2"/>
<text x="58.6" y="827.7" font-family='"Liberation Sans", sans-serif' font-size="19.8" fill="#6c6c6c" text-anchor="end" font-weight="normal" textLength="35.2" lengthAdjust="spacingAndGlyphs">120</text>
<line x1="75.8" y1="846.0" x2="75.8" y2="853.0" stroke="#7a7a7a" stroke-width="2"/>
<line x1="269.3" y1="846.0" x2="269.3" y2="853.0" stroke="#7a7a7a" stroke-width="2"/>
<line x1="462.8" y1="846.0" x2="462.8" y2="853.0" stroke="#7a7a7a" stroke-width="2"/>
<line x1="656.4" y1="846.0" x2="656.4" y2="853.0" stroke="#7a7a7a" stroke-width="2"/>
<line x1="849.9" y1="846.0" x2="849.9" y2="853.0" stroke="#7a7a7a" stroke-width="2"/>
<line x1="1043.4" y1="846.0" x2="1043.4" y2="853.0" stroke="#7a7a7a" stroke-width="2"/>
<text transform="translate(24.3,780.5) rotate(-90)" x="0" y="0" font-family='"Liberation Sans", sans-serif' font-size="19.5" fill="#6c6c6c" text-anchor="middle" textLength="94.6" lengthAdjust="spacingAndGlyphs">SASA (Å²)</text>
<clipPath id="c6"><rect x="76.0" y="872.5" width="967.4000000000001" height="132.6"/></clipPath>
<polyline clip-path="url(#c6)" points="77.8,893.0 77.9,955.5 78.4,909.8 78.8,913.0 79.3,939.7 79.8,971.1 80.3,949.7 80.8,957.4 81.3,942.8 81.7,945.6 82.2,938.7 82.7,916.1 83.2,911.8 83.7,931.7 84.2,922.2 84.6,947.3 85.1,884.0 85.6,964.6 86.1,944.0 86.6,960.4 87.1,926.7 87.5,920.3 88.0,977.3 88.5,938.5 89.0,910.4 89.5,910.4 90.0,928.5 90.4,916.4 90.9,950.2 91.4,944.0 91.9,943.5 92.4,943.1 92.9,953.4 93.3,938.3 93.8,954.0 94.3,929.8 94.8,930.5 95.3,922.1 95.8,941.4 96.2,936.7 96.7,923.9 97.2,964.6 97.7,938.5 98.2,937.7 98.7,942.3 99.1,965.4 99.6,936.6 100.1,943.8 100.6,935.3 101.1,911.2 101.6,937.7 102.0,954.1 102.5,939.1 103.0,939.5 103.5,916.8 104.0,911.3 104.5,921.8 104.9,944.0 105.4,935.9 105.9,943.6 106.4,953.4 106.9,943.6 107.4,951.5 107.8,966.0 108.3,930.0 108.8,950.9 109.3,916.5 109.8,942.2 110.3,948.6 110.7,940.2 111.2,928.5 111.7,944.4 112.2,946.4 112.7,951.2 113.2,935.0 113.6,951.1 114.1,926.9 114.6,930.4 115.1,930.6 115.6,958.9 116.1,894.3 116.5,924.0 117.0,952.1 117.5,928.9 118.0,915.0 118.5,934.0 119.0,934.4 119.4,955.4 119.9,936.5 120.4,948.1 120.9,959.9 121.4,966.4 121.9,937.5 122.3,966.5 122.8,939.7 123.3,919.0 123.8,923.0 124.3,940.7 124.8,936.5 125.2,950.6 125.7,955.6 126.2,952.6 126.7,939.7 127.2,966.6 127.7,915.5 128.1,912.2 128.6,924.7 129.1,917.4 129.6,912.2 130.1,914.5 130.6,919.9 131.0,912.3 131.5,939.8 132.0,962.6 132.5,966.7 133.0,940.3 133.5,944.6 133.9,924.9 134.4,940.3 134.9,930.7 135.4,946.4 135.9,939.0 136.4,959.7 136.8,960.9 137.3,966.8 137.8,927.1 138.3,912.4 138.8,941.0 139.3,933.2 139.7,945.6 140.2,946.6 140.7,947.5 141.2,954.3 141.7,953.3 142.2,949.7 142.6,931.5 143.1,964.0 143.6,948.7 144.1,961.1 144.6,948.7 145.1,961.1 145.5,946.8 146.0,945.2 146.5,943.0 147.0,927.2 147.5,921.8 148.0,926.9 148.4,928.7 148.9,915.6 149.4,967.1 149.9,929.5 150.4,924.3 150.9,967.1 151.3,933.8 151.8,947.8 152.3,950.7 152.8,936.2 153.3,915.4 153.8,912.8 154.2,926.9 154.7,943.6 155.2,912.8 155.7,931.3 156.2,924.8 156.7,948.8 157.1,942.9 157.6,920.5 158.1,922.6 158.6,928.7 159.1,951.0 159.6,967.3 160.0,954.7 160.5,940.8 161.0,947.8 161.5,935.1 162.0,947.9 162.5,942.8 162.9,935.6 163.4,920.7 163.9,930.2 164.4,947.1 164.9,937.9 165.3,957.9 165.8,960.7 166.3,940.3 166.8,967.4 167.3,928.5 167.8,955.3 168.2,967.4 168.7,945.0 169.2,932.9 169.7,943.9 170.2,958.0 170.7,947.3 171.1,942.7 171.6,950.4 172.1,943.9 172.6,918.8 173.1,926.4 173.6,934.9 174.0,913.1 174.5,934.8 175.0,924.0 175.5,944.2 176.0,915.6 176.5,914.2 176.9,993.0 177.4,946.6 177.9,963.0 178.4,967.5 178.9,967.5 179.4,967.5 179.8,966.4 180.3,923.0 180.8,945.7 181.3,937.1 181.8,937.3 182.3,927.0 182.7,965.5 183.2,958.1 183.7,924.7 184.2,948.4 184.7,942.5 185.2,925.8 185.6,933.4 186.1,931.3 186.6,913.2 187.1,913.2 187.6,939.4 188.1,947.5 188.5,949.6 189.0,929.9 189.5,934.3 190.0,945.0 190.5,957.5 191.0,938.9 191.4,928.2 191.9,956.7 192.4,945.4 192.9,934.5 193.4,924.3 193.9,924.0 194.3,961.2 194.8,958.5 195.3,934.0 195.8,916.0 196.3,959.3 196.8,967.7 197.2,967.8 197.7,963.9 198.2,902.1 198.7,916.7 199.2,940.5 199.7,933.6 200.1,941.9 200.6,931.2 201.1,925.8 201.6,943.6 202.1,935.9 202.6,939.8 203.0,947.0 203.5,947.8 204.0,960.2 204.5,967.8 205.0,924.1 205.5,932.0 205.9,923.5 206.4,944.6 206.9,921.6 207.4,947.2 207.9,958.0 208.4,955.8 208.8,930.4 209.3,934.5 209.8,920.9 210.3,937.9 210.8,953.8 211.3,914.4 211.7,919.0 212.2,932.3 212.7,933.0 213.2,968.0 213.7,952.2 214.2,952.8 214.6,927.3 215.1,965.6 215.6,955.9 216.1,960.7 216.6,949.8 217.1,913.6 217.5,913.6 218.0,913.6 218.5,946.7 219.0,938.7 219.5,953.4 220.0,950.5 220.4,948.4 220.9,960.7 221.4,949.2 221.9,919.9 222.4,921.2 222.9,960.4 223.3,925.7 223.8,955.9 224.3,968.1 224.8,942.1 225.3,949.1 225.8,926.7 226.2,951.8 226.7,932.6 227.2,915.4 227.7,929.7 228.2,928.2 228.7,930.2 229.1,940.5 229.6,900.8 230.1,931.0 230.6,956.7 231.1,968.2 231.6,957.6 232.0,936.2 232.5,925.1 233.0,946.5 233.5,939.5 234.0,939.9 234.5,913.9 234.9,914.1 235.4,919.0 235.9,950.5 236.4,942.3 236.9,914.1 237.4,943.2 237.8,964.9 238.3,968.5 238.8,914.2 239.3,935.5 239.8,959.6 240.3,966.4 240.7,953.3 241.2,922.2 241.7,935.8 242.2,942.9 242.7,955.6 243.2,959.6 243.6,945.3 244.1,958.0 244.6,930.2 245.1,924.5 245.6,929.6 246.1,946.9 246.5,935.5 247.0,958.1 247.5,950.8 248.0,927.8 248.5,938.5 249.0,924.6 249.4,925.5 249.9,917.7 250.4,960.3 250.9,965.1 251.4,924.7 251.9,955.9 252.3,965.2 252.8,947.9 253.3,956.1 253.8,969.3 254.3,960.8 254.7,955.2 255.2,981.6 255.7,929.1 256.2,915.1 256.7,915.1 257.2,929.5 257.6,949.4 258.1,928.6 258.6,915.2 259.1,936.0 259.6,930.1 260.1,943.4 260.5,941.3 261.0,935.1 261.5,936.3 262.0,941.8 262.5,928.5 263.0,925.5 263.4,967.7 263.9,969.9 264.4,969.9 264.9,931.1 265.4,945.7 265.9,964.3 266.3,924.7 266.8,928.7 267.3,932.0 267.8,929.9 268.3,929.4 268.8,959.0 269.2,942.7 269.7,938.1 270.2,967.3 270.7,933.7 271.2,915.8 271.7,935.4 272.1,967.9 272.6,952.4 273.1,947.0 273.6,922.7 274.1,922.6 274.6,961.8 275.0,969.3 275.5,962.1 276.0,903.4 276.5,923.0 277.0,922.5 277.5,918.5 277.9,946.8 278.4,933.9 278.9,934.4 279.4,957.9 279.9,965.4 280.4,956.5 280.8,962.2 281.3,951.7 281.8,918.8 282.3,938.6 282.8,937.7 283.3,941.9 283.7,951.6 284.2,939.5 284.7,966.2 285.2,951.8 285.7,953.1 286.2,952.8 286.6,943.5 287.1,954.7 287.6,960.1 288.1,959.5 288.6,933.8 289.1,922.4 289.5,919.7 290.0,928.7 290.5,916.3 291.0,918.0 291.5,916.3 292.0,921.2 292.4,916.4 292.9,944.2 293.4,945.6 293.9,959.4 294.4,930.9 294.9,925.3 295.3,928.1 295.8,964.7 296.3,970.9 296.8,945.3 297.3,956.3 297.8,970.9 298.2,941.4 298.7,943.2 299.2,965.6 299.7,965.4 300.2,984.0 300.7,969.8 301.1,964.2 301.6,960.6 302.1,927.2 302.6,933.7 303.1,987.9 303.6,954.5 304.0,952.3 304.5,938.2 305.0,960.4 305.5,935.0 306.0,947.6 306.5,943.1 306.9,925.2 307.4,961.5 307.9,927.3 308.4,925.0 308.9,941.7 309.4,923.5 309.8,916.8 310.3,938.1 310.8,941.2 311.3,942.9 311.8,957.3 312.3,971.3 312.7,952.9 313.2,971.3 313.7,963.3 314.2,953.6 314.7,916.9 315.2,917.0 315.6,944.8 316.1,900.1 316.6,936.9 317.1,948.9 317.6,961.3 318.1,944.6 318.5,917.9 319.0,919.9 319.5,929.4 320.0,941.7 320.5,951.5 321.0,924.9 321.4,931.7 321.9,928.8 322.4,932.1 322.9,955.2 323.4,966.7 323.9,944.8 324.3,935.0 324.8,932.3 325.3,933.8 325.8,937.6 326.3,946.5 326.8,944.5 327.2,933.7 327.7,929.9 328.2,945.3 328.7,991.0 329.2,969.7 329.7,970.2 330.1,963.1 330.6,953.5 331.1,971.8 331.6,955.1 332.1,937.9 332.6,925.3 333.0,947.2 333.5,930.1 334.0,927.3 334.5,930.4 335.0,921.7 335.5,943.4 335.9,919.9 336.4,971.9 336.9,917.5 337.4,917.5 337.9,932.4 338.4,945.9 338.8,935.1 339.3,941.0 339.8,945.9 340.3,944.9 340.8,952.9 341.2,950.2 341.7,942.1 342.2,940.4 342.7,957.0 343.2,943.8 343.7,951.4 344.1,967.9 344.6,957.0 345.1,963.8 345.6,941.6 346.1,947.1 346.6,984.6 347.0,952.3 347.5,955.3 348.0,970.8 348.5,946.1 349.0,933.4 349.5,948.3 349.9,924.4 350.4,937.4 350.9,962.5 351.4,953.6 351.9,959.8 352.4,961.8 352.8,972.4 353.3,966.0 353.8,951.5 354.3,918.0 354.8,921.0 355.3,948.6 355.7,941.3 356.2,928.4 356.7,954.1 357.2,929.1 357.7,933.1 358.2,948.7 358.6,935.7 359.1,943.9 359.6,943.4 360.1,922.9 360.6,928.0 361.1,932.7 361.5,930.9 362.0,959.9 362.5,949.7 363.0,942.7 363.5,925.2 364.0,941.2 364.4,969.1 364.9,953.6 365.4,967.5 365.9,964.4 366.4,949.0 366.9,941.0 367.3,956.6 367.8,923.5 368.3,949.7 368.8,933.1 369.3,960.7 369.8,946.0 370.2,946.8 370.7,990.9 371.2,935.3 371.7,942.9 372.2,939.7 372.7,953.2 373.1,962.1 373.6,954.9 374.1,951.8 374.6,939.7 375.1,953.0 375.6,944.2 376.0,947.5 376.5,982.0 377.0,923.0 377.5,922.4 378.0,942.9 378.5,947.6 378.9,966.7 379.4,918.9 379.9,940.6 380.4,962.0 380.9,955.3 381.4,963.3 381.8,1000.0 382.3,947.6 382.8,961.3 383.3,932.0 383.8,919.0 384.3,944.1 384.7,952.3 385.2,954.9 385.7,954.6 386.2,963.6 386.7,946.2 387.2,954.9 387.6,958.6 388.1,931.9 388.6,935.2 389.1,946.1 389.6,900.7 390.1,954.4 390.5,944.3 391.0,955.6 391.5,969.5 392.0,928.9 392.5,901.1 393.0,944.4 393.4,939.8 393.9,947.8 394.4,968.7 394.9,940.4 395.4,953.6 395.9,939.8 396.3,928.4 396.8,944.3 397.3,947.1 397.8,963.2 398.3,953.2 398.8,958.2 399.2,952.7 399.7,919.6 400.2,929.5 400.7,934.9 401.2,957.0 401.7,935.0 402.1,950.0 402.6,943.6 403.1,920.1 403.6,937.5 404.1,956.0 404.6,946.7 405.0,962.0 405.5,962.7 406.0,960.1 406.5,946.3 407.0,947.1 407.5,960.4 407.9,1000.0 408.4,935.0 408.9,945.9 409.4,956.3 409.9,970.4 410.4,968.0 410.8,936.6 411.3,956.1 411.8,920.7 412.3,926.3 412.8,926.6 413.3,965.6 413.7,962.2 414.2,953.9 414.7,933.3 415.2,959.9 415.7,942.0 416.2,989.6 416.6,961.6 417.1,940.8 417.6,950.1 418.1,916.8 418.6,940.9 419.1,916.6 419.5,941.1 420.0,947.6 420.5,952.5 421.0,970.5 421.5,916.0 422.0,940.6 422.4,933.0 422.9,950.5 423.4,950.6 423.9,951.7 424.4,937.0 424.9,932.2 425.3,950.1 425.8,923.5 426.3,961.6 426.8,941.5 427.3,949.6 427.8,925.8 428.2,946.6 428.7,939.0 429.2,952.7 429.7,963.5 430.2,943.3 430.6,945.0 431.1,951.3 431.6,965.9 432.1,927.1 432.6,945.8 433.1,878.0 433.5,917.9 434.0,926.5 434.5,923.1 435.0,949.5 435.5,924.7 436.0,949.8 436.4,934.8 436.9,946.5 437.4,913.5 437.9,916.8 438.4,938.4 438.9,924.8 439.3,912.2 439.8,930.2 440.3,951.5 440.8,943.2 441.3,938.2 441.8,948.0 442.2,934.8 442.7,953.0 443.2,960.5 443.7,922.5 444.2,946.2 444.7,944.7 445.1,938.3 445.6,938.6 446.1,955.3 446.6,964.6 447.1,964.5 447.6,940.8 448.0,955.7 448.5,917.0 449.0,945.0 449.5,949.1 450.0,899.0 450.5,929.9 450.9,957.1 451.4,960.3 451.9,945.2 452.4,916.3 452.9,930.9 453.4,917.0 453.8,910.4 454.3,910.3 454.8,960.7 455.3,912.3 455.8,916.4 456.3,923.9 456.7,942.5 457.2,917.3 457.7,911.3 458.2,941.6 458.7,940.4 459.2,955.9 459.6,921.6 460.1,927.1 460.6,946.8 461.1,942.4 461.6,924.8 462.1,935.4 462.5,909.2 463.0,918.7 463.5,944.3 464.0,951.2 464.5,948.7 465.0,952.2 465.4,917.1 465.9,916.7 466.4,945.0 466.9,960.9 467.4,957.9 467.9,930.4 468.3,920.6 468.8,950.9 469.3,959.0 469.8,924.3 470.3,932.3 470.8,953.6 471.2,960.7 471.7,932.6 472.2,933.5 472.7,942.7 473.2,920.2 473.7,909.2 474.1,916.7 474.6,949.1 475.1,959.3 475.6,951.2 476.1,925.0 476.6,909.3 477.0,913.7 477.5,934.8 478.0,953.2 478.5,932.4 479.0,939.1 479.5,916.9 479.9,909.3 480.4,935.3 480.9,926.5 481.4,928.7 481.9,909.3 482.4,948.9 482.8,920.9 483.3,939.9 483.8,921.4 484.3,933.5 484.8,960.6 485.3,950.8 485.7,943.4 486.2,954.0 486.7,949.5 487.2,960.6 487.7,924.4 488.2,957.5 488.6,942.3 489.1,921.9 489.6,940.2 490.1,942.2 490.6,932.8 491.1,974.4 491.5,919.2 492.0,909.5 492.5,912.9 493.0,942.0 493.5,936.6 494.0,931.7 494.4,917.8 494.9,926.8 495.4,952.4 495.9,932.7 496.4,924.0 496.9,937.3 497.3,943.8 497.8,939.2 498.3,956.0 498.8,945.6 499.3,922.5 499.8,909.6 500.2,944.7 500.7,938.9 501.2,941.1 501.7,946.3 502.2,960.2 502.7,955.5 503.1,953.0 503.6,941.0 504.1,928.1 504.6,933.0 505.1,915.9 505.6,930.1 506.0,946.2 506.5,946.0 507.0,937.5 507.5,919.7 508.0,916.0 508.5,916.5 508.9,921.8 509.4,931.6 509.9,934.4 510.4,939.2 510.9,947.1 511.4,920.7 511.8,925.7 512.3,942.7 512.8,950.3 513.3,928.1 513.8,925.0 514.3,950.9 514.7,950.3 515.2,944.6 515.7,929.2 516.2,915.6 516.7,926.6 517.1,938.8 517.6,943.8 518.1,950.8 518.6,940.7 519.1,952.2 519.6,933.7 520.0,937.8 520.5,934.9 521.0,909.9 521.5,909.9 522.0,916.1 522.5,930.0 522.9,939.0 523.4,953.8 523.9,939.2 524.4,930.8 524.9,939.6 525.4,919.1 525.8,927.7 526.3,916.7 526.8,928.5 527.3,922.7 527.8,922.8 528.3,960.0 528.7,960.0 529.2,959.9 529.7,958.5 530.2,945.3 530.7,933.4 531.2,939.3 531.6,914.4 532.1,932.9 532.6,926.9 533.1,912.7 533.6,910.1 534.1,913.4 534.5,920.8 535.0,925.8 535.5,910.1 536.0,926.5 536.5,938.8 537.0,959.8 537.4,951.5 537.9,954.7 538.4,932.8 538.9,934.3 539.4,927.7 539.9,921.3 540.3,940.1 540.8,936.5 541.3,959.8 541.8,948.6 542.3,953.0 542.8,927.7 543.2,927.1 543.7,945.5 544.2,930.2 544.7,954.2 545.2,931.7 545.7,922.0 546.1,959.7 546.6,921.2 547.1,923.0 547.6,938.9 548.1,943.2 548.6,918.7 549.0,957.8 549.5,932.6 550.0,898.5 550.5,941.4 551.0,925.9 551.5,930.1 551.9,944.0 552.4,923.5 552.9,919.2 553.4,926.7 553.9,944.7 554.4,917.2 554.8,949.8 555.3,942.9 555.8,918.6 556.3,928.5 556.8,941.8 557.3,954.8 557.7,953.6 558.2,958.9 558.7,936.9 559.2,944.1 559.7,910.5 560.2,901.8 560.6,930.3 561.1,952.7 561.6,926.7 562.1,920.3 562.6,926.7 563.1,941.0 563.5,937.3 564.0,947.5 564.5,936.2 565.0,946.5 565.5,959.3 566.0,959.2 566.4,947.6 566.9,914.5 567.4,935.6 567.9,948.1 568.4,929.1 568.9,944.0 569.3,910.1 569.8,913.7 570.3,913.8 570.8,934.6 571.3,921.8 571.8,914.9 572.2,948.1 572.7,913.0 573.2,931.6 573.7,945.4 574.2,929.9 574.7,913.7 575.1,921.8 575.6,915.8 576.1,909.9 576.6,965.2 577.1,920.5 577.6,958.8 578.0,957.2 578.5,936.8 579.0,940.1 579.5,953.6 580.0,953.7 580.5,938.1 580.9,922.8 581.4,954.8 581.9,973.7 582.4,980.0 582.9,955.3 583.4,941.2 583.8,955.6 584.3,937.2 584.8,938.4 585.3,934.0 585.8,958.4 586.3,921.9 586.7,926.4 587.2,917.7 587.7,919.8 588.2,911.3 588.7,917.7 589.2,947.8 589.6,958.3 590.1,935.7 590.6,917.4 591.1,924.9 591.6,957.7 592.1,943.2 592.5,909.2 593.0,937.6 593.5,935.0 594.0,940.8 594.5,898.1 595.0,909.7 595.4,937.3 595.9,936.9 596.4,920.5 596.9,909.0 597.4,909.0 597.9,909.0 598.3,938.3 598.8,924.6 599.3,923.5 599.8,929.8 600.3,925.5 600.8,935.8 601.2,941.2 601.7,952.0 602.2,928.0 602.7,945.8 603.2,942.5 603.7,957.7 604.1,957.7 604.6,943.7 605.1,955.1 605.6,918.8 606.1,918.0 606.5,928.9 607.0,942.8 607.5,923.9 608.0,932.8 608.5,954.6 609.0,918.4 609.4,913.0 609.9,908.5 610.4,944.5 610.9,925.2 611.4,928.0 611.9,923.0 612.3,931.2 612.8,928.7 613.3,935.4 613.8,939.1 614.3,957.4 614.8,930.0 615.2,937.2 615.7,934.2 616.2,921.7 616.7,944.8 617.2,957.4 617.7,922.3 618.1,957.3 618.6,939.9 619.1,930.5 619.6,908.4 620.1,916.4 620.6,926.8 621.0,924.2 621.5,939.5 622.0,930.4 622.5,936.2 623.0,924.9 623.5,913.6 623.9,973.3 624.4,942.3 624.9,946.8 625.4,942.7 625.9,926.9 626.4,933.6 626.8,932.2 627.3,919.1 627.8,938.4 628.3,935.0 628.8,921.9 629.3,926.1 629.7,942.3 630.2,957.2 630.7,889.0 631.2,925.4 631.7,940.8 632.2,956.0 632.6,945.7 633.1,922.1 633.6,925.2 634.1,933.3 634.6,923.6 635.1,915.8 635.5,908.9 636.0,957.1 636.5,943.7 637.0,933.9 637.5,941.9 638.0,934.4 638.4,930.5 638.9,929.9 639.4,920.1 639.9,915.8 640.4,936.6 640.9,937.2 641.3,912.0 641.8,942.3 642.3,926.3 642.8,908.0 643.3,930.4 643.8,941.1 644.2,939.0 644.7,918.6 645.2,941.5 645.7,898.5 646.2,937.0 646.7,935.7 647.1,937.3 647.6,956.9 648.1,932.4 648.6,937.1 649.1,947.0 649.6,946.4 650.0,926.4 650.5,924.6 651.0,925.0 651.5,909.5 652.0,923.7 652.5,942.2 652.9,936.9 653.4,946.5 653.9,946.9 654.4,925.7 654.9,942.6 655.4,912.5 655.8,944.5 656.3,932.8 656.8,956.8 657.3,918.9 657.8,913.5 658.3,921.2 658.7,924.6 659.2,907.8 659.7,907.8 660.2,931.1 660.7,916.6 661.2,941.0 661.6,955.4 662.1,914.6 662.6,920.7 663.1,954.4 663.6,954.4 664.1,918.1 664.5,933.4 665.0,956.7 665.5,911.6 666.0,936.6 666.5,953.2 667.0,940.3 667.4,932.3 667.9,952.2 668.4,919.2 668.9,941.8 669.4,956.6 669.9,942.6 670.3,912.8 670.8,947.9 671.3,937.5 671.8,941.4 672.3,984.0 672.8,927.6 673.2,947.3 673.7,967.3 674.2,907.6 674.7,907.6 675.2,926.5 675.7,935.9 676.1,918.3 676.6,931.6 677.1,927.9 677.6,955.4 678.1,919.4 678.6,934.0 679.0,924.7 679.5,956.3 680.0,943.9 680.5,917.1 681.0,936.4 681.5,930.5 681.9,918.7 682.4,937.1 682.9,937.4 683.4,917.8 683.9,921.7 684.4,945.7 684.8,950.1 685.3,933.7 685.8,925.3 686.3,929.7 686.8,927.0 687.3,910.3 687.7,935.2 688.2,920.4 688.7,949.0 689.2,941.9 689.7,945.2 690.2,930.8 690.6,931.9 691.1,922.5 691.6,924.5 692.1,916.2 692.6,972.5 693.0,924.2 693.5,954.6 694.0,949.4 694.5,924.4 695.0,946.6 695.5,940.6 695.9,923.5 696.4,930.4 696.9,923.6 697.4,915.5 697.9,925.4 698.4,930.3 698.8,925.7 699.3,931.0 699.8,944.1 700.3,931.9 700.8,928.4 701.3,913.7 701.7,927.9 702.2,928.2 702.7,932.4 703.2,947.1 703.7,950.0 704.2,944.2 704.6,931.5 705.1,937.7 705.6,944.2 706.1,945.9 706.6,918.8 707.1,936.0 707.5,919.9 708.0,932.7 708.5,937.8 709.0,934.3 709.5,948.6 710.0,932.7 710.4,932.0 710.9,916.3 711.4,919.1 711.9,919.0 712.4,921.4 712.9,918.1 713.3,907.1 713.8,925.3 714.3,936.8 714.8,907.1 715.3,923.6 715.8,939.3 716.2,943.5 716.7,940.5 717.2,926.7 717.7,919.8 718.2,952.1 718.7,942.9 719.1,956.0 719.6,937.8 720.1,947.7 720.6,947.9 721.1,946.2 721.6,916.9 722.0,955.9 722.5,942.8 723.0,928.6 723.5,934.2 724.0,906.9 724.5,937.7 724.9,922.5 725.4,929.2 725.9,929.7 726.4,906.9 726.9,908.3 727.4,932.3 727.8,911.7 728.3,920.5 728.8,937.6 729.3,955.8 729.8,926.0 730.3,944.9 730.7,945.2 731.2,893.6 731.7,952.4 732.2,950.3 732.7,921.6 733.2,935.6 733.6,926.6 734.1,933.4 734.6,923.5 735.1,945.6 735.6,945.1 736.1,936.2 736.5,919.6 737.0,927.3 737.5,910.8 738.0,908.2 738.5,906.7 739.0,925.0 739.4,918.8 739.9,937.2 740.4,945.2 740.9,946.5 741.4,926.7 741.9,948.0 742.3,950.7 742.8,914.7 743.3,926.3 743.8,910.0 744.3,916.2 744.8,938.2 745.2,930.3 745.7,949.7 746.2,940.7 746.7,943.2 747.2,955.6 747.7,952.4 748.1,946.1 748.6,949.2 749.1,951.6 749.6,917.4 750.1,910.1 750.6,925.3 751.0,942.7 751.5,922.3 752.0,906.5 752.5,922.0 753.0,919.7 753.5,971.2 753.9,906.5 754.4,937.2 754.9,949.7 755.4,906.7 755.9,912.0 756.4,921.7 756.8,935.6 757.3,936.0 757.8,943.9 758.3,941.2 758.8,926.6 759.3,955.9 759.7,949.2 760.2,927.0 760.7,941.3 761.2,940.4 761.7,933.5 762.2,930.2 762.6,916.4 763.1,917.6 763.6,912.6 764.1,907.4 764.6,965.2 765.1,935.7 765.5,929.6 766.0,915.1 766.5,910.0 767.0,944.1 767.5,918.1 768.0,938.4 768.4,938.8 768.9,942.0 769.4,928.5 769.9,926.1 770.4,930.0 770.9,916.9 771.3,948.7 771.8,926.1 772.3,936.1 772.8,957.1 773.3,957.1 773.8,934.9 774.2,943.3 774.7,952.8 775.2,911.4 775.7,957.2 776.2,947.6 776.7,898.5 777.1,929.8 777.6,908.5 778.1,931.3 778.6,952.7 779.1,932.5 779.6,953.6 780.0,943.8 780.5,911.6 781.0,929.3 781.5,968.3 782.0,908.9 782.4,925.8 782.9,938.4 783.4,930.7 783.9,927.7 784.4,909.4 784.9,939.9 785.3,934.2 785.8,928.2 786.3,958.2 786.8,953.6 787.3,939.0 787.8,958.3 788.2,974.0 788.7,926.0 789.2,949.6 789.7,938.2 790.2,921.2 790.7,920.4 791.1,926.1 791.6,939.1 792.1,947.3 792.6,917.8 793.1,946.5 793.6,924.6 794.0,924.0 794.5,909.9 795.0,948.4 795.5,948.0 796.0,936.4 796.5,933.7 796.9,951.4 797.4,943.1 797.9,910.2 798.4,933.5 798.9,938.0 799.4,937.5 799.8,938.4 800.3,951.8 800.8,933.7 801.3,959.4 801.8,951.8 802.3,932.9 802.7,938.9 803.2,911.2 803.7,924.9 804.2,919.1 804.7,910.6 805.2,935.6 805.6,934.4 806.1,917.9 806.6,917.6 807.1,929.3 807.6,959.3 808.1,935.7 808.5,930.9 809.0,940.3 809.5,913.4 810.0,925.4 810.5,940.8 811.0,943.1 811.4,943.9 811.9,920.1 812.4,931.4 812.9,957.6 813.4,959.7 813.9,959.7 814.3,935.6 814.8,930.0 815.3,932.4 815.8,959.8 816.3,926.1 816.8,927.2 817.2,910.8 817.7,972.6 818.2,925.1 818.7,945.5 819.2,948.8 819.7,940.1 820.1,929.3 820.6,924.2 821.1,953.2 821.6,937.7 822.1,918.6 822.6,919.3 823.0,932.6 823.5,972.8 824.0,915.9 824.5,947.4 825.0,888.0 825.5,931.5 825.9,936.4 826.4,932.3 826.9,930.7 827.4,911.0 827.9,920.4 828.4,924.7 828.8,922.9 829.3,931.1 829.8,960.1 830.3,960.1 830.8,950.9 831.3,958.1 831.7,933.9 832.2,930.7 832.7,938.9 833.2,948.2 833.7,949.9 834.2,960.1 834.6,942.0 835.1,956.3 835.6,932.7 836.1,942.9 836.6,923.3 837.1,947.9 837.5,926.2 838.0,947.9 838.5,911.3 839.0,948.6 839.5,933.0 840.0,936.4 840.4,937.7 840.9,973.9 841.4,919.8 841.9,921.6 842.4,933.8 842.9,911.4 843.3,905.0 843.8,932.3 844.3,953.4 844.8,956.3 845.3,925.4 845.8,944.8 846.2,960.4 846.7,958.2 847.2,939.1 847.7,925.6 848.2,928.4 848.7,956.6 849.1,928.9 849.6,911.5 850.1,939.1 850.6,928.1 851.1,929.0 851.6,925.1 852.0,946.0 852.5,930.2 853.0,979.0 853.5,916.6 854.0,957.2 854.5,960.6 854.9,942.2 855.4,932.1 855.9,935.4 856.4,949.2 856.9,931.5 857.4,960.5 857.8,948.0 858.3,911.7 858.8,912.6 859.3,927.1 859.8,960.7 860.3,960.7 860.7,949.1 861.2,923.8 861.7,932.3 862.2,935.6 862.7,928.1 863.2,936.0 863.6,947.4 864.1,934.3 864.6,922.6 865.1,937.4 865.6,915.1 866.1,923.9 866.5,952.5 867.0,943.7 867.5,921.1 868.0,928.3 868.5,926.7 868.9,933.9 869.4,949.5 869.9,931.5 870.4,914.3 870.9,949.4 871.4,922.9 871.8,938.3 872.3,938.5 872.8,930.3 873.3,938.9 873.8,944.3 874.3,943.3 874.7,952.5 875.2,934.2 875.7,951.1 876.2,928.8 876.7,948.5 877.2,960.0 877.6,936.4 878.1,961.1 878.6,942.3 879.1,940.8 879.6,929.2 880.1,932.3 880.5,972.2 881.0,921.3 881.5,942.2 882.0,896.2 882.5,930.6 883.0,916.2 883.4,916.4 883.9,928.7 884.4,939.6 884.9,933.8 885.4,939.7 885.9,941.6 886.3,925.7 886.8,929.9 887.3,920.1 887.8,912.8 888.3,922.4 888.8,936.0 889.2,960.7 889.7,958.8 890.2,953.0 890.7,917.2 891.2,923.9 891.7,947.2 892.1,952.3 892.6,949.3 893.1,926.9 893.6,912.4 894.1,912.4 894.6,938.5 895.0,946.5 895.5,961.4 896.0,941.2 896.5,947.2 897.0,930.6 897.5,931.6 897.9,935.0 898.4,925.6 898.9,953.6 899.4,928.7 899.9,949.0 900.4,941.5 900.8,934.7 901.3,952.1 901.8,933.9 902.3,942.1 902.8,941.2 903.3,948.4 903.7,922.7 904.2,938.6 904.7,949.3 905.2,935.3 905.7,922.7 906.2,918.2 906.6,933.1 907.1,924.1 907.6,940.6 908.1,937.6 908.6,930.3 909.1,934.7 909.5,936.1 910.0,936.4 910.5,942.3 911.0,951.2 911.5,947.7 912.0,947.8 912.4,960.9 912.9,960.9 913.4,948.0 913.9,924.1 914.4,948.6 914.9,930.1 915.3,922.3 915.8,917.8 916.3,920.6 916.8,911.8 917.3,911.7 917.8,934.9 918.2,960.7 918.7,944.0 919.2,947.0 919.7,947.1 920.2,924.7 920.7,911.6 921.1,929.4 921.6,946.1 922.1,934.9 922.6,936.1 923.1,931.9 923.6,928.8 924.0,920.8 924.5,945.2 925.0,948.1 925.5,935.0 926.0,936.2 926.5,945.1 926.9,951.8 927.4,960.3 927.9,960.3 928.4,944.5 928.9,904.1 929.4,928.2 929.8,941.6 930.3,951.9 930.8,913.1 931.3,928.9 931.8,953.3 932.3,919.8 932.7,949.4 933.2,898.8 933.7,929.1 934.2,915.3 934.7,951.6 935.2,932.1 935.6,913.7 936.1,929.7 936.6,911.7 937.1,910.9 937.6,953.0 938.1,934.9 938.5,933.7 939.0,910.8 939.5,910.8 940.0,940.5 940.5,940.7 941.0,953.6 941.4,954.3 941.9,943.7 942.4,926.2 942.9,910.7 943.4,934.5 943.9,932.0 944.3,959.6 944.8,946.9 945.3,935.9 945.8,928.9 946.3,917.6 946.8,932.0 947.2,940.9 947.7,946.3 948.2,971.8 948.7,928.5 949.2,951.4 949.7,955.4 950.1,933.2 950.6,916.6 951.1,920.0 951.6,920.3 952.1,943.9 952.6,920.6 953.0,932.0 953.5,915.9 954.0,921.1 954.5,959.2 955.0,934.0 955.5,940.8 955.9,930.6 956.4,950.6 956.9,945.3 957.4,937.6 957.9,956.6 958.3,951.6 958.8,946.6 959.3,916.5 959.8,913.9 960.3,947.6 960.8,922.6 961.2,955.0 961.7,958.9 962.2,986.0 962.7,922.1 963.2,909.8 963.7,935.7 964.1,946.2 964.6,927.1 965.1,912.5 965.6,935.5 966.1,926.5 966.6,930.2 967.0,911.0 967.5,931.8 968.0,936.6 968.5,926.8 969.0,915.3 969.5,929.2 969.9,939.1 970.4,944.6 970.9,941.9 971.4,928.7 971.9,945.9 972.4,957.8 972.8,936.1 973.3,919.9 973.8,956.7 974.3,948.3 974.8,914.4 975.3,942.1 975.7,940.4 976.2,927.5 976.7,937.1 977.2,923.3 977.7,924.6 978.2,910.4 978.6,945.4 979.1,930.0 979.6,937.1 980.1,939.8 980.6,909.1 981.1,928.0 981.5,911.9 982.0,947.4 982.5,921.3 983.0,941.7 983.5,958.0 984.0,944.4 984.4,950.4 984.9,954.6 985.4,937.6 985.9,925.5 986.4,908.9 986.9,949.5 987.3,983.0 987.8,943.2 988.3,908.8 988.8,936.3 989.3,923.7 989.8,931.2 990.2,934.6 990.7,947.0 991.2,928.9 991.7,918.3 992.2,932.6 992.7,938.1 993.1,928.1 993.6,957.5 994.1,957.5 994.6,925.6 995.1,908.5 995.6,908.5 996.0,921.1 996.5,939.0 997.0,957.5 997.5,949.2 998.0,932.5 998.5,935.6 998.9,933.9 999.4,919.0 999.9,932.1 1000.4,908.5 1000.9,916.3 1001.4,931.7 1001.8,923.0 1002.3,928.2 1002.8,937.1 1003.3,932.1 1003.8,933.0 1004.3,934.4 1004.7,926.0 1005.2,940.4 1005.7,934.6 1006.2,914.6 1006.7,938.8 1007.2,937.8 1007.6,908.5 1008.1,947.0 1008.6,937.9 1009.1,923.4 1009.6,942.9 1010.1,940.7 1010.5,935.4 1011.0,956.6 1011.5,957.5 1012.0,936.7 1012.5,925.2 1013.0,913.6 1013.4,933.9 1013.9,936.5 1014.4,954.2 1014.9,943.6 1015.4,949.6 1015.9,957.5 1016.3,937.5 1016.8,923.8 1017.3,927.2 1017.8,911.9 1018.3,924.9 1018.8,927.4 1019.2,951.1 1019.7,932.4 1020.2,950.5 1020.7,934.2 1021.2,932.7 1021.7,925.5 1022.1,929.1 1022.6,920.9 1023.1,911.0 1023.6,908.5 1024.1,938.0 1024.6,936.3 1025.0,957.5 1025.5,957.5 1026.0,922.4 1026.5,955.8 1027.0,933.7 1027.5,908.5 1027.9,910.2 1028.4,922.2 1028.9,896.9 1029.4,935.6 1029.9,935.3 1030.4,947.0 1030.8,948.1 1031.3,946.4 1031.8,952.3 1032.3,950.6 1032.8,918.5 1033.3,952.9 1033.7,938.0 1034.2,939.3 1034.7,951.8 1035.2,931.5 1035.7,931.6 1036.2,910.7 1036.6,942.5 1037.1,953.6 1037.6,937.0 1038.1,926.8 1038.6,908.5 1039.1,934.9 1039.5,921.5 1040.0,925.8 1040.5,926.7 1041.0,928.4 1041.5,933.6 1042.0,939.3 1042.4,937.7 1042.9,917.1 1043.4,929.7" fill="none" stroke="#b15928" stroke-width="2.4" stroke-linejoin="miter" stroke-miterlimit="3"/>
<line x1="75.0" y1="1005.7" x2="1043.4" y2="1005.7" stroke="#8c8c8c" stroke-width="1.8"/>
<line x1="77.0" y1="1003.8" x2="1042.4" y2="1003.8" stroke="#dedede" stroke-width="1.6"/>
<line x1="76.0" y1="872.5" x2="76.0" y2="1012.1" stroke="#a9a9a9" stroke-width="2"/>
<line x1="75.0" y1="872.5" x2="1044.4" y2="872.5" stroke="#575757" stroke-width="2"/>
<line x1="1043.4" y1="872.5" x2="1043.4" y2="1012.1" stroke="#575757" stroke-width="2"/>
<line x1="1060.0" y1="1005.7" x2="1266.0" y2="1005.7" stroke="#8c8c8c" stroke-width="1.8"/>
<line x1="1061.0" y1="1003.8" x2="1264.0" y2="1003.8" stroke="#e2e2e2" stroke-width="1.6"/>
<line x1="1265.0" y1="872.5" x2="1265.0" y2="1005.1" stroke="#a5a5a5" stroke-width="2"/>
<line x1="1263.4" y1="873.5" x2="1263.4" y2="1004.1" stroke="#e4e4e4" stroke-width="1.2"/>
<line x1="1059.0" y1="872.5" x2="1266.0" y2="872.5" stroke="#575757" stroke-width="2"/>
<line x1="1060.0" y1="872.5" x2="1060.0" y2="1005.1" stroke="#454545" stroke-width="2"/>
<rect x="1061.0" y="881.0" width="2.0" height="7.0" fill="#a04a1f"/>
<rect x="1061.0" y="893.0" width="12.6" height="7.4" fill="#a04a1f"/>
<rect x="1061.0" y="905.6" width="56.0" height="7.4" fill="#a04a1f"/>
<rect x="1061.0" y="917.4" width="130.0" height="7.6" fill="#a04a1f"/>
<rect x="1061.0" y="929.0" width="193.0" height="8.0" fill="#a04a1f"/>
<rect x="1061.0" y="941.0" width="172.0" height="7.6" fill="#a04a1f"/>
<rect x="1061.0" y="953.6" width="105.0" height="7.8" fill="#a04a1f"/>
<rect x="1061.0" y="965.6" width="37.0" height="7.4" fill="#a04a1f"/>
<rect x="1061.0" y="978.0" width="12.0" height="7.0" fill="#a04a1f"/>
<rect x="1061.0" y="989.0" width="4.0" height="8.0" fill="#a04a1f"/>
<line x1="68" y1="901.3" x2="75.0" y2="901.3" stroke="#5e5e5e" stroke-width="2"/>
<line x1="1051" y1="901.3" x2="1059.0" y2="901.3" stroke="#5e5e5e" stroke-width="2"/>
<text x="58.6" y="908.1" font-family='"Liberation Sans", sans-serif' font-size="19.8" fill="#6c6c6c" text-anchor="end" font-weight="normal" textLength="35.2" lengthAdjust="spacingAndGlyphs">120</text>
<line x1="68" y1="935.4" x2="75.0" y2="935.4" stroke="#5e5e5e" stroke-width="2"/>
<line x1="1051" y1="935.4" x2="1059.0" y2="935.4" stroke="#5e5e5e" stroke-width="2"/>
<text x="58.6" y="942.2" font-family='"Liberation Sans", sans-serif' font-size="19.8" fill="#6c6c6c" text-anchor="end" font-weight="normal" textLength="35.2" lengthAdjust="spacingAndGlyphs">114</text>
<line x1="68" y1="971.0" x2="75.0" y2="971.0" stroke="#5e5e5e" stroke-width="2"/>
<line x1="1051" y1="971.0" x2="1059.0" y2="971.0" stroke="#5e5e5e" stroke-width="2"/>
<text x="58.6" y="977.8" font-family='"Liberation Sans", sans-serif' font-size="19.8" fill="#6c6c6c" text-anchor="end" font-weight="normal" textLength="35.2" lengthAdjust="spacingAndGlyphs">108</text>
<line x1="75.8" y1="1005.1" x2="75.8" y2="1012.1" stroke="#7a7a7a" stroke-width="2"/>
<line x1="269.3" y1="1005.1" x2="269.3" y2="1012.1" stroke="#7a7a7a" stroke-width="2"/>
<line x1="462.8" y1="1005.1" x2="462.8" y2="1012.1" stroke="#7a7a7a" stroke-width="2"/>
<line x1="656.4" y1="1005.1" x2="656.4" y2="1012.1" stroke="#7a7a7a" stroke-width="2"/>
<line x1="849.9" y1="1005.1" x2="849.9" y2="1012.1" stroke="#7a7a7a" stroke-width="2"/>
<line x1="1043.4" y1="1005.1" x2="1043.4" y2="1012.1" stroke="#7a7a7a" stroke-width="2"/>
<text transform="translate(24.3,939.3) rotate(-90)" x="0" y="0" font-family='"Liberation Sans", sans-serif' font-size="19.5" fill="#6c6c6c" text-anchor="middle" textLength="80.3" lengthAdjust="spacingAndGlyphs">PSA (Å²)</text>
<text x="75.8" y="1037.1" font-family='"Liberation Sans", sans-serif' font-size="19.8" fill="#6c6c6c" text-anchor="middle" font-weight="normal">0</text>
<text x="269.3" y="1037.1" font-family='"Liberation Sans", sans-serif' font-size="19.8" fill="#6c6c6c" text-anchor="middle" font-weight="normal" textLength="22.6" lengthAdjust="spacingAndGlyphs">20</text>
<text x="462.8" y="1037.1" font-family='"Liberation Sans", sans-serif' font-size="19.8" fill="#6c6c6c" text-anchor="middle" font-weight="normal" textLength="22.6" lengthAdjust="spacingAndGlyphs">40</text>
<text x="656.4" y="1037.1" font-family='"Liberation Sans", sans-serif' font-size="19.8" fill="#6c6c6c" text-anchor="middle" font-weight="normal" textLength="22.6" lengthAdjust="spacingAndGlyphs">60</text>
<text x="849.9" y="1037.1" font-family='"Liberation Sans", sans-serif' font-size="19.8" fill="#6c6c6c" text-anchor="middle" font-weight="normal" textLength="22.6" lengthAdjust="spacingAndGlyphs">80</text>
<text x="1043.4" y="1037.1" font-family='"Liberation Sans", sans-serif' font-size="19.8" fill="#6c6c6c" text-anchor="middle" font-weight="normal" textLength="35.8" lengthAdjust="spacingAndGlyphs">100</text>
<text x="559.0" y="1072.1" font-family='"Liberation Sans", sans-serif' font-size="29" fill="#6c6c6c" text-anchor="middle" font-weight="normal" textLength="164" lengthAdjust="spacingAndGlyphs">Time (nsec)</text>
<text x="649.0" y="1140.0" font-family='"Liberation Serif", serif' font-size="41" fill="#000" text-anchor="middle" font-weight="bold">A</text>
<text x="636.0" y="1255.7" font-family='"Liberation Sans", sans-serif' font-size="41" fill="#000" text-anchor="middle" font-weight="bold" textLength="364" lengthAdjust="spacingAndGlyphs">Ligand Properties</text>
<clipPath id="c7"><rect x="76.0" y="1297.0" width="967.4000000000001" height="132.5"/></clipPath>
<polyline clip-path="url(#c7)" points="77.8,1424.0 78.4,1404.0 79.3,1399.7 80.3,1394.0 81.3,1397.1 82.2,1393.6 83.2,1403.8 84.2,1416.7 85.1,1404.7 86.1,1400.5 87.1,1408.5 88.0,1410.1 89.0,1408.1 90.0,1396.3 90.9,1402.2 91.9,1407.6 92.9,1390.5 93.8,1394.3 94.8,1376.7 95.8,1379.5 96.7,1374.3 97.7,1390.9 98.7,1381.5 99.6,1398.0 100.6,1399.3 101.6,1395.2 102.5,1368.4 103.5,1383.1 104.5,1396.1 105.4,1399.7 106.4,1381.7 107.4,1389.2 108.3,1386.0 109.3,1388.4 110.3,1409.3 111.2,1362.0 112.2,1361.5 113.2,1409.2 114.1,1399.6 115.1,1399.5 116.1,1402.1 117.0,1401.6 118.0,1389.6 119.0,1397.3 119.9,1410.4 120.9,1341.0 121.9,1341.5 122.8,1340.8 123.8,1339.0 124.8,1337.7 125.7,1340.2 126.7,1341.0 127.7,1340.2 128.6,1340.3 129.6,1396.8 130.6,1402.3 131.6,1398.3 132.5,1402.3 133.5,1409.9 134.5,1394.7 135.4,1398.5 136.4,1391.9 137.4,1395.7 138.3,1378.3 139.3,1380.8 140.3,1384.2 141.2,1399.6 142.2,1404.7 143.2,1381.8 144.1,1382.5 145.1,1399.9 146.1,1372.7 147.0,1384.4 148.0,1354.0 149.0,1351.9 149.9,1404.6 150.9,1395.6 151.9,1389.7 152.8,1392.4 153.8,1406.7 154.8,1394.0 155.7,1390.7 156.7,1397.1 157.7,1394.9 158.6,1392.3 159.6,1379.8 160.6,1391.8 161.5,1386.5 162.5,1402.8 163.5,1401.7 164.4,1354.0 165.4,1352.8 166.4,1390.5 167.3,1401.3 168.3,1396.3 169.3,1400.3 170.2,1380.6 171.2,1396.9 172.2,1379.8 173.1,1366.2 174.1,1385.2 175.1,1386.5 176.0,1398.3 177.0,1418.5 178.0,1398.2 178.9,1392.5 179.9,1398.4 180.9,1402.2 181.8,1398.1 182.8,1396.5 183.8,1403.4 184.7,1402.9 185.7,1387.5 186.7,1392.3 187.6,1395.9 188.6,1385.2 189.6,1397.2 190.5,1388.4 191.5,1404.4 192.5,1350.0 193.4,1351.0 194.4,1391.4 195.4,1395.4 196.3,1338.0 197.3,1335.6 198.3,1397.5 199.2,1372.4 200.2,1399.2 201.2,1376.6 202.1,1399.0 203.1,1387.0 204.1,1402.2 205.0,1399.5 206.0,1376.5 207.0,1401.3 207.9,1407.1 208.9,1396.8 209.9,1392.9 210.8,1393.6 211.8,1381.3 212.8,1401.0 213.7,1393.6 214.7,1395.7 215.7,1387.0 216.6,1387.8 217.6,1382.7 218.6,1407.7 219.5,1401.5 220.5,1409.2 221.5,1354.0 222.4,1353.9 223.4,1393.8 224.4,1391.3 225.3,1395.9 226.3,1392.9 227.3,1358.0 228.2,1359.1 229.2,1385.9 230.2,1410.2 231.1,1396.5 232.1,1386.8 233.1,1400.2 234.0,1411.7 235.0,1387.5 236.0,1391.4 236.9,1386.8 237.9,1372.4 238.9,1398.1 239.9,1396.2 240.8,1396.8 241.8,1388.4 242.8,1399.8 243.7,1392.3 244.7,1394.1 245.7,1380.2 246.6,1374.0 247.6,1403.2 248.6,1389.4 249.5,1394.5 250.5,1393.5 251.5,1387.1 252.4,1383.8 253.4,1396.8 254.4,1390.8 255.3,1390.2 256.3,1389.2 257.3,1401.1 258.2,1399.3 259.2,1396.8 260.2,1358.0 261.1,1357.4 262.1,1398.1 263.1,1403.0 264.0,1396.4 265.0,1401.6 266.0,1405.6 266.9,1407.8 267.9,1408.7 268.9,1396.8 269.8,1411.1 270.8,1387.7 271.8,1402.7 272.7,1402.7 273.7,1406.2 274.7,1414.1 275.6,1412.9 276.6,1387.7 277.6,1373.0 278.5,1399.8 279.5,1386.9 280.5,1338.0 281.4,1338.4 282.4,1380.3 283.4,1366.2 284.3,1392.6 285.3,1398.5 286.3,1397.2 287.2,1356.0 288.2,1354.3 289.2,1373.8 290.1,1386.9 291.1,1383.2 292.1,1373.6 293.0,1395.7 294.0,1397.2 295.0,1403.0 295.9,1390.0 296.9,1388.1 297.9,1383.3 298.8,1384.4 299.8,1398.7 300.8,1394.2 301.7,1404.7 302.7,1407.5 303.7,1420.7 304.6,1398.6 305.6,1409.1 306.6,1403.8 307.5,1403.0 308.5,1386.3 309.5,1393.7 310.4,1405.5 311.4,1400.5 312.4,1401.5 313.3,1398.7 314.3,1410.2 315.3,1404.3 316.2,1378.6 317.2,1387.7 318.2,1370.5 319.1,1361.6 320.1,1350.0 321.1,1351.7 322.0,1352.0 323.0,1354.0 324.0,1382.2 324.9,1402.6 325.9,1401.6 326.9,1399.7 327.8,1397.0 328.8,1397.4 329.8,1404.3 330.7,1344.0 331.7,1344.4 332.7,1386.5 333.6,1398.3 334.6,1389.0 335.6,1405.1 336.5,1383.2 337.5,1390.4 338.5,1393.3 339.4,1381.3 340.4,1407.4 341.4,1413.0 342.3,1397.4 343.3,1402.6 344.3,1401.1 345.2,1366.1 346.2,1391.9 347.2,1395.2 348.2,1396.3 349.1,1380.9 350.1,1387.2 351.1,1390.6 352.0,1405.8 353.0,1349.0 354.0,1346.4 354.9,1411.0 355.9,1396.5 356.9,1389.4 357.8,1368.2 358.8,1400.4 359.8,1358.0 360.7,1356.4 361.7,1403.1 362.7,1398.2 363.6,1399.1 364.6,1396.0 365.6,1393.8 366.5,1342.0 367.5,1343.5 368.5,1404.6 369.4,1397.0 370.4,1387.2 371.4,1385.7 372.3,1405.7 373.3,1402.1 374.3,1364.0 375.2,1366.6 376.2,1379.9 377.2,1388.5 378.1,1400.8 379.1,1389.4 380.1,1390.3 381.0,1389.2 382.0,1394.7 383.0,1375.2 383.9,1382.2 384.9,1377.1 385.9,1397.0 386.8,1385.2 387.8,1397.3 388.8,1408.2 389.7,1393.2 390.7,1386.0 391.7,1395.6 392.6,1395.8 393.6,1383.5 394.6,1395.2 395.5,1412.0 396.5,1400.0 397.5,1396.7 398.4,1387.3 399.4,1399.0 400.4,1383.4 401.3,1381.9 402.3,1404.4 403.3,1389.2 404.2,1404.3 405.2,1412.5 406.2,1404.3 407.1,1404.2 408.1,1414.9 409.1,1398.9 410.0,1389.0 411.0,1375.4 412.0,1387.4 412.9,1404.7 413.9,1405.0 414.9,1383.2 415.8,1376.4 416.8,1377.8 417.8,1390.5 418.7,1389.1 419.7,1397.3 420.7,1397.5 421.6,1389.8 422.6,1393.1 423.6,1396.8 424.5,1395.1 425.5,1402.7 426.5,1415.9 427.4,1408.5 428.4,1401.4 429.4,1380.1 430.3,1398.6 431.3,1373.0 432.3,1371.0 433.2,1399.8 434.2,1405.4 435.2,1398.8 436.1,1378.0 437.1,1389.0 438.1,1386.1 439.0,1401.1 440.0,1418.8 441.0,1406.1 441.9,1388.9 442.9,1378.2 443.9,1390.9 444.8,1395.4 445.8,1380.7 446.8,1397.7 447.7,1384.2 448.7,1406.2 449.7,1411.5 450.6,1414.1 451.6,1401.0 452.6,1403.7 453.6,1399.9 454.5,1395.5 455.5,1390.6 456.5,1381.6 457.4,1376.1 458.4,1360.0 459.4,1360.4 460.3,1402.4 461.3,1410.7 462.3,1387.3 463.2,1388.0 464.2,1397.7 465.2,1401.5 466.1,1392.4 467.1,1402.6 468.1,1398.6 469.0,1379.3 470.0,1377.2 471.0,1360.0 471.9,1361.9 472.9,1377.2 473.9,1405.0 474.8,1406.1 475.8,1411.4 476.8,1397.9 477.7,1395.0 478.7,1381.6 479.7,1415.1 480.6,1399.4 481.6,1410.5 482.6,1396.5 483.5,1397.8 484.5,1377.3 485.5,1386.2 486.4,1401.7 487.4,1350.0 488.4,1349.1 489.3,1403.4 490.3,1389.1 491.3,1389.4 492.2,1391.6 493.2,1395.6 494.2,1392.6 495.1,1387.8 496.1,1393.5 497.1,1386.9 498.0,1380.2 499.0,1393.1 500.0,1402.9 500.9,1380.9 501.9,1391.2 502.9,1387.1 503.8,1352.0 504.8,1351.7 505.8,1393.0 506.7,1407.8 507.7,1390.4 508.7,1397.3 509.6,1395.4 510.6,1360.0 511.6,1360.0 512.5,1398.9 513.5,1405.9 514.5,1400.6 515.4,1390.2 516.4,1396.6 517.4,1396.6 518.3,1407.9 519.3,1356.0 520.3,1356.6 521.2,1380.8 522.2,1401.4 523.2,1389.4 524.1,1373.2 525.1,1390.3 526.1,1406.2 527.0,1384.3 528.0,1383.5 529.0,1387.6 529.9,1387.4 530.9,1401.4 531.9,1394.5 532.8,1389.3 533.8,1401.2 534.8,1394.3 535.7,1401.6 536.7,1390.4 537.7,1383.8 538.6,1372.8 539.6,1409.7 540.6,1399.5 541.5,1401.0 542.5,1400.4 543.5,1402.4 544.4,1401.1 545.4,1415.6 546.4,1395.1 547.3,1379.1 548.3,1382.7 549.3,1383.4 550.2,1405.1 551.2,1410.5 552.2,1396.3 553.1,1383.0 554.1,1391.3 555.1,1408.7 556.0,1368.4 557.0,1395.5 558.0,1383.8 558.9,1402.6 559.9,1386.0 560.9,1388.4 561.9,1377.2 562.8,1380.6 563.8,1408.2 564.8,1410.4 565.7,1401.9 566.7,1392.8 567.7,1359.0 568.6,1356.7 569.6,1398.6 570.6,1401.0 571.5,1402.8 572.5,1392.5 573.5,1400.1 574.4,1402.6 575.4,1413.7 576.4,1420.6 577.3,1405.7 578.3,1393.9 579.3,1397.1 580.2,1391.7 581.2,1388.2 582.2,1395.5 583.1,1382.5 584.1,1401.3 585.1,1400.1 586.0,1403.0 587.0,1399.2 588.0,1391.4 588.9,1386.5 589.9,1394.4 590.9,1389.9 591.8,1399.0 592.8,1401.5 593.8,1383.8 594.7,1397.3 595.7,1385.3 596.7,1390.5 597.6,1397.4 598.6,1374.9 599.6,1395.6 600.5,1402.0 601.5,1400.4 602.5,1397.1 603.4,1396.4 604.4,1388.0 605.4,1397.3 606.3,1394.3 607.3,1401.2 608.3,1386.3 609.2,1399.9 610.2,1402.2 611.2,1397.0 612.1,1392.9 613.1,1371.1 614.1,1322.1 615.0,1316.6 616.0,1305.6 617.0,1305.2 617.9,1305.3 618.9,1306.4 619.9,1311.1 620.8,1317.1 621.8,1320.9 622.8,1328.4 623.7,1332.3 624.7,1330.9 625.7,1322.8 626.6,1320.9 627.6,1321.2 628.6,1320.6 629.5,1334.0 630.5,1344.0 631.5,1346.1 632.4,1364.1 633.4,1358.4 634.4,1357.7 635.3,1363.2 636.3,1380.7 637.3,1374.6 638.2,1377.3 639.2,1387.9 640.2,1391.8 641.1,1382.5 642.1,1379.4 643.1,1371.1 644.0,1374.8 645.0,1386.6 646.0,1391.4 646.9,1391.9 647.9,1397.7 648.9,1388.8 649.8,1391.3 650.8,1396.8 651.8,1397.8 652.7,1401.5 653.7,1397.4 654.7,1392.5 655.6,1395.5 656.6,1385.6 657.6,1374.8 658.5,1393.2 659.5,1393.9 660.5,1397.6 661.4,1379.5 662.4,1387.9 663.4,1386.6 664.3,1383.9 665.3,1371.5 666.3,1385.0 667.2,1399.3 668.2,1400.4 669.2,1392.4 670.2,1395.0 671.1,1401.2 672.1,1374.5 673.1,1388.2 674.0,1398.1 675.0,1400.6 676.0,1407.4 676.9,1405.8 677.9,1399.7 678.9,1398.6 679.8,1401.0 680.8,1392.6 681.8,1394.3 682.7,1401.0 683.7,1409.7 684.7,1400.1 685.6,1397.3 686.6,1397.6 687.6,1405.1 688.5,1398.1 689.5,1406.2 690.5,1391.8 691.4,1392.7 692.4,1392.2 693.4,1401.0 694.3,1404.4 695.3,1385.5 696.3,1383.8 697.2,1394.6 698.2,1388.6 699.2,1381.5 700.1,1400.8 701.1,1400.7 702.1,1400.1 703.0,1391.9 704.0,1402.4 705.0,1396.1 705.9,1404.9 706.9,1392.7 707.9,1390.2 708.8,1398.4 709.8,1393.8 710.8,1401.5 711.7,1401.1 712.7,1391.2 713.7,1397.1 714.6,1392.8 715.6,1402.4 716.6,1392.8 717.5,1390.8 718.5,1402.9 719.5,1412.3 720.4,1414.3 721.4,1401.7 722.4,1398.6 723.3,1406.6 724.3,1398.8 725.3,1388.0 726.2,1394.9 727.2,1398.5 728.2,1380.0 729.1,1383.2 730.1,1378.6 731.1,1398.7 732.0,1392.8 733.0,1395.6 734.0,1399.4 734.9,1401.4 735.9,1372.0 736.9,1372.2 737.8,1387.4 738.8,1389.0 739.8,1383.5 740.7,1401.1 741.7,1395.8 742.7,1388.1 743.6,1388.3 744.6,1380.0 745.6,1379.3 746.5,1379.1 747.5,1377.8 748.5,1383.0 749.4,1407.0 750.4,1403.3 751.4,1396.1 752.3,1398.3 753.3,1407.8 754.3,1395.1 755.2,1389.6 756.2,1399.3 757.2,1398.9 758.1,1399.0 759.1,1388.3 760.1,1405.0 761.0,1408.7 762.0,1401.7 763.0,1401.3 763.9,1375.4 764.9,1326.0 765.9,1327.4 766.8,1328.0 767.8,1402.3 768.8,1395.0 769.7,1378.2 770.7,1394.2 771.7,1387.1 772.6,1390.7 773.6,1386.9 774.6,1390.1 775.6,1368.9 776.5,1399.8 777.5,1397.4 778.5,1403.6 779.4,1359.0 780.4,1357.3 781.4,1376.2 782.3,1376.0 783.3,1374.3 784.3,1380.2 785.2,1390.3 786.2,1367.2 787.2,1388.8 788.1,1374.4 789.1,1391.8 790.1,1390.8 791.0,1388.3 792.0,1392.5 793.0,1386.6 793.9,1383.3 794.9,1370.0 795.9,1382.7 796.8,1404.6 797.8,1412.5 798.8,1408.7 799.7,1401.7 800.7,1389.9 801.7,1403.4 802.6,1396.0 803.6,1394.0 804.6,1389.7 805.5,1392.0 806.5,1384.8 807.5,1385.7 808.4,1376.3 809.4,1340.0 810.4,1338.0 811.3,1370.0 812.3,1370.2 813.3,1336.0 814.2,1335.0 815.2,1332.4 816.2,1384.1 817.1,1396.6 818.1,1396.4 819.1,1394.5 820.0,1404.7 821.0,1338.0 822.0,1339.2 822.9,1386.8 823.9,1401.8 824.9,1373.2 825.8,1378.9 826.8,1382.3 827.8,1396.1 828.7,1399.3 829.7,1404.5 830.7,1381.9 831.6,1397.8 832.6,1393.7 833.6,1366.0 834.5,1364.9 835.5,1387.0 836.5,1371.4 837.4,1384.1 838.4,1373.2 839.4,1381.5 840.3,1393.3 841.3,1395.4 842.3,1404.7 843.2,1372.0 844.2,1372.2 845.2,1378.0 846.1,1378.2 847.1,1371.8 848.1,1362.0 849.0,1360.4 850.0,1367.3 851.0,1392.0 851.9,1391.2 852.9,1393.6 853.9,1394.6 854.8,1397.7 855.8,1394.8 856.8,1402.4 857.7,1400.1 858.7,1398.0 859.7,1397.9 860.6,1380.7 861.6,1389.8 862.6,1390.7 863.5,1394.3 864.5,1383.0 865.5,1401.3 866.4,1395.1 867.4,1385.5 868.4,1377.8 869.3,1373.2 870.3,1366.0 871.3,1354.6 872.2,1358.7 873.2,1352.3 874.2,1359.9 875.1,1351.5 876.1,1355.0 877.1,1364.1 878.0,1374.2 879.0,1354.9 880.0,1349.6 880.9,1342.8 881.9,1357.2 882.9,1342.3 883.9,1345.7 884.8,1349.6 885.8,1341.3 886.8,1338.3 887.7,1342.3 888.7,1321.9 889.7,1322.9 890.6,1336.8 891.6,1345.5 892.6,1344.7 893.5,1327.2 894.5,1338.7 895.5,1355.9 896.4,1356.9 897.4,1351.2 898.4,1342.7 899.3,1355.3 900.3,1348.9 901.3,1338.2 902.2,1340.5 903.2,1362.1 904.2,1357.6 905.1,1364.0 906.1,1352.2 907.1,1359.3 908.0,1347.8 909.0,1348.4 910.0,1368.9 910.9,1362.0 911.9,1348.4 912.9,1348.4 913.8,1351.0 914.8,1358.1 915.8,1347.9 916.7,1327.0 917.7,1336.2 918.7,1341.6 919.6,1344.3 920.6,1358.5 921.6,1353.2 922.5,1355.9 923.5,1335.9 924.5,1352.1 925.4,1366.1 926.4,1361.0 927.4,1353.9 928.3,1351.7 929.3,1363.9 930.3,1342.0 931.2,1343.0 932.2,1349.5 933.2,1350.8 934.1,1340.2 935.1,1346.5 936.1,1340.1 937.0,1341.3 938.0,1341.1 939.0,1328.7 939.9,1339.2 940.9,1353.0 941.9,1336.1 942.8,1340.6 943.8,1350.5 944.8,1333.7 945.7,1343.6 946.7,1332.1 947.7,1354.4 948.6,1368.4 949.6,1370.1 950.6,1351.8 951.5,1354.2 952.5,1348.6 953.5,1345.7 954.4,1357.7 955.4,1332.0 956.4,1349.9 957.3,1342.8 958.3,1356.3 959.3,1350.2 960.2,1338.6 961.2,1345.4 962.2,1352.7 963.1,1348.6 964.1,1350.7 965.1,1341.0 966.0,1317.9 967.0,1347.7 968.0,1351.7 968.9,1350.3 969.9,1347.9 970.9,1355.5 971.8,1343.8 972.8,1338.7 973.8,1341.8 974.7,1354.7 975.7,1334.3 976.7,1354.3 977.6,1341.9 978.6,1331.1 979.6,1350.9 980.5,1344.6 981.5,1327.3 982.5,1332.8 983.4,1346.9 984.4,1352.3 985.4,1338.3 986.3,1343.3 987.3,1347.9 988.3,1332.3 989.2,1340.4 990.2,1338.0 991.2,1332.3 992.2,1329.3 993.1,1335.1 994.1,1335.1 995.1,1330.0 996.0,1329.5 997.0,1345.9 998.0,1342.6 998.9,1346.9 999.9,1349.5 1000.9,1346.7 1001.8,1359.2 1002.8,1336.1 1003.8,1345.6 1004.7,1339.6 1005.7,1354.3 1006.7,1357.1 1007.6,1326.0 1008.6,1326.8 1009.6,1343.0 1010.5,1346.3 1011.5,1346.5 1012.5,1339.3 1013.4,1340.0 1014.4,1342.3 1015.4,1334.1 1016.3,1341.7 1017.3,1309.0 1018.3,1332.2 1019.2,1319.9 1020.2,1340.2 1021.2,1334.8 1022.1,1324.5 1023.1,1336.5 1024.1,1323.8 1025.0,1323.1 1026.0,1315.8 1027.0,1330.7 1027.9,1340.1 1028.9,1347.1 1029.9,1340.2 1030.8,1349.4 1031.8,1344.5 1032.8,1341.0 1033.7,1345.4 1034.7,1349.4 1035.7,1339.8 1036.6,1337.9 1037.6,1339.9 1038.6,1341.6 1039.5,1330.0 1040.5,1344.6 1041.5,1337.2 1042.4,1340.5 1043.4,1328.9" fill="none" stroke="#2a7ab6" stroke-width="2.8" stroke-linejoin="miter" stroke-miterlimit="3"/>
<line x1="75.0" y1="1430.1" x2="1043.4" y2="1430.1" stroke="#8c8c8c" stroke-width="1.8"/>
<line x1="77.0" y1="1428.2" x2="1042.4" y2="1428.2" stroke="#dedede" stroke-width="1.6"/>
<line x1="76.0" y1="1297.0" x2="76.0" y2="1436.5" stroke="#a9a9a9" stroke-width="2"/>
<line x1="75.0" y1="1297.0" x2="1044.4" y2="1297.0" stroke="#575757" stroke-width="2"/>
<line x1="1043.4" y1="1297.0" x2="1043.4" y2="1436.5" stroke="#575757" stroke-width="2"/>
<line x1="1060.0" y1="1430.1" x2="1266.0" y2="1430.1" stroke="#8c8c8c" stroke-width="1.8"/>
<line x1="1061.0" y1="1428.2" x2="1264.0" y2="1428.2" stroke="#e2e2e2" stroke-width="1.6"/>
<line x1="1265.0" y1="1297.0" x2="1265.0" y2="1429.5" stroke="#a5a5a5" stroke-width="2"/>
<line x1="1263.4" y1="1298.0" x2="1263.4" y2="1428.5" stroke="#e4e4e4" stroke-width="1.2"/>
<line x1="1059.0" y1="1297.0" x2="1266.0" y2="1297.0" stroke="#575757" stroke-width="2"/>
<line x1="1060.0" y1="1297.0" x2="1060.0" y2="1429.5" stroke="#454545" stroke-width="2"/>
<rect x="1061.0" y="1305.0" width="3.0" height="7.0" fill="#1c65a3"/>
<rect x="1061.0" y="1317.6" width="13.0" height="7.4" fill="#1c65a3"/>
<rect x="1061.0" y="1329.6" width="29.4" height="7.4" fill="#1c65a3"/>
<rect x="1061.0" y="1342.4" width="51.0" height="7.2" fill="#1c65a3"/>
<rect x="1061.0" y="1354.0" width="51.0" height="7.6" fill="#1c65a3"/>
<rect x="1061.0" y="1366.0" width="66.0" height="7.6" fill="#1c65a3"/>
<rect x="1061.0" y="1378.0" width="122.6" height="7.6" fill="#1c65a3"/>
<rect x="1061.0" y="1390.4" width="194.0" height="7.6" fill="#1c65a3"/>
<rect x="1061.0" y="1402.4" width="102.0" height="7.6" fill="#1c65a3"/>
<rect x="1061.0" y="1415.0" width="3.0" height="7.4" fill="#1c65a3"/>
<line x1="68" y1="1321.6" x2="75.0" y2="1321.6" stroke="#5e5e5e" stroke-width="2"/>
<line x1="1051" y1="1321.6" x2="1059.0" y2="1321.6" stroke="#5e5e5e" stroke-width="2"/>
<text x="58.6" y="1328.4" font-family='"Liberation Sans", sans-serif' font-size="19.8" fill="#6c6c6c" text-anchor="end" font-weight="normal" textLength="29.4" lengthAdjust="spacingAndGlyphs">1.8</text>
<line x1="68" y1="1355.0" x2="75.0" y2="1355.0" stroke="#5e5e5e" stroke-width="2"/>
<line x1="1051" y1="1355.0" x2="1059.0" y2="1355.0" stroke="#5e5e5e" stroke-width="2"/>
<text x="58.6" y="1361.8" font-family='"Liberation Sans", sans-serif' font-size="19.8" fill="#6c6c6c" text-anchor="end" font-weight="normal" textLength="29.4" lengthAdjust="spacingAndGlyphs">1.2</text>
<line x1="68" y1="1390.2" x2="75.0" y2="1390.2" stroke="#5e5e5e" stroke-width="2"/>
<line x1="1051" y1="1390.2" x2="1059.0" y2="1390.2" stroke="#5e5e5e" stroke-width="2"/>
<text x="58.6" y="1397.0" font-family='"Liberation Sans", sans-serif' font-size="19.8" fill="#6c6c6c" text-anchor="end" font-weight="normal" textLength="29.4" lengthAdjust="spacingAndGlyphs">0.6</text>
<line x1="68" y1="1424.4" x2="75.0" y2="1424.4" stroke="#5e5e5e" stroke-width="2"/>
<line x1="1051" y1="1424.4" x2="1059.0" y2="1424.4" stroke="#5e5e5e" stroke-width="2"/>
<text x="58.6" y="1431.2" font-family='"Liberation Sans", sans-serif' font-size="19.8" fill="#6c6c6c" text-anchor="end" font-weight="normal" textLength="29.4" lengthAdjust="spacingAndGlyphs">0.0</text>
<line x1="75.8" y1="1429.5" x2="75.8" y2="1436.5" stroke="#7a7a7a" stroke-width="2"/>
<line x1="269.3" y1="1429.5" x2="269.3" y2="1436.5" stroke="#7a7a7a" stroke-width="2"/>
<line x1="462.8" y1="1429.5" x2="462.8" y2="1436.5" stroke="#7a7a7a" stroke-width="2"/>
<line x1="656.4" y1="1429.5" x2="656.4" y2="1436.5" stroke="#7a7a7a" stroke-width="2"/>
<line x1="849.9" y1="1429.5" x2="849.9" y2="1436.5" stroke="#7a7a7a" stroke-width="2"/>
<line x1="1043.4" y1="1429.5" x2="1043.4" y2="1436.5" stroke="#7a7a7a" stroke-width="2"/>
<text transform="translate(24.3,1362.8) rotate(-90)" x="0" y="0" font-family='"Liberation Sans", sans-serif' font-size="19.5" fill="#6c6c6c" text-anchor="middle" textLength="86.5" lengthAdjust="spacingAndGlyphs">RMSD (Å)</text>
<clipPath id="c8"><rect x="76.0" y="1456.75" width="967.4000000000001" height="132.5"/></clipPath>
<polyline clip-path="url(#c8)" points="77.8,1488.0 77.9,1526.0 78.4,1525.9 78.8,1540.2 79.3,1516.1 79.8,1535.0 80.3,1534.2 80.8,1556.9 81.3,1562.9 81.7,1576.0 82.2,1571.5 82.7,1558.8 83.2,1566.3 83.7,1578.5 84.2,1553.0 84.6,1560.2 85.1,1551.3 85.6,1564.2 86.1,1535.5 86.6,1533.2 87.1,1538.2 87.5,1539.8 88.0,1514.1 88.5,1531.4 89.0,1534.7 89.5,1532.8 90.0,1533.0 90.4,1541.1 90.9,1509.7 91.4,1544.0 91.9,1526.1 92.4,1498.8 92.9,1519.4 93.3,1548.9 93.8,1534.5 94.3,1553.9 94.8,1565.6 95.3,1535.5 95.8,1496.2 96.2,1497.0 96.7,1534.5 97.2,1521.3 97.7,1503.6 98.2,1498.4 98.7,1513.2 99.1,1521.5 99.6,1539.5 100.1,1549.5 100.6,1527.1 101.1,1523.5 101.6,1511.3 102.0,1522.4 102.5,1505.3 103.0,1496.1 103.5,1539.7 104.0,1531.5 104.5,1538.1 104.9,1564.1 105.4,1552.2 105.9,1532.8 106.4,1525.5 106.9,1512.3 107.4,1531.2 107.8,1521.3 108.3,1543.2 108.8,1522.3 109.3,1513.6 109.8,1508.2 110.3,1517.7 110.7,1514.4 111.2,1531.3 111.7,1513.9 112.2,1514.3 112.7,1542.2 113.2,1523.9 113.6,1525.8 114.1,1543.4 114.6,1536.3 115.1,1513.5 115.6,1482.9 116.1,1532.9 116.5,1530.5 117.0,1539.0 117.5,1519.3 118.0,1541.7 118.5,1530.9 119.0,1519.5 119.4,1501.0 119.9,1511.8 120.4,1501.9 120.9,1504.7 121.4,1486.0 121.9,1492.8 122.3,1502.0 122.8,1493.6 123.3,1511.7 123.8,1524.0 124.3,1518.2 124.8,1506.5 125.2,1503.0 125.7,1524.0 126.2,1500.1 126.7,1503.1 127.2,1510.5 127.7,1522.2 128.1,1521.0 128.6,1505.5 129.1,1544.8 129.6,1537.3 130.1,1515.1 130.6,1506.6 131.0,1517.1 131.5,1530.2 132.0,1507.0 132.5,1526.5 133.0,1505.5 133.5,1563.0 133.9,1533.4 134.4,1557.5 134.9,1538.2 135.4,1524.5 135.9,1540.6 136.4,1514.1 136.8,1518.0 137.3,1520.2 137.8,1535.9 138.3,1535.1 138.8,1524.5 139.3,1536.4 139.7,1509.3 140.2,1526.9 140.7,1512.4 141.2,1504.1 141.7,1506.2 142.2,1513.4 142.6,1527.6 143.1,1519.0 143.6,1529.8 144.1,1536.9 144.6,1523.9 145.1,1505.0 145.5,1523.1 146.0,1522.2 146.5,1486.7 147.0,1481.5 147.5,1495.4 148.0,1484.2 148.4,1488.8 148.9,1478.3 149.4,1501.1 149.9,1509.4 150.4,1514.5 150.9,1531.3 151.3,1521.9 151.8,1511.7 152.3,1542.7 152.8,1514.3 153.3,1525.0 153.8,1497.6 154.2,1505.8 154.7,1533.7 155.2,1519.4 155.7,1474.0 156.2,1542.3 156.7,1519.4 157.1,1509.8 157.6,1513.5 158.1,1490.6 158.6,1513.6 159.1,1531.7 159.6,1531.2 160.0,1524.0 160.5,1513.2 161.0,1521.6 161.5,1464.9 162.0,1482.4 162.5,1497.2 162.9,1476.6 163.4,1494.1 163.9,1494.7 164.4,1497.3 164.9,1501.6 165.3,1511.1 165.8,1512.7 166.3,1492.1 166.8,1495.9 167.3,1501.0 167.8,1506.5 168.2,1496.5 168.7,1513.9 169.2,1524.2 169.7,1532.8 170.2,1546.2 170.7,1548.3 171.1,1518.8 171.6,1502.9 172.1,1494.5 172.6,1507.1 173.1,1500.8 173.6,1514.0 174.0,1529.2 174.5,1508.1 175.0,1522.2 175.5,1508.7 176.0,1490.0 176.5,1478.5 176.9,1486.1 177.4,1467.1 177.9,1489.4 178.4,1517.6 178.9,1491.2 179.4,1492.2 179.8,1522.5 180.3,1521.6 180.8,1515.7 181.3,1510.6 181.8,1522.3 182.3,1519.0 182.7,1496.5 183.2,1464.2 183.7,1456.6 184.2,1480.7 184.7,1486.1 185.2,1513.6 185.6,1511.0 186.1,1488.7 186.6,1498.2 187.1,1515.5 187.6,1494.1 188.1,1490.0 188.5,1520.6 189.0,1486.1 189.5,1476.4 190.0,1504.6 190.5,1505.8 191.0,1487.2 191.4,1473.0 191.9,1494.3 192.4,1516.4 192.9,1521.8 193.4,1520.6 193.9,1533.4 194.3,1522.0 194.8,1500.5 195.3,1526.5 195.8,1497.3 196.3,1495.8 196.8,1494.9 197.2,1518.0 197.7,1495.9 198.2,1494.2 198.7,1470.9 199.2,1486.4 199.7,1497.1 200.1,1508.2 200.6,1489.8 201.1,1498.5 201.6,1485.7 202.1,1485.2 202.6,1493.5 203.0,1516.4 203.5,1509.0 204.0,1511.0 204.5,1496.4 205.0,1489.6 205.5,1484.2 205.9,1490.5 206.4,1502.8 206.9,1481.3 207.4,1500.0 207.9,1484.7 208.4,1493.3 208.8,1482.5 209.3,1481.8 209.8,1481.0 210.3,1502.2 210.8,1500.4 211.3,1511.0 211.7,1496.2 212.2,1492.0 212.7,1518.0 213.2,1486.1 213.7,1478.9 214.2,1488.6 214.6,1522.0 215.1,1504.8 215.6,1516.3 216.1,1534.2 216.6,1514.7 217.1,1506.9 217.5,1529.1 218.0,1506.7 218.5,1496.6 219.0,1513.8 219.5,1501.8 220.0,1523.6 220.4,1523.3 220.9,1490.5 221.4,1504.6 221.9,1509.4 222.4,1502.7 222.9,1526.1 223.3,1494.1 223.8,1483.0 224.3,1492.5 224.8,1512.2 225.3,1491.9 225.8,1493.6 226.2,1491.9 226.7,1482.8 227.2,1494.8 227.7,1485.0 228.2,1491.3 228.7,1506.1 229.1,1493.2 229.6,1490.9 230.1,1483.2 230.6,1487.3 231.1,1474.6 231.6,1475.6 232.0,1491.8 232.5,1491.1 233.0,1547.8 233.5,1516.9 234.0,1520.4 234.5,1493.5 234.9,1492.1 235.4,1489.9 235.9,1496.2 236.4,1516.6 236.9,1507.1 237.4,1487.0 237.8,1497.3 238.3,1485.2 238.8,1495.3 239.3,1521.1 239.8,1525.4 240.3,1528.3 240.7,1520.6 241.2,1510.2 241.7,1481.5 242.2,1485.6 242.7,1485.4 243.2,1505.6 243.6,1520.7 244.1,1519.3 244.6,1499.8 245.1,1533.1 245.6,1542.2 246.1,1523.3 246.5,1523.2 247.0,1525.5 247.5,1516.2 248.0,1512.3 248.5,1515.9 249.0,1507.3 249.4,1506.6 249.9,1482.0 250.4,1467.4 250.9,1508.6 251.4,1483.7 251.9,1499.0 252.3,1506.1 252.8,1503.2 253.3,1494.7 253.8,1507.6 254.3,1505.8 254.7,1493.9 255.2,1476.3 255.7,1484.8 256.2,1486.8 256.7,1479.4 257.2,1500.2 257.6,1512.7 258.1,1524.0 258.6,1519.0 259.1,1514.0 259.6,1531.1 260.1,1536.0 260.5,1558.1 261.0,1544.7 261.5,1518.3 262.0,1530.4 262.5,1556.2 263.0,1538.5 263.4,1526.4 263.9,1514.8 264.4,1542.8 264.9,1531.9 265.4,1523.2 265.9,1525.2 266.3,1499.1 266.8,1500.9 267.3,1488.5 267.8,1496.2 268.3,1510.3 268.8,1524.8 269.2,1514.6 269.7,1523.9 270.2,1516.0 270.7,1495.5 271.2,1513.8 271.7,1510.3 272.1,1516.3 272.6,1482.9 273.1,1505.2 273.6,1519.1 274.1,1531.7 274.6,1545.5 275.0,1536.0 275.5,1563.6 276.0,1555.0 276.5,1546.8 277.0,1497.5 277.5,1484.4 277.9,1525.9 278.4,1531.2 278.9,1542.3 279.4,1527.1 279.9,1524.2 280.4,1532.3 280.8,1516.4 281.3,1536.9 281.8,1511.0 282.3,1519.4 282.8,1514.4 283.3,1520.6 283.7,1539.1 284.2,1515.0 284.7,1526.0 285.2,1526.5 285.7,1538.0 286.2,1534.8 286.6,1524.5 287.1,1536.7 287.6,1555.1 288.1,1553.4 288.6,1544.6 289.1,1546.8 289.5,1517.8 290.0,1514.1 290.5,1518.8 291.0,1519.5 291.5,1513.1 292.0,1522.6 292.4,1529.2 292.9,1553.6 293.4,1530.9 293.9,1515.9 294.4,1534.7 294.9,1531.7 295.3,1511.9 295.8,1541.7 296.3,1529.3 296.8,1519.9 297.3,1510.3 297.8,1504.0 298.2,1515.7 298.7,1502.4 299.2,1545.2 299.7,1566.0 300.2,1522.1 300.7,1506.7 301.1,1515.7 301.6,1530.8 302.1,1529.5 302.6,1507.4 303.1,1509.5 303.6,1490.0 304.0,1526.1 304.5,1531.4 305.0,1527.0 305.5,1527.9 306.0,1511.9 306.5,1514.4 306.9,1529.2 307.4,1522.5 307.9,1529.7 308.4,1525.0 308.9,1523.6 309.4,1527.5 309.8,1539.1 310.3,1526.2 310.8,1530.7 311.3,1513.9 311.8,1508.3 312.3,1502.8 312.7,1519.3 313.2,1513.0 313.7,1527.9 314.2,1506.0 314.7,1517.4 315.2,1498.8 315.6,1522.5 316.1,1505.3 316.6,1515.9 317.1,1499.5 317.6,1492.1 318.1,1500.4 318.5,1476.2 319.0,1470.8 319.5,1511.5 320.0,1495.3 320.5,1515.0 321.0,1499.3 321.4,1479.1 321.9,1487.2 322.4,1508.7 322.9,1507.0 323.4,1504.0 323.9,1514.4 324.3,1499.1 324.8,1512.2 325.3,1513.5 325.8,1493.1 326.3,1514.4 326.8,1526.4 327.2,1510.6 327.7,1507.4 328.2,1500.1 328.7,1483.3 329.2,1504.7 329.7,1486.7 330.1,1505.2 330.6,1495.5 331.1,1483.1 331.6,1498.7 332.1,1501.5 332.6,1520.6 333.0,1506.4 333.5,1503.6 334.0,1500.2 334.5,1494.1 335.0,1517.0 335.5,1527.0 335.9,1519.2 336.4,1492.7 336.9,1501.0 337.4,1499.1 337.9,1489.1 338.4,1468.3 338.8,1491.7 339.3,1510.0 339.8,1510.9 340.3,1510.6 340.8,1525.7 341.2,1540.8 341.7,1521.7 342.2,1470.7 342.7,1496.1 343.2,1500.0 343.7,1509.9 344.1,1492.6 344.6,1481.8 345.1,1492.3 345.6,1492.4 346.1,1496.3 346.6,1498.2 347.0,1498.1 347.5,1479.7 348.0,1500.9 348.5,1495.5 349.0,1497.7 349.5,1508.3 349.9,1488.0 350.4,1493.8 350.9,1476.5 351.4,1483.1 351.9,1501.5 352.4,1499.5 352.8,1495.9 353.3,1510.5 353.8,1503.4 354.3,1486.0 354.8,1510.3 355.3,1507.7 355.7,1515.2 356.2,1505.9 356.7,1501.5 357.2,1491.4 357.7,1469.9 358.2,1481.5 358.6,1484.3 359.1,1512.9 359.6,1486.6 360.1,1502.3 360.6,1506.2 361.1,1506.0 361.5,1501.6 362.0,1508.3 362.5,1520.5 363.0,1492.4 363.5,1515.5 364.0,1508.9 364.4,1494.0 364.9,1475.0 365.4,1464.1 365.9,1482.2 366.4,1477.4 366.9,1477.4 367.3,1484.4 367.8,1494.8 368.3,1495.6 368.8,1482.4 369.3,1483.7 369.8,1489.5 370.2,1480.6 370.7,1505.2 371.2,1519.6 371.7,1527.8 372.2,1514.6 372.7,1502.7 373.1,1489.7 373.6,1518.7 374.1,1508.8 374.6,1540.7 375.1,1492.6 375.6,1500.8 376.0,1511.7 376.5,1510.1 377.0,1514.2 377.5,1536.3 378.0,1520.9 378.5,1521.3 378.9,1507.1 379.4,1482.1 379.9,1471.3 380.4,1494.7 380.9,1499.7 381.4,1474.8 381.8,1492.1 382.3,1501.2 382.8,1505.1 383.3,1519.5 383.8,1489.6 384.3,1482.9 384.7,1474.2 385.2,1486.9 385.7,1507.7 386.2,1495.8 386.7,1501.1 387.2,1510.0 387.6,1498.3 388.1,1509.3 388.6,1505.2 389.1,1530.1 389.6,1535.2 390.1,1513.8 390.5,1502.2 391.0,1533.8 391.5,1505.9 392.0,1524.2 392.5,1509.5 393.0,1490.0 393.4,1524.8 393.9,1518.9 394.4,1495.4 394.9,1495.4 395.4,1490.1 395.9,1483.9 396.3,1463.0 396.8,1512.7 397.3,1485.1 397.8,1496.2 398.3,1473.9 398.8,1485.4 399.2,1469.1 399.7,1465.4 400.2,1472.5 400.7,1498.5 401.2,1510.6 401.7,1506.5 402.1,1502.0 402.6,1503.9 403.1,1542.5 403.6,1523.3 404.1,1513.1 404.6,1501.6 405.0,1500.4 405.5,1515.1 406.0,1519.1 406.5,1482.9 407.0,1523.1 407.5,1519.9 407.9,1509.9 408.4,1543.4 408.9,1504.0 409.4,1487.7 409.9,1513.9 410.4,1507.5 410.8,1519.0 411.3,1526.5 411.8,1542.7 412.3,1530.3 412.8,1505.2 413.3,1476.9 413.7,1491.4 414.2,1468.9 414.7,1486.7 415.2,1484.6 415.7,1496.7 416.2,1512.6 416.6,1509.4 417.1,1487.8 417.6,1498.7 418.1,1492.0 418.6,1505.6 419.1,1501.8 419.5,1537.4 420.0,1517.4 420.5,1486.5 421.0,1486.3 421.5,1499.5 422.0,1547.9 422.4,1553.4 422.9,1528.8 423.4,1521.8 423.9,1501.7 424.4,1489.0 424.9,1513.9 425.3,1517.2 425.8,1505.3 426.3,1498.0 426.8,1510.9 427.3,1519.3 427.8,1507.0 428.2,1487.8 428.7,1515.7 429.2,1507.5 429.7,1487.8 430.2,1500.2 430.6,1516.9 431.1,1531.4 431.6,1526.8 432.1,1529.8 432.6,1512.3 433.1,1523.6 433.5,1503.3 434.0,1521.9 434.5,1523.7 435.0,1500.5 435.5,1500.9 436.0,1535.4 436.4,1515.3 436.9,1493.5 437.4,1499.0 437.9,1507.9 438.4,1521.5 438.9,1513.1 439.3,1505.8 439.8,1503.6 440.3,1520.0 440.8,1514.0 441.3,1522.1 441.8,1491.1 442.2,1496.4 442.7,1501.0 443.2,1521.9 443.7,1523.6 444.2,1518.8 444.7,1533.7 445.1,1525.0 445.6,1564.7 446.1,1526.4 446.6,1525.1 447.1,1546.5 447.6,1542.6 448.0,1535.0 448.5,1539.0 449.0,1521.0 449.5,1521.8 450.0,1521.2 450.5,1546.8 450.9,1535.9 451.4,1557.7 451.9,1538.4 452.4,1534.4 452.9,1502.8 453.4,1525.3 453.8,1497.2 454.3,1522.2 454.8,1537.5 455.3,1534.5 455.8,1517.5 456.3,1516.6 456.7,1486.6 457.2,1495.6 457.7,1513.8 458.2,1518.4 458.7,1517.8 459.2,1539.3 459.6,1535.0 460.1,1530.5 460.6,1528.7 461.1,1511.6 461.6,1520.4 462.1,1495.6 462.5,1478.5 463.0,1494.6 463.5,1526.3 464.0,1507.8 464.5,1523.3 465.0,1496.3 465.4,1512.5 465.9,1522.8 466.4,1524.7 466.9,1508.0 467.4,1527.6 467.9,1541.0 468.3,1546.4 468.8,1567.2 469.3,1548.2 469.8,1543.4 470.3,1556.9 470.8,1523.9 471.2,1509.4 471.7,1539.5 472.2,1528.5 472.7,1514.2 473.2,1522.4 473.7,1505.9 474.1,1513.9 474.6,1498.4 475.1,1496.7 475.6,1474.3 476.1,1495.2 476.6,1503.6 477.0,1507.1 477.5,1503.5 478.0,1514.7 478.5,1537.4 479.0,1541.1 479.5,1524.4 479.9,1525.5 480.4,1521.3 480.9,1529.4 481.4,1512.1 481.9,1537.5 482.4,1517.1 482.8,1507.9 483.3,1522.0 483.8,1543.9 484.3,1505.6 484.8,1511.4 485.3,1524.7 485.7,1559.3 486.2,1517.9 486.7,1536.7 487.2,1517.1 487.7,1514.9 488.2,1531.4 488.6,1529.2 489.1,1507.3 489.6,1516.4 490.1,1515.3 490.6,1523.0 491.1,1509.1 491.5,1507.7 492.0,1512.2 492.5,1513.8 493.0,1510.1 493.5,1517.1 494.0,1524.4 494.4,1527.6 494.9,1513.2 495.4,1493.4 495.9,1495.3 496.4,1498.5 496.9,1508.9 497.3,1528.1 497.8,1521.5 498.3,1507.5 498.8,1497.0 499.3,1506.6 499.8,1507.7 500.2,1497.6 500.7,1483.4 501.2,1492.4 501.7,1510.7 502.2,1514.2 502.7,1492.8 503.1,1494.7 503.6,1500.1 504.1,1493.5 504.6,1500.1 505.1,1497.7 505.6,1517.0 506.0,1502.5 506.5,1534.1 507.0,1538.0 507.5,1531.7 508.0,1522.7 508.5,1541.3 508.9,1522.5 509.4,1524.0 509.9,1517.1 510.4,1537.2 510.9,1520.2 511.4,1508.6 511.8,1468.9 512.3,1489.8 512.8,1493.5 513.3,1510.4 513.8,1484.7 514.3,1483.6 514.7,1513.8 515.2,1497.8 515.7,1502.9 516.2,1515.9 516.7,1509.7 517.1,1511.2 517.6,1522.7 518.1,1505.4 518.6,1515.5 519.1,1507.8 519.6,1490.9 520.0,1500.7 520.5,1523.8 521.0,1515.8 521.5,1503.6 522.0,1502.7 522.5,1498.3 522.9,1511.1 523.4,1492.2 523.9,1510.2 524.4,1514.0 524.9,1525.7 525.4,1507.9 525.8,1518.6 526.3,1496.8 526.8,1506.0 527.3,1501.2 527.8,1488.0 528.3,1503.3 528.7,1518.5 529.2,1533.1 529.7,1522.1 530.2,1507.5 530.7,1526.8 531.2,1498.8 531.6,1502.3 532.1,1482.1 532.6,1496.0 533.1,1502.7 533.6,1495.7 534.1,1514.3 534.5,1508.1 535.0,1513.8 535.5,1514.7 536.0,1510.1 536.5,1474.4 537.0,1490.4 537.4,1503.6 537.9,1493.0 538.4,1505.1 538.9,1486.1 539.4,1506.4 539.9,1515.4 540.3,1521.1 540.8,1511.9 541.3,1515.6 541.8,1493.2 542.3,1488.5 542.8,1506.9 543.2,1500.0 543.7,1504.6 544.2,1509.2 544.7,1530.0 545.2,1513.2 545.7,1507.0 546.1,1502.4 546.6,1484.3 547.1,1501.6 547.6,1477.3 548.1,1481.6 548.6,1517.6 549.0,1515.9 549.5,1480.1 550.0,1480.3 550.5,1519.3 551.0,1508.9 551.5,1537.9 551.9,1517.3 552.4,1477.3 552.9,1498.7 553.4,1499.2 553.9,1507.2 554.4,1492.2 554.8,1480.0 555.3,1483.9 555.8,1480.4 556.3,1504.0 556.8,1522.7 557.3,1511.0 557.7,1519.8 558.2,1504.6 558.7,1502.8 559.2,1480.5 559.7,1514.6 560.2,1507.1 560.6,1526.4 561.1,1537.5 561.6,1536.5 562.1,1522.9 562.6,1503.4 563.1,1517.7 563.5,1518.5 564.0,1531.4 564.5,1523.4 565.0,1493.5 565.5,1483.3 566.0,1503.0 566.4,1525.6 566.9,1509.7 567.4,1505.5 567.9,1508.5 568.4,1506.7 568.9,1507.8 569.3,1500.2 569.8,1504.4 570.3,1495.9 570.8,1497.3 571.3,1509.4 571.8,1507.7 572.2,1497.3 572.7,1511.9 573.2,1497.6 573.7,1497.7 574.2,1494.3 574.7,1511.8 575.1,1528.0 575.6,1518.5 576.1,1507.2 576.6,1518.9 577.1,1523.7 577.6,1498.6 578.0,1518.8 578.5,1528.8 579.0,1520.9 579.5,1518.7 580.0,1518.6 580.5,1511.0 580.9,1524.5 581.4,1513.8 581.9,1511.2 582.4,1516.0 582.9,1495.8 583.4,1499.9 583.8,1494.1 584.3,1503.5 584.8,1502.6 585.3,1507.2 585.8,1514.6 586.3,1501.2 586.7,1513.6 587.2,1493.1 587.7,1521.6 588.2,1521.5 588.7,1533.1 589.2,1501.5 589.6,1533.3 590.1,1524.5 590.6,1527.4 591.1,1525.4 591.6,1524.2 592.1,1517.4 592.5,1491.4 593.0,1524.2 593.5,1553.5 594.0,1528.5 594.5,1545.8 595.0,1551.3 595.4,1544.3 595.9,1530.0 596.4,1536.3 596.9,1519.6 597.4,1516.1 597.9,1511.5 598.3,1510.2 598.8,1511.4 599.3,1526.2 599.8,1536.1 600.3,1519.4 600.8,1522.1 601.2,1526.1 601.7,1505.3 602.2,1535.2 602.7,1514.0 603.2,1536.9 603.7,1505.5 604.1,1511.8 604.6,1538.2 605.1,1547.6 605.6,1549.8 606.1,1544.4 606.5,1574.6 607.0,1560.9 607.5,1556.4 608.0,1540.6 608.5,1532.3 609.0,1555.1 609.4,1566.0 609.9,1525.8 610.4,1521.2 610.9,1544.3 611.4,1539.0 611.9,1545.9 612.3,1509.7 612.8,1517.7 613.3,1519.7 613.8,1523.9 614.3,1513.8 614.8,1518.1 615.2,1546.5 615.7,1520.0 616.2,1521.7 616.7,1522.4 617.2,1520.5 617.7,1547.8 618.1,1578.0 618.6,1536.0 619.1,1536.6 619.6,1520.4 620.1,1527.3 620.6,1518.9 621.0,1543.3 621.5,1541.6 622.0,1514.6 622.5,1492.9 623.0,1490.9 623.5,1531.9 623.9,1506.6 624.4,1485.2 624.9,1488.1 625.4,1492.3 625.9,1511.9 626.4,1498.8 626.8,1533.2 627.3,1523.7 627.8,1521.7 628.3,1535.6 628.8,1524.2 629.3,1517.2 629.7,1520.6 630.2,1500.3 630.7,1492.6 631.2,1508.4 631.7,1494.6 632.2,1490.7 632.6,1509.0 633.1,1516.6 633.6,1515.3 634.1,1493.3 634.6,1531.1 635.1,1512.5 635.5,1504.8 636.0,1502.2 636.5,1487.9 637.0,1491.8 637.5,1529.1 638.0,1496.3 638.4,1537.3 638.9,1509.7 639.4,1498.1 639.9,1524.3 640.4,1541.3 640.9,1519.3 641.3,1522.1 641.8,1504.7 642.3,1504.5 642.8,1503.0 643.3,1514.0 643.8,1506.8 644.2,1518.3 644.7,1515.4 645.2,1522.0 645.7,1523.6 646.2,1510.6 646.7,1508.1 647.1,1495.5 647.6,1516.1 648.1,1530.3 648.6,1520.2 649.1,1516.1 649.6,1507.8 650.0,1507.7 650.5,1516.3 651.0,1491.6 651.5,1486.5 652.0,1507.5 652.5,1528.3 652.9,1518.8 653.4,1538.8 653.9,1552.5 654.4,1545.7 654.9,1572.1 655.4,1552.4 655.8,1548.8 656.3,1527.9 656.8,1519.4 657.3,1527.3 657.8,1540.7 658.3,1536.4 658.7,1535.8 659.2,1536.6 659.7,1545.1 660.2,1515.7 660.7,1535.7 661.2,1522.4 661.6,1534.7 662.1,1543.5 662.6,1518.4 663.1,1539.0 663.6,1533.8 664.1,1523.3 664.5,1549.2 665.0,1520.3 665.5,1503.6 666.0,1518.8 666.5,1527.8 667.0,1525.3 667.4,1535.8 667.9,1501.8 668.4,1530.7 668.9,1534.3 669.4,1517.4 669.9,1506.7 670.3,1526.7 670.8,1536.5 671.3,1526.4 671.8,1529.6 672.3,1535.9 672.8,1550.5 673.2,1529.9 673.7,1549.6 674.2,1541.2 674.7,1541.1 675.2,1545.5 675.7,1532.6 676.1,1515.5 676.6,1500.2 677.1,1528.5 677.6,1508.6 678.1,1529.4 678.6,1518.5 679.0,1536.7 679.5,1518.0 680.0,1524.5 680.5,1526.6 681.0,1538.1 681.5,1527.0 681.9,1532.5 682.4,1547.7 682.9,1518.4 683.4,1537.2 683.9,1515.9 684.4,1534.8 684.8,1525.2 685.3,1545.6 685.8,1536.1 686.3,1527.4 686.8,1543.6 687.3,1532.3 687.7,1526.3 688.2,1536.9 688.7,1548.2 689.2,1547.3 689.7,1507.2 690.2,1521.9 690.6,1528.9 691.1,1540.7 691.6,1547.6 692.1,1554.7 692.6,1548.9 693.0,1564.9 693.5,1546.3 694.0,1530.4 694.5,1515.1 695.0,1518.2 695.5,1535.8 695.9,1532.9 696.4,1550.0 696.9,1543.4 697.4,1531.5 697.9,1552.7 698.4,1543.4 698.8,1555.3 699.3,1517.9 699.8,1508.6 700.3,1517.4 700.8,1515.4 701.3,1531.7 701.7,1538.4 702.2,1542.0 702.7,1530.8 703.2,1522.5 703.7,1518.8 704.2,1546.2 704.6,1534.1 705.1,1544.8 705.6,1530.7 706.1,1512.0 706.6,1523.7 707.1,1538.6 707.5,1513.2 708.0,1516.8 708.5,1533.2 709.0,1529.2 709.5,1527.5 710.0,1542.8 710.4,1543.5 710.9,1544.3 711.4,1534.5 711.9,1539.0 712.4,1528.2 712.9,1549.4 713.3,1498.0 713.8,1513.4 714.3,1531.5 714.8,1518.0 715.3,1532.5 715.8,1523.8 716.2,1536.8 716.7,1552.6 717.2,1538.5 717.7,1564.2 718.2,1542.5 718.7,1503.9 719.1,1507.2 719.6,1516.2 720.1,1523.8 720.6,1524.2 721.1,1533.1 721.6,1529.2 722.0,1545.7 722.5,1539.3 723.0,1531.6 723.5,1549.5 724.0,1520.2 724.5,1496.9 724.9,1501.6 725.4,1483.2 725.9,1504.9 726.4,1510.9 726.9,1545.8 727.4,1524.5 727.8,1511.9 728.3,1534.3 728.8,1540.1 729.3,1543.9 729.8,1530.3 730.3,1524.1 730.7,1535.6 731.2,1528.2 731.7,1537.9 732.2,1549.8 732.7,1533.1 733.2,1539.0 733.6,1505.4 734.1,1533.9 734.6,1548.2 735.1,1537.2 735.6,1524.4 736.1,1523.0 736.5,1523.3 737.0,1519.2 737.5,1509.2 738.0,1516.8 738.5,1536.2 739.0,1497.2 739.4,1499.8 739.9,1495.2 740.4,1489.4 740.9,1502.6 741.4,1480.2 741.9,1495.8 742.3,1519.8 742.8,1530.7 743.3,1533.8 743.8,1531.8 744.3,1538.4 744.8,1534.0 745.2,1536.0 745.7,1541.1 746.2,1555.4 746.7,1557.7 747.2,1554.6 747.7,1518.3 748.1,1522.0 748.6,1522.0 749.1,1512.3 749.6,1499.8 750.1,1517.5 750.6,1519.3 751.0,1511.3 751.5,1497.5 752.0,1495.7 752.5,1500.3 753.0,1509.3 753.5,1537.2 753.9,1529.1 754.4,1490.3 754.9,1505.7 755.4,1517.5 755.9,1502.6 756.4,1491.6 756.8,1507.2 757.3,1527.6 757.8,1530.3 758.3,1544.7 758.8,1530.1 759.3,1528.1 759.7,1510.8 760.2,1528.8 760.7,1524.2 761.2,1528.5 761.7,1486.2 762.2,1475.1 762.6,1500.2 763.1,1519.1 763.6,1512.6 764.1,1510.4 764.6,1523.2 765.1,1462.0 765.5,1513.7 766.0,1506.4 766.5,1508.9 767.0,1527.2 767.5,1500.6 768.0,1497.7 768.4,1474.2 768.9,1504.3 769.4,1515.6 769.9,1555.8 770.4,1533.8 770.9,1528.0 771.3,1541.9 771.8,1536.6 772.3,1523.5 772.8,1541.8 773.3,1493.4 773.8,1514.5 774.2,1507.5 774.7,1500.1 775.2,1492.1 775.7,1510.7 776.2,1501.7 776.7,1511.2 777.1,1538.9 777.6,1520.1 778.1,1518.3 778.6,1510.7 779.1,1496.5 779.6,1517.2 780.0,1537.3 780.5,1521.0 781.0,1520.1 781.5,1517.8 782.0,1512.1 782.4,1531.0 782.9,1497.2 783.4,1533.2 783.9,1522.1 784.4,1552.0 784.9,1546.2 785.3,1534.7 785.8,1502.6 786.3,1496.2 786.8,1518.9 787.3,1510.6 787.8,1530.3 788.2,1505.9 788.7,1529.8 789.2,1526.6 789.7,1531.0 790.2,1517.0 790.7,1518.8 791.1,1531.9 791.6,1531.2 792.1,1517.0 792.6,1528.5 793.1,1509.7 793.6,1548.8 794.0,1549.3 794.5,1538.3 795.0,1534.3 795.5,1521.1 796.0,1526.9 796.5,1490.5 796.9,1514.2 797.4,1547.5 797.9,1507.2 798.4,1519.6 798.9,1518.3 799.4,1519.6 799.8,1507.1 800.3,1535.1 800.8,1514.4 801.3,1540.7 801.8,1554.4 802.3,1548.8 802.7,1546.8 803.2,1509.0 803.7,1506.0 804.2,1477.7 804.7,1510.1 805.2,1530.0 805.6,1499.1 806.1,1510.2 806.6,1505.1 807.1,1479.9 807.6,1488.5 808.1,1501.1 808.5,1516.6 809.0,1509.3 809.5,1513.6 810.0,1535.7 810.5,1530.7 811.0,1497.8 811.4,1504.7 811.9,1520.2 812.4,1546.7 812.9,1529.9 813.4,1525.4 813.9,1523.3 814.3,1534.6 814.8,1525.0 815.3,1521.5 815.8,1491.2 816.3,1483.3 816.8,1463.7 817.2,1460.9 817.7,1476.2 818.2,1466.0 818.7,1507.8 819.2,1502.9 819.7,1526.0 820.1,1489.2 820.6,1488.6 821.1,1511.2 821.6,1506.8 822.1,1503.5 822.6,1514.3 823.0,1494.0 823.5,1485.6 824.0,1484.9 824.5,1520.5 825.0,1492.0 825.5,1489.2 825.9,1526.3 826.4,1522.0 826.9,1578.0 827.4,1481.8 827.9,1492.9 828.4,1495.8 828.8,1512.1 829.3,1493.3 829.8,1489.7 830.3,1508.0 830.8,1493.4 831.3,1521.9 831.7,1511.6 832.2,1515.0 832.7,1500.2 833.2,1526.7 833.7,1510.0 834.2,1525.5 834.6,1506.2 835.1,1509.8 835.6,1495.9 836.1,1512.3 836.6,1533.6 837.1,1513.4 837.5,1534.1 838.0,1522.5 838.5,1507.0 839.0,1515.0 839.5,1506.9 840.0,1514.1 840.4,1505.5 840.9,1488.3 841.4,1521.7 841.9,1522.0 842.4,1514.1 842.9,1529.3 843.3,1503.8 843.8,1512.0 844.3,1526.0 844.8,1540.1 845.3,1531.7 845.8,1538.3 846.2,1507.8 846.7,1513.8 847.2,1527.7 847.7,1543.7 848.2,1515.6 848.7,1544.1 849.1,1568.8 849.6,1552.2 850.1,1515.9 850.6,1531.1 851.1,1540.7 851.6,1535.0 852.0,1556.9 852.5,1572.4 853.0,1542.5 853.5,1524.6 854.0,1531.8 854.5,1552.5 854.9,1530.6 855.4,1524.3 855.9,1531.8 856.4,1525.0 856.9,1527.9 857.4,1545.4 857.8,1531.3 858.3,1544.1 858.8,1540.0 859.3,1537.8 859.8,1521.5 860.3,1534.0 860.7,1541.2 861.2,1528.6 861.7,1543.0 862.2,1552.0 862.7,1546.5 863.2,1526.6 863.6,1530.2 864.1,1545.4 864.6,1546.9 865.1,1539.7 865.6,1532.0 866.1,1543.6 866.5,1545.2 867.0,1556.3 867.5,1536.2 868.0,1537.4 868.5,1549.0 868.9,1532.1 869.4,1532.9 869.9,1522.2 870.4,1540.3 870.9,1554.1 871.4,1537.7 871.8,1568.4 872.3,1568.1 872.8,1548.9 873.3,1548.6 873.8,1537.3 874.3,1556.5 874.7,1547.3 875.2,1532.9 875.7,1534.7 876.2,1521.8 876.7,1502.1 877.2,1500.3 877.6,1526.1 878.1,1524.4 878.6,1536.4 879.1,1533.2 879.6,1531.6 880.1,1537.1 880.5,1548.8 881.0,1529.3 881.5,1521.8 882.0,1529.3 882.5,1550.5 883.0,1545.5 883.4,1537.1 883.9,1534.2 884.4,1532.3 884.9,1525.2 885.4,1544.3 885.9,1566.3 886.3,1554.6 886.8,1521.0 887.3,1506.2 887.8,1547.4 888.3,1516.5 888.8,1557.0 889.2,1551.3 889.7,1540.8 890.2,1549.0 890.7,1544.8 891.2,1563.2 891.7,1543.2 892.1,1542.6 892.6,1532.8 893.1,1544.2 893.6,1551.0 894.1,1528.2 894.6,1509.7 895.0,1537.5 895.5,1550.3 896.0,1552.1 896.5,1535.1 897.0,1519.2 897.5,1511.0 897.9,1521.4 898.4,1512.0 898.9,1509.7 899.4,1523.8 899.9,1549.8 900.4,1565.4 900.8,1549.0 901.3,1557.0 901.8,1551.0 902.3,1549.4 902.8,1540.3 903.3,1531.2 903.7,1526.7 904.2,1537.4 904.7,1558.1 905.2,1532.7 905.7,1530.2 906.2,1520.8 906.6,1540.3 907.1,1575.1 907.6,1562.3 908.1,1533.0 908.6,1540.4 909.1,1563.2 909.5,1535.3 910.0,1502.6 910.5,1494.1 911.0,1519.3 911.5,1501.7 912.0,1539.5 912.4,1501.7 912.9,1513.1 913.4,1505.6 913.9,1530.1 914.4,1533.1 914.9,1542.6 915.3,1540.0 915.8,1522.8 916.3,1527.6 916.8,1513.7 917.3,1516.7 917.8,1524.8 918.2,1522.9 918.7,1508.9 919.2,1500.7 919.7,1501.4 920.2,1499.8 920.7,1497.0 921.1,1526.9 921.6,1533.8 922.1,1533.1 922.6,1549.3 923.1,1541.4 923.6,1523.1 924.0,1533.4 924.5,1532.6 925.0,1502.8 925.5,1543.5 926.0,1528.9 926.5,1500.6 926.9,1527.6 927.4,1522.2 927.9,1521.0 928.4,1535.6 928.9,1536.8 929.4,1531.2 929.8,1526.6 930.3,1525.0 930.8,1514.3 931.3,1495.1 931.8,1518.3 932.3,1518.5 932.7,1518.2 933.2,1527.6 933.7,1516.0 934.2,1513.7 934.7,1526.8 935.2,1521.6 935.6,1509.2 936.1,1500.0 936.6,1544.9 937.1,1527.6 937.6,1554.9 938.1,1528.5 938.5,1532.0 939.0,1527.2 939.5,1508.8 940.0,1513.6 940.5,1551.2 941.0,1531.9 941.4,1516.9 941.9,1530.7 942.4,1520.3 942.9,1516.3 943.4,1508.5 943.9,1533.5 944.3,1540.7 944.8,1507.3 945.3,1530.6 945.8,1530.2 946.3,1529.8 946.8,1520.9 947.2,1529.4 947.7,1541.5 948.2,1531.3 948.7,1538.2 949.2,1542.2 949.7,1531.8 950.1,1529.8 950.6,1534.3 951.1,1549.7 951.6,1535.5 952.1,1540.3 952.6,1558.8 953.0,1573.7 953.5,1538.1 954.0,1544.3 954.5,1542.9 955.0,1536.8 955.5,1530.1 955.9,1555.7 956.4,1556.2 956.9,1543.0 957.4,1540.2 957.9,1538.5 958.3,1537.9 958.8,1549.3 959.3,1539.9 959.8,1548.2 960.3,1521.5 960.8,1533.3 961.2,1531.3 961.7,1530.9 962.2,1541.6 962.7,1544.2 963.2,1541.5 963.7,1560.5 964.1,1549.0 964.6,1544.6 965.1,1536.5 965.6,1552.4 966.1,1558.3 966.6,1520.2 967.0,1519.7 967.5,1534.1 968.0,1551.6 968.5,1555.4 969.0,1545.8 969.5,1563.3 969.9,1547.8 970.4,1549.7 970.9,1548.0 971.4,1545.1 971.9,1529.7 972.4,1529.5 972.8,1544.1 973.3,1553.8 973.8,1558.1 974.3,1555.8 974.8,1545.0 975.3,1550.3 975.7,1541.5 976.2,1547.8 976.7,1553.1 977.2,1536.9 977.7,1548.0 978.2,1560.4 978.6,1529.7 979.1,1527.7 979.6,1529.9 980.1,1557.7 980.6,1550.8 981.1,1553.2 981.5,1558.7 982.0,1540.4 982.5,1520.9 983.0,1544.0 983.5,1558.4 984.0,1562.7 984.4,1564.4 984.9,1543.8 985.4,1538.4 985.9,1540.4 986.4,1549.4 986.9,1539.3 987.3,1538.5 987.8,1550.7 988.3,1572.0 988.8,1539.5 989.3,1541.6 989.8,1523.4 990.2,1510.9 990.7,1546.5 991.2,1533.5 991.7,1543.4 992.2,1557.3 992.7,1558.2 993.1,1537.2 993.6,1548.8 994.1,1549.2 994.6,1543.2 995.1,1543.2 995.6,1538.7 996.0,1558.5 996.5,1556.6 997.0,1548.4 997.5,1551.7 998.0,1556.2 998.5,1562.8 998.9,1568.6 999.4,1545.8 999.9,1539.5 1000.4,1560.1 1000.9,1544.1 1001.4,1556.8 1001.8,1525.6 1002.3,1537.6 1002.8,1534.6 1003.3,1538.3 1003.8,1550.8 1004.3,1523.6 1004.7,1515.8 1005.2,1534.9 1005.7,1528.2 1006.2,1540.9 1006.7,1549.4 1007.2,1537.8 1007.6,1553.7 1008.1,1562.9 1008.6,1563.6 1009.1,1550.9 1009.6,1544.6 1010.1,1532.0 1010.5,1514.8 1011.0,1528.7 1011.5,1552.6 1012.0,1546.1 1012.5,1553.4 1013.0,1542.9 1013.4,1537.0 1013.9,1534.5 1014.4,1555.9 1014.9,1532.6 1015.4,1528.5 1015.9,1545.4 1016.3,1558.6 1016.8,1557.5 1017.3,1584.8 1017.8,1560.2 1018.3,1549.2 1018.8,1538.7 1019.2,1538.2 1019.7,1565.2 1020.2,1570.4 1020.7,1553.5 1021.2,1563.7 1021.7,1544.6 1022.1,1569.2 1022.6,1556.3 1023.1,1563.0 1023.6,1536.2 1024.1,1540.4 1024.6,1541.0 1025.0,1539.8 1025.5,1543.9 1026.0,1523.4 1026.5,1516.0 1027.0,1553.7 1027.5,1537.0 1027.9,1516.9 1028.4,1541.4 1028.9,1547.4 1029.4,1550.3 1029.9,1543.4 1030.4,1554.3 1030.8,1561.6 1031.3,1551.8 1031.8,1555.1 1032.3,1529.3 1032.8,1537.4 1033.3,1530.0 1033.7,1524.3 1034.2,1548.2 1034.7,1521.8 1035.2,1538.2 1035.7,1526.0 1036.2,1550.7 1036.6,1553.3 1037.1,1560.7 1037.6,1551.0 1038.1,1530.4 1038.6,1566.8 1039.1,1552.7 1039.5,1529.5 1040.0,1551.1 1040.5,1573.6 1041.0,1557.7 1041.5,1544.4 1042.0,1553.5 1042.4,1559.2 1042.9,1562.6 1043.4,1546.8" fill="none" stroke="#b2df8a" stroke-width="2.4" stroke-linejoin="miter" stroke-miterlimit="3"/>
<line x1="75.0" y1="1589.8" x2="1043.4" y2="1589.8" stroke="#8c8c8c" stroke-width="1.8"/>
<line x1="77.0" y1="1588.0" x2="1042.4" y2="1588.0" stroke="#dedede" stroke-width="1.6"/>
<line x1="76.0" y1="1456.75" x2="76.0" y2="1596.25" stroke="#a9a9a9" stroke-width="2"/>
<line x1="75.0" y1="1456.75" x2="1044.4" y2="1456.75" stroke="#575757" stroke-width="2"/>
<line x1="1043.4" y1="1456.75" x2="1043.4" y2="1596.25" stroke="#575757" stroke-width="2"/>
<line x1="1060.0" y1="1589.8" x2="1266.0" y2="1589.8" stroke="#8c8c8c" stroke-width="1.8"/>
<line x1="1061.0" y1="1588.0" x2="1264.0" y2="1588.0" stroke="#e2e2e2" stroke-width="1.6"/>
<line x1="1265.0" y1="1456.75" x2="1265.0" y2="1589.25" stroke="#a5a5a5" stroke-width="2"/>
<line x1="1263.4" y1="1457.75" x2="1263.4" y2="1588.25" stroke="#e4e4e4" stroke-width="1.2"/>
<line x1="1059.0" y1="1456.75" x2="1266.0" y2="1456.75" stroke="#575757" stroke-width="2"/>
<line x1="1060.0" y1="1456.75" x2="1060.0" y2="1589.25" stroke="#454545" stroke-width="2"/>
<rect x="1061.0" y="1465.6" width="9.4" height="7.4" fill="#aedb86"/>
<rect x="1061.0" y="1477.4" width="53.4" height="7.6" fill="#aedb86"/>
<rect x="1061.0" y="1489.2" width="106.0" height="7.8" fill="#aedb86"/>
<rect x="1061.0" y="1501.6" width="162.4" height="7.4" fill="#aedb86"/>
<rect x="1061.0" y="1514.0" width="185.6" height="7.6" fill="#aedb86"/>
<rect x="1061.0" y="1525.6" width="194.0" height="8.4" fill="#aedb86"/>
<rect x="1061.0" y="1537.6" width="164.6" height="7.4" fill="#aedb86"/>
<rect x="1061.0" y="1549.6" width="104.0" height="8.0" fill="#aedb86"/>
<rect x="1061.0" y="1562.0" width="36.6" height="8.0" fill="#aedb86"/>
<rect x="1061.0" y="1574.4" width="9.4" height="8.0" fill="#aedb86"/>
<line x1="68" y1="1474.6" x2="75.0" y2="1474.6" stroke="#5e5e5e" stroke-width="2"/>
<line x1="1051" y1="1474.6" x2="1059.0" y2="1474.6" stroke="#5e5e5e" stroke-width="2"/>
<text x="58.6" y="1481.4" font-family='"Liberation Sans", sans-serif' font-size="19.8" fill="#6c6c6c" text-anchor="end" font-weight="normal" textLength="29.4" lengthAdjust="spacingAndGlyphs">4.5</text>
<line x1="68" y1="1510.4" x2="75.0" y2="1510.4" stroke="#5e5e5e" stroke-width="2"/>
<line x1="1051" y1="1510.4" x2="1059.0" y2="1510.4" stroke="#5e5e5e" stroke-width="2"/>
<text x="58.6" y="1517.2" font-family='"Liberation Sans", sans-serif' font-size="19.8" fill="#6c6c6c" text-anchor="end" font-weight="normal" textLength="29.4" lengthAdjust="spacingAndGlyphs">4.2</text>
<line x1="68" y1="1546.2" x2="75.0" y2="1546.2" stroke="#5e5e5e" stroke-width="2"/>
<line x1="1051" y1="1546.2" x2="1059.0" y2="1546.2" stroke="#5e5e5e" stroke-width="2"/>
<text x="58.6" y="1553.0" font-family='"Liberation Sans", sans-serif' font-size="19.8" fill="#6c6c6c" text-anchor="end" font-weight="normal" textLength="29.4" lengthAdjust="spacingAndGlyphs">3.9</text>
<line x1="68" y1="1582.0" x2="75.0" y2="1582.0" stroke="#5e5e5e" stroke-width="2"/>
<line x1="1051" y1="1582.0" x2="1059.0" y2="1582.0" stroke="#5e5e5e" stroke-width="2"/>
<text x="58.6" y="1588.8" font-family='"Liberation Sans", sans-serif' font-size="19.8" fill="#6c6c6c" text-anchor="end" font-weight="normal" textLength="29.4" lengthAdjust="spacingAndGlyphs">3.6</text>
<line x1="75.8" y1="1589.25" x2="75.8" y2="1596.25" stroke="#7a7a7a" stroke-width="2"/>
<line x1="269.3" y1="1589.25" x2="269.3" y2="1596.25" stroke="#7a7a7a" stroke-width="2"/>
<line x1="462.8" y1="1589.25" x2="462.8" y2="1596.25" stroke="#7a7a7a" stroke-width="2"/>
<line x1="656.4" y1="1589.25" x2="656.4" y2="1596.25" stroke="#7a7a7a" stroke-width="2"/>
<line x1="849.9" y1="1589.25" x2="849.9" y2="1596.25" stroke="#7a7a7a" stroke-width="2"/>
<line x1="1043.4" y1="1589.25" x2="1043.4" y2="1596.25" stroke="#7a7a7a" stroke-width="2"/>
<text transform="translate(24.3,1523.3) rotate(-90)" x="0" y="0" font-family='"Liberation Sans", sans-serif' font-size="19.5" fill="#6c6c6c" text-anchor="middle" textLength="72.8" lengthAdjust="spacingAndGlyphs">rGyr (Å)</text>
<clipPath id="c9"><rect x="76.0" y="1616.5" width="967.4000000000001" height="132.5"/></clipPath>
<line x1="76.0" y1="1682.7" x2="1043.4" y2="1682.7" stroke="#1f6aa6" stroke-width="3"/>
<text x="560.0" y="1695.7" font-family='"Liberation Sans", sans-serif' font-size="44" fill="rgba(205,205,205,0.7)" text-anchor="middle" font-weight="normal" textLength="685" lengthAdjust="spacingAndGlyphs">No Intramolecular HBs Detected</text>
<line x1="75.0" y1="1749.6" x2="1043.4" y2="1749.6" stroke="#8c8c8c" stroke-width="1.8"/>
<line x1="77.0" y1="1747.7" x2="1042.4" y2="1747.7" stroke="#dedede" stroke-width="1.6"/>
<line x1="76.0" y1="1616.5" x2="76.0" y2="1756.0" stroke="#a9a9a9" stroke-width="2"/>
<line x1="75.0" y1="1616.5" x2="1044.4" y2="1616.5" stroke="#575757" stroke-width="2"/>
<line x1="1043.4" y1="1616.5" x2="1043.4" y2="1756.0" stroke="#575757" stroke-width="2"/>
<line x1="1060.0" y1="1749.6" x2="1266.0" y2="1749.6" stroke="#8c8c8c" stroke-width="1.8"/>
<line x1="1061.0" y1="1747.7" x2="1264.0" y2="1747.7" stroke="#e2e2e2" stroke-width="1.6"/>
<line x1="1265.0" y1="1616.5" x2="1265.0" y2="1749.0" stroke="#a5a5a5" stroke-width="2"/>
<line x1="1263.4" y1="1617.5" x2="1263.4" y2="1748.0" stroke="#e4e4e4" stroke-width="1.2"/>
<line x1="1059.0" y1="1616.5" x2="1266.0" y2="1616.5" stroke="#575757" stroke-width="2"/>
<line x1="1060.0" y1="1616.5" x2="1060.0" y2="1749.0" stroke="#454545" stroke-width="2"/>
<text x="1163.0" y="1632.5" font-family='"Liberation Sans", sans-serif' font-size="42" fill="#cfcfcf" text-anchor="middle" font-weight="normal" textLength="56" lengthAdjust="spacingAndGlyphs">NA</text>
<line x1="68" y1="1620.9" x2="75.0" y2="1620.9" stroke="#5e5e5e" stroke-width="2"/>
<line x1="1051" y1="1620.9" x2="1059.0" y2="1620.9" stroke="#5e5e5e" stroke-width="2"/>
<line x1="68" y1="1682.7" x2="75.0" y2="1682.7" stroke="#5e5e5e" stroke-width="2"/>
<line x1="1051" y1="1682.7" x2="1059.0" y2="1682.7" stroke="#5e5e5e" stroke-width="2"/>
<line x1="68" y1="1745.3" x2="75.0" y2="1745.3" stroke="#5e5e5e" stroke-width="2"/>
<line x1="1051" y1="1745.3" x2="1059.0" y2="1745.3" stroke="#5e5e5e" stroke-width="2"/>
<line x1="75.8" y1="1749.0" x2="75.8" y2="1756.0" stroke="#7a7a7a" stroke-width="2"/>
<line x1="269.3" y1="1749.0" x2="269.3" y2="1756.0" stroke="#7a7a7a" stroke-width="2"/>
<line x1="462.8" y1="1749.0" x2="462.8" y2="1756.0" stroke="#7a7a7a" stroke-width="2"/>
<line x1="656.4" y1="1749.0" x2="656.4" y2="1756.0" stroke="#7a7a7a" stroke-width="2"/>
<line x1="849.9" y1="1749.0" x2="849.9" y2="1756.0" stroke="#7a7a7a" stroke-width="2"/>
<line x1="1043.4" y1="1749.0" x2="1043.4" y2="1756.0" stroke="#7a7a7a" stroke-width="2"/>
<text transform="translate(24.3,1686.0) rotate(-90)" x="0" y="0" font-family='"Liberation Sans", sans-serif' font-size="19.5" fill="#6c6c6c" text-anchor="middle" textLength="70.6" lengthAdjust="spacingAndGlyphs">intraHB</text>
<clipPath id="c10"><rect x="76.0" y="1776.25" width="967.4000000000001" height="132.5"/></clipPath>
<polyline clip-path="url(#c10)" points="77.8,1829.8 77.9,1829.0 78.4,1831.6 78.8,1848.6 79.3,1845.0 79.8,1850.2 80.3,1860.0 80.8,1863.7 81.3,1859.0 81.7,1844.0 82.2,1832.1 82.7,1830.1 83.2,1835.8 83.7,1839.2 84.2,1830.1 84.6,1826.1 85.1,1844.0 85.6,1815.8 86.1,1832.2 86.6,1842.6 87.1,1821.4 87.5,1818.1 88.0,1826.3 88.5,1847.9 89.0,1842.8 89.5,1813.8 90.0,1823.9 90.4,1847.0 90.9,1856.3 91.4,1853.2 91.9,1839.1 92.4,1812.9 92.9,1833.0 93.3,1835.9 93.8,1834.8 94.3,1857.0 94.8,1846.3 95.3,1847.8 95.8,1852.5 96.2,1842.2 96.7,1827.8 97.2,1824.8 97.7,1845.7 98.2,1845.9 98.7,1832.3 99.1,1853.2 99.6,1844.8 100.1,1821.3 100.6,1845.8 101.1,1843.2 101.6,1825.6 102.0,1844.7 102.5,1838.6 103.0,1836.2 103.5,1850.2 104.0,1815.3 104.5,1818.7 104.9,1830.3 105.4,1846.0 105.9,1835.6 106.4,1827.7 106.9,1823.8 107.4,1836.2 107.8,1847.1 108.3,1819.9 108.8,1803.5 109.3,1825.0 109.8,1829.9 110.3,1824.5 110.7,1846.8 111.2,1854.4 111.7,1840.3 112.2,1838.3 112.7,1851.3 113.2,1840.1 113.6,1820.5 114.1,1832.4 114.6,1824.2 115.1,1843.1 115.6,1833.3 116.1,1835.8 116.5,1844.7 117.0,1838.4 117.5,1827.4 118.0,1818.0 118.5,1853.6 119.0,1853.9 119.4,1816.6 119.9,1811.4 120.4,1832.9 120.9,1824.4 121.4,1832.4 121.9,1845.5 122.3,1840.9 122.8,1794.0 123.3,1826.7 123.8,1833.0 124.3,1840.2 124.8,1861.6 125.2,1862.1 125.7,1839.5 126.2,1847.9 126.7,1838.4 127.2,1815.7 127.7,1829.6 128.1,1850.5 128.6,1832.3 129.1,1848.7 129.6,1833.6 130.1,1836.7 130.6,1818.1 131.0,1860.6 131.5,1848.1 132.0,1855.8 132.5,1836.5 133.0,1819.5 133.5,1854.0 133.9,1834.2 134.4,1860.4 134.9,1841.1 135.4,1863.6 135.9,1835.7 136.4,1812.3 136.8,1842.4 137.3,1837.3 137.8,1835.9 138.3,1851.8 138.8,1828.1 139.3,1813.0 139.7,1814.4 140.2,1805.8 140.7,1799.3 141.2,1808.0 141.7,1817.5 142.2,1833.0 142.6,1824.1 143.1,1837.3 143.6,1852.1 144.1,1841.0 144.6,1843.5 145.1,1825.7 145.5,1839.7 146.0,1844.1 146.5,1831.7 147.0,1820.7 147.5,1831.6 148.0,1839.2 148.4,1862.1 148.9,1841.1 149.4,1864.3 149.9,1815.8 150.4,1831.8 150.9,1834.2 151.3,1838.5 151.8,1836.1 152.3,1846.6 152.8,1870.7 153.3,1850.5 153.8,1864.9 154.2,1849.4 154.7,1847.8 155.2,1809.0 155.7,1829.8 156.2,1845.9 156.7,1824.5 157.1,1826.3 157.6,1822.8 158.1,1865.6 158.6,1830.6 159.1,1824.0 159.6,1794.2 160.0,1801.2 160.5,1831.2 161.0,1818.8 161.5,1796.2 162.0,1826.7 162.5,1839.7 162.9,1848.6 163.4,1852.2 163.9,1835.4 164.4,1878.0 164.9,1848.8 165.3,1854.5 165.8,1829.5 166.3,1830.0 166.8,1817.6 167.3,1838.6 167.8,1834.9 168.2,1826.2 168.7,1805.2 169.2,1838.2 169.7,1852.6 170.2,1855.6 170.7,1841.7 171.1,1849.3 171.6,1854.7 172.1,1848.9 172.6,1861.4 173.1,1839.9 173.6,1835.4 174.0,1811.9 174.5,1858.1 175.0,1831.4 175.5,1835.0 176.0,1840.6 176.5,1823.0 176.9,1825.7 177.4,1837.5 177.9,1827.6 178.4,1823.5 178.9,1821.9 179.4,1818.2 179.8,1821.3 180.3,1832.4 180.8,1835.5 181.3,1850.3 181.8,1838.9 182.3,1827.9 182.7,1844.4 183.2,1840.7 183.7,1848.6 184.2,1838.6 184.7,1790.5 185.2,1840.2 185.6,1848.6 186.1,1826.7 186.6,1832.7 187.1,1840.8 187.6,1865.1 188.1,1843.7 188.5,1850.1 189.0,1834.8 189.5,1804.3 190.0,1844.3 190.5,1848.5 191.0,1856.5 191.4,1821.2 191.9,1834.0 192.4,1836.3 192.9,1811.5 193.4,1835.4 193.9,1826.9 194.3,1838.6 194.8,1812.9 195.3,1817.3 195.8,1823.9 196.3,1809.7 196.8,1828.5 197.2,1851.0 197.7,1840.2 198.2,1845.2 198.7,1861.6 199.2,1852.3 199.7,1834.7 200.1,1809.0 200.6,1834.8 201.1,1834.8 201.6,1836.6 202.1,1851.8 202.6,1852.8 203.0,1820.1 203.5,1839.1 204.0,1836.4 204.5,1852.0 205.0,1844.1 205.5,1853.6 205.9,1835.4 206.4,1831.9 206.9,1829.7 207.4,1832.9 207.9,1833.8 208.4,1852.9 208.8,1828.9 209.3,1837.7 209.8,1821.2 210.3,1811.9 210.8,1819.5 211.3,1807.3 211.7,1831.2 212.2,1826.1 212.7,1828.1 213.2,1841.8 213.7,1862.9 214.2,1842.5 214.6,1808.5 215.1,1823.3 215.6,1835.1 216.1,1853.1 216.6,1841.9 217.1,1826.5 217.5,1850.7 218.0,1857.9 218.5,1840.5 219.0,1843.9 219.5,1844.9 220.0,1874.4 220.4,1834.6 220.9,1830.0 221.4,1832.1 221.9,1845.7 222.4,1833.0 222.9,1841.1 223.3,1846.3 223.8,1867.5 224.3,1838.9 224.8,1825.5 225.3,1819.8 225.8,1798.7 226.2,1802.0 226.7,1826.1 227.2,1829.5 227.7,1869.3 228.2,1861.3 228.7,1850.4 229.1,1858.2 229.6,1831.0 230.1,1823.9 230.6,1821.7 231.1,1828.9 231.6,1864.8 232.0,1838.7 232.5,1824.7 233.0,1828.8 233.5,1842.2 234.0,1843.5 234.5,1851.8 234.9,1820.2 235.4,1813.2 235.9,1821.3 236.4,1827.4 236.9,1846.0 237.4,1815.8 237.8,1833.2 238.3,1825.9 238.8,1836.8 239.3,1822.4 239.8,1810.0 240.3,1842.7 240.7,1840.6 241.2,1805.6 241.7,1832.8 242.2,1819.8 242.7,1831.3 243.2,1833.5 243.6,1812.6 244.1,1839.9 244.6,1824.5 245.1,1847.9 245.6,1842.4 246.1,1836.8 246.5,1834.2 247.0,1857.9 247.5,1818.2 248.0,1810.7 248.5,1811.9 249.0,1837.5 249.4,1845.7 249.9,1831.1 250.4,1829.8 250.9,1801.6 251.4,1839.3 251.9,1829.3 252.3,1828.7 252.8,1822.2 253.3,1834.8 253.8,1824.2 254.3,1828.0 254.7,1831.6 255.2,1830.3 255.7,1828.1 256.2,1839.6 256.7,1846.8 257.2,1849.0 257.6,1865.4 258.1,1827.3 258.6,1806.9 259.1,1821.1 259.6,1851.9 260.1,1839.5 260.5,1812.1 261.0,1853.9 261.5,1850.4 262.0,1820.6 262.5,1820.6 263.0,1838.6 263.4,1834.2 263.9,1904.0 264.4,1846.2 264.9,1842.3 265.4,1858.8 265.9,1839.8 266.3,1863.2 266.8,1839.4 267.3,1822.4 267.8,1807.4 268.3,1823.9 268.8,1837.7 269.2,1853.5 269.7,1795.8 270.2,1828.3 270.7,1822.7 271.2,1845.8 271.7,1833.9 272.1,1843.8 272.6,1866.3 273.1,1850.2 273.6,1838.8 274.1,1853.3 274.6,1844.5 275.0,1833.6 275.5,1811.4 276.0,1823.3 276.5,1808.0 277.0,1833.9 277.5,1848.9 277.9,1844.0 278.4,1867.0 278.9,1828.9 279.4,1840.0 279.9,1837.3 280.4,1819.7 280.8,1841.1 281.3,1852.5 281.8,1862.3 282.3,1845.6 282.8,1849.8 283.3,1832.6 283.7,1860.9 284.2,1876.3 284.7,1856.5 285.2,1852.8 285.7,1832.6 286.2,1845.6 286.6,1836.0 287.1,1842.9 287.6,1821.4 288.1,1862.8 288.6,1852.1 289.1,1859.7 289.5,1854.1 290.0,1841.2 290.5,1867.8 291.0,1860.7 291.5,1821.0 292.0,1829.4 292.4,1831.6 292.9,1822.1 293.4,1863.4 293.9,1827.4 294.4,1856.9 294.9,1819.3 295.3,1853.8 295.8,1839.8 296.3,1807.2 296.8,1834.6 297.3,1847.2 297.8,1828.2 298.2,1852.1 298.7,1818.6 299.2,1851.8 299.7,1859.0 300.2,1875.1 300.7,1844.7 301.1,1856.6 301.6,1835.8 302.1,1847.7 302.6,1841.9 303.1,1844.7 303.6,1821.2 304.0,1841.2 304.5,1847.3 305.0,1865.7 305.5,1844.3 306.0,1838.9 306.5,1846.9 306.9,1849.1 307.4,1810.2 307.9,1833.7 308.4,1855.3 308.9,1845.5 309.4,1820.0 309.8,1836.1 310.3,1844.9 310.8,1830.9 311.3,1839.9 311.8,1826.8 312.3,1837.2 312.7,1843.1 313.2,1866.6 313.7,1850.9 314.2,1858.2 314.7,1849.2 315.2,1822.0 315.6,1814.3 316.1,1840.3 316.6,1814.1 317.1,1804.2 317.6,1840.0 318.1,1826.3 318.5,1818.0 319.0,1856.5 319.5,1830.6 320.0,1844.5 320.5,1838.4 321.0,1836.5 321.4,1834.8 321.9,1849.6 322.4,1859.4 322.9,1825.8 323.4,1856.1 323.9,1836.6 324.3,1834.3 324.8,1841.1 325.3,1827.7 325.8,1821.8 326.3,1856.3 326.8,1833.2 327.2,1802.6 327.7,1792.7 328.2,1822.9 328.7,1828.9 329.2,1853.8 329.7,1820.7 330.1,1809.7 330.6,1823.2 331.1,1846.5 331.6,1853.1 332.1,1840.8 332.6,1823.8 333.0,1833.8 333.5,1862.2 334.0,1844.3 334.5,1835.7 335.0,1842.6 335.5,1845.6 335.9,1842.0 336.4,1870.3 336.9,1857.8 337.4,1840.4 337.9,1827.1 338.4,1827.2 338.8,1837.4 339.3,1845.2 339.8,1823.2 340.3,1815.3 340.8,1818.6 341.2,1810.8 341.7,1837.4 342.2,1816.1 342.7,1823.2 343.2,1840.0 343.7,1814.8 344.1,1809.9 344.6,1818.4 345.1,1829.6 345.6,1829.7 346.1,1825.8 346.6,1843.4 347.0,1823.7 347.5,1815.4 348.0,1835.6 348.5,1831.0 349.0,1842.2 349.5,1846.5 349.9,1815.2 350.4,1792.6 350.9,1820.9 351.4,1819.1 351.9,1828.5 352.4,1812.8 352.8,1836.0 353.3,1824.8 353.8,1836.6 354.3,1843.4 354.8,1834.5 355.3,1831.2 355.7,1820.6 356.2,1864.2 356.7,1819.9 357.2,1833.3 357.7,1805.9 358.2,1809.4 358.6,1843.3 359.1,1821.0 359.6,1842.8 360.1,1828.1 360.6,1841.8 361.1,1810.2 361.5,1804.5 362.0,1836.9 362.5,1830.6 363.0,1808.4 363.5,1813.4 364.0,1782.2 364.4,1807.8 364.9,1798.0 365.4,1804.2 365.9,1839.0 366.4,1821.6 366.9,1816.4 367.3,1807.9 367.8,1828.5 368.3,1831.2 368.8,1810.3 369.3,1793.3 369.8,1811.8 370.2,1781.0 370.7,1796.3 371.2,1836.7 371.7,1817.7 372.2,1826.7 372.7,1815.9 373.1,1811.3 373.6,1834.4 374.1,1827.2 374.6,1802.8 375.1,1819.7 375.6,1832.4 376.0,1824.4 376.5,1840.4 377.0,1818.2 377.5,1835.3 378.0,1830.8 378.5,1826.8 378.9,1843.4 379.4,1840.1 379.9,1822.1 380.4,1829.0 380.9,1814.6 381.4,1828.5 381.8,1839.9 382.3,1842.0 382.8,1817.7 383.3,1819.3 383.8,1832.5 384.3,1839.5 384.7,1821.5 385.2,1830.1 385.7,1833.7 386.2,1851.3 386.7,1838.3 387.2,1826.0 387.6,1808.5 388.1,1799.5 388.6,1830.8 389.1,1827.2 389.6,1823.6 390.1,1838.2 390.5,1834.9 391.0,1832.3 391.5,1841.3 392.0,1828.7 392.5,1841.0 393.0,1838.0 393.4,1825.0 393.9,1821.9 394.4,1813.6 394.9,1837.8 395.4,1830.2 395.9,1814.2 396.3,1836.5 396.8,1841.2 397.3,1835.5 397.8,1836.5 398.3,1828.6 398.8,1824.4 399.2,1843.3 399.7,1821.8 400.2,1810.8 400.7,1805.9 401.2,1836.2 401.7,1818.9 402.1,1825.2 402.6,1820.8 403.1,1813.9 403.6,1829.2 404.1,1832.1 404.6,1863.3 405.0,1840.5 405.5,1837.6 406.0,1867.6 406.5,1867.2 407.0,1855.8 407.5,1855.8 407.9,1843.9 408.4,1850.4 408.9,1843.6 409.4,1829.4 409.9,1861.3 410.4,1841.1 410.8,1844.7 411.3,1828.6 411.8,1811.4 412.3,1801.4 412.8,1791.3 413.3,1827.3 413.7,1806.1 414.2,1819.4 414.7,1828.8 415.2,1808.6 415.7,1819.2 416.2,1834.9 416.6,1832.9 417.1,1845.0 417.6,1803.2 418.1,1837.7 418.6,1850.9 419.1,1823.5 419.5,1847.4 420.0,1838.4 420.5,1836.5 421.0,1851.4 421.5,1823.1 422.0,1847.5 422.4,1828.1 422.9,1843.8 423.4,1836.7 423.9,1840.7 424.4,1826.2 424.9,1835.4 425.3,1821.7 425.8,1823.2 426.3,1818.4 426.8,1837.0 427.3,1830.5 427.8,1871.1 428.2,1838.5 428.7,1806.2 429.2,1845.3 429.7,1838.9 430.2,1842.8 430.6,1839.3 431.1,1827.9 431.6,1824.4 432.1,1816.1 432.6,1848.2 433.1,1848.9 433.5,1820.8 434.0,1847.7 434.5,1847.8 435.0,1819.2 435.5,1818.7 436.0,1833.9 436.4,1835.7 436.9,1860.6 437.4,1836.7 437.9,1845.1 438.4,1828.5 438.9,1830.2 439.3,1833.8 439.8,1836.0 440.3,1837.3 440.8,1838.0 441.3,1817.0 441.8,1841.3 442.2,1821.7 442.7,1844.8 443.2,1850.4 443.7,1852.6 444.2,1829.5 444.7,1835.8 445.1,1843.0 445.6,1827.4 446.1,1807.1 446.6,1846.3 447.1,1830.8 447.6,1823.8 448.0,1817.7 448.5,1809.6 449.0,1792.0 449.5,1807.1 450.0,1814.9 450.5,1819.3 450.9,1860.1 451.4,1842.9 451.9,1832.7 452.4,1836.7 452.9,1823.2 453.4,1847.8 453.8,1857.6 454.3,1825.5 454.8,1844.4 455.3,1844.0 455.8,1873.9 456.3,1860.6 456.7,1817.9 457.2,1819.3 457.7,1835.9 458.2,1840.1 458.7,1851.0 459.2,1831.3 459.6,1830.3 460.1,1851.1 460.6,1843.5 461.1,1834.4 461.6,1866.4 462.1,1839.7 462.5,1832.9 463.0,1819.0 463.5,1833.6 464.0,1806.4 464.5,1847.8 465.0,1808.4 465.4,1841.0 465.9,1825.0 466.4,1836.2 466.9,1858.6 467.4,1841.9 467.9,1845.0 468.3,1827.3 468.8,1784.0 469.3,1844.1 469.8,1821.2 470.3,1839.7 470.8,1837.7 471.2,1828.7 471.7,1845.8 472.2,1824.0 472.7,1835.2 473.2,1814.0 473.7,1820.9 474.1,1808.5 474.6,1824.5 475.1,1838.5 475.6,1845.2 476.1,1839.5 476.6,1834.9 477.0,1824.4 477.5,1823.8 478.0,1816.5 478.5,1859.2 479.0,1841.4 479.5,1836.3 479.9,1835.4 480.4,1825.5 480.9,1857.8 481.4,1835.2 481.9,1824.0 482.4,1861.7 482.8,1862.8 483.3,1855.3 483.8,1837.5 484.3,1859.9 484.8,1848.1 485.3,1848.1 485.7,1856.5 486.2,1848.6 486.7,1833.4 487.2,1801.1 487.7,1839.3 488.2,1802.7 488.6,1811.2 489.1,1811.2 489.6,1818.9 490.1,1825.4 490.6,1841.2 491.1,1832.8 491.5,1794.1 492.0,1824.5 492.5,1815.5 493.0,1825.5 493.5,1815.3 494.0,1824.6 494.4,1825.5 494.9,1844.2 495.4,1843.5 495.9,1849.6 496.4,1817.7 496.9,1848.2 497.3,1831.7 497.8,1838.9 498.3,1845.3 498.8,1847.3 499.3,1837.8 499.8,1813.5 500.2,1838.9 500.7,1852.2 501.2,1856.1 501.7,1855.7 502.2,1864.4 502.7,1855.9 503.1,1833.6 503.6,1845.4 504.1,1822.0 504.6,1832.6 505.1,1835.6 505.6,1855.1 506.0,1839.6 506.5,1834.4 507.0,1826.7 507.5,1837.3 508.0,1810.0 508.5,1795.8 508.9,1848.4 509.4,1858.6 509.9,1850.0 510.4,1845.1 510.9,1829.4 511.4,1815.0 511.8,1835.9 512.3,1819.0 512.8,1845.1 513.3,1842.1 513.8,1816.8 514.3,1833.9 514.7,1810.5 515.2,1817.9 515.7,1848.9 516.2,1830.1 516.7,1832.9 517.1,1822.8 517.6,1824.9 518.1,1844.2 518.6,1842.8 519.1,1844.1 519.6,1813.2 520.0,1823.3 520.5,1818.5 521.0,1829.7 521.5,1818.0 522.0,1840.4 522.5,1874.2 522.9,1846.2 523.4,1829.3 523.9,1843.6 524.4,1814.2 524.9,1820.1 525.4,1842.7 525.8,1831.2 526.3,1832.7 526.8,1854.1 527.3,1845.5 527.8,1848.3 528.3,1826.1 528.7,1861.7 529.2,1836.9 529.7,1841.4 530.2,1836.4 530.7,1835.9 531.2,1820.4 531.6,1829.4 532.1,1835.0 532.6,1858.1 533.1,1846.0 533.6,1829.7 534.1,1834.6 534.5,1834.3 535.0,1832.0 535.5,1833.2 536.0,1851.8 536.5,1835.7 537.0,1815.7 537.4,1820.1 537.9,1825.8 538.4,1821.2 538.9,1832.0 539.4,1843.9 539.9,1807.1 540.3,1808.4 540.8,1816.0 541.3,1839.4 541.8,1807.6 542.3,1840.7 542.8,1862.6 543.2,1863.1 543.7,1848.9 544.2,1821.3 544.7,1825.6 545.2,1824.6 545.7,1834.7 546.1,1845.2 546.6,1846.0 547.1,1824.1 547.6,1845.2 548.1,1851.7 548.6,1823.6 549.0,1816.1 549.5,1821.6 550.0,1835.1 550.5,1815.7 551.0,1843.8 551.5,1838.8 551.9,1842.5 552.4,1824.9 552.9,1816.0 553.4,1831.8 553.9,1857.0 554.4,1847.8 554.8,1855.5 555.3,1828.2 555.8,1820.2 556.3,1830.0 556.8,1839.5 557.3,1836.8 557.7,1822.1 558.2,1810.7 558.7,1835.1 559.2,1837.0 559.7,1875.7 560.2,1841.4 560.6,1826.2 561.1,1846.2 561.6,1835.6 562.1,1836.3 562.6,1852.0 563.1,1829.5 563.5,1830.1 564.0,1828.2 564.5,1825.2 565.0,1823.4 565.5,1827.3 566.0,1853.8 566.4,1840.3 566.9,1823.9 567.4,1830.1 567.9,1824.0 568.4,1833.6 568.9,1833.5 569.3,1821.6 569.8,1829.8 570.3,1841.8 570.8,1855.6 571.3,1842.6 571.8,1858.5 572.2,1861.2 572.7,1828.1 573.2,1828.1 573.7,1791.4 574.2,1805.9 574.7,1824.9 575.1,1821.5 575.6,1831.7 576.1,1830.9 576.6,1839.9 577.1,1824.8 577.6,1831.7 578.0,1832.1 578.5,1836.9 579.0,1851.3 579.5,1826.9 580.0,1859.3 580.5,1842.7 580.9,1843.9 581.4,1833.7 581.9,1830.6 582.4,1886.0 582.9,1824.2 583.4,1814.4 583.8,1812.0 584.3,1849.6 584.8,1843.2 585.3,1832.1 585.8,1820.0 586.3,1830.6 586.7,1837.5 587.2,1844.9 587.7,1833.3 588.2,1836.8 588.7,1850.7 589.2,1842.1 589.6,1847.8 590.1,1812.0 590.6,1819.5 591.1,1848.0 591.6,1839.3 592.1,1855.6 592.5,1834.7 593.0,1851.0 593.5,1812.8 594.0,1816.5 594.5,1833.4 595.0,1815.4 595.4,1800.0 595.9,1836.7 596.4,1861.7 596.9,1849.5 597.4,1822.1 597.9,1831.1 598.3,1813.6 598.8,1798.6 599.3,1835.5 599.8,1842.9 600.3,1839.9 600.8,1815.6 601.2,1794.3 601.7,1834.2 602.2,1833.9 602.7,1853.1 603.2,1816.9 603.7,1794.0 604.1,1837.3 604.6,1861.4 605.1,1857.2 605.6,1851.8 606.1,1842.7 606.5,1846.6 607.0,1828.9 607.5,1863.8 608.0,1865.5 608.5,1815.1 609.0,1844.3 609.4,1799.1 609.9,1827.4 610.4,1828.1 610.9,1855.0 611.4,1841.3 611.9,1834.3 612.3,1850.8 612.8,1827.5 613.3,1820.0 613.8,1852.2 614.3,1845.6 614.8,1841.1 615.2,1830.7 615.7,1832.8 616.2,1829.6 616.7,1838.9 617.2,1837.2 617.7,1831.7 618.1,1833.0 618.6,1858.1 619.1,1849.4 619.6,1842.7 620.1,1836.4 620.6,1839.7 621.0,1837.0 621.5,1839.7 622.0,1842.2 622.5,1824.4 623.0,1820.8 623.5,1796.3 623.9,1811.6 624.4,1835.5 624.9,1865.5 625.4,1877.7 625.9,1845.8 626.4,1796.3 626.8,1832.3 627.3,1842.0 627.8,1863.0 628.3,1836.2 628.8,1837.5 629.3,1838.6 629.7,1843.5 630.2,1823.5 630.7,1842.3 631.2,1834.3 631.7,1842.7 632.2,1844.7 632.6,1809.5 633.1,1836.2 633.6,1822.8 634.1,1822.1 634.6,1821.1 635.1,1820.8 635.5,1836.2 636.0,1802.3 636.5,1817.5 637.0,1832.9 637.5,1840.5 638.0,1854.0 638.4,1857.4 638.9,1861.1 639.4,1846.0 639.9,1833.0 640.4,1817.1 640.9,1825.9 641.3,1836.6 641.8,1833.8 642.3,1824.2 642.8,1847.2 643.3,1871.8 643.8,1849.2 644.2,1864.2 644.7,1855.3 645.2,1826.9 645.7,1837.4 646.2,1833.0 646.7,1858.5 647.1,1864.1 647.6,1854.1 648.1,1839.0 648.6,1847.7 649.1,1847.4 649.6,1862.4 650.0,1859.5 650.5,1853.6 651.0,1823.0 651.5,1840.2 652.0,1851.1 652.5,1834.0 652.9,1820.5 653.4,1839.5 653.9,1817.7 654.4,1821.0 654.9,1826.8 655.4,1815.4 655.8,1798.7 656.3,1844.6 656.8,1826.2 657.3,1807.2 657.8,1849.1 658.3,1842.9 658.7,1857.8 659.2,1867.4 659.7,1837.6 660.2,1849.9 660.7,1856.1 661.2,1832.9 661.6,1822.3 662.1,1850.7 662.6,1844.1 663.1,1819.8 663.6,1818.4 664.1,1829.6 664.5,1822.3 665.0,1859.1 665.5,1875.0 666.0,1860.3 666.5,1832.9 667.0,1818.7 667.4,1818.9 667.9,1866.1 668.4,1865.3 668.9,1832.6 669.4,1830.4 669.9,1855.4 670.3,1843.8 670.8,1838.7 671.3,1851.0 671.8,1859.7 672.3,1850.1 672.8,1879.5 673.2,1855.3 673.7,1845.4 674.2,1816.2 674.7,1815.2 675.2,1829.1 675.7,1832.6 676.1,1817.5 676.6,1873.1 677.1,1859.6 677.6,1848.1 678.1,1838.0 678.6,1838.2 679.0,1808.8 679.5,1832.0 680.0,1825.3 680.5,1816.8 681.0,1859.4 681.5,1847.6 681.9,1847.1 682.4,1840.7 682.9,1835.3 683.4,1825.7 683.9,1852.3 684.4,1834.5 684.8,1826.7 685.3,1823.4 685.8,1846.2 686.3,1854.1 686.8,1860.3 687.3,1854.0 687.7,1851.3 688.2,1872.4 688.7,1838.7 689.2,1858.7 689.7,1855.4 690.2,1844.2 690.6,1836.9 691.1,1825.3 691.6,1822.0 692.1,1823.9 692.6,1835.6 693.0,1873.8 693.5,1845.0 694.0,1842.2 694.5,1837.8 695.0,1823.2 695.5,1818.0 695.9,1857.8 696.4,1848.8 696.9,1824.0 697.4,1809.9 697.9,1852.8 698.4,1843.1 698.8,1821.8 699.3,1847.8 699.8,1840.3 700.3,1833.1 700.8,1840.3 701.3,1863.9 701.7,1837.5 702.2,1857.2 702.7,1852.9 703.2,1842.3 703.7,1871.8 704.2,1851.6 704.6,1851.9 705.1,1843.1 705.6,1827.4 706.1,1848.8 706.6,1832.1 707.1,1866.1 707.5,1872.1 708.0,1845.5 708.5,1839.2 709.0,1833.4 709.5,1868.0 710.0,1834.9 710.4,1824.2 710.9,1818.0 711.4,1820.2 711.9,1851.9 712.4,1833.5 712.9,1836.7 713.3,1834.7 713.8,1833.2 714.3,1865.7 714.8,1876.0 715.3,1859.1 715.8,1835.1 716.2,1874.3 716.7,1854.5 717.2,1833.3 717.7,1833.2 718.2,1843.1 718.7,1856.5 719.1,1809.7 719.6,1840.1 720.1,1842.1 720.6,1851.1 721.1,1834.6 721.6,1858.0 722.0,1843.9 722.5,1860.1 723.0,1884.5 723.5,1861.3 724.0,1858.3 724.5,1856.0 724.9,1830.2 725.4,1854.5 725.9,1832.3 726.4,1809.6 726.9,1839.8 727.4,1857.1 727.8,1841.5 728.3,1820.3 728.8,1858.9 729.3,1889.0 729.8,1852.3 730.3,1841.9 730.7,1827.6 731.2,1844.8 731.7,1809.6 732.2,1823.3 732.7,1837.0 733.2,1841.5 733.6,1865.7 734.1,1837.8 734.6,1850.1 735.1,1843.3 735.6,1855.1 736.1,1853.8 736.5,1862.2 737.0,1847.2 737.5,1866.2 738.0,1850.9 738.5,1837.9 739.0,1846.4 739.4,1850.6 739.9,1870.2 740.4,1837.1 740.9,1840.2 741.4,1826.5 741.9,1852.3 742.3,1860.2 742.8,1855.8 743.3,1827.7 743.8,1821.7 744.3,1833.3 744.8,1844.1 745.2,1851.8 745.7,1835.0 746.2,1840.3 746.7,1837.3 747.2,1833.4 747.7,1837.1 748.1,1828.2 748.6,1854.3 749.1,1868.8 749.6,1861.5 750.1,1841.9 750.6,1863.6 751.0,1835.5 751.5,1856.0 752.0,1860.6 752.5,1862.8 753.0,1823.0 753.5,1839.2 753.9,1828.8 754.4,1846.9 754.9,1844.5 755.4,1809.7 755.9,1840.4 756.4,1867.8 756.8,1855.5 757.3,1856.5 757.8,1848.0 758.3,1853.3 758.8,1837.9 759.3,1861.9 759.7,1879.9 760.2,1844.2 760.7,1848.6 761.2,1835.1 761.7,1861.7 762.2,1854.1 762.6,1858.5 763.1,1845.4 763.6,1855.8 764.1,1856.0 764.6,1849.1 765.1,1892.0 765.5,1821.8 766.0,1847.1 766.5,1827.0 767.0,1830.9 767.5,1843.8 768.0,1856.2 768.4,1863.2 768.9,1856.3 769.4,1855.4 769.9,1860.4 770.4,1835.9 770.9,1841.8 771.3,1832.8 771.8,1815.0 772.3,1817.8 772.8,1849.8 773.3,1836.5 773.8,1817.9 774.2,1837.4 774.7,1833.5 775.2,1834.1 775.7,1834.4 776.2,1846.1 776.7,1849.8 777.1,1842.8 777.6,1845.8 778.1,1840.3 778.6,1847.8 779.1,1859.0 779.6,1851.2 780.0,1881.0 780.5,1841.4 781.0,1834.6 781.5,1841.9 782.0,1863.2 782.4,1864.9 782.9,1856.3 783.4,1840.3 783.9,1850.7 784.4,1845.6 784.9,1845.0 785.3,1865.7 785.8,1876.0 786.3,1858.8 786.8,1842.5 787.3,1850.4 787.8,1834.3 788.2,1820.5 788.7,1813.4 789.2,1833.9 789.7,1837.9 790.2,1830.2 790.7,1833.0 791.1,1840.9 791.6,1830.5 792.1,1849.9 792.6,1873.3 793.1,1854.0 793.6,1827.6 794.0,1842.0 794.5,1849.0 795.0,1855.3 795.5,1866.4 796.0,1869.1 796.5,1869.8 796.9,1854.0 797.4,1855.1 797.9,1840.4 798.4,1838.8 798.9,1856.4 799.4,1848.2 799.8,1827.8 800.3,1815.3 800.8,1847.0 801.3,1842.7 801.8,1836.5 802.3,1830.8 802.7,1847.3 803.2,1844.1 803.7,1840.1 804.2,1840.4 804.7,1843.7 805.2,1860.3 805.6,1856.3 806.1,1868.4 806.6,1827.2 807.1,1827.9 807.6,1848.2 808.1,1831.1 808.5,1840.7 809.0,1838.8 809.5,1843.0 810.0,1849.8 810.5,1877.0 811.0,1871.1 811.4,1857.6 811.9,1856.0 812.4,1858.0 812.9,1846.9 813.4,1834.2 813.9,1846.0 814.3,1850.2 814.8,1831.9 815.3,1839.7 815.8,1845.9 816.3,1851.4 816.8,1867.6 817.2,1844.7 817.7,1835.1 818.2,1850.0 818.7,1829.6 819.2,1838.0 819.7,1814.8 820.1,1843.4 820.6,1879.8 821.1,1851.7 821.6,1844.7 822.1,1854.1 822.6,1866.6 823.0,1831.3 823.5,1838.6 824.0,1847.8 824.5,1847.2 825.0,1851.0 825.5,1846.3 825.9,1843.4 826.4,1828.7 826.9,1865.7 827.4,1853.0 827.9,1898.0 828.4,1850.2 828.8,1850.4 829.3,1848.5 829.8,1856.6 830.3,1850.0 830.8,1826.0 831.3,1876.5 831.7,1857.5 832.2,1839.4 832.7,1822.7 833.2,1826.7 833.7,1835.1 834.2,1831.3 834.6,1850.0 835.1,1824.1 835.6,1844.7 836.1,1847.0 836.6,1832.7 837.1,1826.2 837.5,1830.7 838.0,1848.8 838.5,1847.0 839.0,1843.6 839.5,1850.9 840.0,1864.1 840.4,1844.1 840.9,1831.1 841.4,1840.7 841.9,1848.9 842.4,1867.9 842.9,1863.4 843.3,1855.1 843.8,1840.5 844.3,1865.7 844.8,1843.3 845.3,1852.1 845.8,1854.4 846.2,1862.5 846.7,1842.7 847.2,1866.3 847.7,1865.6 848.2,1843.4 848.7,1838.4 849.1,1812.9 849.6,1837.5 850.1,1850.9 850.6,1830.9 851.1,1837.2 851.6,1827.6 852.0,1877.8 852.5,1849.7 853.0,1848.7 853.5,1851.5 854.0,1840.7 854.5,1847.6 854.9,1857.9 855.4,1877.7 855.9,1874.4 856.4,1887.5 856.9,1845.5 857.4,1840.9 857.8,1833.4 858.3,1846.7 858.8,1838.4 859.3,1838.9 859.8,1847.5 860.3,1856.0 860.7,1837.9 861.2,1848.1 861.7,1846.6 862.2,1842.8 862.7,1870.2 863.2,1831.9 863.6,1841.3 864.1,1836.2 864.6,1838.8 865.1,1838.0 865.6,1836.2 866.1,1837.2 866.5,1854.2 867.0,1858.2 867.5,1833.0 868.0,1818.1 868.5,1832.0 868.9,1821.8 869.4,1844.6 869.9,1852.9 870.4,1824.7 870.9,1850.0 871.4,1846.1 871.8,1830.4 872.3,1857.9 872.8,1885.2 873.3,1859.1 873.8,1858.8 874.3,1835.8 874.7,1851.9 875.2,1902.0 875.7,1856.5 876.2,1848.6 876.7,1852.7 877.2,1843.0 877.6,1828.2 878.1,1849.9 878.6,1875.6 879.1,1821.7 879.6,1841.4 880.1,1832.6 880.5,1818.9 881.0,1837.1 881.5,1836.5 882.0,1840.5 882.5,1844.8 883.0,1814.4 883.4,1851.6 883.9,1857.6 884.4,1835.4 884.9,1838.7 885.4,1821.5 885.9,1838.6 886.3,1839.6 886.8,1844.6 887.3,1841.7 887.8,1851.3 888.3,1843.4 888.8,1836.1 889.2,1845.0 889.7,1853.9 890.2,1853.2 890.7,1851.4 891.2,1860.8 891.7,1839.9 892.1,1855.3 892.6,1838.0 893.1,1834.3 893.6,1831.1 894.1,1848.5 894.6,1836.0 895.0,1827.3 895.5,1843.7 896.0,1832.0 896.5,1833.9 897.0,1837.2 897.5,1843.7 897.9,1858.9 898.4,1846.1 898.9,1824.7 899.4,1851.9 899.9,1836.2 900.4,1823.7 900.8,1829.3 901.3,1848.2 901.8,1823.5 902.3,1822.3 902.8,1849.2 903.3,1867.4 903.7,1850.5 904.2,1857.3 904.7,1846.9 905.2,1838.8 905.7,1824.7 906.2,1833.3 906.6,1827.3 907.1,1827.2 907.6,1832.8 908.1,1842.2 908.6,1822.3 909.1,1824.2 909.5,1845.3 910.0,1863.3 910.5,1848.0 911.0,1854.0 911.5,1855.4 912.0,1836.1 912.4,1845.5 912.9,1829.4 913.4,1818.2 913.9,1824.3 914.4,1839.1 914.9,1828.2 915.3,1846.5 915.8,1829.6 916.3,1844.5 916.8,1835.5 917.3,1855.6 917.8,1833.8 918.2,1834.4 918.7,1832.7 919.2,1816.6 919.7,1834.0 920.2,1821.3 920.7,1817.5 921.1,1822.1 921.6,1827.7 922.1,1851.5 922.6,1834.0 923.1,1854.5 923.6,1808.5 924.0,1836.5 924.5,1833.4 925.0,1859.7 925.5,1828.4 926.0,1832.4 926.5,1834.6 926.9,1804.6 927.4,1826.1 927.9,1873.0 928.4,1848.9 928.9,1853.1 929.4,1837.6 929.8,1853.4 930.3,1826.7 930.8,1814.6 931.3,1835.6 931.8,1812.6 932.3,1826.3 932.7,1800.4 933.2,1833.1 933.7,1825.7 934.2,1832.2 934.7,1835.1 935.2,1838.0 935.6,1827.4 936.1,1823.4 936.6,1841.8 937.1,1854.2 937.6,1819.4 938.1,1820.0 938.5,1822.8 939.0,1821.3 939.5,1843.7 940.0,1835.4 940.5,1829.9 941.0,1840.4 941.4,1856.7 941.9,1811.5 942.4,1833.8 942.9,1829.0 943.4,1822.4 943.9,1825.2 944.3,1800.9 944.8,1819.2 945.3,1828.6 945.8,1820.3 946.3,1809.9 946.8,1814.9 947.2,1835.8 947.7,1856.0 948.2,1836.6 948.7,1842.4 949.2,1849.6 949.7,1840.5 950.1,1822.1 950.6,1835.4 951.1,1857.4 951.6,1829.5 952.1,1824.1 952.6,1812.9 953.0,1826.6 953.5,1815.5 954.0,1836.1 954.5,1845.2 955.0,1825.9 955.5,1825.6 955.9,1828.1 956.4,1816.1 956.9,1820.0 957.4,1851.3 957.9,1835.0 958.3,1789.1 958.8,1832.3 959.3,1828.0 959.8,1827.0 960.3,1847.5 960.8,1855.4 961.2,1851.5 961.7,1855.9 962.2,1812.7 962.7,1834.4 963.2,1819.8 963.7,1826.0 964.1,1840.8 964.6,1847.0 965.1,1837.2 965.6,1818.0 966.1,1838.9 966.6,1823.8 967.0,1829.5 967.5,1831.7 968.0,1832.5 968.5,1814.7 969.0,1834.0 969.5,1836.6 969.9,1823.7 970.4,1835.6 970.9,1853.1 971.4,1820.7 971.9,1826.8 972.4,1819.3 972.8,1822.0 973.3,1841.2 973.8,1830.0 974.3,1819.2 974.8,1844.1 975.3,1843.0 975.7,1844.1 976.2,1869.8 976.7,1839.2 977.2,1811.1 977.7,1854.4 978.2,1839.0 978.6,1836.5 979.1,1848.4 979.6,1844.5 980.1,1819.4 980.6,1814.7 981.1,1814.5 981.5,1818.6 982.0,1829.0 982.5,1840.8 983.0,1844.4 983.5,1824.8 984.0,1831.8 984.4,1823.0 984.9,1825.7 985.4,1838.7 985.9,1835.8 986.4,1821.8 986.9,1840.3 987.3,1900.0 987.8,1842.5 988.3,1839.9 988.8,1842.6 989.3,1857.1 989.8,1843.4 990.2,1846.8 990.7,1834.6 991.2,1848.2 991.7,1858.5 992.2,1836.3 992.7,1838.1 993.1,1839.5 993.6,1829.9 994.1,1851.7 994.6,1837.4 995.1,1812.4 995.6,1834.7 996.0,1822.6 996.5,1839.4 997.0,1801.1 997.5,1830.3 998.0,1815.7 998.5,1819.1 998.9,1832.0 999.4,1840.5 999.9,1819.9 1000.4,1836.7 1000.9,1845.1 1001.4,1839.3 1001.8,1837.2 1002.3,1854.5 1002.8,1831.8 1003.3,1842.2 1003.8,1842.6 1004.3,1842.3 1004.7,1837.1 1005.2,1825.2 1005.7,1843.3 1006.2,1848.8 1006.7,1850.4 1007.2,1834.9 1007.6,1839.2 1008.1,1838.0 1008.6,1843.3 1009.1,1836.1 1009.6,1855.6 1010.1,1836.9 1010.5,1821.5 1011.0,1832.4 1011.5,1831.8 1012.0,1862.5 1012.5,1838.3 1013.0,1823.8 1013.4,1848.6 1013.9,1862.2 1014.4,1873.5 1014.9,1835.8 1015.4,1823.3 1015.9,1869.3 1016.3,1844.8 1016.8,1821.4 1017.3,1841.2 1017.8,1809.7 1018.3,1802.3 1018.8,1823.9 1019.2,1839.2 1019.7,1837.6 1020.2,1843.1 1020.7,1854.2 1021.2,1866.9 1021.7,1835.3 1022.1,1829.2 1022.6,1836.1 1023.1,1831.0 1023.6,1823.3 1024.1,1833.9 1024.6,1825.6 1025.0,1840.0 1025.5,1854.4 1026.0,1842.9 1026.5,1834.8 1027.0,1821.5 1027.5,1819.4 1027.9,1817.9 1028.4,1854.8 1028.9,1872.0 1029.4,1843.0 1029.9,1844.8 1030.4,1870.6 1030.8,1836.8 1031.3,1867.4 1031.8,1840.4 1032.3,1827.2 1032.8,1862.2 1033.3,1832.7 1033.7,1839.1 1034.2,1847.1 1034.7,1839.4 1035.2,1823.4 1035.7,1823.8 1036.2,1839.1 1036.6,1853.7 1037.1,1845.4 1037.6,1808.7 1038.1,1827.7 1038.6,1819.5 1039.1,1848.0 1039.5,1848.3 1040.0,1827.6 1040.5,1817.9 1041.0,1821.7 1041.5,1832.6 1042.0,1840.8 1042.4,1820.2 1042.9,1827.3 1043.4,1848.8" fill="none" stroke="#fdbf6f" stroke-width="2.4" stroke-linejoin="miter" stroke-miterlimit="3"/>
<line x1="75.0" y1="1909.3" x2="1043.4" y2="1909.3" stroke="#8c8c8c" stroke-width="1.8"/>
<line x1="77.0" y1="1907.5" x2="1042.4" y2="1907.5" stroke="#dedede" stroke-width="1.6"/>
<line x1="76.0" y1="1776.25" x2="76.0" y2="1915.75" stroke="#a9a9a9" stroke-width="2"/>
<line x1="75.0" y1="1776.25" x2="1044.4" y2="1776.25" stroke="#575757" stroke-width="2"/>
<line x1="1043.4" y1="1776.25" x2="1043.4" y2="1915.75" stroke="#575757" stroke-width="2"/>
<line x1="1060.0" y1="1909.3" x2="1266.0" y2="1909.3" stroke="#8c8c8c" stroke-width="1.8"/>
<line x1="1061.0" y1="1907.5" x2="1264.0" y2="1907.5" stroke="#e2e2e2" stroke-width="1.6"/>
<line x1="1265.0" y1="1776.25" x2="1265.0" y2="1908.75" stroke="#a5a5a5" stroke-width="2"/>
<line x1="1263.4" y1="1777.25" x2="1263.4" y2="1907.75" stroke="#e4e4e4" stroke-width="1.2"/>
<line x1="1059.0" y1="1776.25" x2="1266.0" y2="1776.25" stroke="#575757" stroke-width="2"/>
<line x1="1060.0" y1="1776.25" x2="1060.0" y2="1908.75" stroke="#454545" stroke-width="2"/>
<rect x="1061.0" y="1784.4" width="2.6" height="7.6" fill="#fbb862"/>
<rect x="1061.0" y="1796.0" width="18.0" height="7.6" fill="#fbb862"/>
<rect x="1061.0" y="1808.6" width="72.0" height="8.0" fill="#fbb862"/>
<rect x="1061.0" y="1820.4" width="156.0" height="7.6" fill="#fbb862"/>
<rect x="1061.0" y="1833.0" width="194.0" height="7.6" fill="#fbb862"/>
<rect x="1061.0" y="1845.0" width="158.0" height="8.0" fill="#fbb862"/>
<rect x="1061.0" y="1857.0" width="101.6" height="7.6" fill="#fbb862"/>
<rect x="1061.0" y="1869.0" width="42.6" height="7.6" fill="#fbb862"/>
<rect x="1061.0" y="1881.0" width="11.0" height="8.0" fill="#fbb862"/>
<rect x="1061.0" y="1893.4" width="7.0" height="7.6" fill="#fbb862"/>
<line x1="68" y1="1794.3" x2="75.0" y2="1794.3" stroke="#5e5e5e" stroke-width="2"/>
<line x1="1051" y1="1794.3" x2="1059.0" y2="1794.3" stroke="#5e5e5e" stroke-width="2"/>
<text x="58.6" y="1801.1" font-family='"Liberation Sans", sans-serif' font-size="19.8" fill="#6c6c6c" text-anchor="end" font-weight="normal" textLength="35.2" lengthAdjust="spacingAndGlyphs">285</text>
<line x1="68" y1="1834.0" x2="75.0" y2="1834.0" stroke="#5e5e5e" stroke-width="2"/>
<line x1="1051" y1="1834.0" x2="1059.0" y2="1834.0" stroke="#5e5e5e" stroke-width="2"/>
<text x="58.6" y="1840.8" font-family='"Liberation Sans", sans-serif' font-size="19.8" fill="#6c6c6c" text-anchor="end" font-weight="normal" textLength="35.2" lengthAdjust="spacingAndGlyphs">280</text>
<line x1="68" y1="1874.2" x2="75.0" y2="1874.2" stroke="#5e5e5e" stroke-width="2"/>
<line x1="1051" y1="1874.2" x2="1059.0" y2="1874.2" stroke="#5e5e5e" stroke-width="2"/>
<text x="58.6" y="1881.0" font-family='"Liberation Sans", sans-serif' font-size="19.8" fill="#6c6c6c" text-anchor="end" font-weight="normal" textLength="35.2" lengthAdjust="spacingAndGlyphs">275</text>
<line x1="75.8" y1="1908.75" x2="75.8" y2="1915.75" stroke="#7a7a7a" stroke-width="2"/>
<line x1="269.3" y1="1908.75" x2="269.3" y2="1915.75" stroke="#7a7a7a" stroke-width="2"/>
<line x1="462.8" y1="1908.75" x2="462.8" y2="1915.75" stroke="#7a7a7a" stroke-width="2"/>
<line x1="656.4" y1="1908.75" x2="656.4" y2="1915.75" stroke="#7a7a7a" stroke-width="2"/>
<line x1="849.9" y1="1908.75" x2="849.9" y2="1915.75" stroke="#7a7a7a" stroke-width="2"/>
<line x1="1043.4" y1="1908.75" x2="1043.4" y2="1915.75" stroke="#7a7a7a" stroke-width="2"/>
<text transform="translate(24.3,1843.1) rotate(-90)" x="0" y="0" font-family='"Liberation Sans", sans-serif' font-size="19.5" fill="#6c6c6c" text-anchor="middle" textLength="102.5" lengthAdjust="spacingAndGlyphs">MolSA (Å²)</text>
<clipPath id="c11"><rect x="76.0" y="1936.0" width="967.4000000000001" height="132.5"/></clipPath>
<polyline clip-path="url(#c11)" points="77.8,2054.0 77.9,2056.1 78.4,2053.1 78.8,2034.6 79.3,2028.1 79.8,2021.5 80.3,2025.8 80.8,2020.7 81.3,2030.9 81.7,2005.9 82.2,2031.7 82.7,2021.1 83.2,2026.9 83.7,2022.0 84.2,2017.5 84.6,2026.4 85.1,2032.7 85.6,2024.3 86.1,2023.1 86.6,2030.3 87.1,2016.9 87.5,2005.2 88.0,2021.0 88.5,2015.7 89.0,1999.7 89.5,2006.9 90.0,2011.6 90.4,2006.2 90.9,2000.7 91.4,2016.8 91.9,2029.8 92.4,2021.9 92.9,2016.0 93.3,2020.9 93.8,2025.5 94.3,2012.7 94.8,2019.8 95.3,2028.0 95.8,2018.2 96.2,2009.7 96.7,2018.0 97.2,2022.4 97.7,2031.5 98.2,2009.2 98.7,2007.4 99.1,2005.6 99.6,1994.9 100.1,2010.2 100.6,2019.2 101.1,2008.4 101.6,2026.1 102.0,2027.7 102.5,2023.6 103.0,2012.2 103.5,2010.6 104.0,1981.5 104.5,1987.6 104.9,1984.3 105.4,1954.4 105.9,1968.3 106.4,1964.0 106.9,1975.7 107.4,1964.5 107.8,1966.5 108.3,1971.5 108.8,1959.6 109.3,1975.4 109.8,1969.0 110.3,1973.0 110.7,1964.2 111.2,1979.4 111.7,1977.5 112.2,1967.5 112.7,1975.4 113.2,1982.2 113.6,1989.7 114.1,1957.8 114.6,1972.7 115.1,1972.5 115.6,1966.9 116.1,1955.3 116.5,1975.7 117.0,1954.3 117.5,1966.7 118.0,1976.6 118.5,1947.9 119.0,1956.1 119.4,1948.3 119.9,1962.7 120.4,1978.8 120.9,1989.7 121.4,1953.3 121.9,1953.3 122.3,1967.6 122.8,1980.2 123.3,1972.6 123.8,1957.4 124.3,1965.4 124.8,1964.9 125.2,1963.4 125.7,1956.3 126.2,1965.1 126.7,1969.6 127.2,1965.5 127.7,1963.7 128.1,1952.5 128.6,1955.0 129.1,1975.9 129.6,1963.6 130.1,1948.5 130.6,1972.9 131.0,1971.8 131.5,1990.1 132.0,1975.3 132.5,1966.4 133.0,1953.1 133.5,1980.2 133.9,2003.3 134.4,1974.6 134.9,1970.6 135.4,1983.7 135.9,1973.5 136.4,1978.9 136.8,1978.7 137.3,1984.8 137.8,1997.2 138.3,1989.5 138.8,1998.5 139.3,1987.8 139.7,1992.6 140.2,1966.9 140.7,1966.2 141.2,1989.5 141.7,1981.3 142.2,1993.2 142.6,1995.2 143.1,2002.9 143.6,2000.3 144.1,2001.1 144.6,1988.3 145.1,1975.3 145.5,1973.0 146.0,1974.3 146.5,1968.2 147.0,1973.2 147.5,1977.0 148.0,1987.0 148.4,1983.2 148.9,1965.6 149.4,1978.1 149.9,1987.3 150.4,1999.3 150.9,1996.1 151.3,1982.5 151.8,1979.1 152.3,2006.6 152.8,2000.2 153.3,2012.8 153.8,2019.8 154.2,1989.8 154.7,1997.1 155.2,1998.5 155.7,1999.0 156.2,1999.3 156.7,1994.2 157.1,1992.7 157.6,1973.9 158.1,1981.7 158.6,1977.5 159.1,1985.7 159.6,1982.1 160.0,1993.7 160.5,2000.6 161.0,1996.7 161.5,1995.8 162.0,1992.1 162.5,1985.3 162.9,1988.4 163.4,1982.1 163.9,1992.4 164.4,1995.5 164.9,1998.1 165.3,1981.5 165.8,1997.4 166.3,1985.4 166.8,1984.2 167.3,1990.8 167.8,1985.8 168.2,1992.0 168.7,1982.5 169.2,1976.1 169.7,1975.4 170.2,1999.6 170.7,1993.4 171.1,1979.0 171.6,1988.5 172.1,1974.0 172.6,2003.3 173.1,1978.4 173.6,1988.1 174.0,1995.0 174.5,1974.1 175.0,1987.4 175.5,1998.3 176.0,1996.6 176.5,1994.1 176.9,2000.8 177.4,1993.2 177.9,1995.2 178.4,1990.2 178.9,1999.6 179.4,1983.8 179.8,1996.5 180.3,1987.5 180.8,1979.2 181.3,1990.7 181.8,2009.5 182.3,2009.0 182.7,1990.6 183.2,1997.5 183.7,1987.6 184.2,1986.5 184.7,1985.4 185.2,1958.1 185.6,1979.8 186.1,1974.1 186.6,1976.9 187.1,1969.6 187.6,1964.7 188.1,1971.6 188.5,1994.5 189.0,2009.0 189.5,1996.1 190.0,2003.5 190.5,1991.2 191.0,1969.2 191.4,1982.4 191.9,1992.8 192.4,1984.6 192.9,1990.2 193.4,1994.0 193.9,1980.0 194.3,1969.5 194.8,1979.4 195.3,1984.1 195.8,1983.3 196.3,1996.5 196.8,2004.4 197.2,1983.4 197.7,1988.5 198.2,1991.7 198.7,1989.5 199.2,1994.4 199.7,1981.9 200.1,1993.3 200.6,2011.3 201.1,2000.6 201.6,1982.0 202.1,1987.8 202.6,1998.1 203.0,1991.5 203.5,1977.7 204.0,1996.6 204.5,1970.6 205.0,1981.0 205.5,1980.9 205.9,1971.8 206.4,1994.8 206.9,1993.1 207.4,1975.0 207.9,1988.1 208.4,1984.0 208.8,1964.3 209.3,1972.5 209.8,1984.5 210.3,1993.5 210.8,1990.5 211.3,1989.2 211.7,1991.2 212.2,1984.7 212.7,2000.4 213.2,1991.4 213.7,1989.6 214.2,1994.2 214.6,1976.2 215.1,1976.1 215.6,1996.5 216.1,1990.4 216.6,1980.1 217.1,1983.1 217.5,1976.4 218.0,1984.5 218.5,1973.8 219.0,1979.3 219.5,1960.5 220.0,1987.4 220.4,1973.0 220.9,1961.6 221.4,1973.4 221.9,1974.6 222.4,1980.2 222.9,1971.5 223.3,1987.9 223.8,2015.1 224.3,1984.7 224.8,1990.5 225.3,1981.8 225.8,1985.4 226.2,1966.7 226.7,1966.5 227.2,1983.6 227.7,1981.3 228.2,1998.1 228.7,1978.4 229.1,1980.3 229.6,2009.2 230.1,1977.4 230.6,1969.1 231.1,1974.7 231.6,1975.1 232.0,1985.5 232.5,1981.4 233.0,1970.1 233.5,1975.2 234.0,2006.4 234.5,2000.4 234.9,1955.9 235.4,1970.2 235.9,1968.9 236.4,1983.5 236.9,1976.9 237.4,2001.3 237.8,1996.2 238.3,1995.7 238.8,1988.1 239.3,1985.4 239.8,1990.5 240.3,2003.0 240.7,1998.0 241.2,1983.6 241.7,1995.9 242.2,1989.8 242.7,1983.6 243.2,1975.1 243.6,1975.0 244.1,1973.0 244.6,1953.3 245.1,1982.0 245.6,1986.7 246.1,1980.1 246.5,1993.8 247.0,1993.0 247.5,1990.8 248.0,1958.9 248.5,1977.3 249.0,1991.9 249.4,2008.0 249.9,2012.1 250.4,2009.3 250.9,1980.9 251.4,1960.2 251.9,1988.2 252.3,1989.9 252.8,2001.4 253.3,1991.1 253.8,1990.9 254.3,1971.4 254.7,1985.8 255.2,1981.2 255.7,1989.8 256.2,1993.9 256.7,1990.2 257.2,1992.3 257.6,1990.4 258.1,1998.1 258.6,1999.8 259.1,1987.9 259.6,1984.9 260.1,2008.3 260.5,1996.3 261.0,2004.7 261.5,1998.7 262.0,1986.4 262.5,1980.8 263.0,1990.1 263.4,1992.6 263.9,1999.3 264.4,1979.3 264.9,1983.7 265.4,1991.5 265.9,2011.3 266.3,1972.4 266.8,1995.3 267.3,1990.7 267.8,2000.1 268.3,1991.9 268.8,1999.0 269.2,2015.4 269.7,2006.9 270.2,2003.9 270.7,2004.8 271.2,1992.6 271.7,2001.9 272.1,1998.1 272.6,1989.5 273.1,1997.0 273.6,1995.9 274.1,2007.4 274.6,1999.5 275.0,1993.0 275.5,2010.1 276.0,2012.2 276.5,2011.2 277.0,2005.6 277.5,1997.6 277.9,1992.7 278.4,1994.9 278.9,2006.8 279.4,2004.6 279.9,1988.5 280.4,1997.2 280.8,1984.7 281.3,1998.0 281.8,1987.2 282.3,1984.3 282.8,1995.0 283.3,1998.5 283.7,1981.5 284.2,2001.8 284.7,2026.0 285.2,1992.6 285.7,2021.5 286.2,2003.3 286.6,1999.8 287.1,2004.1 287.6,1991.3 288.1,2016.2 288.6,2012.5 289.1,1997.7 289.5,2000.3 290.0,1986.4 290.5,1998.1 291.0,2014.0 291.5,1989.3 292.0,1995.9 292.4,2002.3 292.9,2015.0 293.4,2020.8 293.9,1998.5 294.4,1987.7 294.9,2000.3 295.3,1993.7 295.8,1993.4 296.3,2006.2 296.8,2016.3 297.3,2005.3 297.8,1996.5 298.2,2001.8 298.7,1979.4 299.2,1992.2 299.7,1983.6 300.2,2020.9 300.7,2010.0 301.1,2002.5 301.6,1994.7 302.1,1966.1 302.6,1993.0 303.1,2012.1 303.6,1992.8 304.0,2002.7 304.5,2006.4 305.0,1984.5 305.5,2007.1 306.0,2018.4 306.5,2009.7 306.9,2002.8 307.4,2008.5 307.9,1986.0 308.4,1996.5 308.9,2010.6 309.4,1986.1 309.8,2007.7 310.3,1996.1 310.8,1975.1 311.3,1992.0 311.8,1984.5 312.3,1995.4 312.7,1979.7 313.2,1998.6 313.7,1982.0 314.2,1990.8 314.7,1983.5 315.2,1983.5 315.6,2002.9 316.1,1999.7 316.6,1991.4 317.1,1978.8 317.6,2001.8 318.1,2002.6 318.5,1993.5 319.0,1997.0 319.5,1983.3 320.0,1979.3 320.5,1980.6 321.0,1992.1 321.4,1995.2 321.9,1984.4 322.4,1999.7 322.9,2005.4 323.4,1997.7 323.9,2004.6 324.3,1992.8 324.8,1989.7 325.3,1996.1 325.8,1992.8 326.3,2001.7 326.8,1981.2 327.2,2004.2 327.7,1987.1 328.2,1986.0 328.7,1971.0 329.2,1987.6 329.7,2002.9 330.1,2004.3 330.6,2002.5 331.1,1975.8 331.6,1975.0 332.1,1976.9 332.6,1973.7 333.0,1994.7 333.5,1993.1 334.0,1989.5 334.5,1993.8 335.0,1978.4 335.5,1973.8 335.9,1972.7 336.4,1990.0 336.9,1995.5 337.4,1996.7 337.9,2002.8 338.4,1978.2 338.8,1976.9 339.3,1984.1 339.8,1969.8 340.3,1971.2 340.8,1991.5 341.2,1998.2 341.7,1999.9 342.2,1989.3 342.7,1983.6 343.2,2000.2 343.7,1988.1 344.1,1992.8 344.6,2004.0 345.1,1988.7 345.6,1980.3 346.1,1984.3 346.6,1991.1 347.0,1991.6 347.5,1989.4 348.0,1994.7 348.5,1972.1 349.0,1971.9 349.5,1984.5 349.9,1971.8 350.4,1965.8 350.9,1965.6 351.4,1969.3 351.9,1981.2 352.4,1974.2 352.8,1988.1 353.3,2007.6 353.8,1994.7 354.3,2006.5 354.8,2000.1 355.3,1984.0 355.7,1987.0 356.2,1979.0 356.7,1995.9 357.2,1980.7 357.7,2007.3 358.2,2004.3 358.6,1971.7 359.1,1992.6 359.6,2005.4 360.1,1983.7 360.6,1996.6 361.1,1967.6 361.5,1981.4 362.0,1961.8 362.5,1981.0 363.0,1961.1 363.5,1954.9 364.0,1979.2 364.4,2008.1 364.9,1984.8 365.4,1993.5 365.9,1989.3 366.4,1980.7 366.9,1990.1 367.3,2006.8 367.8,1979.8 368.3,1992.3 368.8,1993.3 369.3,1972.8 369.8,2003.1 370.2,2015.2 370.7,1987.5 371.2,2009.4 371.7,1998.1 372.2,1988.1 372.7,2005.6 373.1,1995.1 373.6,1992.9 374.1,2004.3 374.6,2004.8 375.1,2002.5 375.6,1976.2 376.0,1966.1 376.5,1992.3 377.0,1978.1 377.5,1986.3 378.0,1971.5 378.5,1977.0 378.9,1966.4 379.4,1996.5 379.9,1978.5 380.4,1981.0 380.9,1984.8 381.4,2001.4 381.8,1978.3 382.3,1985.6 382.8,1985.0 383.3,1995.4 383.8,1996.6 384.3,1987.0 384.7,1994.7 385.2,1993.1 385.7,1998.1 386.2,1993.2 386.7,1986.4 387.2,1993.5 387.6,2003.0 388.1,2023.5 388.6,2000.3 389.1,2002.3 389.6,2017.3 390.1,1980.7 390.5,1974.7 391.0,1976.9 391.5,1986.1 392.0,2015.8 392.5,2003.2 393.0,2009.6 393.4,1992.5 393.9,1961.3 394.4,1958.8 394.9,1985.8 395.4,1989.0 395.9,1975.3 396.3,1993.7 396.8,1972.5 397.3,1995.6 397.8,2009.2 398.3,1989.2 398.8,1978.6 399.2,1997.7 399.7,1984.3 400.2,2001.3 400.7,1983.4 401.2,1997.9 401.7,1995.5 402.1,1989.4 402.6,1985.2 403.1,1995.7 403.6,1975.0 404.1,1984.5 404.6,1986.4 405.0,1998.3 405.5,1979.4 406.0,2008.0 406.5,1995.8 407.0,1980.5 407.5,2001.8 407.9,2013.5 408.4,1994.6 408.9,1984.9 409.4,1990.3 409.9,1985.0 410.4,1984.8 410.8,2005.2 411.3,2000.2 411.8,1995.8 412.3,1995.2 412.8,1993.4 413.3,2002.4 413.7,2003.8 414.2,1988.5 414.7,1988.6 415.2,2015.7 415.7,1998.8 416.2,1987.6 416.6,2007.8 417.1,1992.9 417.6,1975.3 418.1,1990.9 418.6,1978.2 419.1,1976.9 419.5,1986.3 420.0,1985.1 420.5,1974.6 421.0,1975.7 421.5,1980.5 422.0,1998.7 422.4,1983.5 422.9,1977.6 423.4,2006.4 423.9,1985.3 424.4,2002.7 424.9,2005.3 425.3,1988.7 425.8,1972.3 426.3,1986.7 426.8,1992.6 427.3,1998.3 427.8,1988.3 428.2,1999.3 428.7,2003.9 429.2,1977.4 429.7,1998.3 430.2,1988.7 430.6,1979.6 431.1,1975.7 431.6,2002.1 432.1,2000.0 432.6,1968.0 433.1,1978.0 433.5,1980.2 434.0,1980.3 434.5,1976.3 435.0,1966.9 435.5,1988.5 436.0,1974.2 436.4,1976.9 436.9,1976.7 437.4,1974.6 437.9,1990.7 438.4,1991.7 438.9,1981.2 439.3,1976.5 439.8,1977.8 440.3,1994.3 440.8,1989.7 441.3,1989.9 441.8,1985.8 442.2,1984.3 442.7,1988.7 443.2,1968.8 443.7,1998.6 444.2,1980.6 444.7,1977.3 445.1,1997.5 445.6,1991.6 446.1,1986.8 446.6,1981.7 447.1,1966.5 447.6,1981.2 448.0,1998.9 448.5,1981.3 449.0,1999.9 449.5,1978.4 450.0,1977.3 450.5,1990.8 450.9,1990.6 451.4,1996.9 451.9,1984.3 452.4,1975.3 452.9,1963.4 453.4,1966.6 453.8,1972.9 454.3,1970.6 454.8,1989.8 455.3,1983.9 455.8,1968.4 456.3,2013.6 456.7,1990.1 457.2,2034.0 457.7,2004.0 458.2,2013.5 458.7,1995.5 459.2,1985.3 459.6,1988.4 460.1,2011.0 460.6,2003.4 461.1,1993.9 461.6,2002.9 462.1,2018.8 462.5,1993.2 463.0,1995.8 463.5,1984.9 464.0,2023.1 464.5,2033.0 465.0,2026.0 465.4,2011.2 465.9,2015.5 466.4,1988.5 466.9,2003.7 467.4,1993.4 467.9,1992.3 468.3,1996.3 468.8,2004.6 469.3,2013.6 469.8,2018.2 470.3,2016.7 470.8,2036.0 471.2,2009.1 471.7,2002.3 472.2,2013.6 472.7,1992.9 473.2,1970.1 473.7,1980.8 474.1,2013.8 474.6,2005.3 475.1,1994.1 475.6,2002.9 476.1,2000.4 476.6,1996.6 477.0,1987.4 477.5,1987.4 478.0,1989.9 478.5,1978.7 479.0,1970.5 479.5,1982.5 479.9,1995.8 480.4,1997.9 480.9,1993.9 481.4,1996.9 481.9,2018.1 482.4,1997.3 482.8,1996.9 483.3,2009.3 483.8,1992.0 484.3,1987.2 484.8,1994.4 485.3,2004.0 485.7,1990.2 486.2,1985.1 486.7,1979.8 487.2,1964.6 487.7,1984.4 488.2,1972.7 488.6,1954.0 489.1,1961.9 489.6,1945.7 490.1,1951.2 490.6,1963.7 491.1,1957.0 491.5,1976.6 492.0,1956.2 492.5,1968.1 493.0,1971.6 493.5,1984.8 494.0,1977.9 494.4,1967.2 494.9,1966.3 495.4,1966.1 495.9,1978.5 496.4,1962.5 496.9,1970.5 497.3,1967.0 497.8,1968.0 498.3,1961.1 498.8,1984.7 499.3,1961.9 499.8,1964.8 500.2,1964.8 500.7,1969.3 501.2,1965.8 501.7,1965.3 502.2,1969.0 502.7,1940.9 503.1,1951.3 503.6,1939.6 504.1,1950.1 504.6,1937.9 505.1,1935.0 505.6,1945.4 506.0,1965.9 506.5,1963.5 507.0,1957.3 507.5,1968.0 508.0,1948.4 508.5,1929.0 508.9,1943.9 509.4,1951.7 509.9,1967.7 510.4,1985.5 510.9,1953.2 511.4,1986.8 511.8,1988.8 512.3,1981.3 512.8,1973.5 513.3,1993.5 513.8,1973.8 514.3,1961.9 514.7,1961.6 515.2,1948.8 515.7,1963.7 516.2,1963.3 516.7,1968.6 517.1,1970.8 517.6,1956.0 518.1,1977.4 518.6,1954.9 519.1,1969.5 519.6,1948.9 520.0,1962.8 520.5,1954.2 521.0,1964.7 521.5,1961.8 522.0,1946.6 522.5,1953.0 522.9,1968.4 523.4,1980.7 523.9,1961.4 524.4,1947.7 524.9,1955.7 525.4,1965.0 525.8,1961.3 526.3,1962.1 526.8,1979.6 527.3,1986.4 527.8,1986.1 528.3,1967.7 528.7,1973.9 529.2,1972.1 529.7,1955.6 530.2,1979.9 530.7,1976.5 531.2,1968.8 531.6,1986.5 532.1,1984.0 532.6,1984.2 533.1,1989.5 533.6,1984.0 534.1,1961.6 534.5,1963.1 535.0,1981.3 535.5,1965.2 536.0,1970.5 536.5,1976.6 537.0,1988.1 537.4,1991.2 537.9,1988.1 538.4,1974.0 538.9,1982.2 539.4,1982.6 539.9,1974.7 540.3,1988.9 540.8,1983.6 541.3,1968.9 541.8,1989.4 542.3,1979.9 542.8,1987.4 543.2,1968.2 543.7,1975.7 544.2,1965.8 544.7,1960.2 545.2,1951.9 545.7,1990.3 546.1,1978.0 546.6,1980.3 547.1,1988.6 547.6,1978.0 548.1,1982.6 548.6,1965.0 549.0,1974.7 549.5,1972.5 550.0,1983.0 550.5,1982.3 551.0,1965.2 551.5,1956.7 551.9,1963.7 552.4,1985.0 552.9,1987.6 553.4,1988.8 553.9,1961.6 554.4,1946.7 554.8,1964.5 555.3,1974.5 555.8,1974.0 556.3,1984.1 556.8,1981.6 557.3,1970.2 557.7,1971.8 558.2,1983.7 558.7,1986.6 559.2,1988.5 559.7,2011.7 560.2,1991.9 560.6,1987.4 561.1,1974.7 561.6,1976.4 562.1,1986.3 562.6,1989.7 563.1,1985.1 563.5,1990.8 564.0,1985.3 564.5,1962.4 565.0,1948.2 565.5,1992.0 566.0,1993.4 566.4,1983.4 566.9,1962.2 567.4,1963.8 567.9,1993.9 568.4,1958.5 568.9,1974.1 569.3,1990.4 569.8,1990.3 570.3,1995.8 570.8,1988.3 571.3,2013.0 571.8,1983.0 572.2,1974.1 572.7,1987.9 573.2,2004.5 573.7,1993.6 574.2,2002.8 574.7,1985.6 575.1,1970.7 575.6,1995.5 576.1,2005.4 576.6,2007.9 577.1,1985.6 577.6,1970.4 578.0,1966.3 578.5,1975.5 579.0,1985.5 579.5,1988.5 580.0,1969.5 580.5,1982.4 580.9,1983.5 581.4,1985.6 581.9,1985.9 582.4,1985.7 582.9,1992.1 583.4,1991.6 583.8,1991.9 584.3,1983.1 584.8,1993.4 585.3,1989.1 585.8,1965.1 586.3,1987.9 586.7,1988.4 587.2,2000.7 587.7,1990.6 588.2,1987.9 588.7,1991.4 589.2,1992.2 589.6,1986.8 590.1,1969.8 590.6,2004.9 591.1,1977.2 591.6,1981.2 592.1,1993.5 592.5,1995.1 593.0,1998.1 593.5,2001.6 594.0,2007.3 594.5,1998.2 595.0,2024.0 595.4,1990.8 595.9,1995.9 596.4,1990.4 596.9,1988.7 597.4,1995.9 597.9,2010.4 598.3,1989.0 598.8,1983.4 599.3,1996.5 599.8,1998.6 600.3,2014.9 600.8,2008.9 601.2,1996.1 601.7,1986.7 602.2,1989.9 602.7,1986.9 603.2,1973.7 603.7,1984.7 604.1,1985.8 604.6,1987.9 605.1,1987.5 605.6,2009.8 606.1,2004.1 606.5,2004.6 607.0,1988.1 607.5,1979.4 608.0,1988.4 608.5,1995.1 609.0,1990.0 609.4,1989.3 609.9,2001.7 610.4,1997.7 610.9,1981.3 611.4,1984.4 611.9,1982.0 612.3,1991.7 612.8,1977.8 613.3,1985.3 613.8,1997.5 614.3,1990.3 614.8,1976.1 615.2,1976.5 615.7,1984.3 616.2,1987.4 616.7,1992.0 617.2,1981.0 617.7,1964.7 618.1,1992.5 618.6,1986.6 619.1,1989.4 619.6,1987.3 620.1,1970.8 620.6,1976.5 621.0,1984.6 621.5,1996.8 622.0,1991.2 622.5,1954.6 623.0,1975.6 623.5,1985.1 623.9,1997.8 624.4,1996.3 624.9,2015.0 625.4,2009.0 625.9,2004.9 626.4,2000.8 626.8,1975.9 627.3,1991.8 627.8,1994.0 628.3,1982.0 628.8,1991.7 629.3,1992.1 629.7,1981.0 630.2,1981.4 630.7,1979.4 631.2,1981.4 631.7,1976.3 632.2,1985.4 632.6,1960.4 633.1,1970.7 633.6,1959.9 634.1,1971.5 634.6,1984.7 635.1,1985.3 635.5,1985.3 636.0,1988.8 636.5,2004.6 637.0,1978.7 637.5,1994.0 638.0,1971.1 638.4,1980.0 638.9,1987.4 639.4,1977.7 639.9,1988.2 640.4,1996.9 640.9,1976.2 641.3,1983.9 641.8,1981.8 642.3,1964.3 642.8,1976.4 643.3,1973.5 643.8,1996.9 644.2,1980.2 644.7,2002.9 645.2,1985.9 645.7,2007.9 646.2,2001.1 646.7,1999.1 647.1,2001.2 647.6,2005.6 648.1,2011.6 648.6,2018.9 649.1,1997.3 649.6,1982.4 650.0,1961.8 650.5,1981.8 651.0,2001.5 651.5,2004.1 652.0,2002.6 652.5,1997.6 652.9,1991.3 653.4,1993.9 653.9,2000.1 654.4,1976.3 654.9,1998.8 655.4,1981.7 655.8,1994.2 656.3,1993.4 656.8,1997.8 657.3,1991.2 657.8,1989.0 658.3,2000.7 658.7,1995.5 659.2,2033.0 659.7,2012.4 660.2,2001.8 660.7,1998.9 661.2,1991.5 661.6,1976.0 662.1,1995.8 662.6,2007.1 663.1,1991.6 663.6,2003.6 664.1,1995.8 664.5,2007.9 665.0,2015.0 665.5,2016.6 666.0,2014.4 666.5,2004.5 667.0,2018.1 667.4,2005.1 667.9,2012.1 668.4,2014.7 668.9,2004.1 669.4,1991.3 669.9,2008.1 670.3,1992.5 670.8,1994.3 671.3,1990.2 671.8,2010.2 672.3,2004.6 672.8,1977.6 673.2,2002.4 673.7,2025.0 674.2,2029.5 674.7,2003.2 675.2,2003.2 675.7,2007.4 676.1,2013.4 676.6,2001.2 677.1,1987.4 677.6,2002.1 678.1,2004.8 678.6,1980.4 679.0,1983.9 679.5,1993.3 680.0,1996.7 680.5,2001.1 681.0,2005.1 681.5,2004.6 681.9,1997.5 682.4,1980.8 682.9,1996.9 683.4,2010.0 683.9,2021.7 684.4,2004.1 684.8,2000.9 685.3,2016.6 685.8,2021.7 686.3,2011.2 686.8,2013.5 687.3,1995.4 687.7,2008.6 688.2,1995.4 688.7,2000.0 689.2,1999.1 689.7,1996.6 690.2,1976.8 690.6,1984.5 691.1,1998.7 691.6,1997.6 692.1,1996.5 692.6,2005.4 693.0,2009.8 693.5,2013.4 694.0,1995.1 694.5,1995.6 695.0,1990.1 695.5,1982.9 695.9,1974.7 696.4,1986.9 696.9,1984.2 697.4,2016.8 697.9,2002.1 698.4,1994.1 698.8,1990.5 699.3,2014.7 699.8,1988.9 700.3,1986.7 700.8,1983.6 701.3,1989.9 701.7,1992.5 702.2,2008.2 702.7,1986.0 703.2,1994.8 703.7,2015.4 704.2,1998.8 704.6,1999.1 705.1,1990.5 705.6,1968.3 706.1,1989.6 706.6,2005.2 707.1,1993.3 707.5,1974.3 708.0,1992.1 708.5,1994.8 709.0,2006.3 709.5,2009.7 710.0,1997.0 710.4,2000.3 710.9,1977.8 711.4,2002.5 711.9,2001.6 712.4,2008.7 712.9,2011.9 713.3,1999.4 713.8,1995.5 714.3,1987.1 714.8,1974.0 715.3,1990.7 715.8,1997.1 716.2,1982.1 716.7,1999.9 717.2,1998.6 717.7,2002.6 718.2,1993.1 718.7,1978.6 719.1,2003.7 719.6,2008.5 720.1,2002.0 720.6,1996.6 721.1,1997.5 721.6,2000.2 722.0,1995.6 722.5,1978.2 723.0,2006.8 723.5,1988.3 724.0,1996.9 724.5,2002.0 724.9,2008.9 725.4,1990.3 725.9,2018.2 726.4,2019.2 726.9,2020.9 727.4,2026.3 727.8,2006.6 728.3,1975.4 728.8,2006.1 729.3,2024.6 729.8,2028.2 730.3,2010.3 730.7,2010.7 731.2,2013.8 731.7,1993.2 732.2,1999.7 732.7,1999.6 733.2,2020.1 733.6,2000.1 734.1,2021.8 734.6,2010.5 735.1,1989.8 735.6,2025.5 736.1,2002.6 736.5,2011.0 737.0,2024.7 737.5,2004.2 738.0,1992.3 738.5,2014.8 739.0,2012.4 739.4,1998.3 739.9,1995.0 740.4,2003.8 740.9,2021.3 741.4,2013.4 741.9,2021.1 742.3,2034.2 742.8,2033.3 743.3,2035.5 743.8,2032.4 744.3,2002.2 744.8,2024.4 745.2,2022.2 745.7,2013.6 746.2,2002.6 746.7,1992.8 747.2,1994.5 747.7,2004.9 748.1,1994.0 748.6,1992.5 749.1,1996.1 749.6,2009.8 750.1,2003.8 750.6,2004.3 751.0,2019.0 751.5,2004.3 752.0,2009.7 752.5,1995.2 753.0,2005.8 753.5,2007.0 753.9,2008.7 754.4,2000.4 754.9,1994.0 755.4,1997.2 755.9,1997.3 756.4,2013.9 756.8,2013.9 757.3,1991.7 757.8,2004.1 758.3,1995.4 758.8,1999.1 759.3,1989.5 759.7,1973.3 760.2,1994.7 760.7,1997.8 761.2,1979.9 761.7,1964.0 762.2,1973.3 762.6,1968.0 763.1,1979.1 763.6,1991.9 764.1,2004.1 764.6,1990.3 765.1,2005.6 765.5,2008.5 766.0,1990.6 766.5,1974.9 767.0,1998.0 767.5,1999.1 768.0,2018.7 768.4,2014.4 768.9,2006.8 769.4,2016.4 769.9,1987.4 770.4,1992.8 770.9,1993.6 771.3,2015.1 771.8,2007.9 772.3,1966.6 772.8,2001.2 773.3,1988.1 773.8,2004.0 774.2,1994.1 774.7,2001.3 775.2,2007.2 775.7,2005.0 776.2,1990.2 776.7,2010.6 777.1,2004.8 777.6,1999.9 778.1,2007.1 778.6,1996.1 779.1,2019.0 779.6,2007.2 780.0,2005.4 780.5,2005.9 781.0,1992.6 781.5,1985.3 782.0,2000.3 782.4,2008.7 782.9,2022.0 783.4,2018.6 783.9,2000.2 784.4,2013.8 784.9,2019.3 785.3,2024.7 785.8,2016.1 786.3,1996.3 786.8,2016.1 787.3,1998.2 787.8,2006.6 788.2,1988.5 788.7,2009.0 789.2,2000.6 789.7,2018.0 790.2,2026.0 790.7,2023.9 791.1,1996.5 791.6,1990.2 792.1,1988.7 792.6,2004.7 793.1,2005.3 793.6,2006.1 794.0,2007.8 794.5,2010.2 795.0,2011.7 795.5,2025.6 796.0,2010.2 796.5,2008.2 796.9,1983.1 797.4,1981.1 797.9,1986.2 798.4,1979.8 798.9,1996.4 799.4,2009.4 799.8,1997.2 800.3,1992.5 800.8,1992.7 801.3,2002.3 801.8,1996.9 802.3,2006.5 802.7,2005.3 803.2,2006.3 803.7,2011.3 804.2,2005.9 804.7,2004.4 805.2,2020.0 805.6,2005.4 806.1,2009.3 806.6,2004.9 807.1,1997.7 807.6,1994.9 808.1,1989.4 808.5,1997.5 809.0,1991.6 809.5,1990.8 810.0,2006.0 810.5,1998.4 811.0,2010.4 811.4,2005.0 811.9,2009.9 812.4,1997.7 812.9,2000.0 813.4,2030.6 813.9,2017.7 814.3,2015.5 814.8,2004.7 815.3,2009.8 815.8,1988.8 816.3,1986.7 816.8,1999.0 817.2,2005.2 817.7,1995.0 818.2,1995.7 818.7,1994.4 819.2,1994.7 819.7,1984.1 820.1,1975.6 820.6,1988.2 821.1,1975.9 821.6,1981.0 822.1,1984.5 822.6,1982.7 823.0,1995.8 823.5,1994.0 824.0,1995.2 824.5,1985.7 825.0,1986.6 825.5,2001.8 825.9,2005.0 826.4,1997.0 826.9,2004.0 827.4,2005.2 827.9,2006.5 828.4,2020.2 828.8,2002.6 829.3,2006.5 829.8,2008.1 830.3,2002.7 830.8,1988.0 831.3,2005.1 831.7,2002.5 832.2,1999.7 832.7,1998.1 833.2,1998.5 833.7,1988.0 834.2,1998.3 834.6,1977.8 835.1,1991.8 835.6,1977.6 836.1,1985.4 836.6,2000.6 837.1,1996.4 837.5,1994.2 838.0,2008.4 838.5,2003.8 839.0,1999.8 839.5,2000.0 840.0,2022.5 840.4,2020.0 840.9,2014.8 841.4,1995.5 841.9,2009.9 842.4,1991.3 842.9,2004.2 843.3,1992.9 843.8,2019.6 844.3,1988.9 844.8,2011.3 845.3,2015.9 845.8,1988.6 846.2,1995.2 846.7,2018.4 847.2,2020.3 847.7,1992.8 848.2,1998.5 848.7,1991.4 849.1,1991.6 849.6,1995.3 850.1,2022.6 850.6,2013.8 851.1,2007.3 851.6,2004.2 852.0,2016.0 852.5,2020.9 853.0,2004.7 853.5,2024.7 854.0,2003.0 854.5,2005.0 854.9,2012.8 855.4,2029.0 855.9,2013.1 856.4,2014.7 856.9,2029.2 857.4,2023.9 857.8,2027.2 858.3,2026.6 858.8,2017.2 859.3,2017.8 859.8,2021.4 860.3,2012.6 860.7,2030.9 861.2,1997.0 861.7,1997.1 862.2,2023.1 862.7,2021.8 863.2,2009.2 863.6,2016.4 864.1,2028.1 864.6,2011.4 865.1,2021.6 865.6,2018.1 866.1,2012.7 866.5,2012.9 867.0,2028.5 867.5,2007.8 868.0,2009.3 868.5,2021.2 868.9,2001.6 869.4,1991.6 869.9,2013.9 870.4,2013.9 870.9,2013.6 871.4,2016.6 871.8,2006.2 872.3,2044.7 872.8,2014.0 873.3,2011.0 873.8,1999.4 874.3,2006.9 874.7,2028.8 875.2,2022.1 875.7,2027.6 876.2,2021.0 876.7,2044.6 877.2,2036.4 877.6,2018.3 878.1,2034.2 878.6,2027.4 879.1,2033.7 879.6,2030.6 880.1,2030.7 880.5,2027.6 881.0,2017.1 881.5,2008.1 882.0,2031.7 882.5,2027.7 883.0,2032.2 883.4,2023.7 883.9,2000.7 884.4,2001.0 884.9,2032.4 885.4,2017.6 885.9,2014.8 886.3,2004.7 886.8,2011.5 887.3,2017.4 887.8,2021.4 888.3,2022.9 888.8,2016.5 889.2,2014.2 889.7,2018.9 890.2,2023.9 890.7,2020.6 891.2,2041.5 891.7,2028.3 892.1,2025.4 892.6,2014.9 893.1,2029.5 893.6,2062.0 894.1,1998.4 894.6,2002.6 895.0,2020.3 895.5,2004.2 896.0,2027.7 896.5,2017.2 897.0,1996.1 897.5,2004.4 897.9,2029.0 898.4,2006.9 898.9,1992.4 899.4,2007.1 899.9,2022.1 900.4,2024.1 900.8,2007.9 901.3,2009.5 901.8,2012.2 902.3,2023.7 902.8,2036.2 903.3,2018.2 903.7,2026.7 904.2,2013.0 904.7,2019.4 905.2,2002.0 905.7,1998.7 906.2,2011.3 906.6,2001.6 907.1,2015.2 907.6,2002.9 908.1,2007.5 908.6,2007.1 909.1,2001.3 909.5,2004.1 910.0,2016.5 910.5,2040.5 911.0,2001.9 911.5,2007.8 912.0,2003.8 912.4,1990.4 912.9,2003.7 913.4,1995.9 913.9,2004.1 914.4,2020.9 914.9,1987.1 915.3,2004.1 915.8,2011.1 916.3,1999.1 916.8,2011.1 917.3,2012.6 917.8,2005.2 918.2,2023.4 918.7,2001.1 919.2,2015.1 919.7,2007.9 920.2,1998.8 920.7,2006.3 921.1,2006.9 921.6,2021.9 922.1,2001.8 922.6,2009.3 923.1,2008.6 923.6,2031.0 924.0,2009.0 924.5,2027.4 925.0,2000.6 925.5,2015.2 926.0,2016.2 926.5,2022.9 926.9,2011.6 927.4,1995.8 927.9,1994.8 928.4,2023.3 928.9,2021.0 929.4,2010.3 929.8,2025.4 930.3,2011.0 930.8,2008.9 931.3,2001.3 931.8,2025.5 932.3,2041.1 932.7,2014.7 933.2,2021.3 933.7,2030.7 934.2,2046.1 934.7,2001.4 935.2,2015.1 935.6,2024.4 936.1,2002.9 936.6,2019.5 937.1,2021.7 937.6,2032.6 938.1,2020.2 938.5,2026.2 939.0,2017.2 939.5,2028.5 940.0,2027.8 940.5,2022.1 941.0,2009.2 941.4,2037.8 941.9,2041.5 942.4,2043.4 942.9,2025.5 943.4,2024.0 943.9,2046.9 944.3,2046.3 944.8,2028.9 945.3,2034.4 945.8,2036.0 946.3,2031.9 946.8,2024.1 947.2,2044.9 947.7,2046.2 948.2,2039.5 948.7,2019.6 949.2,2026.1 949.7,2032.6 950.1,2040.9 950.6,2031.9 951.1,2043.6 951.6,2037.2 952.1,2024.9 952.6,2003.8 953.0,2010.1 953.5,2008.4 954.0,2023.5 954.5,2034.1 955.0,2048.3 955.5,2039.3 955.9,2025.5 956.4,2056.2 956.9,2044.3 957.4,2036.2 957.9,2036.3 958.3,2025.9 958.8,2041.8 959.3,2045.1 959.8,2056.2 960.3,2054.8 960.8,2052.8 961.2,2056.8 961.7,2041.9 962.2,2035.4 962.7,2034.8 963.2,2021.6 963.7,2028.6 964.1,2025.8 964.6,2033.9 965.1,2029.8 965.6,2011.2 966.1,2024.7 966.6,2045.0 967.0,2018.5 967.5,2019.3 968.0,2026.7 968.5,2012.9 969.0,2018.5 969.5,2026.0 969.9,2014.2 970.4,2027.2 970.9,2031.7 971.4,2015.2 971.9,2023.0 972.4,2037.2 972.8,2025.4 973.3,2026.2 973.8,2028.6 974.3,2020.9 974.8,2030.8 975.3,2026.1 975.7,2009.9 976.2,2020.7 976.7,2024.8 977.2,2023.8 977.7,2004.6 978.2,2011.2 978.6,2021.3 979.1,2012.0 979.6,2022.3 980.1,2023.8 980.6,2009.0 981.1,2012.4 981.5,1999.4 982.0,2011.5 982.5,2002.7 983.0,1995.8 983.5,1999.4 984.0,1998.8 984.4,2005.9 984.9,2009.1 985.4,1991.6 985.9,1991.6 986.4,2003.1 986.9,2010.0 987.3,2009.7 987.8,2035.2 988.3,2029.0 988.8,2014.1 989.3,2019.4 989.8,2029.6 990.2,2020.1 990.7,1996.1 991.2,2007.6 991.7,2010.5 992.2,2033.2 992.7,1999.0 993.1,2027.1 993.6,2016.6 994.1,2025.7 994.6,2013.9 995.1,2019.1 995.6,2031.9 996.0,2024.2 996.5,2032.1 997.0,2021.9 997.5,2015.5 998.0,2018.3 998.5,2013.8 998.9,2016.5 999.4,2035.8 999.9,2014.7 1000.4,2005.6 1000.9,2019.9 1001.4,2042.8 1001.8,2044.5 1002.3,2048.7 1002.8,2048.5 1003.3,2025.8 1003.8,2026.1 1004.3,1998.6 1004.7,2011.0 1005.2,2027.3 1005.7,2010.1 1006.2,1997.2 1006.7,2000.9 1007.2,2019.2 1007.6,2035.5 1008.1,2056.3 1008.6,2050.5 1009.1,2017.5 1009.6,1998.9 1010.1,2020.8 1010.5,2037.0 1011.0,2011.6 1011.5,2017.6 1012.0,2021.1 1012.5,2030.4 1013.0,2030.9 1013.4,2037.5 1013.9,2046.5 1014.4,2037.6 1014.9,2044.1 1015.4,2055.6 1015.9,2025.0 1016.3,2014.1 1016.8,2028.1 1017.3,2046.7 1017.8,2031.9 1018.3,2036.3 1018.8,2024.2 1019.2,2036.1 1019.7,2023.5 1020.2,2032.8 1020.7,2034.0 1021.2,2031.8 1021.7,2040.1 1022.1,2042.2 1022.6,2024.6 1023.1,2034.9 1023.6,2009.2 1024.1,2032.9 1024.6,2059.7 1025.0,2043.6 1025.5,2039.7 1026.0,2033.1 1026.5,2038.4 1027.0,2025.4 1027.5,2036.3 1027.9,2027.9 1028.4,2022.6 1028.9,2030.4 1029.4,2031.7 1029.9,2013.8 1030.4,2049.6 1030.8,2039.5 1031.3,2013.9 1031.8,2037.9 1032.3,2033.7 1032.8,2034.3 1033.3,2040.6 1033.7,2022.5 1034.2,1997.9 1034.7,2016.8 1035.2,2027.8 1035.7,2038.8 1036.2,2021.0 1036.6,2021.5 1037.1,2029.2 1037.6,2023.0 1038.1,2023.5 1038.6,2027.6 1039.1,2016.8 1039.5,2042.6 1040.0,2020.9 1040.5,2027.8 1041.0,2023.1 1041.5,2018.3 1042.0,2030.5 1042.4,2040.4 1042.9,2045.4 1043.4,2036.4" fill="none" stroke="#a6cee3" stroke-width="2.4" stroke-linejoin="miter" stroke-miterlimit="3"/>
<line x1="75.0" y1="2069.1" x2="1043.4" y2="2069.1" stroke="#8c8c8c" stroke-width="1.8"/>
<line x1="77.0" y1="2067.2" x2="1042.4" y2="2067.2" stroke="#dedede" stroke-width="1.6"/>
<line x1="76.0" y1="1936.0" x2="76.0" y2="2075.5" stroke="#a9a9a9" stroke-width="2"/>
<line x1="75.0" y1="1936.0" x2="1044.4" y2="1936.0" stroke="#575757" stroke-width="2"/>
<line x1="1043.4" y1="1936.0" x2="1043.4" y2="2075.5" stroke="#575757" stroke-width="2"/>
<line x1="1060.0" y1="2069.1" x2="1266.0" y2="2069.1" stroke="#8c8c8c" stroke-width="1.8"/>
<line x1="1061.0" y1="2067.2" x2="1264.0" y2="2067.2" stroke="#e2e2e2" stroke-width="1.6"/>
<line x1="1265.0" y1="1936.0" x2="1265.0" y2="2068.5" stroke="#a5a5a5" stroke-width="2"/>
<line x1="1263.4" y1="1937.0" x2="1263.4" y2="2067.5" stroke="#e4e4e4" stroke-width="1.2"/>
<line x1="1059.0" y1="1936.0" x2="1266.0" y2="1936.0" stroke="#575757" stroke-width="2"/>
<line x1="1060.0" y1="1936.0" x2="1060.0" y2="2068.5" stroke="#454545" stroke-width="2"/>
<rect x="1061.0" y="1944.0" width="7.4" height="7.6" fill="#9ccae0"/>
<rect x="1061.0" y="1956.4" width="24.0" height="7.6" fill="#9ccae0"/>
<rect x="1061.0" y="1969.0" width="64.0" height="7.6" fill="#9ccae0"/>
<rect x="1061.0" y="1979.6" width="166.6" height="8.0" fill="#9ccae0"/>
<rect x="1061.0" y="1992.4" width="194.0" height="7.6" fill="#9ccae0"/>
<rect x="1061.0" y="2005.0" width="127.0" height="7.6" fill="#9ccae0"/>
<rect x="1061.0" y="2017.4" width="70.6" height="7.6" fill="#9ccae0"/>
<rect x="1061.0" y="2028.0" width="57.4" height="7.6" fill="#9ccae0"/>
<rect x="1061.0" y="2040.4" width="36.6" height="7.6" fill="#9ccae0"/>
<rect x="1061.0" y="2053.0" width="7.4" height="7.6" fill="#9ccae0"/>
<line x1="68" y1="1956.6" x2="75.0" y2="1956.6" stroke="#5e5e5e" stroke-width="2"/>
<line x1="1051" y1="1956.6" x2="1059.0" y2="1956.6" stroke="#5e5e5e" stroke-width="2"/>
<text x="58.6" y="1963.4" font-family='"Liberation Sans", sans-serif' font-size="19.8" fill="#6c6c6c" text-anchor="end" font-weight="normal" textLength="35.2" lengthAdjust="spacingAndGlyphs">320</text>
<line x1="68" y1="1997.2" x2="75.0" y2="1997.2" stroke="#5e5e5e" stroke-width="2"/>
<line x1="1051" y1="1997.2" x2="1059.0" y2="1997.2" stroke="#5e5e5e" stroke-width="2"/>
<text x="58.6" y="2004.0" font-family='"Liberation Sans", sans-serif' font-size="19.8" fill="#6c6c6c" text-anchor="end" font-weight="normal" textLength="35.2" lengthAdjust="spacingAndGlyphs">240</text>
<line x1="68" y1="2037.7" x2="75.0" y2="2037.7" stroke="#5e5e5e" stroke-width="2"/>
<line x1="1051" y1="2037.7" x2="1059.0" y2="2037.7" stroke="#5e5e5e" stroke-width="2"/>
<text x="58.6" y="2044.5" font-family='"Liberation Sans", sans-serif' font-size="19.8" fill="#6c6c6c" text-anchor="end" font-weight="normal" textLength="35.2" lengthAdjust="spacingAndGlyphs">160</text>
<line x1="75.8" y1="2068.5" x2="75.8" y2="2075.5" stroke="#7a7a7a" stroke-width="2"/>
<line x1="269.3" y1="2068.5" x2="269.3" y2="2075.5" stroke="#7a7a7a" stroke-width="2"/>
<line x1="462.8" y1="2068.5" x2="462.8" y2="2075.5" stroke="#7a7a7a" stroke-width="2"/>
<line x1="656.4" y1="2068.5" x2="656.4" y2="2075.5" stroke="#7a7a7a" stroke-width="2"/>
<line x1="849.9" y1="2068.5" x2="849.9" y2="2075.5" stroke="#7a7a7a" stroke-width="2"/>
<line x1="1043.4" y1="2068.5" x2="1043.4" y2="2075.5" stroke="#7a7a7a" stroke-width="2"/>
<text transform="translate(24.3,2003.0) rotate(-90)" x="0" y="0" font-family='"Liberation Sans", sans-serif' font-size="19.5" fill="#6c6c6c" text-anchor="middle" textLength="94.6" lengthAdjust="spacingAndGlyphs">SASA (Å²)</text>
<clipPath id="c12"><rect x="76.0" y="2095.75" width="967.4000000000001" height="132.5"/></clipPath>
<polyline clip-path="url(#c12)" points="77.8,2199.0 77.9,2180.2 78.4,2175.9 78.8,2171.9 79.3,2185.6 79.8,2116.9 80.3,2146.8 80.8,2137.6 81.3,2148.6 81.7,2169.9 82.2,2159.5 82.7,2163.3 83.2,2134.8 83.7,2153.0 84.2,2142.4 84.6,2183.1 85.1,2182.0 85.6,2185.5 86.1,2168.7 86.6,2176.1 87.1,2176.4 87.5,2161.9 88.0,2155.5 88.5,2160.1 89.0,2153.6 89.5,2155.4 90.0,2157.2 90.4,2148.9 90.9,2169.9 91.4,2140.3 91.9,2170.9 92.4,2156.4 92.9,2151.8 93.3,2136.1 93.8,2149.6 94.3,2152.8 94.8,2160.5 95.3,2151.8 95.8,2159.0 96.2,2202.2 96.7,2176.2 97.2,2155.4 97.7,2174.4 98.2,2163.0 98.7,2169.3 99.1,2175.6 99.6,2160.9 100.1,2134.9 100.6,2146.9 101.1,2167.5 101.6,2159.9 102.0,2169.8 102.5,2180.2 103.0,2159.3 103.5,2177.2 104.0,2189.3 104.5,2184.1 104.9,2185.4 105.4,2183.7 105.9,2189.3 106.4,2173.3 106.9,2160.5 107.4,2167.9 107.8,2148.7 108.3,2134.9 108.8,2197.8 109.3,2154.9 109.8,2162.3 110.3,2134.9 110.7,2134.9 111.2,2140.6 111.7,2149.6 112.2,2155.5 112.7,2168.6 113.2,2181.8 113.6,2171.8 114.1,2175.7 114.6,2149.7 115.1,2142.7 115.6,2166.2 116.1,2184.8 116.5,2187.6 117.0,2187.5 117.5,2189.3 118.0,2188.9 118.5,2147.5 119.0,2149.5 119.4,2167.4 119.9,2174.2 120.4,2144.2 120.9,2174.5 121.4,2157.5 121.9,2155.1 122.3,2160.8 122.8,2168.5 123.3,2135.5 123.8,2163.7 124.3,2161.7 124.8,2142.7 125.2,2147.9 125.7,2135.0 126.2,2135.0 126.7,2152.8 127.2,2146.6 127.7,2153.1 128.1,2157.8 128.6,2163.7 129.1,2177.7 129.6,2167.0 130.1,2162.3 130.6,2172.2 131.0,2189.4 131.5,2172.8 132.0,2175.9 132.5,2141.9 133.0,2180.4 133.5,2183.0 133.9,2189.4 134.4,2172.4 134.9,2150.5 135.4,2174.8 135.9,2179.8 136.4,2151.5 136.8,2135.0 137.3,2157.1 137.8,2155.5 138.3,2189.4 138.8,2200.1 139.3,2152.3 139.7,2154.1 140.2,2135.0 140.7,2138.2 141.2,2180.0 141.7,2166.6 142.2,2149.3 142.6,2135.3 143.1,2163.4 143.6,2175.9 144.1,2170.9 144.6,2164.3 145.1,2169.6 145.5,2176.4 146.0,2164.6 146.5,2179.9 147.0,2137.3 147.5,2142.8 148.0,2158.5 148.4,2164.6 148.9,2151.2 149.4,2167.4 149.9,2184.1 150.4,2175.9 150.9,2165.1 151.3,2174.8 151.8,2168.8 152.3,2142.8 152.8,2149.7 153.3,2175.5 153.8,2144.8 154.2,2156.7 154.7,2153.4 155.2,2145.1 155.7,2141.0 156.2,2157.9 156.7,2169.3 157.1,2173.2 157.6,2144.5 158.1,2155.7 158.6,2169.7 159.1,2183.1 159.6,2181.9 160.0,2185.3 160.5,2188.9 161.0,2186.7 161.5,2160.8 162.0,2167.5 162.5,2157.1 162.9,2135.1 163.4,2135.1 163.9,2184.6 164.4,2152.1 164.9,2135.1 165.3,2143.4 165.8,2179.3 166.3,2165.2 166.8,2165.5 167.3,2156.1 167.8,2154.8 168.2,2178.4 168.7,2177.8 169.2,2167.1 169.7,2177.0 170.2,2180.4 170.7,2164.9 171.1,2168.8 171.6,2172.0 172.1,2155.1 172.6,2175.0 173.1,2164.0 173.6,2152.2 174.0,2135.1 174.5,2135.6 175.0,2201.9 175.5,2146.1 176.0,2163.2 176.5,2154.5 176.9,2164.4 177.4,2170.3 177.9,2149.2 178.4,2150.5 178.9,2157.4 179.4,2156.3 179.8,2157.1 180.3,2156.3 180.8,2169.5 181.3,2186.5 181.8,2182.5 182.3,2158.5 182.7,2168.0 183.2,2163.4 183.7,2168.6 184.2,2189.6 184.7,2166.8 185.2,2165.3 185.6,2148.8 186.1,2157.3 186.6,2153.3 187.1,2185.9 187.6,2174.8 188.1,2205.7 188.5,2189.6 189.0,2150.8 189.5,2172.9 190.0,2182.3 190.5,2175.3 191.0,2158.9 191.4,2153.5 191.9,2150.9 192.4,2165.5 192.9,2135.2 193.4,2138.7 193.9,2154.9 194.3,2147.9 194.8,2135.2 195.3,2146.1 195.8,2146.0 196.3,2169.3 196.8,2184.4 197.2,2165.7 197.7,2135.2 198.2,2148.0 198.7,2144.0 199.2,2168.5 199.7,2189.2 200.1,2174.1 200.6,2189.6 201.1,2189.6 201.6,2180.8 202.1,2152.9 202.6,2165.0 203.0,2142.8 203.5,2175.6 204.0,2172.8 204.5,2189.6 205.0,2181.3 205.5,2140.2 205.9,2168.9 206.4,2181.7 206.9,2189.6 207.4,2157.2 207.9,2144.1 208.4,2159.3 208.8,2144.7 209.3,2135.2 209.8,2135.3 210.3,2189.7 210.8,2158.8 211.3,2141.9 211.7,2145.4 212.2,2151.7 212.7,2176.1 213.2,2176.3 213.7,2173.8 214.2,2164.4 214.6,2160.6 215.1,2148.8 215.6,2135.3 216.1,2179.4 216.6,2155.6 217.1,2170.0 217.5,2153.0 218.0,2154.6 218.5,2151.0 219.0,2135.8 219.5,2152.5 220.0,2166.9 220.4,2177.6 220.9,2178.6 221.4,2185.6 221.9,2179.6 222.4,2169.9 222.9,2138.8 223.3,2149.8 223.8,2189.0 224.3,2175.6 224.8,2179.6 225.3,2161.8 225.8,2149.1 226.2,2189.7 226.7,2174.7 227.2,2186.6 227.7,2174.7 228.2,2158.6 228.7,2135.3 229.1,2151.6 229.6,2135.3 230.1,2135.3 230.6,2165.6 231.1,2172.7 231.6,2173.9 232.0,2165.5 232.5,2165.2 233.0,2173.6 233.5,2170.9 234.0,2167.8 234.5,2178.0 234.9,2135.3 235.4,2163.8 235.9,2149.9 236.4,2172.8 236.9,2183.0 237.4,2154.2 237.8,2175.1 238.3,2182.7 238.8,2163.1 239.3,2156.5 239.8,2165.3 240.3,2135.4 240.7,2150.8 241.2,2164.5 241.7,2157.5 242.2,2136.5 242.7,2147.9 243.2,2182.7 243.6,2189.8 244.1,2170.0 244.6,2154.9 245.1,2125.9 245.6,2166.9 246.1,2154.8 246.5,2157.6 247.0,2168.6 247.5,2121.2 248.0,2135.4 248.5,2170.9 249.0,2168.9 249.4,2183.8 249.9,2169.3 250.4,2174.6 250.9,2189.8 251.4,2135.4 251.9,2178.6 252.3,2171.3 252.8,2135.7 253.3,2135.4 253.8,2154.0 254.3,2147.9 254.7,2175.8 255.2,2167.7 255.7,2163.9 256.2,2180.0 256.7,2173.7 257.2,2180.8 257.6,2184.6 258.1,2172.2 258.6,2178.7 259.1,2178.6 259.6,2147.4 260.1,2150.3 260.5,2158.2 261.0,2156.0 261.5,2135.4 262.0,2141.6 262.5,2159.5 263.0,2161.3 263.4,2179.6 263.9,2157.2 264.4,2150.9 264.9,2150.0 265.4,2148.2 265.9,2146.5 266.3,2135.4 266.8,2199.5 267.3,2178.5 267.8,2185.3 268.3,2154.4 268.8,2158.9 269.2,2189.9 269.7,2169.2 270.2,2171.2 270.7,2164.5 271.2,2180.7 271.7,2184.3 272.1,2189.9 272.6,2182.1 273.1,2174.5 273.6,2147.7 274.1,2150.0 274.6,2146.4 275.0,2154.9 275.5,2141.8 276.0,2174.7 276.5,2151.5 277.0,2160.6 277.5,2140.7 277.9,2162.8 278.4,2189.7 278.9,2158.9 279.4,2166.9 279.9,2160.1 280.4,2165.4 280.8,2169.7 281.3,2158.8 281.8,2160.3 282.3,2153.3 282.8,2147.5 283.3,2136.8 283.7,2169.7 284.2,2153.2 284.7,2170.7 285.2,2178.9 285.7,2159.5 286.2,2184.6 286.6,2160.3 287.1,2179.3 287.6,2189.9 288.1,2166.5 288.6,2154.0 289.1,2148.6 289.5,2189.9 290.0,2167.8 290.5,2143.5 291.0,2172.4 291.5,2166.0 292.0,2163.2 292.4,2147.5 292.9,2135.5 293.4,2142.5 293.9,2141.7 294.4,2135.5 294.9,2143.6 295.3,2145.5 295.8,2175.9 296.3,2203.7 296.8,2184.7 297.3,2165.0 297.8,2148.4 298.2,2164.7 298.7,2174.2 299.2,2180.6 299.7,2169.2 300.2,2161.2 300.7,2165.1 301.1,2146.6 301.6,2143.5 302.1,2166.6 302.6,2145.5 303.1,2159.4 303.6,2176.3 304.0,2170.1 304.5,2173.5 305.0,2146.0 305.5,2154.0 306.0,2153.1 306.5,2167.1 306.9,2169.6 307.4,2161.8 307.9,2189.2 308.4,2176.2 308.9,2162.3 309.4,2155.0 309.8,2162.9 310.3,2155.5 310.8,2190.0 311.3,2185.2 311.8,2164.9 312.3,2154.9 312.7,2145.0 313.2,2152.1 313.7,2179.9 314.2,2179.8 314.7,2163.9 315.2,2162.8 315.6,2135.6 316.1,2159.0 316.6,2153.3 317.1,2173.3 317.6,2122.5 318.1,2148.9 318.5,2158.1 319.0,2150.3 319.5,2180.1 320.0,2170.3 320.5,2169.4 321.0,2170.5 321.4,2162.1 321.9,2169.9 322.4,2167.8 322.9,2189.4 323.4,2167.8 323.9,2166.9 324.3,2153.4 324.8,2149.0 325.3,2147.3 325.8,2127.1 326.3,2158.7 326.8,2170.4 327.2,2152.7 327.7,2150.3 328.2,2135.7 328.7,2161.7 329.2,2190.1 329.7,2167.3 330.1,2187.7 330.6,2185.8 331.1,2160.0 331.6,2175.7 332.1,2152.4 332.6,2155.6 333.0,2180.0 333.5,2170.0 334.0,2146.1 334.5,2179.8 335.0,2149.6 335.5,2153.9 335.9,2152.8 336.4,2156.8 336.9,2146.8 337.4,2135.7 337.9,2181.6 338.4,2154.1 338.8,2145.4 339.3,2135.7 339.8,2150.8 340.3,2182.4 340.8,2190.0 341.2,2190.1 341.7,2190.1 342.2,2171.9 342.7,2158.8 343.2,2177.6 343.7,2160.5 344.1,2160.9 344.6,2141.1 345.1,2154.3 345.6,2190.1 346.1,2171.9 346.6,2170.5 347.0,2121.7 347.5,2176.3 348.0,2173.4 348.5,2208.7 349.0,2178.5 349.5,2157.7 349.9,2139.5 350.4,2162.5 350.9,2161.6 351.4,2149.9 351.9,2162.7 352.4,2155.9 352.8,2177.0 353.3,2166.3 353.8,2148.1 354.3,2159.0 354.8,2151.8 355.3,2181.1 355.7,2159.4 356.2,2142.5 356.7,2158.9 357.2,2159.2 357.7,2169.9 358.2,2170.4 358.6,2146.8 359.1,2158.4 359.6,2162.1 360.1,2143.4 360.6,2151.0 361.1,2167.2 361.5,2144.1 362.0,2208.7 362.5,2208.3 363.0,2161.7 363.5,2171.9 364.0,2145.0 364.4,2165.2 364.9,2179.1 365.4,2190.2 365.9,2172.8 366.4,2154.5 366.9,2137.0 367.3,2163.3 367.8,2184.6 368.3,2157.8 368.8,2170.8 369.3,2177.4 369.8,2180.2 370.2,2159.9 370.7,2170.6 371.2,2163.9 371.7,2145.3 372.2,2157.7 372.7,2165.8 373.1,2146.6 373.6,2163.8 374.1,2189.9 374.6,2148.7 375.1,2170.0 375.6,2183.8 376.0,2169.7 376.5,2171.2 377.0,2221.0 377.5,2184.9 378.0,2154.0 378.5,2158.0 378.9,2135.3 379.4,2160.8 379.9,2169.1 380.4,2143.4 380.9,2145.0 381.4,2164.9 381.8,2124.7 382.3,2138.6 382.8,2135.2 383.3,2152.9 383.8,2189.5 384.3,2163.0 384.7,2170.2 385.2,2171.7 385.7,2165.2 386.2,2163.6 386.7,2165.5 387.2,2147.7 387.6,2189.4 388.1,2189.3 388.6,2186.5 389.1,2189.3 389.6,2156.0 390.1,2152.1 390.5,2173.6 391.0,2144.3 391.5,2134.8 392.0,2156.7 392.5,2134.8 393.0,2177.2 393.4,2177.2 393.9,2171.8 394.4,2177.7 394.9,2150.2 395.4,2145.9 395.9,2171.3 396.3,2180.4 396.8,2173.6 397.3,2161.4 397.8,2154.5 398.3,2183.7 398.8,2150.2 399.2,2150.1 399.7,2157.1 400.2,2144.6 400.7,2140.6 401.2,2144.1 401.7,2196.0 402.1,2188.8 402.6,2177.4 403.1,2138.5 403.6,2144.0 404.1,2152.3 404.6,2154.3 405.0,2156.2 405.5,2168.3 406.0,2134.2 406.5,2148.8 407.0,2166.8 407.5,2175.6 407.9,2171.8 408.4,2164.0 408.9,2157.7 409.4,2146.7 409.9,2154.9 410.4,2152.4 410.8,2144.5 411.3,2172.7 411.8,2184.5 412.3,2165.2 412.8,2172.4 413.3,2187.3 413.7,2175.4 414.2,2166.6 414.7,2168.5 415.2,2136.3 415.7,2133.8 416.2,2159.6 416.6,2160.9 417.1,2179.4 417.6,2159.9 418.1,2173.8 418.6,2175.8 419.1,2188.1 419.5,2154.0 420.0,2148.7 420.5,2157.8 421.0,2160.3 421.5,2140.4 422.0,2142.8 422.4,2133.5 422.9,2187.1 423.4,2167.2 423.9,2160.2 424.4,2149.9 424.9,2154.6 425.3,2124.1 425.8,2153.2 426.3,2155.3 426.8,2125.0 427.3,2181.2 427.8,2168.2 428.2,2153.8 428.7,2155.6 429.2,2144.7 429.7,2159.2 430.2,2145.9 430.6,2143.4 431.1,2146.6 431.6,2140.3 432.1,2155.0 432.6,2187.5 433.1,2161.7 433.5,2136.1 434.0,2171.8 434.5,2167.9 435.0,2187.4 435.5,2179.0 436.0,2185.5 436.4,2159.6 436.9,2138.6 437.4,2154.0 437.9,2173.9 438.4,2156.1 438.9,2133.5 439.3,2141.3 439.8,2145.7 440.3,2146.9 440.8,2153.9 441.3,2187.1 441.8,2169.3 442.2,2155.8 442.7,2141.7 443.2,2170.2 443.7,2141.3 444.2,2180.0 444.7,2169.6 445.1,2141.9 445.6,2162.9 446.1,2163.8 446.6,2186.5 447.1,2147.1 447.6,2161.6 448.0,2163.6 448.5,2178.9 449.0,2152.7 449.5,2148.4 450.0,2186.8 450.5,2181.1 450.9,2149.8 451.4,2168.7 451.9,2154.2 452.4,2148.4 452.9,2138.4 453.4,2170.6 453.8,2152.8 454.3,2158.4 454.8,2157.1 455.3,2132.3 455.8,2138.7 456.3,2163.0 456.7,2132.9 457.2,2155.4 457.7,2160.0 458.2,2172.2 458.7,2174.7 459.2,2177.0 459.6,2167.0 460.1,2163.9 460.6,2145.2 461.1,2145.1 461.6,2164.3 462.1,2145.9 462.5,2170.6 463.0,2175.0 463.5,2152.1 464.0,2165.1 464.5,2145.6 465.0,2200.9 465.4,2145.2 465.9,2160.3 466.4,2159.0 466.9,2141.5 467.4,2185.4 467.9,2184.0 468.3,2143.7 468.8,2159.9 469.3,2156.6 469.8,2113.7 470.3,2175.8 470.8,2177.3 471.2,2168.7 471.7,2177.2 472.2,2157.7 472.7,2143.8 473.2,2147.2 473.7,2144.9 474.1,2162.2 474.6,2161.4 475.1,2151.7 475.6,2153.9 476.1,2141.6 476.6,2157.1 477.0,2132.3 477.5,2144.7 478.0,2177.1 478.5,2160.3 479.0,2148.4 479.5,2154.2 479.9,2143.9 480.4,2145.4 480.9,2169.3 481.4,2154.5 481.9,2186.9 482.4,2177.5 482.8,2162.0 483.3,2147.8 483.8,2153.6 484.3,2132.6 484.8,2158.7 485.3,2180.8 485.7,2179.5 486.2,2158.6 486.7,2170.5 487.2,2173.2 487.7,2159.6 488.2,2165.0 488.6,2175.3 489.1,2170.7 489.6,2156.7 490.1,2156.6 490.6,2158.9 491.1,2132.9 491.5,2150.4 492.0,2152.7 492.5,2133.0 493.0,2121.2 493.5,2171.3 494.0,2161.0 494.4,2124.1 494.9,2158.9 495.4,2183.1 495.9,2173.5 496.4,2149.1 496.9,2154.2 497.3,2177.6 497.8,2187.6 498.3,2173.0 498.8,2152.9 499.3,2141.0 499.8,2162.4 500.2,2174.3 500.7,2166.2 501.2,2159.6 501.7,2170.8 502.2,2169.2 502.7,2168.7 503.1,2135.2 503.6,2147.7 504.1,2184.2 504.6,2162.5 505.1,2187.9 505.6,2174.6 506.0,2158.1 506.5,2162.1 507.0,2171.0 507.5,2151.8 508.0,2163.9 508.5,2153.9 508.9,2181.1 509.4,2156.8 509.9,2159.9 510.4,2140.3 510.9,2133.7 511.4,2151.8 511.8,2143.4 512.3,2151.5 512.8,2160.5 513.3,2167.4 513.8,2123.7 514.3,2148.4 514.7,2164.6 515.2,2149.3 515.7,2133.9 516.2,2140.1 516.7,2180.2 517.1,2164.9 517.6,2125.1 518.1,2161.2 518.6,2180.5 519.1,2140.5 519.6,2149.2 520.0,2157.3 520.5,2187.4 521.0,2172.3 521.5,2177.8 522.0,2153.4 522.5,2149.3 522.9,2175.2 523.4,2188.1 523.9,2188.7 524.4,2188.7 524.9,2159.0 525.4,2188.7 525.8,2173.7 526.3,2185.2 526.8,2179.0 527.3,2136.0 527.8,2134.4 528.3,2134.5 528.7,2147.2 529.2,2172.5 529.7,2159.0 530.2,2173.6 530.7,2145.8 531.2,2144.3 531.6,2144.7 532.1,2157.1 532.6,2139.9 533.1,2153.9 533.6,2170.9 534.1,2159.0 534.5,2151.4 535.0,2154.7 535.5,2144.2 536.0,2141.9 536.5,2173.3 537.0,2175.5 537.4,2151.0 537.9,2158.9 538.4,2174.0 538.9,2182.6 539.4,2185.4 539.9,2189.3 540.3,2177.9 540.8,2170.7 541.3,2164.6 541.8,2182.9 542.3,2186.5 542.8,2189.5 543.2,2186.4 543.7,2154.7 544.2,2135.1 544.7,2135.1 545.2,2137.7 545.7,2162.7 546.1,2139.2 546.6,2135.2 547.1,2146.9 547.6,2172.6 548.1,2176.8 548.6,2189.7 549.0,2169.1 549.5,2155.2 550.0,2156.1 550.5,2137.0 551.0,2143.1 551.5,2175.0 551.9,2189.8 552.4,2189.9 552.9,2176.8 553.4,2162.0 553.9,2166.1 554.4,2137.3 554.8,2161.8 555.3,2172.4 555.8,2164.1 556.3,2164.5 556.8,2135.6 557.3,2165.2 557.7,2173.7 558.2,2135.7 558.7,2137.5 559.2,2158.9 559.7,2186.7 560.2,2150.7 560.6,2152.2 561.1,2175.6 561.6,2170.5 562.1,2155.8 562.6,2147.1 563.1,2150.4 563.5,2147.1 564.0,2176.5 564.5,2152.9 565.0,2170.1 565.5,2176.3 566.0,2183.1 566.4,2173.2 566.9,2165.9 567.4,2166.6 567.9,2163.5 568.4,2177.0 568.9,2161.7 569.3,2189.3 569.8,2190.6 570.3,2160.3 570.8,2163.5 571.3,2140.0 571.8,2160.5 572.2,2163.2 572.7,2153.6 573.2,2140.8 573.7,2153.5 574.2,2187.7 574.7,2190.1 575.1,2175.5 575.6,2156.4 576.1,2121.9 576.6,2150.8 577.1,2136.5 577.6,2140.2 578.0,2164.3 578.5,2167.0 579.0,2167.4 579.5,2149.0 580.0,2136.6 580.5,2171.3 580.9,2159.2 581.4,2181.6 581.9,2156.9 582.4,2178.1 582.9,2170.1 583.4,2155.4 583.8,2148.9 584.3,2186.7 584.8,2181.1 585.3,2160.7 585.8,2166.7 586.3,2140.7 586.7,2188.9 587.2,2191.3 587.7,2165.5 588.2,2169.9 588.7,2137.0 589.2,2163.6 589.6,2173.3 590.1,2168.3 590.6,2179.9 591.1,2171.3 591.6,2147.2 592.1,2146.1 592.5,2154.6 593.0,2173.9 593.5,2165.5 594.0,2223.0 594.5,2165.4 595.0,2147.9 595.4,2191.7 595.9,2181.6 596.4,2152.2 596.9,2168.8 597.4,2187.1 597.9,2181.8 598.3,2191.8 598.8,2147.6 599.3,2179.8 599.8,2160.3 600.3,2167.5 600.8,2187.7 601.2,2146.2 601.7,2137.5 602.2,2145.3 602.7,2137.6 603.2,2137.6 603.7,2151.7 604.1,2178.6 604.6,2159.8 605.1,2167.6 605.6,2192.1 606.1,2187.9 606.5,2166.6 607.0,2160.0 607.5,2164.7 608.0,2159.0 608.5,2171.9 609.0,2165.5 609.4,2177.6 609.9,2170.4 610.4,2166.5 610.9,2150.7 611.4,2137.4 611.9,2149.5 612.3,2151.5 612.8,2161.6 613.3,2156.3 613.8,2151.7 614.3,2191.4 614.8,2175.0 615.2,2186.9 615.7,2155.0 616.2,2177.3 616.7,2186.3 617.2,2174.3 617.7,2149.5 618.1,2179.7 618.6,2158.8 619.1,2137.8 619.6,2203.1 620.1,2155.4 620.6,2154.8 621.0,2174.3 621.5,2181.0 622.0,2190.3 622.5,2181.3 623.0,2174.2 623.5,2172.1 623.9,2155.9 624.4,2152.1 624.9,2153.5 625.4,2169.1 625.9,2156.6 626.4,2164.0 626.8,2189.3 627.3,2135.1 627.8,2197.5 628.3,2145.8 628.8,2158.4 629.3,2137.5 629.7,2141.2 630.2,2189.1 630.7,2150.1 631.2,2158.8 631.7,2170.0 632.2,2161.8 632.6,2143.5 633.1,2173.0 633.6,2138.2 634.1,2143.0 634.6,2153.4 635.1,2151.5 635.5,2181.7 636.0,2162.6 636.5,2188.2 637.0,2175.0 637.5,2188.0 638.0,2181.7 638.4,2165.6 638.9,2156.2 639.4,2171.5 639.9,2150.2 640.4,2153.3 640.9,2144.0 641.3,2133.1 641.8,2156.7 642.3,2171.4 642.8,2141.4 643.3,2161.1 643.8,2155.8 644.2,2132.6 644.7,2141.5 645.2,2170.4 645.7,2182.8 646.2,2177.4 646.7,2186.7 647.1,2184.5 647.6,2157.9 648.1,2138.0 648.6,2180.0 649.1,2159.9 649.6,2156.7 650.0,2203.1 650.5,2146.7 651.0,2151.6 651.5,2162.9 652.0,2164.3 652.5,2164.2 652.9,2174.5 653.4,2152.6 653.9,2133.9 654.4,2146.2 654.9,2131.1 655.4,2157.7 655.8,2164.8 656.3,2169.6 656.8,2146.6 657.3,2148.7 657.8,2160.3 658.3,2142.6 658.7,2137.1 659.2,2149.4 659.7,2158.2 660.2,2148.6 660.7,2171.8 661.2,2185.2 661.6,2180.7 662.1,2163.0 662.6,2154.6 663.1,2179.6 663.6,2167.0 664.1,2167.0 664.5,2157.8 665.0,2145.4 665.5,2176.5 666.0,2153.3 666.5,2155.4 667.0,2130.7 667.4,2175.7 667.9,2171.2 668.4,2157.6 668.9,2142.8 669.4,2142.9 669.9,2130.7 670.3,2151.0 670.8,2138.1 671.3,2155.0 671.8,2164.7 672.3,2185.1 672.8,2170.6 673.2,2166.0 673.7,2166.5 674.2,2150.5 674.7,2149.3 675.2,2159.5 675.7,2178.3 676.1,2176.5 676.6,2160.2 677.1,2176.4 677.6,2157.5 678.1,2135.0 678.6,2178.5 679.0,2165.0 679.5,2152.7 680.0,2133.9 680.5,2142.2 681.0,2179.0 681.5,2162.0 681.9,2185.1 682.4,2168.6 682.9,2178.5 683.4,2164.5 683.9,2149.9 684.4,2144.5 684.8,2144.7 685.3,2130.7 685.8,2130.7 686.3,2153.2 686.8,2174.8 687.3,2160.7 687.7,2153.9 688.2,2135.0 688.7,2165.1 689.2,2173.3 689.7,2143.8 690.2,2153.2 690.6,2149.4 691.1,2133.5 691.6,2174.7 692.1,2182.6 692.6,2173.8 693.0,2185.0 693.5,2162.6 694.0,2116.4 694.5,2180.0 695.0,2159.4 695.5,2163.9 695.9,2142.5 696.4,2160.3 696.9,2172.0 697.4,2147.0 697.9,2138.0 698.4,2146.9 698.8,2171.8 699.3,2152.8 699.8,2137.4 700.3,2143.5 700.8,2167.5 701.3,2130.6 701.7,2142.5 702.2,2173.2 702.7,2160.4 703.2,2148.3 703.7,2163.5 704.2,2136.0 704.6,2183.8 705.1,2175.2 705.6,2159.8 706.1,2160.9 706.6,2159.0 707.1,2155.0 707.5,2137.7 708.0,2147.6 708.5,2130.5 709.0,2171.0 709.5,2146.8 710.0,2140.9 710.4,2142.2 710.9,2167.1 711.4,2160.6 711.9,2183.3 712.4,2194.6 712.9,2165.1 713.3,2161.4 713.8,2154.2 714.3,2174.5 714.8,2181.6 715.3,2184.9 715.8,2147.0 716.2,2162.8 716.7,2142.9 717.2,2135.8 717.7,2130.5 718.2,2133.2 718.7,2162.4 719.1,2178.5 719.6,2184.9 720.1,2152.2 720.6,2144.0 721.1,2151.6 721.6,2154.0 722.0,2155.8 722.5,2130.5 723.0,2145.9 723.5,2164.4 724.0,2164.2 724.5,2158.9 724.9,2148.2 725.4,2157.3 725.9,2184.8 726.4,2176.6 726.9,2183.4 727.4,2184.8 727.8,2152.9 728.3,2166.0 728.8,2165.3 729.3,2178.8 729.8,2157.0 730.3,2148.5 730.7,2141.0 731.2,2154.0 731.7,2153.4 732.2,2157.9 732.7,2164.2 733.2,2159.3 733.6,2146.7 734.1,2151.9 734.6,2153.9 735.1,2163.9 735.6,2181.8 736.1,2162.6 736.5,2130.4 737.0,2163.5 737.5,2164.9 738.0,2145.5 738.5,2153.6 739.0,2184.8 739.4,2141.8 739.9,2136.0 740.4,2150.2 740.9,2122.6 741.4,2135.1 741.9,2167.1 742.3,2169.0 742.8,2164.7 743.3,2152.7 743.8,2150.5 744.3,2184.7 744.8,2170.6 745.2,2180.8 745.7,2142.2 746.2,2154.5 746.7,2162.2 747.2,2160.1 747.7,2130.3 748.1,2145.3 748.6,2181.9 749.1,2175.2 749.6,2154.6 750.1,2173.6 750.6,2136.8 751.0,2162.0 751.5,2165.4 752.0,2149.1 752.5,2136.3 753.0,2130.3 753.5,2140.7 753.9,2176.7 754.4,2177.3 754.9,2173.1 755.4,2179.3 755.9,2152.5 756.4,2164.8 756.8,2130.3 757.3,2139.6 757.8,2144.7 758.3,2193.6 758.8,2152.6 759.3,2171.6 759.7,2156.8 760.2,2175.5 760.7,2160.7 761.2,2175.0 761.7,2163.8 762.2,2172.2 762.6,2167.8 763.1,2149.0 763.6,2157.1 764.1,2136.7 764.6,2150.3 765.1,2156.6 765.5,2150.8 766.0,2145.7 766.5,2162.2 767.0,2176.0 767.5,2181.0 768.0,2155.2 768.4,2147.8 768.9,2165.6 769.4,2174.8 769.9,2137.0 770.4,2184.6 770.9,2183.6 771.3,2146.9 771.8,2170.6 772.3,2151.7 772.8,2154.3 773.3,2138.6 773.8,2139.9 774.2,2148.5 774.7,2155.9 775.2,2138.9 775.7,2192.3 776.2,2145.4 776.7,2146.0 777.1,2143.3 777.6,2145.3 778.1,2183.0 778.6,2141.4 779.1,2138.0 779.6,2157.8 780.0,2157.5 780.5,2149.8 781.0,2166.4 781.5,2150.4 782.0,2162.9 782.4,2177.7 782.9,2175.8 783.4,2159.5 783.9,2160.4 784.4,2161.8 784.9,2169.1 785.3,2148.7 785.8,2196.1 786.3,2170.5 786.8,2184.5 787.3,2175.5 787.8,2177.4 788.2,2130.1 788.7,2131.1 789.2,2175.6 789.7,2168.8 790.2,2217.0 790.7,2164.5 791.1,2156.6 791.6,2159.4 792.1,2142.4 792.6,2155.9 793.1,2175.4 793.6,2163.1 794.0,2162.6 794.5,2139.8 795.0,2157.8 795.5,2149.9 796.0,2130.4 796.5,2142.3 796.9,2146.1 797.4,2162.4 797.9,2173.6 798.4,2156.1 798.9,2149.7 799.4,2164.5 799.8,2144.9 800.3,2145.4 800.8,2149.9 801.3,2150.9 801.8,2147.4 802.3,2182.3 802.7,2183.2 803.2,2163.9 803.7,2143.1 804.2,2150.5 804.7,2168.5 805.2,2132.0 805.6,2184.4 806.1,2169.6 806.6,2158.3 807.1,2168.8 807.6,2136.8 808.1,2150.8 808.5,2155.8 809.0,2169.2 809.5,2145.4 810.0,2165.0 810.5,2217.0 811.0,2171.7 811.4,2152.3 811.9,2142.2 812.4,2130.0 812.9,2141.9 813.4,2163.0 813.9,2181.5 814.3,2177.9 814.8,2184.4 815.3,2123.0 815.8,2150.2 816.3,2130.0 816.8,2138.0 817.2,2131.1 817.7,2143.6 818.2,2163.5 818.7,2158.2 819.2,2151.0 819.7,2166.8 820.1,2181.8 820.6,2181.7 821.1,2136.2 821.6,2173.1 822.1,2193.4 822.6,2130.6 823.0,2141.7 823.5,2165.6 824.0,2129.9 824.5,2171.8 825.0,2168.3 825.5,2176.3 825.9,2148.2 826.4,2153.7 826.9,2139.8 827.4,2173.8 827.9,2149.7 828.4,2161.1 828.8,2147.3 829.3,2129.9 829.8,2158.2 830.3,2173.3 830.8,2180.4 831.3,2151.9 831.7,2153.7 832.2,2164.9 832.7,2163.4 833.2,2162.2 833.7,2184.3 834.2,2159.0 834.6,2165.8 835.1,2146.8 835.6,2172.4 836.1,2153.3 836.6,2137.4 837.1,2160.7 837.5,2161.4 838.0,2154.9 838.5,2154.7 839.0,2147.5 839.5,2161.8 840.0,2166.7 840.4,2184.3 840.9,2158.2 841.4,2179.4 841.9,2173.0 842.4,2138.1 842.9,2175.5 843.3,2135.5 843.8,2159.7 844.3,2129.8 844.8,2145.4 845.3,2141.9 845.8,2145.8 846.2,2129.8 846.7,2129.8 847.2,2161.1 847.7,2164.5 848.2,2152.4 848.7,2150.8 849.1,2139.4 849.6,2170.9 850.1,2161.1 850.6,2176.0 851.1,2138.7 851.6,2129.6 852.0,2171.0 852.5,2145.6 853.0,2147.2 853.5,2161.9 854.0,2172.0 854.5,2170.0 854.9,2167.5 855.4,2183.1 855.9,2169.3 856.4,2173.9 856.9,2160.6 857.4,2157.7 857.8,2182.6 858.3,2160.8 858.8,2128.5 859.3,2142.9 859.8,2156.3 860.3,2182.0 860.7,2160.6 861.2,2137.9 861.7,2149.5 862.2,2178.9 862.7,2154.5 863.2,2169.0 863.6,2163.8 864.1,2164.0 864.6,2142.4 865.1,2151.4 865.6,2141.8 866.1,2146.4 866.5,2139.1 867.0,2167.0 867.5,2148.1 868.0,2149.5 868.5,2127.1 868.9,2129.5 869.4,2180.1 869.9,2157.3 870.4,2127.4 870.9,2144.8 871.4,2147.4 871.8,2144.2 872.3,2147.6 872.8,2148.5 873.3,2171.0 873.8,2144.0 874.3,2159.9 874.7,2170.4 875.2,2146.5 875.7,2178.7 876.2,2160.5 876.7,2153.2 877.2,2143.5 877.6,2163.7 878.1,2132.6 878.6,2149.4 879.1,2178.0 879.6,2161.4 880.1,2162.5 880.5,2138.7 881.0,2155.0 881.5,2138.9 882.0,2138.1 882.5,2144.0 883.0,2100.0 883.4,2148.5 883.9,2124.8 884.4,2139.5 884.9,2157.5 885.4,2157.6 885.9,2155.7 886.3,2170.0 886.8,2166.2 887.3,2165.3 887.8,2144.2 888.3,2126.0 888.8,2166.3 889.2,2141.7 889.7,2167.4 890.2,2173.8 890.7,2140.0 891.2,2141.6 891.7,2156.0 892.1,2166.6 892.6,2143.8 893.1,2148.6 893.6,2137.0 894.1,2129.5 894.6,2149.7 895.0,2146.6 895.5,2124.1 896.0,2151.5 896.5,2147.5 897.0,2148.4 897.5,2130.8 897.9,2154.9 898.4,2153.2 898.9,2153.2 899.4,2186.5 899.9,2152.6 900.4,2172.8 900.8,2157.7 901.3,2155.7 901.8,2144.8 902.3,2157.5 902.8,2148.2 903.3,2137.6 903.7,2163.6 904.2,2151.9 904.7,2141.5 905.2,2141.7 905.7,2144.3 906.2,2136.2 906.6,2173.5 907.1,2169.1 907.6,2134.9 908.1,2166.2 908.6,2153.8 909.1,2152.6 909.5,2146.6 910.0,2153.0 910.5,2154.3 911.0,2162.6 911.5,2165.9 912.0,2124.1 912.4,2129.7 912.9,2144.4 913.4,2144.3 913.9,2125.9 914.4,2141.1 914.9,2146.8 915.3,2124.1 915.8,2133.2 916.3,2159.3 916.8,2141.9 917.3,2147.9 917.8,2150.4 918.2,2162.7 918.7,2171.3 919.2,2171.6 919.7,2164.2 920.2,2159.2 920.7,2154.3 921.1,2158.5 921.6,2154.7 922.1,2166.0 922.6,2170.2 923.1,2139.3 923.6,2124.1 924.0,2148.7 924.5,2143.6 925.0,2125.2 925.5,2156.0 926.0,2173.0 926.5,2140.3 926.9,2131.0 927.4,2129.9 927.9,2132.0 928.4,2141.6 928.9,2132.8 929.4,2146.0 929.8,2142.7 930.3,2164.8 930.8,2157.6 931.3,2167.3 931.8,2175.9 932.3,2164.2 932.7,2163.6 933.2,2145.2 933.7,2151.4 934.2,2175.9 934.7,2175.9 935.2,2157.5 935.6,2145.8 936.1,2145.9 936.6,2164.5 937.1,2124.1 937.6,2141.5 938.1,2125.7 938.5,2156.7 939.0,2127.3 939.5,2115.9 940.0,2142.2 940.5,2147.1 941.0,2174.8 941.4,2157.8 941.9,2163.4 942.4,2157.4 942.9,2134.0 943.4,2143.3 943.9,2161.1 944.3,2155.7 944.8,2153.5 945.3,2139.7 945.8,2167.7 946.3,2142.3 946.8,2217.0 947.2,2156.5 947.7,2158.6 948.2,2127.1 948.7,2140.8 949.2,2126.8 949.7,2138.7 950.1,2160.9 950.6,2154.0 951.1,2152.4 951.6,2164.9 952.1,2137.6 952.6,2146.8 953.0,2138.1 953.5,2186.7 954.0,2142.1 954.5,2173.2 955.0,2178.0 955.5,2128.3 955.9,2139.0 956.4,2126.6 956.9,2164.4 957.4,2146.4 957.9,2164.1 958.3,2163.8 958.8,2141.4 959.3,2127.3 959.8,2159.8 960.3,2150.9 960.8,2161.3 961.2,2179.7 961.7,2162.8 962.2,2152.7 962.7,2137.7 963.2,2158.6 963.7,2142.0 964.1,2128.6 964.6,2135.6 965.1,2140.0 965.6,2128.9 966.1,2144.6 966.6,2164.6 967.0,2165.8 967.5,2181.3 968.0,2181.4 968.5,2166.4 969.0,2129.8 969.5,2145.7 969.9,2169.8 970.4,2152.2 970.9,2175.1 971.4,2145.7 971.9,2154.2 972.4,2167.1 972.8,2182.7 973.3,2161.2 973.8,2182.9 974.3,2158.8 974.8,2192.6 975.3,2149.2 975.7,2175.9 976.2,2157.0 976.7,2182.5 977.2,2164.0 977.7,2183.9 978.2,2135.8 978.6,2184.2 979.1,2132.7 979.6,2148.1 980.1,2134.3 980.6,2158.3 981.1,2155.7 981.5,2152.4 982.0,2166.7 982.5,2175.2 983.0,2159.4 983.5,2180.7 984.0,2141.4 984.4,2218.0 984.9,2134.4 985.4,2161.9 985.9,2176.6 986.4,2163.4 986.9,2156.9 987.3,2141.5 987.8,2170.1 988.3,2181.3 988.8,2158.2 989.3,2156.9 989.8,2154.7 990.2,2160.1 990.7,2168.8 991.2,2134.2 991.7,2147.0 992.2,2171.9 992.7,2149.9 993.1,2179.1 993.6,2186.1 994.1,2152.2 994.6,2143.4 995.1,2173.6 995.6,2134.3 996.0,2134.3 996.5,2134.3 997.0,2143.6 997.5,2157.9 998.0,2168.8 998.5,2169.3 998.9,2141.8 999.4,2173.8 999.9,2167.1 1000.4,2159.3 1000.9,2186.2 1001.4,2177.4 1001.8,2178.0 1002.3,2184.3 1002.8,2186.2 1003.3,2175.1 1003.8,2175.9 1004.3,2134.4 1004.7,2136.7 1005.2,2186.3 1005.7,2186.3 1006.2,2171.7 1006.7,2151.9 1007.2,2134.5 1007.6,2134.5 1008.1,2139.1 1008.6,2134.5 1009.1,2145.9 1009.6,2149.8 1010.1,2140.0 1010.5,2134.5 1011.0,2134.7 1011.5,2145.8 1012.0,2149.4 1012.5,2164.9 1013.0,2134.6 1013.4,2149.3 1013.9,2156.8 1014.4,2166.9 1014.9,2199.7 1015.4,2160.4 1015.9,2186.4 1016.3,2186.5 1016.8,2185.5 1017.3,2186.5 1017.8,2186.5 1018.3,2179.4 1018.8,2166.9 1019.2,2169.2 1019.7,2186.5 1020.2,2167.1 1020.7,2145.2 1021.2,2142.1 1021.7,2156.8 1022.1,2141.2 1022.6,2162.1 1023.1,2165.6 1023.6,2162.0 1024.1,2181.8 1024.6,2142.9 1025.0,2142.1 1025.5,2150.0 1026.0,2161.2 1026.5,2138.8 1027.0,2144.4 1027.5,2171.6 1027.9,2157.6 1028.4,2172.7 1028.9,2159.5 1029.4,2147.8 1029.9,2170.2 1030.4,2186.7 1030.8,2169.5 1031.3,2144.5 1031.8,2144.9 1032.3,2149.8 1032.8,2154.6 1033.3,2147.0 1033.7,2167.1 1034.2,2148.8 1034.7,2174.3 1035.2,2150.8 1035.7,2147.2 1036.2,2178.2 1036.6,2175.7 1037.1,2162.1 1037.6,2156.0 1038.1,2161.1 1038.6,2165.6 1039.1,2174.4 1039.5,2186.9 1040.0,2161.6 1040.5,2172.1 1041.0,2169.9 1041.5,2150.1 1042.0,2184.1 1042.4,2186.9 1042.9,2179.3 1043.4,2149.3" fill="none" stroke="#b15928" stroke-width="2.4" stroke-linejoin="miter" stroke-miterlimit="3"/>
<line x1="75.0" y1="2228.8" x2="1043.4" y2="2228.8" stroke="#8c8c8c" stroke-width="1.8"/>
<line x1="77.0" y1="2226.9" x2="1042.4" y2="2226.9" stroke="#dedede" stroke-width="1.6"/>
<line x1="76.0" y1="2095.75" x2="76.0" y2="2235.25" stroke="#a9a9a9" stroke-width="2"/>
<line x1="75.0" y1="2095.75" x2="1044.4" y2="2095.75" stroke="#575757" stroke-width="2"/>
<line x1="1043.4" y1="2095.75" x2="1043.4" y2="2235.25" stroke="#575757" stroke-width="2"/>
<line x1="1060.0" y1="2228.8" x2="1266.0" y2="2228.8" stroke="#8c8c8c" stroke-width="1.8"/>
<line x1="1061.0" y1="2226.9" x2="1264.0" y2="2226.9" stroke="#e2e2e2" stroke-width="1.6"/>
<line x1="1265.0" y1="2095.75" x2="1265.0" y2="2228.25" stroke="#a5a5a5" stroke-width="2"/>
<line x1="1263.4" y1="2096.75" x2="1263.4" y2="2227.25" stroke="#e4e4e4" stroke-width="1.2"/>
<line x1="1059.0" y1="2095.75" x2="1266.0" y2="2095.75" stroke="#575757" stroke-width="2"/>
<line x1="1060.0" y1="2095.75" x2="1060.0" y2="2228.25" stroke="#454545" stroke-width="2"/>
<rect x="1061.0" y="2116.0" width="23.4" height="7.6" fill="#a04a1f"/>
<rect x="1061.0" y="2128.4" width="77.4" height="7.6" fill="#a04a1f"/>
<rect x="1061.0" y="2140.0" width="130.0" height="7.6" fill="#a04a1f"/>
<rect x="1061.0" y="2151.6" width="194.0" height="8.0" fill="#a04a1f"/>
<rect x="1061.0" y="2164.4" width="139.0" height="7.6" fill="#a04a1f"/>
<rect x="1061.0" y="2176.4" width="106.0" height="8.0" fill="#a04a1f"/>
<rect x="1061.0" y="2188.0" width="55.4" height="8.0" fill="#a04a1f"/>
<rect x="1061.0" y="2200.0" width="14.0" height="8.0" fill="#a04a1f"/>
<rect x="1061.0" y="2212.4" width="9.4" height="7.6" fill="#a04a1f"/>
<line x1="68" y1="2102.3" x2="75.0" y2="2102.3" stroke="#5e5e5e" stroke-width="2"/>
<line x1="1051" y1="2102.3" x2="1059.0" y2="2102.3" stroke="#5e5e5e" stroke-width="2"/>
<text x="58.6" y="2109.1" font-family='"Liberation Sans", sans-serif' font-size="19.8" fill="#6c6c6c" text-anchor="end" font-weight="normal" textLength="35.2" lengthAdjust="spacingAndGlyphs">126</text>
<line x1="68" y1="2139.8" x2="75.0" y2="2139.8" stroke="#5e5e5e" stroke-width="2"/>
<line x1="1051" y1="2139.8" x2="1059.0" y2="2139.8" stroke="#5e5e5e" stroke-width="2"/>
<text x="58.6" y="2146.6" font-family='"Liberation Sans", sans-serif' font-size="19.8" fill="#6c6c6c" text-anchor="end" font-weight="normal" textLength="35.2" lengthAdjust="spacingAndGlyphs">120</text>
<line x1="68" y1="2176.5" x2="75.0" y2="2176.5" stroke="#5e5e5e" stroke-width="2"/>
<line x1="1051" y1="2176.5" x2="1059.0" y2="2176.5" stroke="#5e5e5e" stroke-width="2"/>
<text x="58.6" y="2183.3" font-family='"Liberation Sans", sans-serif' font-size="19.8" fill="#6c6c6c" text-anchor="end" font-weight="normal" textLength="35.2" lengthAdjust="spacingAndGlyphs">114</text>
<line x1="68" y1="2213.1" x2="75.0" y2="2213.1" stroke="#5e5e5e" stroke-width="2"/>
<line x1="1051" y1="2213.1" x2="1059.0" y2="2213.1" stroke="#5e5e5e" stroke-width="2"/>
<text x="58.6" y="2219.9" font-family='"Liberation Sans", sans-serif' font-size="19.8" fill="#6c6c6c" text-anchor="end" font-weight="normal" textLength="35.2" lengthAdjust="spacingAndGlyphs">108</text>
<line x1="75.8" y1="2228.25" x2="75.8" y2="2235.25" stroke="#7a7a7a" stroke-width="2"/>
<line x1="269.3" y1="2228.25" x2="269.3" y2="2235.25" stroke="#7a7a7a" stroke-width="2"/>
<line x1="462.8" y1="2228.25" x2="462.8" y2="2235.25" stroke="#7a7a7a" stroke-width="2"/>
<line x1="656.4" y1="2228.25" x2="656.4" y2="2235.25" stroke="#7a7a7a" stroke-width="2"/>
<line x1="849.9" y1="2228.25" x2="849.9" y2="2235.25" stroke="#7a7a7a" stroke-width="2"/>
<line x1="1043.4" y1="2228.25" x2="1043.4" y2="2235.25" stroke="#7a7a7a" stroke-width="2"/>
<text transform="translate(24.3,2162.5) rotate(-90)" x="0" y="0" font-family='"Liberation Sans", sans-serif' font-size="19.5" fill="#6c6c6c" text-anchor="middle" textLength="80.3" lengthAdjust="spacingAndGlyphs">PSA (Å²)</text>
<text x="75.8" y="2260.2" font-family='"Liberation Sans", sans-serif' font-size="19.8" fill="#6c6c6c" text-anchor="middle" font-weight="normal">0</text>
<text x="269.3" y="2260.2" font-family='"Liberation Sans", sans-serif' font-size="19.8" fill="#6c6c6c" text-anchor="middle" font-weight="normal" textLength="22.6" lengthAdjust="spacingAndGlyphs">20</text>
<text x="462.8" y="2260.2" font-family='"Liberation Sans", sans-serif' font-size="19.8" fill="#6c6c6c" text-anchor="middle" font-weight="normal" textLength="22.6" lengthAdjust="spacingAndGlyphs">40</text>
<text x="656.4" y="2260.2" font-family='"Liberation Sans", sans-serif' font-size="19.8" fill="#6c6c6c" text-anchor="middle" font-weight="normal" textLength="22.6" lengthAdjust="spacingAndGlyphs">60</text>
<text x="849.9" y="2260.2" font-family='"Liberation Sans", sans-serif' font-size="19.8" fill="#6c6c6c" text-anchor="middle" font-weight="normal" textLength="22.6" lengthAdjust="spacingAndGlyphs">80</text>
<text x="1043.4" y="2260.2" font-family='"Liberation Sans", sans-serif' font-size="19.8" fill="#6c6c6c" text-anchor="middle" font-weight="normal" textLength="35.8" lengthAdjust="spacingAndGlyphs">100</text>
<text x="559.0" y="2295.2" font-family='"Liberation Sans", sans-serif' font-size="29" fill="#6c6c6c" text-anchor="middle" font-weight="normal" textLength="164" lengthAdjust="spacingAndGlyphs">Time (nsec)</text>
<text x="649.0" y="2364.0" font-family='"Liberation Serif", serif' font-size="41" fill="#000" text-anchor="middle" font-weight="bold">B</text>
</svg>
</body></html>
